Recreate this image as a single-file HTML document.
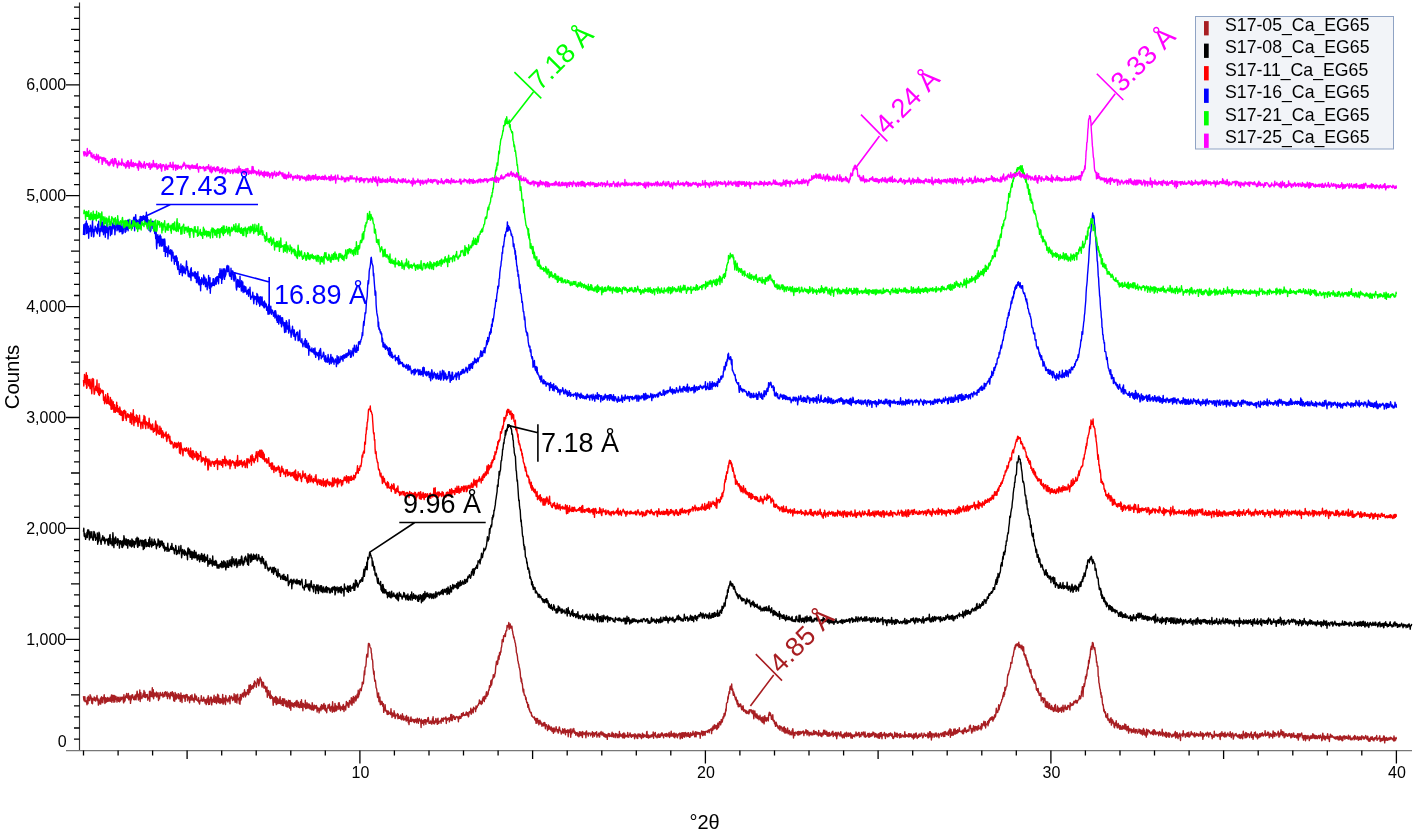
<!DOCTYPE html><html><head><meta charset="utf-8"><style>html,body{margin:0;padding:0;background:#fff;overflow:hidden}svg{display:block;will-change:transform}</style></head><body><svg width="1417" height="835" viewBox="0 0 1417 835">
<rect width="1417" height="835" fill="#fff"/>
<path d="M83.5,696.1 83.8,699.6 84.2,700.9 84.5,700.3 84.9,696.7 85.2,701.7 85.6,700.8 85.9,700.9 86.3,701.0 86.6,701.9 87.0,704.7 87.3,697.8 87.6,699.4 88.0,703.6 88.3,696.1 88.7,700.2 89.0,697.7 89.4,699.4 89.7,700.6 90.1,694.8 90.4,697.1 90.8,696.1 91.1,699.0 91.4,697.9 91.8,703.2 92.1,698.1 92.5,703.7 92.8,698.6 93.2,700.3 93.5,699.7 93.9,699.6 94.2,696.9 94.6,700.4 94.9,700.5 95.2,700.2 95.6,701.1 95.9,697.6 96.3,698.9 96.6,698.0 97.0,695.5 97.3,700.5 97.7,698.1 98.0,699.4 98.4,705.1 98.7,700.2 99.0,699.9 99.4,702.2 99.7,702.6 100.1,704.0 100.4,698.3 100.8,704.0 101.1,699.3 101.5,696.8 101.8,697.3 102.2,702.3 102.5,701.5 102.8,702.7 103.2,697.4 103.5,698.8 103.9,696.7 104.2,694.8 104.6,699.6 104.9,703.5 105.3,702.3 105.6,697.7 106.0,702.4 106.3,698.2 106.6,700.4 107.0,701.6 107.3,698.6 107.7,697.4 108.0,701.2 108.4,699.2 108.7,698.3 109.1,701.1 109.4,699.1 109.8,700.5 110.1,697.2 110.4,701.3 110.8,697.2 111.1,698.6 111.5,694.9 111.8,702.3 112.2,699.6 112.5,700.5 112.9,695.2 113.2,699.7 113.6,698.3 113.9,702.2 114.2,695.4 114.6,700.0 114.9,701.7 115.3,696.2 115.6,699.3 116.0,696.4 116.3,699.1 116.7,699.7 117.0,702.1 117.4,699.3 117.7,697.1 118.1,700.2 118.4,698.7 118.7,701.3 119.1,697.1 119.4,701.8 119.8,698.9 120.1,699.1 120.5,700.9 120.8,697.1 121.2,697.1 121.5,699.5 121.9,698.0 122.2,698.3 122.5,697.2 122.9,697.4 123.2,700.2 123.6,702.9 123.9,694.6 124.3,701.7 124.6,699.7 125.0,700.8 125.3,698.2 125.7,695.9 126.0,697.2 126.3,695.3 126.7,693.4 127.0,697.3 127.4,698.1 127.7,696.7 128.1,697.8 128.4,693.5 128.8,699.9 129.1,696.8 129.5,697.2 129.8,698.8 130.1,695.6 130.5,703.4 130.8,700.0 131.2,699.9 131.5,697.2 131.9,695.0 132.2,697.9 132.6,694.8 132.9,697.2 133.3,697.1 133.6,699.5 133.9,697.5 134.3,696.7 134.6,699.8 135.0,696.0 135.3,694.9 135.7,694.9 136.0,699.8 136.4,696.2 136.7,694.6 137.1,691.2 137.4,693.4 137.7,696.7 138.1,697.4 138.4,700.0 138.8,694.1 139.1,697.1 139.5,699.0 139.8,690.0 140.2,701.5 140.5,692.8 140.9,692.8 141.2,697.9 141.5,696.6 141.9,698.5 142.2,697.1 142.6,696.2 142.9,695.1 143.3,693.4 143.6,696.8 144.0,690.5 144.3,694.8 144.7,697.2 145.0,692.3 145.3,697.3 145.7,697.6 146.0,695.3 146.4,694.7 146.7,696.4 147.1,696.6 147.4,694.4 147.8,700.2 148.1,698.8 148.5,697.5 148.8,698.5 149.1,698.2 149.5,691.4 149.8,701.3 150.2,691.3 150.5,695.4 150.9,692.1 151.2,696.5 151.6,696.0 151.9,695.5 152.3,687.7 152.6,696.9 152.9,695.6 153.3,689.7 153.6,698.7 154.0,694.5 154.3,693.0 154.7,696.0 155.0,693.6 155.4,695.9 155.7,694.0 156.1,692.7 156.4,692.1 156.7,697.0 157.1,695.3 157.4,693.1 157.8,693.6 158.1,692.8 158.5,700.5 158.8,696.0 159.2,695.5 159.5,698.9 159.9,693.5 160.2,692.4 160.5,693.9 160.9,695.6 161.2,694.6 161.6,694.3 161.9,695.6 162.3,694.1 162.6,692.4 163.0,697.1 163.3,694.5 163.7,694.5 164.0,696.5 164.3,696.3 164.7,692.4 165.0,693.4 165.4,691.7 165.7,692.3 166.1,696.1 166.4,694.1 166.8,693.0 167.1,692.0 167.5,698.6 167.8,694.4 168.1,696.0 168.5,695.3 168.8,693.1 169.2,696.6 169.5,695.9 169.9,698.9 170.2,697.1 170.6,692.5 170.9,695.4 171.3,695.5 171.6,695.6 171.9,692.7 172.3,691.6 172.6,695.6 173.0,696.8 173.3,693.0 173.7,700.7 174.0,697.7 174.4,694.9 174.7,701.3 175.1,692.4 175.4,693.7 175.7,693.6 176.1,699.3 176.4,694.5 176.8,698.3 177.1,697.1 177.5,695.1 177.8,696.9 178.2,693.7 178.5,698.7 178.9,694.2 179.2,694.6 179.5,698.5 179.9,695.6 180.2,701.5 180.6,700.4 180.9,692.9 181.3,697.4 181.6,696.7 182.0,702.5 182.3,695.8 182.7,695.7 183.0,696.8 183.3,696.8 183.7,695.2 184.0,698.1 184.4,696.2 184.7,695.5 185.1,701.4 185.4,698.1 185.8,695.2 186.1,694.4 186.5,697.1 186.8,694.9 187.2,694.8 187.5,700.8 187.8,697.7 188.2,696.8 188.5,698.7 188.9,696.9 189.2,698.5 189.6,702.8 189.9,698.4 190.3,697.0 190.6,695.7 191.0,700.1 191.3,698.2 191.6,699.7 192.0,694.8 192.3,697.8 192.7,699.1 193.0,700.2 193.4,699.5 193.7,698.3 194.1,702.1 194.4,699.0 194.8,694.0 195.1,696.0 195.4,699.0 195.8,699.8 196.1,696.0 196.5,696.4 196.8,700.3 197.2,700.0 197.5,700.4 197.9,701.2 198.2,699.7 198.6,697.7 198.9,702.8 199.2,702.2 199.6,704.0 199.9,701.0 200.3,700.2 200.6,700.5 201.0,700.8 201.3,695.6 201.7,699.8 202.0,699.3 202.4,701.2 202.7,701.0 203.0,699.5 203.4,699.3 203.7,697.1 204.1,701.1 204.4,699.3 204.8,699.6 205.1,703.1 205.5,703.0 205.8,699.7 206.2,704.6 206.5,702.2 206.8,700.6 207.2,698.2 207.5,698.2 207.9,702.7 208.2,695.6 208.6,704.5 208.9,702.0 209.3,699.5 209.6,704.2 210.0,700.9 210.3,697.2 210.6,698.6 211.0,697.6 211.3,697.3 211.7,704.9 212.0,700.4 212.4,699.7 212.7,702.1 213.1,701.5 213.4,698.4 213.8,697.6 214.1,695.3 214.4,702.3 214.8,699.4 215.1,702.2 215.5,700.1 215.8,696.7 216.2,698.5 216.5,703.6 216.9,698.5 217.2,701.2 217.6,694.2 217.9,698.0 218.2,702.3 218.6,695.3 218.9,702.6 219.3,698.8 219.6,698.5 220.0,703.5 220.3,698.7 220.7,702.7 221.0,699.0 221.4,700.9 221.7,702.6 222.0,702.7 222.4,699.4 222.7,694.4 223.1,704.2 223.4,698.6 223.8,703.1 224.1,697.9 224.5,698.8 224.8,700.1 225.2,699.7 225.5,704.6 225.8,695.5 226.2,698.4 226.5,700.3 226.9,700.7 227.2,699.7 227.6,700.0 227.9,702.0 228.3,698.1 228.6,698.0 229.0,699.0 229.3,701.0 229.6,695.7 230.0,703.8 230.3,698.2 230.7,697.5 231.0,698.1 231.4,696.2 231.7,696.6 232.1,698.0 232.4,699.9 232.8,700.5 233.1,697.7 233.4,697.8 233.8,699.6 234.1,693.8 234.5,698.0 234.8,700.9 235.2,702.4 235.5,697.7 235.9,694.8 236.2,696.6 236.6,701.1 236.9,703.0 237.2,697.5 237.6,694.1 237.9,698.1 238.3,699.6 238.6,699.8 239.0,698.4 239.3,703.5 239.7,697.3 240.0,704.2 240.4,694.4 240.7,700.6 241.0,699.6 241.4,698.7 241.7,694.6 242.1,696.0 242.4,693.3 242.8,696.1 243.1,696.6 243.5,697.1 243.8,692.5 244.2,693.5 244.5,689.7 244.8,695.0 245.2,692.0 245.5,696.9 245.9,692.7 246.2,695.1 246.6,692.6 246.9,693.2 247.3,692.4 247.6,689.6 248.0,694.4 248.3,689.8 248.6,694.8 249.0,685.1 249.3,689.6 249.7,692.5 250.0,692.2 250.4,684.8 250.7,689.7 251.1,689.3 251.4,689.1 251.8,687.0 252.1,685.6 252.4,687.6 252.8,688.0 253.1,688.6 253.5,685.6 253.8,683.3 254.2,686.7 254.5,681.0 254.9,682.3 255.2,682.0 255.6,683.2 255.9,683.3 256.3,687.3 256.6,683.7 256.9,684.2 257.3,680.5 257.6,678.6 258.0,680.1 258.3,679.6 258.7,685.8 259.0,684.2 259.4,682.7 259.7,680.3 260.1,677.3 260.4,679.8 260.7,679.2 261.1,679.1 261.4,682.3 261.8,685.9 262.1,687.1 262.5,682.0 262.8,683.3 263.2,684.4 263.5,682.5 263.9,688.0 264.2,686.7 264.5,686.3 264.9,688.1 265.2,686.2 265.6,687.4 265.9,691.7 266.3,691.7 266.6,690.3 267.0,687.0 267.3,697.2 267.7,692.8 268.0,694.6 268.3,690.4 268.7,694.8 269.0,695.3 269.4,695.1 269.7,697.7 270.1,691.0 270.4,698.6 270.8,695.1 271.1,695.2 271.5,696.7 271.8,698.2 272.1,697.9 272.5,696.8 272.8,699.5 273.2,705.2 273.5,700.2 273.9,697.9 274.2,702.0 274.6,701.4 274.9,697.5 275.3,702.6 275.6,696.4 275.9,701.1 276.3,704.6 276.6,697.3 277.0,699.2 277.3,698.5 277.7,703.8 278.0,699.0 278.4,700.6 278.7,701.9 279.1,703.4 279.4,702.9 279.7,699.0 280.1,696.6 280.4,703.8 280.8,701.8 281.1,703.3 281.5,700.4 281.8,702.0 282.2,705.4 282.5,698.7 282.9,701.9 283.2,698.7 283.5,705.7 283.9,703.0 284.2,700.4 284.6,698.9 284.9,703.1 285.3,703.3 285.6,702.6 286.0,706.3 286.3,700.8 286.7,705.1 287.0,706.9 287.3,702.0 287.7,705.5 288.0,707.1 288.4,700.3 288.7,702.1 289.1,700.6 289.4,704.9 289.8,708.2 290.1,700.5 290.5,703.9 290.8,710.2 291.1,702.5 291.5,705.5 291.8,705.4 292.2,702.9 292.5,706.3 292.9,705.0 293.2,704.0 293.6,703.6 293.9,707.3 294.3,704.7 294.6,702.6 294.9,703.2 295.3,705.2 295.6,705.5 296.0,701.2 296.3,706.7 296.7,701.8 297.0,700.4 297.4,703.9 297.7,705.5 298.1,707.1 298.4,702.1 298.7,704.0 299.1,707.4 299.4,704.9 299.8,707.7 300.1,706.6 300.5,701.7 300.8,703.3 301.2,707.3 301.5,699.7 301.9,707.3 302.2,705.0 302.5,703.4 302.9,710.8 303.2,703.5 303.6,704.1 303.9,705.0 304.3,705.0 304.6,707.1 305.0,706.8 305.3,700.3 305.7,708.7 306.0,708.6 306.3,708.3 306.7,707.3 307.0,702.6 307.4,708.0 307.7,705.2 308.1,703.9 308.4,706.5 308.8,708.0 309.1,704.2 309.5,704.1 309.8,708.0 310.1,709.0 310.5,705.4 310.8,707.2 311.2,706.8 311.5,709.9 311.9,707.5 312.2,702.7 312.6,705.0 312.9,709.8 313.3,710.2 313.6,710.1 313.9,706.6 314.3,705.1 314.6,708.9 315.0,707.0 315.3,706.7 315.7,705.8 316.0,708.2 316.4,705.4 316.7,706.6 317.1,712.0 317.4,707.4 317.7,710.5 318.1,708.2 318.4,708.7 318.8,708.2 319.1,712.9 319.5,708.7 319.8,708.5 320.2,708.3 320.5,706.8 320.9,710.7 321.2,706.2 321.5,704.6 321.9,708.7 322.2,709.1 322.6,705.4 322.9,708.8 323.3,708.2 323.6,704.5 324.0,703.4 324.3,709.0 324.7,708.3 325.0,710.2 325.4,705.2 325.7,711.0 326.0,708.6 326.4,709.3 326.7,712.7 327.1,708.3 327.4,707.9 327.8,707.3 328.1,705.0 328.5,708.1 328.8,705.0 329.2,705.9 329.5,704.2 329.8,710.1 330.2,708.0 330.5,711.1 330.9,707.0 331.2,707.4 331.6,706.6 331.9,706.1 332.3,712.2 332.6,701.8 333.0,711.1 333.3,710.9 333.6,707.2 334.0,708.5 334.3,711.7 334.7,708.2 335.0,703.4 335.4,706.5 335.7,711.0 336.1,705.8 336.4,710.8 336.8,707.0 337.1,709.7 337.4,706.8 337.8,706.4 338.1,707.2 338.5,703.0 338.8,709.2 339.2,702.8 339.5,707.6 339.9,705.2 340.2,708.5 340.6,710.5 340.9,707.6 341.2,706.8 341.6,708.0 341.9,708.4 342.3,709.2 342.6,705.9 343.0,709.6 343.3,704.4 343.7,706.2 344.0,711.5 344.4,706.7 344.7,707.7 345.0,706.8 345.4,706.3 345.7,710.0 346.1,705.3 346.4,701.4 346.8,704.3 347.1,705.0 347.5,703.1 347.8,702.8 348.2,706.9 348.5,705.0 348.8,707.3 349.2,703.9 349.5,700.5 349.9,702.4 350.2,702.0 350.6,701.7 350.9,704.0 351.3,697.8 351.6,701.4 352.0,705.2 352.3,698.5 352.6,702.7 353.0,700.7 353.3,696.5 353.7,697.9 354.0,703.0 354.4,697.9 354.7,699.4 355.1,698.7 355.4,695.9 355.8,701.0 356.1,700.1 356.4,698.5 356.8,696.7 357.1,694.7 357.5,693.9 357.8,697.9 358.2,690.2 358.5,696.9 358.9,694.7 359.2,694.4 359.6,692.5 359.9,689.4 360.2,688.8 360.6,689.6 360.9,689.9 361.3,690.7 361.6,687.3 362.0,686.6 362.3,682.1 362.7,684.5 363.0,682.1 363.4,683.4 363.7,679.6 364.0,675.5 364.4,670.8 364.7,674.8 365.1,666.9 365.4,667.3 365.8,666.4 366.1,663.5 366.5,656.8 366.8,654.5 367.2,656.9 367.5,653.7 367.8,657.0 368.2,646.7 368.5,643.4 368.9,643.5 369.2,643.7 369.6,644.7 369.9,646.7 370.3,647.7 370.6,647.8 371.0,648.5 371.3,652.9 371.6,653.5 372.0,659.2 372.3,659.1 372.7,661.2 373.0,667.9 373.4,670.7 373.7,674.2 374.1,671.2 374.4,677.9 374.8,681.2 375.1,680.9 375.4,680.4 375.8,684.2 376.1,687.7 376.5,688.4 376.8,690.0 377.2,693.5 377.5,697.1 377.9,697.6 378.2,693.4 378.6,693.0 378.9,701.4 379.2,701.8 379.6,699.5 379.9,697.0 380.3,704.7 380.6,701.1 381.0,701.1 381.3,703.1 381.7,704.4 382.0,701.4 382.4,702.6 382.7,705.9 383.0,706.5 383.4,703.6 383.7,712.4 384.1,710.3 384.4,709.4 384.8,710.0 385.1,704.6 385.5,709.6 385.8,711.0 386.2,710.4 386.5,711.3 386.8,712.1 387.2,714.5 387.5,713.8 387.9,710.7 388.2,714.4 388.6,711.4 388.9,713.1 389.3,713.5 389.6,713.0 390.0,712.9 390.3,714.1 390.6,714.4 391.0,708.7 391.3,713.8 391.7,712.5 392.0,717.5 392.4,714.8 392.7,713.1 393.1,715.7 393.4,715.2 393.8,716.2 394.1,710.8 394.5,714.5 394.8,713.3 395.1,718.5 395.5,717.2 395.8,715.2 396.2,715.6 396.5,715.7 396.9,715.0 397.2,714.2 397.6,713.6 397.9,718.7 398.3,714.4 398.6,717.5 398.9,718.4 399.3,717.9 399.6,716.8 400.0,718.2 400.3,715.9 400.7,715.1 401.0,719.2 401.4,718.7 401.7,719.8 402.1,717.6 402.4,713.7 402.7,716.8 403.1,716.5 403.4,720.0 403.8,716.3 404.1,720.0 404.5,718.7 404.8,718.9 405.2,719.0 405.5,719.8 405.9,716.4 406.2,721.1 406.5,715.5 406.9,717.4 407.2,717.4 407.6,720.5 407.9,717.4 408.3,722.7 408.6,717.2 409.0,724.6 409.3,720.6 409.7,721.2 410.0,720.2 410.3,721.3 410.7,718.1 411.0,716.9 411.4,721.5 411.7,721.1 412.1,719.5 412.4,719.3 412.8,719.6 413.1,720.3 413.5,721.8 413.8,719.4 414.1,720.8 414.5,722.6 414.8,719.8 415.2,721.4 415.5,719.1 415.9,720.4 416.2,719.8 416.6,722.8 416.9,719.7 417.3,718.2 417.6,721.0 417.9,719.5 418.3,723.3 418.6,721.4 419.0,719.8 419.3,718.5 419.7,720.7 420.0,720.3 420.4,720.5 420.7,721.0 421.1,727.5 421.4,719.3 421.7,721.3 422.1,722.5 422.4,723.3 422.8,720.7 423.1,721.5 423.5,720.5 423.8,725.0 424.2,719.8 424.5,721.6 424.9,719.6 425.2,722.5 425.5,719.7 425.9,724.2 426.2,720.0 426.6,720.9 426.9,721.0 427.3,721.8 427.6,719.9 428.0,717.7 428.3,717.5 428.7,720.7 429.0,723.3 429.3,723.3 429.7,722.1 430.0,723.2 430.4,721.2 430.7,721.0 431.1,722.3 431.4,724.0 431.8,724.1 432.1,722.2 432.5,718.7 432.8,720.2 433.1,716.7 433.5,723.4 433.8,721.2 434.2,723.9 434.5,723.9 434.9,721.0 435.2,722.6 435.6,721.2 435.9,718.4 436.3,722.1 436.6,721.6 436.9,721.7 437.3,724.4 437.6,719.4 438.0,718.2 438.3,723.0 438.7,723.5 439.0,722.3 439.4,721.3 439.7,721.6 440.1,721.5 440.4,721.2 440.7,720.3 441.1,723.2 441.4,719.7 441.8,718.2 442.1,720.7 442.5,719.2 442.8,718.7 443.2,721.5 443.5,718.0 443.9,718.3 444.2,718.9 444.5,718.3 444.9,719.1 445.2,719.1 445.6,717.2 445.9,716.9 446.3,723.5 446.6,719.8 447.0,718.5 447.3,720.2 447.7,719.5 448.0,719.2 448.3,718.1 448.7,718.2 449.0,717.8 449.4,721.9 449.7,717.9 450.1,719.3 450.4,719.3 450.8,714.5 451.1,720.3 451.5,718.4 451.8,714.4 452.1,720.7 452.5,719.6 452.8,718.2 453.2,716.3 453.5,715.7 453.9,717.1 454.2,716.5 454.6,719.3 454.9,718.5 455.3,719.4 455.6,717.6 455.9,716.9 456.3,716.7 456.6,716.5 457.0,716.8 457.3,717.7 457.7,717.4 458.0,716.9 458.4,721.7 458.7,717.1 459.1,717.5 459.4,716.3 459.7,718.6 460.1,718.3 460.4,716.7 460.8,718.4 461.1,717.6 461.5,713.7 461.8,713.6 462.2,714.1 462.5,716.1 462.9,714.3 463.2,712.5 463.6,714.3 463.9,715.4 464.2,715.1 464.6,715.4 464.9,714.7 465.3,715.3 465.6,714.4 466.0,713.1 466.3,711.9 466.7,714.2 467.0,715.2 467.4,712.8 467.7,712.8 468.0,715.3 468.4,716.9 468.7,716.2 469.1,712.0 469.4,711.5 469.8,712.1 470.1,712.8 470.5,712.8 470.8,708.3 471.2,714.2 471.5,713.1 471.8,710.2 472.2,711.9 472.5,709.3 472.9,710.1 473.2,712.9 473.6,707.1 473.9,708.3 474.3,708.2 474.6,708.2 475.0,709.1 475.3,708.1 475.6,711.6 476.0,705.9 476.3,708.9 476.7,706.4 477.0,707.6 477.4,706.2 477.7,705.6 478.1,704.7 478.4,705.0 478.8,703.1 479.1,703.6 479.4,699.9 479.8,703.4 480.1,701.9 480.5,702.7 480.8,701.2 481.2,704.5 481.5,701.6 481.9,701.3 482.2,703.6 482.6,698.6 482.9,700.5 483.2,697.0 483.6,697.5 483.9,697.1 484.3,701.6 484.6,696.2 485.0,698.5 485.3,697.5 485.7,698.7 486.0,694.8 486.4,692.0 486.7,691.7 487.0,696.2 487.4,693.9 487.7,694.9 488.1,694.3 488.4,691.2 488.8,689.7 489.1,690.1 489.5,685.6 489.8,686.7 490.2,686.4 490.5,687.1 490.8,681.3 491.2,680.2 491.5,685.1 491.9,683.0 492.2,680.0 492.6,678.8 492.9,678.8 493.3,674.6 493.6,675.0 494.0,677.5 494.3,676.4 494.6,676.4 495.0,673.0 495.3,673.3 495.7,666.9 496.0,665.7 496.4,661.5 496.7,663.1 497.1,661.0 497.4,664.5 497.8,663.3 498.1,657.9 498.4,656.0 498.8,659.6 499.1,658.9 499.5,652.7 499.8,654.1 500.2,654.9 500.5,651.3 500.9,652.3 501.2,648.1 501.6,647.0 501.9,644.4 502.2,639.7 502.6,641.4 502.9,639.1 503.3,641.7 503.6,635.8 504.0,636.9 504.3,636.0 504.7,635.9 505.0,633.8 505.4,636.5 505.7,632.6 506.0,631.1 506.4,630.2 506.7,630.8 507.1,625.4 507.4,626.2 507.8,627.1 508.1,625.2 508.5,626.4 508.8,622.5 509.2,629.2 509.5,626.2 509.8,625.8 510.2,623.9 510.5,627.5 510.9,628.2 511.2,626.2 511.6,627.8 511.9,626.2 512.3,630.3 512.6,631.2 513.0,634.4 513.3,634.8 513.6,637.7 514.0,636.8 514.3,639.2 514.7,640.3 515.0,642.5 515.4,643.2 515.7,646.2 516.1,647.3 516.4,652.5 516.8,653.3 517.1,655.0 517.4,656.0 517.8,660.8 518.1,661.2 518.5,664.0 518.8,664.2 519.2,667.7 519.5,667.9 519.9,670.0 520.2,672.1 520.6,678.3 520.9,677.3 521.2,681.7 521.6,679.0 521.9,683.2 522.3,683.2 522.6,686.6 523.0,690.7 523.3,692.1 523.7,689.2 524.0,693.7 524.4,695.4 524.7,694.9 525.0,695.8 525.4,696.2 525.7,699.4 526.1,697.7 526.4,701.0 526.8,702.8 527.1,702.3 527.5,702.5 527.8,707.2 528.2,706.3 528.5,704.6 528.8,708.0 529.2,709.9 529.5,708.9 529.9,711.6 530.2,711.9 530.6,712.9 530.9,712.2 531.3,712.5 531.6,716.0 532.0,715.2 532.3,716.0 532.7,716.9 533.0,716.9 533.3,717.4 533.7,717.8 534.0,717.7 534.4,716.9 534.7,719.9 535.1,719.3 535.4,718.5 535.8,721.0 536.1,723.3 536.5,718.4 536.8,720.8 537.1,723.1 537.5,718.4 537.8,721.2 538.2,721.3 538.5,720.6 538.9,724.9 539.2,723.7 539.6,722.2 539.9,720.1 540.3,723.0 540.6,721.4 540.9,724.1 541.3,722.8 541.6,724.1 542.0,726.4 542.3,725.3 542.7,723.6 543.0,724.0 543.4,722.8 543.7,725.9 544.1,723.0 544.4,723.8 544.7,722.4 545.1,725.2 545.4,728.7 545.8,724.5 546.1,724.7 546.5,724.7 546.8,726.0 547.2,726.7 547.5,730.5 547.9,728.6 548.2,727.0 548.5,725.0 548.9,729.3 549.2,728.0 549.6,726.1 549.9,728.1 550.3,727.9 550.6,730.0 551.0,729.0 551.3,727.0 551.7,729.1 552.0,731.5 552.3,729.5 552.7,728.3 553.0,728.2 553.4,733.3 553.7,731.5 554.1,727.9 554.4,730.5 554.8,731.9 555.1,731.2 555.5,729.0 555.8,729.7 556.1,726.6 556.5,729.7 556.8,729.8 557.2,731.6 557.5,729.8 557.9,729.4 558.2,733.1 558.6,732.2 558.9,729.6 559.3,727.0 559.6,727.7 559.9,730.5 560.3,730.8 560.6,730.6 561.0,732.4 561.3,734.1 561.7,732.4 562.0,731.6 562.4,731.6 562.7,728.8 563.1,733.0 563.4,731.0 563.7,733.1 564.1,729.5 564.4,731.1 564.8,728.8 565.1,731.1 565.5,734.7 565.8,730.5 566.2,731.0 566.5,731.0 566.9,732.4 567.2,730.2 567.5,731.1 567.9,729.7 568.2,736.7 568.6,731.0 568.9,731.8 569.3,730.1 569.6,732.3 570.0,731.8 570.3,729.0 570.7,737.3 571.0,731.7 571.3,731.7 571.7,733.8 572.0,729.0 572.4,732.2 572.7,730.4 573.1,731.4 573.4,731.8 573.8,728.5 574.1,731.8 574.5,733.2 574.8,731.1 575.1,733.1 575.5,732.4 575.8,735.2 576.2,732.7 576.5,733.5 576.9,733.2 577.2,732.6 577.6,735.9 577.9,733.9 578.3,733.8 578.6,734.5 578.9,736.8 579.3,731.9 579.6,735.7 580.0,731.7 580.3,733.2 580.7,734.6 581.0,735.5 581.4,732.1 581.7,735.5 582.1,734.7 582.4,737.5 582.7,731.5 583.1,734.5 583.4,732.9 583.8,733.1 584.1,733.7 584.5,732.9 584.8,734.6 585.2,734.0 585.5,732.1 585.9,737.7 586.2,733.9 586.5,730.9 586.9,733.5 587.2,734.0 587.6,733.4 587.9,733.5 588.3,736.1 588.6,733.0 589.0,733.2 589.3,733.1 589.7,733.4 590.0,732.9 590.3,734.3 590.7,735.9 591.0,734.3 591.4,734.4 591.7,733.3 592.1,733.3 592.4,731.7 592.8,737.2 593.1,733.8 593.5,732.6 593.8,734.3 594.1,733.9 594.5,736.2 594.8,734.9 595.2,732.5 595.5,733.4 595.9,732.8 596.2,734.0 596.6,731.8 596.9,737.1 597.3,735.0 597.6,734.7 597.9,734.9 598.3,735.4 598.6,733.1 599.0,734.7 599.3,737.1 599.7,736.9 600.0,732.7 600.4,733.7 600.7,734.0 601.1,731.5 601.4,733.6 601.8,734.5 602.1,735.4 602.4,734.4 602.8,732.3 603.1,734.3 603.5,733.4 603.8,736.3 604.2,736.2 604.5,734.0 604.9,736.9 605.2,734.3 605.6,735.3 605.9,737.2 606.2,736.0 606.6,734.6 606.9,735.2 607.3,739.4 607.6,734.7 608.0,735.7 608.3,733.4 608.7,736.0 609.0,734.4 609.4,736.5 609.7,733.8 610.0,736.2 610.4,735.3 610.7,735.8 611.1,736.1 611.4,736.5 611.8,733.9 612.1,732.3 612.5,735.1 612.8,736.5 613.2,733.5 613.5,737.1 613.8,733.9 614.2,735.6 614.5,735.4 614.9,735.5 615.2,737.6 615.6,733.5 615.9,733.9 616.3,734.6 616.6,735.8 617.0,734.0 617.3,737.6 617.6,735.5 618.0,735.4 618.3,734.7 618.7,737.0 619.0,737.7 619.4,731.5 619.7,736.3 620.1,733.7 620.4,736.1 620.8,735.8 621.1,736.0 621.4,735.3 621.8,734.8 622.1,736.8 622.5,734.0 622.8,737.9 623.2,736.7 623.5,733.5 623.9,732.9 624.2,738.2 624.6,735.4 624.9,733.9 625.2,737.1 625.6,735.8 625.9,736.4 626.3,735.6 626.6,735.8 627.0,736.6 627.3,737.0 627.7,732.5 628.0,735.5 628.4,736.7 628.7,737.3 629.0,735.1 629.4,735.5 629.7,734.4 630.1,732.9 630.4,734.7 630.8,736.5 631.1,735.5 631.5,737.4 631.8,734.7 632.2,736.4 632.5,735.3 632.8,736.3 633.2,734.4 633.5,735.4 633.9,735.5 634.2,736.0 634.6,738.7 634.9,733.7 635.3,737.0 635.6,734.6 636.0,735.8 636.3,735.2 636.6,735.7 637.0,738.1 637.3,735.2 637.7,738.5 638.0,734.0 638.4,735.8 638.7,735.1 639.1,733.9 639.4,736.3 639.8,734.7 640.1,737.0 640.4,734.4 640.8,736.1 641.1,736.1 641.5,738.6 641.8,736.4 642.2,734.7 642.5,733.1 642.9,735.5 643.2,737.6 643.6,736.6 643.9,734.5 644.2,735.9 644.6,736.6 644.9,735.3 645.3,735.8 645.6,735.5 646.0,735.9 646.3,737.3 646.7,731.8 647.0,731.4 647.4,737.4 647.7,735.0 648.0,737.5 648.4,738.1 648.7,735.0 649.1,735.4 649.4,737.4 649.8,737.5 650.1,736.3 650.5,737.0 650.8,735.2 651.2,736.4 651.5,735.0 651.8,736.9 652.2,734.6 652.5,735.7 652.9,736.1 653.2,732.0 653.6,738.2 653.9,733.1 654.3,735.2 654.6,735.0 655.0,735.4 655.3,732.4 655.6,736.7 656.0,736.3 656.3,736.1 656.7,736.4 657.0,737.8 657.4,735.2 657.7,734.7 658.1,737.1 658.4,733.9 658.8,735.0 659.1,734.2 659.4,737.4 659.8,735.5 660.1,737.2 660.5,736.6 660.8,733.9 661.2,735.5 661.5,733.9 661.9,732.6 662.2,735.6 662.6,733.8 662.9,735.3 663.2,735.2 663.6,737.9 663.9,734.9 664.3,734.5 664.6,735.2 665.0,733.7 665.3,735.7 665.7,736.3 666.0,734.5 666.4,733.4 666.7,734.1 667.0,736.7 667.4,734.2 667.7,735.3 668.1,734.1 668.4,734.0 668.8,736.4 669.1,732.4 669.5,737.5 669.8,735.7 670.2,736.5 670.5,734.3 670.9,733.4 671.2,731.2 671.5,734.2 671.9,736.3 672.2,735.6 672.6,735.8 672.9,733.6 673.3,734.2 673.6,736.9 674.0,733.0 674.3,733.3 674.7,737.8 675.0,736.2 675.3,736.7 675.7,734.6 676.0,733.5 676.4,734.9 676.7,735.6 677.1,737.2 677.4,737.8 677.8,734.5 678.1,736.1 678.5,734.0 678.8,734.3 679.1,734.5 679.5,733.1 679.8,733.3 680.2,738.9 680.5,733.5 680.9,737.7 681.2,734.1 681.6,735.7 681.9,732.6 682.3,738.3 682.6,735.9 682.9,732.7 683.3,735.0 683.6,736.2 684.0,732.7 684.3,737.2 684.7,734.4 685.0,734.8 685.4,732.4 685.7,734.3 686.1,736.7 686.4,734.8 686.7,733.8 687.1,733.0 687.4,733.5 687.8,736.3 688.1,734.3 688.5,732.8 688.8,736.4 689.2,734.5 689.5,737.2 689.9,737.3 690.2,734.8 690.5,732.6 690.9,733.3 691.2,735.8 691.6,735.5 691.9,734.0 692.3,735.4 692.6,734.2 693.0,731.3 693.3,734.9 693.7,733.7 694.0,734.0 694.3,733.1 694.7,736.7 695.0,734.0 695.4,731.8 695.7,733.4 696.1,736.8 696.4,733.0 696.8,732.0 697.1,733.7 697.5,734.1 697.8,734.1 698.1,732.4 698.5,732.9 698.8,732.8 699.2,734.4 699.5,732.8 699.9,734.0 700.2,738.3 700.6,733.4 700.9,733.2 701.3,733.0 701.6,731.0 701.9,734.3 702.3,731.5 702.6,735.6 703.0,731.6 703.3,735.1 703.7,731.5 704.0,733.7 704.4,731.8 704.7,734.6 705.1,735.3 705.4,731.9 705.7,731.6 706.1,731.2 706.4,731.4 706.8,731.7 707.1,732.1 707.5,732.4 707.8,730.5 708.2,731.2 708.5,730.6 708.9,729.8 709.2,732.7 709.5,729.8 709.9,730.1 710.2,730.0 710.6,729.8 710.9,728.8 711.3,729.7 711.6,733.6 712.0,728.1 712.3,727.8 712.7,730.4 713.0,726.1 713.3,729.2 713.7,726.7 714.0,726.1 714.4,724.8 714.7,728.7 715.1,725.1 715.4,727.3 715.8,726.1 716.1,728.1 716.5,725.5 716.8,729.5 717.1,727.5 717.5,728.5 717.8,723.3 718.2,726.2 718.5,727.5 718.9,726.3 719.2,722.3 719.6,721.7 719.9,722.6 720.3,722.3 720.6,724.9 720.9,723.5 721.3,719.4 721.6,722.6 722.0,722.2 722.3,721.8 722.7,719.4 723.0,717.4 723.4,716.2 723.7,718.0 724.1,713.5 724.4,713.5 724.7,716.1 725.1,714.9 725.4,712.7 725.8,708.9 726.1,710.9 726.5,703.4 726.8,702.9 727.2,702.7 727.5,702.3 727.9,696.7 728.2,699.0 728.5,695.3 728.9,693.6 729.2,691.4 729.6,693.4 729.9,688.4 730.3,686.2 730.6,689.1 731.0,689.3 731.3,688.6 731.7,684.0 732.0,690.2 732.3,689.2 732.7,689.0 733.0,693.2 733.4,695.4 733.7,692.0 734.1,694.8 734.4,694.2 734.8,696.9 735.1,697.4 735.5,699.7 735.8,698.3 736.1,697.2 736.5,701.4 736.8,701.8 737.2,704.2 737.5,700.3 737.9,703.1 738.2,706.8 738.6,703.7 738.9,706.1 739.3,705.7 739.6,706.5 740.0,704.5 740.3,704.1 740.6,703.9 741.0,705.4 741.3,708.1 741.7,709.7 742.0,706.7 742.4,708.6 742.7,709.9 743.1,705.7 743.4,708.5 743.8,711.4 744.1,710.2 744.4,709.8 744.8,710.5 745.1,710.1 745.5,712.7 745.8,711.5 746.2,710.6 746.5,713.2 746.9,713.6 747.2,712.3 747.6,712.9 747.9,711.3 748.2,711.3 748.6,713.3 748.9,713.9 749.3,709.8 749.6,712.5 750.0,711.3 750.3,710.7 750.7,709.9 751.0,709.7 751.4,710.0 751.7,712.3 752.0,712.7 752.4,713.6 752.7,711.1 753.1,710.3 753.4,712.2 753.8,718.8 754.1,712.4 754.5,711.4 754.8,710.9 755.2,714.4 755.5,716.8 755.8,714.0 756.2,717.9 756.5,714.1 756.9,713.9 757.2,715.4 757.6,718.6 757.9,716.0 758.3,716.0 758.6,717.2 759.0,719.9 759.3,718.7 759.6,718.8 760.0,715.3 760.3,718.3 760.7,719.8 761.0,720.7 761.4,721.1 761.7,717.5 762.1,722.1 762.4,718.8 762.8,722.6 763.1,716.6 763.4,721.4 763.8,720.3 764.1,723.9 764.5,719.8 764.8,715.7 765.2,720.5 765.5,718.5 765.9,717.7 766.2,721.2 766.6,719.8 766.9,718.4 767.2,717.8 767.6,718.0 767.9,720.1 768.3,720.9 768.6,715.3 769.0,713.6 769.3,712.3 769.7,713.3 770.0,715.3 770.4,713.0 770.7,715.0 771.0,715.0 771.4,719.3 771.7,716.3 772.1,717.8 772.4,719.3 772.8,714.7 773.1,720.6 773.5,720.0 773.8,721.4 774.2,720.5 774.5,723.8 774.8,721.8 775.2,723.4 775.5,726.4 775.9,726.4 776.2,722.3 776.6,723.9 776.9,725.3 777.3,725.2 777.6,726.1 778.0,728.0 778.3,728.0 778.6,728.1 779.0,729.0 779.3,725.6 779.7,727.0 780.0,730.2 780.4,726.6 780.7,726.2 781.1,727.8 781.4,726.8 781.8,728.3 782.1,731.2 782.4,729.5 782.8,729.5 783.1,727.9 783.5,727.4 783.8,731.9 784.2,726.7 784.5,728.3 784.9,733.1 785.2,730.4 785.6,728.5 785.9,732.9 786.2,730.2 786.6,731.0 786.9,732.9 787.3,730.2 787.6,728.0 788.0,731.4 788.3,733.9 788.7,732.3 789.0,732.4 789.4,730.4 789.7,732.4 790.0,734.8 790.4,734.2 790.7,731.9 791.1,734.2 791.4,731.9 791.8,734.9 792.1,730.2 792.5,732.8 792.8,728.7 793.2,732.1 793.5,738.0 793.8,732.4 794.2,735.4 794.5,733.8 794.9,735.5 795.2,732.1 795.6,732.2 795.9,732.9 796.3,733.2 796.6,733.1 797.0,733.9 797.3,731.7 797.6,734.2 798.0,735.3 798.3,731.7 798.7,731.4 799.0,734.5 799.4,733.4 799.7,734.6 800.1,731.4 800.4,732.4 800.8,733.9 801.1,732.0 801.4,733.6 801.8,733.2 802.1,731.7 802.5,732.5 802.8,731.4 803.2,730.9 803.5,731.8 803.9,735.6 804.2,732.9 804.6,733.5 804.9,732.0 805.2,732.2 805.6,732.9 805.9,729.8 806.3,730.3 806.6,731.0 807.0,735.0 807.3,734.0 807.7,730.7 808.0,731.7 808.4,733.9 808.7,732.3 809.1,735.9 809.4,733.7 809.7,732.4 810.1,733.5 810.4,734.6 810.8,733.6 811.1,732.3 811.5,734.8 811.8,734.9 812.2,733.5 812.5,734.9 812.9,734.9 813.2,734.4 813.5,730.9 813.9,730.4 814.2,733.5 814.6,734.4 814.9,733.1 815.3,731.7 815.6,733.8 816.0,731.6 816.3,732.0 816.7,733.3 817.0,734.5 817.3,734.5 817.7,732.9 818.0,733.3 818.4,735.9 818.7,730.4 819.1,733.9 819.4,734.5 819.8,735.1 820.1,733.6 820.5,732.9 820.8,736.0 821.1,733.1 821.5,733.6 821.8,736.6 822.2,734.2 822.5,733.2 822.9,732.8 823.2,735.0 823.6,730.2 823.9,732.8 824.3,733.7 824.6,734.1 824.9,730.3 825.3,733.0 825.6,734.4 826.0,732.0 826.3,732.3 826.7,731.1 827.0,735.9 827.4,736.1 827.7,736.1 828.1,732.7 828.4,734.0 828.7,734.8 829.1,736.2 829.4,732.5 829.8,735.5 830.1,734.7 830.5,735.6 830.8,735.5 831.2,733.2 831.5,734.7 831.9,733.3 832.2,731.8 832.5,734.5 832.9,731.3 833.2,736.6 833.6,735.4 833.9,733.5 834.3,735.2 834.6,733.7 835.0,734.5 835.3,732.6 835.7,736.0 836.0,732.3 836.3,732.9 836.7,738.8 837.0,735.6 837.4,733.1 837.7,735.7 838.1,732.3 838.4,734.2 838.8,733.0 839.1,733.3 839.5,734.4 839.8,735.4 840.1,736.2 840.5,734.2 840.8,731.7 841.2,735.0 841.5,734.8 841.9,736.8 842.2,735.2 842.6,737.8 842.9,736.5 843.3,734.4 843.6,735.5 843.9,734.8 844.3,737.9 844.6,733.1 845.0,734.5 845.3,735.9 845.7,733.1 846.0,736.4 846.4,732.2 846.7,736.8 847.1,735.5 847.4,734.6 847.7,734.9 848.1,733.0 848.4,736.4 848.8,736.3 849.1,733.1 849.5,735.6 849.8,734.9 850.2,735.0 850.5,733.0 850.9,738.0 851.2,736.9 851.5,734.3 851.9,735.3 852.2,738.3 852.6,735.2 852.9,735.0 853.3,736.0 853.6,736.4 854.0,735.1 854.3,735.4 854.7,736.9 855.0,734.5 855.3,734.2 855.7,735.3 856.0,731.9 856.4,733.4 856.7,735.8 857.1,733.8 857.4,735.6 857.8,734.6 858.1,735.1 858.5,732.6 858.8,732.5 859.1,732.4 859.5,737.1 859.8,734.5 860.2,735.4 860.5,736.4 860.9,736.5 861.2,734.1 861.6,732.5 861.9,733.9 862.3,734.7 862.6,734.4 862.9,734.9 863.3,731.9 863.6,734.0 864.0,733.1 864.3,736.8 864.7,733.4 865.0,732.0 865.4,735.7 865.7,737.2 866.1,736.5 866.4,736.4 866.7,736.1 867.1,735.2 867.4,734.9 867.8,733.4 868.1,735.6 868.5,737.0 868.8,736.7 869.2,733.1 869.5,737.0 869.9,734.8 870.2,735.9 870.5,736.4 870.9,733.6 871.2,734.8 871.6,736.1 871.9,733.5 872.3,734.3 872.6,735.6 873.0,732.0 873.3,732.5 873.7,734.2 874.0,732.8 874.3,733.9 874.7,737.1 875.0,735.7 875.4,736.5 875.7,733.4 876.1,736.4 876.4,734.9 876.8,737.1 877.1,734.2 877.5,735.6 877.8,735.9 878.2,738.1 878.5,736.0 878.8,733.7 879.2,735.5 879.5,738.2 879.9,734.0 880.2,732.7 880.6,734.1 880.9,736.5 881.3,732.4 881.6,733.4 882.0,738.8 882.3,734.6 882.6,734.7 883.0,735.5 883.3,735.4 883.7,734.0 884.0,734.6 884.4,732.4 884.7,735.9 885.1,735.4 885.4,738.5 885.8,733.9 886.1,734.3 886.4,734.0 886.8,734.6 887.1,736.1 887.5,736.8 887.8,734.4 888.2,734.9 888.5,734.0 888.9,736.6 889.2,733.4 889.6,733.8 889.9,734.9 890.2,735.2 890.6,733.0 890.9,734.2 891.3,734.7 891.6,736.0 892.0,734.0 892.3,734.1 892.7,738.1 893.0,736.7 893.4,738.5 893.7,737.9 894.0,736.2 894.4,736.7 894.7,732.3 895.1,733.2 895.4,734.7 895.8,736.6 896.1,735.4 896.5,734.2 896.8,733.2 897.2,737.4 897.5,733.4 897.8,735.5 898.2,735.3 898.5,734.7 898.9,735.5 899.2,735.6 899.6,737.8 899.9,733.8 900.3,734.8 900.6,733.6 901.0,737.5 901.3,736.5 901.6,735.8 902.0,735.6 902.3,735.0 902.7,736.0 903.0,736.8 903.4,736.6 903.7,735.5 904.1,736.9 904.4,735.4 904.8,731.8 905.1,737.3 905.4,734.8 905.8,734.6 906.1,736.4 906.5,735.5 906.8,735.0 907.2,735.4 907.5,736.6 907.9,735.7 908.2,735.4 908.6,733.7 908.9,737.1 909.2,733.7 909.6,734.4 909.9,736.3 910.3,734.9 910.6,736.2 911.0,733.7 911.3,735.3 911.7,736.7 912.0,737.5 912.4,735.1 912.7,735.9 913.0,736.3 913.4,739.0 913.7,734.0 914.1,738.1 914.4,734.2 914.8,736.1 915.1,737.3 915.5,733.5 915.8,736.5 916.2,732.9 916.5,736.6 916.8,735.8 917.2,738.5 917.5,736.0 917.9,736.4 918.2,735.2 918.6,737.4 918.9,734.6 919.3,734.0 919.6,735.4 920.0,736.4 920.3,736.4 920.6,735.4 921.0,734.8 921.3,733.1 921.7,733.2 922.0,735.3 922.4,736.5 922.7,737.8 923.1,737.1 923.4,736.6 923.8,734.9 924.1,733.3 924.4,735.0 924.8,734.4 925.1,734.5 925.5,736.4 925.8,734.6 926.2,734.7 926.5,735.5 926.9,735.8 927.2,735.6 927.6,737.1 927.9,733.0 928.2,738.0 928.6,734.7 928.9,733.6 929.3,737.0 929.6,731.8 930.0,735.5 930.3,731.7 930.7,736.9 931.0,734.1 931.4,740.0 931.7,733.2 932.0,737.7 932.4,734.7 932.7,734.8 933.1,734.0 933.4,733.9 933.8,734.4 934.1,737.3 934.5,736.1 934.8,736.0 935.2,733.2 935.5,735.1 935.8,736.0 936.2,733.0 936.5,736.1 936.9,736.9 937.2,735.3 937.6,734.9 937.9,735.6 938.3,733.5 938.6,736.4 939.0,737.8 939.3,734.5 939.6,735.1 940.0,733.9 940.3,733.9 940.7,733.7 941.0,733.2 941.4,736.2 941.7,734.0 942.1,734.2 942.4,734.6 942.8,732.8 943.1,736.0 943.4,735.8 943.8,736.6 944.1,731.9 944.5,734.6 944.8,736.4 945.2,731.4 945.5,733.2 945.9,732.1 946.2,734.1 946.6,734.5 946.9,734.1 947.3,733.0 947.6,734.4 947.9,732.0 948.3,735.4 948.6,733.3 949.0,730.1 949.3,733.0 949.7,733.8 950.0,728.8 950.4,737.2 950.7,731.8 951.1,729.7 951.4,734.6 951.7,735.3 952.1,734.4 952.4,733.0 952.8,732.1 953.1,735.4 953.5,733.5 953.8,729.2 954.2,734.0 954.5,734.1 954.9,728.9 955.2,729.1 955.5,734.0 955.9,731.6 956.2,730.7 956.6,730.8 956.9,733.5 957.3,731.1 957.6,729.6 958.0,732.5 958.3,731.2 958.7,731.6 959.0,731.5 959.3,727.8 959.7,731.3 960.0,731.1 960.4,731.7 960.7,731.6 961.1,731.5 961.4,731.1 961.8,732.3 962.1,731.1 962.5,733.6 962.8,730.1 963.1,730.0 963.5,733.7 963.8,731.3 964.2,730.4 964.5,728.2 964.9,731.2 965.2,728.0 965.6,729.3 965.9,730.0 966.3,732.5 966.6,731.9 966.9,730.7 967.3,731.2 967.6,729.9 968.0,731.3 968.3,730.0 968.7,730.9 969.0,730.8 969.4,726.1 969.7,726.8 970.1,725.2 970.4,725.4 970.7,728.7 971.1,729.1 971.4,731.3 971.8,733.1 972.1,728.4 972.5,731.4 972.8,731.5 973.2,730.1 973.5,725.7 973.9,726.8 974.2,727.0 974.5,729.3 974.9,731.0 975.2,726.4 975.6,727.3 975.9,728.2 976.3,728.9 976.6,726.7 977.0,730.1 977.3,728.7 977.7,730.0 978.0,726.0 978.3,729.1 978.7,725.5 979.0,728.7 979.4,728.2 979.7,728.5 980.1,728.5 980.4,728.1 980.8,726.1 981.1,729.9 981.5,723.6 981.8,728.6 982.1,726.5 982.5,725.4 982.8,724.0 983.2,724.8 983.5,724.6 983.9,721.1 984.2,725.8 984.6,722.1 984.9,723.3 985.3,721.8 985.6,728.0 985.9,724.2 986.3,724.9 986.6,724.0 987.0,723.8 987.3,723.2 987.7,721.5 988.0,725.8 988.4,723.7 988.7,720.2 989.1,722.7 989.4,720.5 989.7,719.1 990.1,718.3 990.4,720.0 990.8,717.8 991.1,718.6 991.5,719.5 991.8,716.9 992.2,718.3 992.5,717.0 992.9,721.1 993.2,717.5 993.5,719.8 993.9,718.8 994.2,718.1 994.6,714.9 994.9,715.0 995.3,717.1 995.6,716.1 996.0,712.1 996.3,708.3 996.7,712.7 997.0,710.7 997.3,711.9 997.7,712.4 998.0,711.2 998.4,708.5 998.7,704.7 999.1,709.7 999.4,707.9 999.8,705.3 1000.1,705.4 1000.5,704.4 1000.8,703.2 1001.1,702.2 1001.5,702.0 1001.8,699.6 1002.2,699.3 1002.5,698.8 1002.9,695.7 1003.2,695.1 1003.6,692.5 1003.9,696.5 1004.3,691.9 1004.6,694.5 1004.9,687.4 1005.3,690.6 1005.6,689.6 1006.0,687.3 1006.3,686.1 1006.7,686.4 1007.0,685.2 1007.4,678.5 1007.7,675.6 1008.1,674.0 1008.4,675.0 1008.7,673.1 1009.1,671.8 1009.4,670.2 1009.8,669.6 1010.1,667.8 1010.5,667.2 1010.8,662.5 1011.2,662.9 1011.5,662.4 1011.9,663.3 1012.2,659.6 1012.5,656.6 1012.9,656.6 1013.2,655.9 1013.6,653.3 1013.9,651.4 1014.3,649.6 1014.6,647.1 1015.0,649.1 1015.3,645.2 1015.7,647.0 1016.0,644.3 1016.4,644.1 1016.7,645.3 1017.0,645.6 1017.4,644.4 1017.7,643.7 1018.1,644.2 1018.4,646.3 1018.8,642.1 1019.1,647.6 1019.5,646.5 1019.8,644.6 1020.2,647.3 1020.5,645.8 1020.8,646.2 1021.2,648.9 1021.5,648.7 1021.9,645.2 1022.2,648.2 1022.6,650.7 1022.9,646.6 1023.3,650.2 1023.6,646.9 1024.0,654.9 1024.3,653.5 1024.6,655.1 1025.0,656.2 1025.3,657.5 1025.7,654.9 1026.0,660.0 1026.4,657.8 1026.7,659.8 1027.1,665.0 1027.4,660.8 1027.8,664.4 1028.1,666.4 1028.4,663.9 1028.8,666.8 1029.1,667.7 1029.5,669.5 1029.8,671.9 1030.2,672.1 1030.5,673.0 1030.9,669.5 1031.2,673.8 1031.6,677.2 1031.9,675.6 1032.2,676.7 1032.6,679.2 1032.9,678.6 1033.3,679.6 1033.6,681.2 1034.0,679.3 1034.3,683.0 1034.7,680.3 1035.0,683.3 1035.4,681.9 1035.7,684.0 1036.0,685.1 1036.4,689.6 1036.7,690.2 1037.1,688.7 1037.4,689.2 1037.8,692.0 1038.1,688.4 1038.5,693.0 1038.8,691.6 1039.2,695.3 1039.5,695.4 1039.8,694.0 1040.2,695.7 1040.5,694.8 1040.9,692.9 1041.2,700.9 1041.6,699.1 1041.9,699.3 1042.3,697.7 1042.6,698.3 1043.0,697.7 1043.3,702.6 1043.6,698.4 1044.0,700.1 1044.3,700.2 1044.7,698.2 1045.0,699.6 1045.4,706.7 1045.7,704.4 1046.1,701.5 1046.4,702.4 1046.8,707.4 1047.1,704.5 1047.4,702.0 1047.8,702.2 1048.1,707.8 1048.5,706.5 1048.8,708.7 1049.2,705.6 1049.5,703.4 1049.9,705.8 1050.2,708.2 1050.6,709.4 1050.9,709.5 1051.2,709.3 1051.6,705.5 1051.9,709.8 1052.3,707.9 1052.6,707.5 1053.0,707.7 1053.3,711.1 1053.7,711.4 1054.0,708.7 1054.4,710.8 1054.7,705.5 1055.0,708.6 1055.4,704.4 1055.7,709.7 1056.1,711.2 1056.4,711.2 1056.8,710.9 1057.1,711.1 1057.5,706.0 1057.8,708.3 1058.2,712.4 1058.5,708.4 1058.8,708.1 1059.2,711.3 1059.5,711.2 1059.9,708.9 1060.2,708.3 1060.6,709.8 1060.9,710.9 1061.3,707.3 1061.6,712.3 1062.0,708.4 1062.3,707.6 1062.6,709.9 1063.0,705.1 1063.3,710.6 1063.7,711.8 1064.0,709.6 1064.4,707.6 1064.7,707.9 1065.1,705.2 1065.4,707.3 1065.8,708.9 1066.1,709.7 1066.4,707.2 1066.8,708.9 1067.1,709.2 1067.5,709.1 1067.8,705.5 1068.2,707.2 1068.5,705.5 1068.9,706.3 1069.2,706.2 1069.6,706.9 1069.9,709.9 1070.2,702.6 1070.6,706.1 1070.9,705.8 1071.3,703.9 1071.6,704.1 1072.0,704.3 1072.3,705.4 1072.7,703.9 1073.0,703.3 1073.4,704.8 1073.7,702.2 1074.0,701.1 1074.4,702.8 1074.7,701.5 1075.1,701.7 1075.4,702.0 1075.8,700.1 1076.1,702.8 1076.5,700.7 1076.8,702.4 1077.2,703.0 1077.5,701.5 1077.8,700.4 1078.2,700.2 1078.5,700.0 1078.9,699.5 1079.2,697.4 1079.6,695.6 1079.9,696.8 1080.3,698.8 1080.6,698.6 1081.0,696.4 1081.3,695.9 1081.6,690.9 1082.0,692.3 1082.3,686.8 1082.7,686.8 1083.0,696.6 1083.4,689.0 1083.7,687.1 1084.1,683.7 1084.4,686.3 1084.8,683.8 1085.1,682.0 1085.5,676.5 1085.8,676.8 1086.1,678.8 1086.5,674.1 1086.8,676.0 1087.2,670.3 1087.5,669.3 1087.9,666.7 1088.2,668.8 1088.6,660.5 1088.9,663.7 1089.3,661.6 1089.6,656.9 1089.9,657.9 1090.3,654.2 1090.6,649.8 1091.0,648.3 1091.3,646.4 1091.7,646.1 1092.0,649.5 1092.4,642.5 1092.7,642.8 1093.1,642.9 1093.4,645.3 1093.7,647.8 1094.1,647.4 1094.4,649.6 1094.8,647.6 1095.1,650.7 1095.5,653.9 1095.8,654.7 1096.2,657.2 1096.5,662.4 1096.9,661.8 1097.2,666.2 1097.5,666.2 1097.9,666.3 1098.2,676.3 1098.6,676.8 1098.9,682.6 1099.3,683.7 1099.6,686.7 1100.0,689.2 1100.3,689.4 1100.7,694.1 1101.0,692.4 1101.3,697.4 1101.7,695.7 1102.0,697.2 1102.4,702.4 1102.7,704.9 1103.1,704.5 1103.4,706.6 1103.8,711.1 1104.1,709.2 1104.5,712.1 1104.8,712.9 1105.1,711.6 1105.5,712.5 1105.8,717.0 1106.2,715.1 1106.5,716.3 1106.9,717.8 1107.2,717.5 1107.6,713.6 1107.9,720.1 1108.3,719.7 1108.6,718.8 1108.9,720.1 1109.3,721.3 1109.6,722.5 1110.0,720.2 1110.3,718.6 1110.7,722.2 1111.0,717.6 1111.4,725.1 1111.7,721.3 1112.1,719.4 1112.4,721.9 1112.7,720.1 1113.1,723.5 1113.4,721.7 1113.8,723.2 1114.1,726.7 1114.5,727.9 1114.8,724.5 1115.2,723.0 1115.5,725.0 1115.9,725.4 1116.2,720.6 1116.5,722.9 1116.9,724.5 1117.2,727.7 1117.6,726.7 1117.9,727.8 1118.3,723.5 1118.6,725.8 1119.0,725.2 1119.3,726.6 1119.7,729.2 1120.0,728.0 1120.3,725.5 1120.7,727.4 1121.0,729.3 1121.4,728.4 1121.7,726.9 1122.1,729.2 1122.4,725.7 1122.8,726.1 1123.1,728.9 1123.5,728.1 1123.8,725.9 1124.1,728.0 1124.5,728.4 1124.8,724.0 1125.2,729.5 1125.5,727.0 1125.9,724.8 1126.2,727.4 1126.6,728.4 1126.9,730.7 1127.3,726.7 1127.6,726.7 1127.9,729.6 1128.3,726.1 1128.6,733.1 1129.0,728.2 1129.3,730.5 1129.7,729.1 1130.0,730.9 1130.4,729.2 1130.7,728.9 1131.1,729.0 1131.4,732.7 1131.7,730.9 1132.1,729.6 1132.4,730.3 1132.8,732.1 1133.1,732.2 1133.5,729.4 1133.8,728.2 1134.2,731.9 1134.5,731.8 1134.9,731.8 1135.2,733.1 1135.5,729.4 1135.9,731.1 1136.2,731.5 1136.6,731.3 1136.9,729.4 1137.3,733.2 1137.6,733.0 1138.0,732.2 1138.3,732.1 1138.7,731.6 1139.0,729.0 1139.3,730.7 1139.7,729.6 1140.0,733.2 1140.4,730.0 1140.7,730.2 1141.1,734.0 1141.4,730.9 1141.8,733.6 1142.1,730.3 1142.5,735.0 1142.8,733.8 1143.1,730.8 1143.5,728.4 1143.8,734.0 1144.2,732.6 1144.5,730.1 1144.9,735.1 1145.2,732.2 1145.6,733.2 1145.9,735.0 1146.3,737.1 1146.6,729.3 1146.9,735.2 1147.3,731.5 1147.6,734.1 1148.0,730.0 1148.3,730.0 1148.7,731.6 1149.0,731.6 1149.4,730.8 1149.7,732.7 1150.1,732.4 1150.4,732.6 1150.7,733.9 1151.1,733.5 1151.4,731.9 1151.8,732.1 1152.1,733.4 1152.5,734.2 1152.8,730.9 1153.2,729.9 1153.5,734.9 1153.9,731.0 1154.2,729.6 1154.6,733.9 1154.9,733.2 1155.2,730.9 1155.6,732.4 1155.9,734.6 1156.3,732.6 1156.6,733.6 1157.0,732.1 1157.3,733.6 1157.7,732.4 1158.0,733.5 1158.4,732.1 1158.7,735.7 1159.0,733.7 1159.4,734.1 1159.7,731.4 1160.1,733.4 1160.4,732.7 1160.8,735.3 1161.1,733.6 1161.5,734.2 1161.8,733.6 1162.2,729.1 1162.5,733.9 1162.8,736.1 1163.2,732.4 1163.5,733.9 1163.9,734.2 1164.2,733.3 1164.6,735.6 1164.9,734.8 1165.3,736.2 1165.6,732.3 1166.0,734.4 1166.3,737.4 1166.6,732.4 1167.0,734.4 1167.3,734.7 1167.7,734.4 1168.0,736.5 1168.4,733.3 1168.7,732.8 1169.1,737.3 1169.4,735.4 1169.8,733.3 1170.1,734.8 1170.4,733.9 1170.8,734.7 1171.1,734.7 1171.5,737.0 1171.8,735.9 1172.2,736.9 1172.5,735.6 1172.9,734.2 1173.2,735.7 1173.6,734.6 1173.9,736.2 1174.2,735.0 1174.6,733.0 1174.9,734.4 1175.3,731.5 1175.6,738.0 1176.0,737.2 1176.3,733.6 1176.7,732.7 1177.0,737.1 1177.4,733.0 1177.7,735.6 1178.0,738.6 1178.4,734.9 1178.7,735.6 1179.1,736.6 1179.4,735.4 1179.8,733.2 1180.1,734.8 1180.5,740.5 1180.8,735.3 1181.2,735.3 1181.5,734.9 1181.8,735.0 1182.2,733.7 1182.5,734.9 1182.9,736.5 1183.2,730.6 1183.6,734.7 1183.9,734.9 1184.3,734.3 1184.6,733.9 1185.0,734.1 1185.3,737.2 1185.6,734.1 1186.0,735.0 1186.3,734.7 1186.7,733.3 1187.0,736.5 1187.4,732.7 1187.7,736.3 1188.1,736.4 1188.4,735.0 1188.8,732.2 1189.1,737.2 1189.4,735.4 1189.8,736.1 1190.1,736.1 1190.5,733.9 1190.8,734.2 1191.2,731.5 1191.5,733.5 1191.9,734.8 1192.2,734.3 1192.6,733.2 1192.9,733.4 1193.2,735.1 1193.6,735.5 1193.9,735.4 1194.3,736.7 1194.6,732.8 1195.0,736.8 1195.3,734.1 1195.7,735.6 1196.0,735.7 1196.4,735.4 1196.7,733.3 1197.0,733.7 1197.4,734.3 1197.7,735.5 1198.1,733.9 1198.4,734.3 1198.8,736.3 1199.1,734.5 1199.5,734.9 1199.8,734.0 1200.2,735.1 1200.5,731.8 1200.8,736.0 1201.2,734.2 1201.5,734.2 1201.9,735.6 1202.2,732.9 1202.6,737.0 1202.9,739.3 1203.3,733.5 1203.6,736.7 1204.0,734.9 1204.3,736.0 1204.6,734.8 1205.0,735.1 1205.3,734.1 1205.7,733.2 1206.0,734.6 1206.4,734.7 1206.7,736.0 1207.1,733.3 1207.4,732.2 1207.8,733.8 1208.1,733.1 1208.4,735.3 1208.8,737.0 1209.1,733.3 1209.5,734.2 1209.8,734.4 1210.2,732.7 1210.5,733.9 1210.9,734.6 1211.2,734.9 1211.6,736.2 1211.9,734.5 1212.2,738.7 1212.6,736.9 1212.9,735.6 1213.3,736.9 1213.6,737.0 1214.0,737.3 1214.3,731.3 1214.7,736.0 1215.0,734.3 1215.4,734.5 1215.7,735.5 1216.0,735.2 1216.4,735.6 1216.7,734.1 1217.1,735.8 1217.4,736.4 1217.8,736.5 1218.1,734.5 1218.5,735.3 1218.8,735.8 1219.2,734.2 1219.5,733.8 1219.8,736.5 1220.2,739.5 1220.5,733.1 1220.9,736.2 1221.2,735.6 1221.6,735.9 1221.9,731.7 1222.3,735.0 1222.6,735.7 1223.0,735.5 1223.3,733.4 1223.7,736.1 1224.0,736.6 1224.3,733.5 1224.7,737.0 1225.0,732.3 1225.4,735.6 1225.7,735.2 1226.1,736.8 1226.4,735.4 1226.8,734.1 1227.1,735.7 1227.5,734.1 1227.8,733.0 1228.1,734.1 1228.5,734.4 1228.8,735.2 1229.2,736.3 1229.5,736.4 1229.9,734.0 1230.2,731.8 1230.6,735.5 1230.9,735.9 1231.3,737.6 1231.6,735.4 1231.9,733.4 1232.3,734.0 1232.6,732.9 1233.0,734.2 1233.3,739.1 1233.7,737.3 1234.0,735.3 1234.4,736.0 1234.7,735.5 1235.1,734.1 1235.4,733.9 1235.7,735.0 1236.1,733.5 1236.4,736.1 1236.8,735.6 1237.1,735.7 1237.5,735.2 1237.8,737.1 1238.2,736.5 1238.5,736.3 1238.9,734.6 1239.2,737.9 1239.5,734.4 1239.9,736.8 1240.2,738.5 1240.6,735.8 1240.9,735.3 1241.3,734.5 1241.6,737.9 1242.0,736.2 1242.3,735.1 1242.7,738.8 1243.0,734.1 1243.3,731.1 1243.7,735.5 1244.0,733.7 1244.4,734.3 1244.7,734.8 1245.1,737.8 1245.4,736.4 1245.8,732.5 1246.1,732.9 1246.5,737.6 1246.8,733.3 1247.1,735.0 1247.5,736.6 1247.8,734.2 1248.2,733.8 1248.5,734.9 1248.9,734.1 1249.2,735.7 1249.6,737.5 1249.9,735.7 1250.3,734.6 1250.6,733.4 1250.9,733.8 1251.3,732.0 1251.6,737.5 1252.0,735.9 1252.3,737.2 1252.7,734.8 1253.0,739.3 1253.4,737.3 1253.7,734.7 1254.1,734.0 1254.4,732.6 1254.7,733.7 1255.1,735.6 1255.4,732.0 1255.8,736.6 1256.1,737.1 1256.5,735.7 1256.8,735.1 1257.2,733.9 1257.5,738.9 1257.9,734.7 1258.2,737.6 1258.5,736.0 1258.9,737.6 1259.2,737.1 1259.6,733.7 1259.9,735.9 1260.3,734.9 1260.6,736.7 1261.0,733.4 1261.3,734.9 1261.7,734.2 1262.0,735.5 1262.3,732.7 1262.7,735.5 1263.0,734.1 1263.4,736.0 1263.7,734.2 1264.1,734.4 1264.4,734.9 1264.8,734.8 1265.1,730.6 1265.5,736.0 1265.8,734.9 1266.1,734.5 1266.5,735.2 1266.8,733.7 1267.2,735.2 1267.5,732.1 1267.9,733.1 1268.2,734.9 1268.6,732.1 1268.9,734.9 1269.3,737.8 1269.6,737.1 1269.9,736.3 1270.3,733.7 1270.6,733.4 1271.0,734.8 1271.3,736.2 1271.7,735.3 1272.0,734.5 1272.4,734.4 1272.7,738.0 1273.1,730.9 1273.4,732.3 1273.7,736.1 1274.1,735.2 1274.4,732.4 1274.8,736.5 1275.1,732.6 1275.5,734.3 1275.8,734.3 1276.2,734.8 1276.5,734.1 1276.9,735.7 1277.2,733.9 1277.5,733.2 1277.9,733.0 1278.2,731.3 1278.6,733.6 1278.9,737.1 1279.3,734.0 1279.6,736.6 1280.0,732.9 1280.3,734.8 1280.7,734.7 1281.0,729.6 1281.3,732.2 1281.7,731.9 1282.0,734.7 1282.4,731.5 1282.7,735.7 1283.1,734.1 1283.4,732.6 1283.8,732.0 1284.1,737.8 1284.5,735.4 1284.8,734.1 1285.1,737.0 1285.5,733.8 1285.8,735.3 1286.2,733.7 1286.5,735.4 1286.9,735.2 1287.2,736.4 1287.6,736.3 1287.9,734.6 1288.3,733.8 1288.6,734.8 1288.9,735.9 1289.3,735.7 1289.6,733.5 1290.0,735.1 1290.3,734.8 1290.7,737.2 1291.0,737.9 1291.4,733.6 1291.7,734.0 1292.1,737.1 1292.4,735.3 1292.8,735.7 1293.1,736.1 1293.4,733.0 1293.8,733.3 1294.1,737.2 1294.5,736.0 1294.8,737.4 1295.2,735.5 1295.5,736.8 1295.9,736.6 1296.2,735.4 1296.6,737.8 1296.9,735.7 1297.2,737.7 1297.6,733.6 1297.9,736.4 1298.3,740.1 1298.6,738.0 1299.0,733.6 1299.3,734.0 1299.7,736.0 1300.0,736.9 1300.4,735.1 1300.7,734.7 1301.0,733.7 1301.4,734.8 1301.7,733.0 1302.1,735.4 1302.4,737.9 1302.8,737.0 1303.1,735.6 1303.5,740.1 1303.8,736.2 1304.2,735.6 1304.5,736.8 1304.8,738.9 1305.2,735.4 1305.5,740.7 1305.9,735.6 1306.2,736.0 1306.6,738.5 1306.9,736.3 1307.3,738.9 1307.6,737.8 1308.0,735.4 1308.3,736.8 1308.6,737.3 1309.0,738.2 1309.3,740.6 1309.7,737.9 1310.0,736.1 1310.4,738.2 1310.7,738.6 1311.1,735.5 1311.4,738.4 1311.8,736.9 1312.1,736.3 1312.4,738.1 1312.8,733.7 1313.1,734.1 1313.5,737.8 1313.8,738.0 1314.2,735.2 1314.5,735.1 1314.9,738.6 1315.2,735.5 1315.6,738.6 1315.9,736.7 1316.2,737.2 1316.6,735.6 1316.9,738.5 1317.3,738.7 1317.6,738.1 1318.0,736.3 1318.3,737.2 1318.7,735.5 1319.0,737.4 1319.4,738.6 1319.7,736.3 1320.0,736.0 1320.4,735.1 1320.7,737.2 1321.1,736.9 1321.4,736.9 1321.8,740.8 1322.1,740.2 1322.5,735.2 1322.8,733.2 1323.2,736.2 1323.5,736.1 1323.8,738.9 1324.2,738.4 1324.5,736.0 1324.9,739.6 1325.2,740.0 1325.6,736.9 1325.9,736.4 1326.3,736.9 1326.6,737.0 1327.0,738.5 1327.3,735.6 1327.6,733.6 1328.0,736.0 1328.3,738.9 1328.7,736.6 1329.0,737.2 1329.4,741.5 1329.7,736.1 1330.1,737.1 1330.4,734.2 1330.8,736.5 1331.1,737.4 1331.4,736.5 1331.8,735.3 1332.1,736.5 1332.5,736.1 1332.8,737.2 1333.2,737.5 1333.5,736.9 1333.9,737.2 1334.2,738.1 1334.6,738.6 1334.9,736.9 1335.2,736.9 1335.6,737.9 1335.9,739.2 1336.3,736.9 1336.6,737.2 1337.0,738.5 1337.3,736.4 1337.7,738.6 1338.0,739.5 1338.4,737.2 1338.7,740.0 1339.0,737.0 1339.4,736.1 1339.7,739.7 1340.1,737.6 1340.4,735.9 1340.8,738.2 1341.1,739.4 1341.5,739.9 1341.8,736.9 1342.2,740.8 1342.5,738.6 1342.8,740.4 1343.2,736.3 1343.5,737.3 1343.9,737.7 1344.2,735.8 1344.6,736.5 1344.9,739.2 1345.3,736.6 1345.6,736.6 1346.0,736.2 1346.3,738.2 1346.6,736.7 1347.0,738.3 1347.3,737.6 1347.7,738.8 1348.0,737.6 1348.4,735.3 1348.7,739.1 1349.1,736.7 1349.4,737.8 1349.8,736.9 1350.1,736.0 1350.4,739.8 1350.8,739.5 1351.1,738.1 1351.5,738.2 1351.8,739.9 1352.2,739.7 1352.5,738.3 1352.9,738.3 1353.2,737.8 1353.6,736.8 1353.9,737.7 1354.2,739.8 1354.6,735.5 1354.9,738.6 1355.3,739.0 1355.6,736.2 1356.0,737.8 1356.3,738.1 1356.7,739.2 1357.0,738.8 1357.4,737.9 1357.7,736.5 1358.0,737.0 1358.4,740.3 1358.7,739.7 1359.1,737.7 1359.4,736.9 1359.8,738.4 1360.1,739.6 1360.5,737.2 1360.8,738.9 1361.2,736.8 1361.5,739.6 1361.9,735.6 1362.2,737.3 1362.5,737.0 1362.9,738.0 1363.2,737.5 1363.6,736.8 1363.9,739.2 1364.3,738.2 1364.6,738.8 1365.0,737.5 1365.3,736.6 1365.7,735.4 1366.0,737.2 1366.3,738.1 1366.7,738.9 1367.0,736.9 1367.4,739.6 1367.7,736.2 1368.1,737.8 1368.4,740.7 1368.8,739.6 1369.1,741.4 1369.5,738.9 1369.8,738.7 1370.1,741.1 1370.5,737.2 1370.8,738.2 1371.2,737.1 1371.5,739.4 1371.9,739.1 1372.2,736.7 1372.6,739.9 1372.9,739.2 1373.3,739.1 1373.6,738.5 1373.9,740.9 1374.3,737.6 1374.6,738.8 1375.0,739.2 1375.3,738.4 1375.7,737.3 1376.0,737.0 1376.4,738.6 1376.7,735.5 1377.1,740.4 1377.4,738.4 1377.7,739.1 1378.1,739.0 1378.4,738.9 1378.8,738.7 1379.1,737.1 1379.5,737.3 1379.8,735.8 1380.2,741.5 1380.5,740.0 1380.9,740.4 1381.2,738.4 1381.5,740.9 1381.9,740.1 1382.2,738.9 1382.6,738.3 1382.9,740.5 1383.3,739.0 1383.6,736.0 1384.0,739.2 1384.3,736.3 1384.7,742.9 1385.0,739.2 1385.3,738.0 1385.7,739.6 1386.0,740.2 1386.4,737.5 1386.7,740.1 1387.1,738.3 1387.4,738.2 1387.8,740.4 1388.1,739.1 1388.5,738.4 1388.8,737.9 1389.1,739.5 1389.5,739.6 1389.8,739.5 1390.2,737.3 1390.5,739.0 1390.9,737.5 1391.2,737.8 1391.6,738.8 1391.9,738.1 1392.3,739.5 1392.6,739.2 1392.9,739.7 1393.3,738.3 1393.6,740.8 1394.0,736.0 1394.3,738.5 1394.7,740.8 1395.0,738.3 1395.4,739.5 1395.7,739.9 1396.1,737.5 1396.4,739.2" fill="none" stroke="#a81e22" stroke-width="1.4" stroke-linejoin="round"/>
<path d="M83.5,531.8 83.8,528.2 84.2,536.0 84.5,536.4 84.9,533.4 85.2,535.4 85.6,539.4 85.9,537.6 86.3,536.6 86.6,536.6 87.0,532.1 87.3,537.5 87.6,530.0 88.0,533.9 88.3,533.6 88.7,530.0 89.0,534.7 89.4,539.9 89.7,534.2 90.1,531.8 90.4,535.1 90.8,537.9 91.1,536.1 91.4,535.6 91.8,531.6 92.1,537.2 92.5,537.2 92.8,539.8 93.2,540.3 93.5,538.1 93.9,531.4 94.2,532.1 94.6,533.1 94.9,537.3 95.2,534.2 95.6,540.4 95.9,537.4 96.3,537.8 96.6,539.0 97.0,537.9 97.3,533.0 97.7,544.2 98.0,541.5 98.4,541.8 98.7,535.3 99.0,532.3 99.4,533.4 99.7,534.8 100.1,540.5 100.4,540.6 100.8,542.4 101.1,544.4 101.5,539.9 101.8,539.5 102.2,537.6 102.5,537.9 102.8,535.7 103.2,540.6 103.5,540.2 103.9,538.3 104.2,537.3 104.6,541.1 104.9,543.7 105.3,540.4 105.6,541.1 106.0,538.9 106.3,539.9 106.6,539.9 107.0,540.1 107.3,539.3 107.7,542.2 108.0,544.9 108.4,538.5 108.7,545.3 109.1,540.2 109.4,540.4 109.8,535.3 110.1,534.6 110.4,543.6 110.8,538.5 111.1,543.9 111.5,541.8 111.8,542.4 112.2,545.6 112.5,541.6 112.9,532.6 113.2,537.0 113.6,544.7 113.9,547.6 114.2,541.7 114.6,540.0 114.9,538.1 115.3,543.6 115.6,537.0 116.0,538.6 116.3,542.6 116.7,542.5 117.0,541.5 117.4,545.3 117.7,538.8 118.1,538.9 118.4,541.2 118.7,542.5 119.1,541.4 119.4,548.1 119.8,540.7 120.1,544.3 120.5,540.8 120.8,543.4 121.2,541.3 121.5,541.4 121.9,547.2 122.2,541.6 122.5,547.5 122.9,540.5 123.2,541.3 123.6,545.8 123.9,535.7 124.3,538.0 124.6,542.8 125.0,544.1 125.3,544.4 125.7,541.9 126.0,538.8 126.3,545.2 126.7,544.2 127.0,539.7 127.4,543.2 127.7,548.1 128.1,543.3 128.4,539.6 128.8,541.8 129.1,542.0 129.5,544.0 129.8,545.7 130.1,540.4 130.5,541.2 130.8,546.0 131.2,545.3 131.5,547.0 131.9,539.0 132.2,540.5 132.6,546.1 132.9,540.5 133.3,544.2 133.6,543.1 133.9,541.1 134.3,547.5 134.6,543.2 135.0,541.8 135.3,542.8 135.7,544.0 136.0,538.8 136.4,540.8 136.7,539.6 137.1,537.3 137.4,546.1 137.7,547.4 138.1,546.7 138.4,538.2 138.8,544.4 139.1,545.2 139.5,541.7 139.8,545.6 140.2,540.1 140.5,540.2 140.9,540.9 141.2,541.2 141.5,540.4 141.9,546.0 142.2,540.2 142.6,542.0 142.9,541.5 143.3,549.6 143.6,540.7 144.0,544.6 144.3,548.5 144.7,539.9 145.0,540.9 145.3,542.3 145.7,539.5 146.0,546.8 146.4,541.9 146.7,546.3 147.1,544.8 147.4,543.3 147.8,546.0 148.1,542.4 148.5,546.3 148.8,539.5 149.1,541.2 149.5,546.7 149.8,537.3 150.2,544.6 150.5,542.1 150.9,541.7 151.2,541.3 151.6,547.0 151.9,539.0 152.3,545.7 152.6,544.7 152.9,542.1 153.3,543.1 153.6,545.4 154.0,541.7 154.3,539.1 154.7,544.2 155.0,541.0 155.4,542.3 155.7,543.6 156.1,545.6 156.4,548.7 156.7,544.5 157.1,543.9 157.4,545.9 157.8,544.5 158.1,538.9 158.5,542.0 158.8,540.3 159.2,545.8 159.5,547.4 159.9,544.9 160.2,541.1 160.5,546.3 160.9,541.4 161.2,545.0 161.6,541.2 161.9,541.0 162.3,541.3 162.6,545.7 163.0,544.2 163.3,547.6 163.7,543.1 164.0,548.4 164.3,545.6 164.7,551.0 165.0,550.5 165.4,547.2 165.7,548.2 166.1,548.7 166.4,549.5 166.8,547.5 167.1,551.4 167.5,547.1 167.8,543.3 168.1,549.4 168.5,548.5 168.8,551.2 169.2,550.7 169.5,549.5 169.9,549.5 170.2,549.6 170.6,547.5 170.9,546.1 171.3,547.3 171.6,549.3 171.9,543.4 172.3,548.5 172.6,547.1 173.0,549.6 173.3,547.7 173.7,550.2 174.0,549.5 174.4,553.7 174.7,549.3 175.1,549.6 175.4,550.4 175.7,545.4 176.1,547.6 176.4,554.5 176.8,552.0 177.1,550.9 177.5,553.7 177.8,550.4 178.2,550.3 178.5,550.2 178.9,546.3 179.2,553.8 179.5,550.8 179.9,551.1 180.2,550.5 180.6,549.8 180.9,545.5 181.3,552.1 181.6,557.7 182.0,554.6 182.3,551.2 182.7,549.5 183.0,552.2 183.3,553.2 183.7,551.9 184.0,554.6 184.4,549.9 184.7,555.4 185.1,553.0 185.4,551.2 185.8,552.0 186.1,553.8 186.5,555.0 186.8,553.2 187.2,554.7 187.5,559.7 187.8,548.8 188.2,547.9 188.5,553.7 188.9,550.9 189.2,553.9 189.6,549.3 189.9,554.1 190.3,557.4 190.6,557.0 191.0,551.1 191.3,553.3 191.6,556.6 192.0,559.3 192.3,551.9 192.7,552.2 193.0,557.6 193.4,553.8 193.7,552.1 194.1,557.8 194.4,550.5 194.8,553.3 195.1,557.8 195.4,553.7 195.8,557.5 196.1,552.3 196.5,557.8 196.8,557.1 197.2,560.2 197.5,555.4 197.9,555.2 198.2,556.0 198.6,559.1 198.9,554.5 199.2,556.2 199.6,561.9 199.9,558.9 200.3,558.9 200.6,555.7 201.0,559.5 201.3,554.2 201.7,553.5 202.0,555.1 202.4,561.4 202.7,558.2 203.0,555.5 203.4,557.1 203.7,559.4 204.1,561.5 204.4,554.1 204.8,562.1 205.1,561.2 205.5,557.0 205.8,558.0 206.2,560.4 206.5,558.5 206.8,559.8 207.2,556.8 207.5,555.0 207.9,566.3 208.2,560.5 208.6,560.8 208.9,561.8 209.3,564.1 209.6,563.3 210.0,558.4 210.3,561.0 210.6,561.6 211.0,563.6 211.3,560.3 211.7,563.1 212.0,562.9 212.4,566.0 212.7,555.9 213.1,563.0 213.4,563.9 213.8,564.9 214.1,563.3 214.4,561.3 214.8,565.3 215.1,564.6 215.5,561.6 215.8,560.4 216.2,565.4 216.5,561.8 216.9,565.8 217.2,568.1 217.6,564.9 217.9,565.0 218.2,564.8 218.6,568.1 218.9,568.2 219.3,564.9 219.6,566.7 220.0,565.0 220.3,563.6 220.7,566.9 221.0,564.8 221.4,562.9 221.7,561.3 222.0,567.7 222.4,562.7 222.7,562.3 223.1,564.5 223.4,567.1 223.8,560.8 224.1,566.8 224.5,566.2 224.8,562.0 225.2,562.2 225.5,564.6 225.8,569.9 226.2,564.3 226.5,567.6 226.9,567.2 227.2,560.6 227.6,564.6 227.9,567.0 228.3,563.1 228.6,567.4 229.0,561.4 229.3,560.2 229.6,562.8 230.0,565.5 230.3,562.7 230.7,565.9 231.0,559.4 231.4,561.8 231.7,566.7 232.1,556.7 232.4,563.8 232.8,560.6 233.1,560.9 233.4,561.8 233.8,558.8 234.1,564.9 234.5,564.0 234.8,565.5 235.2,562.8 235.5,559.8 235.9,563.9 236.2,558.7 236.6,559.8 236.9,567.5 237.2,564.8 237.6,563.1 237.9,565.8 238.3,561.1 238.6,563.3 239.0,559.6 239.3,560.8 239.7,561.8 240.0,565.4 240.4,559.7 240.7,564.1 241.0,561.3 241.4,556.7 241.7,556.1 242.1,559.2 242.4,563.7 242.8,561.5 243.1,565.5 243.5,561.1 243.8,564.2 244.2,561.1 244.5,557.9 244.8,562.0 245.2,558.1 245.5,556.2 245.9,557.8 246.2,558.6 246.6,560.2 246.9,561.6 247.3,560.8 247.6,564.5 248.0,553.8 248.3,558.3 248.6,565.3 249.0,557.6 249.3,555.0 249.7,556.2 250.0,555.5 250.4,556.6 250.7,562.2 251.1,553.9 251.4,555.6 251.8,561.0 252.1,557.9 252.4,557.9 252.8,556.0 253.1,559.3 253.5,554.1 253.8,559.2 254.2,557.0 254.5,556.1 254.9,555.2 255.2,559.1 255.6,557.5 255.9,555.7 256.3,557.0 256.6,554.1 256.9,560.2 257.3,560.7 257.6,560.2 258.0,558.3 258.3,559.1 258.7,554.6 259.0,557.4 259.4,558.0 259.7,558.7 260.1,561.0 260.4,558.6 260.7,558.2 261.1,563.6 261.4,560.1 261.8,559.6 262.1,556.5 262.5,558.5 262.8,561.8 263.2,563.4 263.5,558.6 263.9,563.4 264.2,564.6 264.5,562.9 264.9,564.6 265.2,568.4 265.6,563.2 265.9,561.1 266.3,564.8 266.6,563.8 267.0,566.2 267.3,568.3 267.7,569.1 268.0,567.9 268.3,570.9 268.7,568.5 269.0,570.4 269.4,568.9 269.7,569.0 270.1,567.2 270.4,568.7 270.8,567.5 271.1,568.4 271.5,569.5 271.8,572.5 272.1,569.2 272.5,571.7 272.8,567.4 273.2,570.0 273.5,574.2 273.9,572.2 274.2,567.1 274.6,571.8 274.9,571.6 275.3,569.6 275.6,568.5 275.9,570.8 276.3,570.8 276.6,575.4 277.0,575.3 277.3,575.7 277.7,577.0 278.0,569.3 278.4,574.2 278.7,575.9 279.1,573.6 279.4,574.0 279.7,573.8 280.1,576.3 280.4,576.0 280.8,579.3 281.1,577.4 281.5,577.2 281.8,576.8 282.2,575.2 282.5,577.5 282.9,579.4 283.2,578.7 283.5,575.2 283.9,574.3 284.2,579.8 284.6,578.7 284.9,579.1 285.3,576.5 285.6,580.5 286.0,580.6 286.3,578.4 286.7,580.5 287.0,577.1 287.3,579.2 287.7,574.8 288.0,579.0 288.4,585.6 288.7,581.6 289.1,584.1 289.4,581.6 289.8,580.9 290.1,581.0 290.5,579.7 290.8,582.4 291.1,579.1 291.5,581.1 291.8,588.7 292.2,582.4 292.5,580.2 292.9,583.9 293.2,582.6 293.6,581.0 293.9,579.2 294.3,581.5 294.6,581.0 294.9,582.2 295.3,583.1 295.6,583.0 296.0,580.3 296.3,583.7 296.7,583.6 297.0,579.3 297.4,583.6 297.7,582.8 298.1,583.9 298.4,580.6 298.7,582.5 299.1,582.8 299.4,580.6 299.8,584.8 300.1,583.0 300.5,584.7 300.8,581.6 301.2,580.8 301.5,581.5 301.9,579.2 302.2,582.6 302.5,585.4 302.9,587.9 303.2,587.4 303.6,587.8 303.9,587.9 304.3,590.0 304.6,585.6 305.0,587.4 305.3,586.9 305.7,579.6 306.0,586.0 306.3,585.8 306.7,586.7 307.0,584.7 307.4,584.3 307.7,584.9 308.1,587.9 308.4,587.4 308.8,589.8 309.1,583.6 309.5,589.2 309.8,591.0 310.1,584.7 310.5,587.0 310.8,583.3 311.2,580.6 311.5,583.9 311.9,587.2 312.2,587.7 312.6,586.4 312.9,588.8 313.3,588.2 313.6,591.9 313.9,584.4 314.3,585.7 314.6,586.4 315.0,586.4 315.3,586.8 315.7,593.5 316.0,587.3 316.4,589.7 316.7,585.0 317.1,586.8 317.4,590.4 317.7,590.8 318.1,584.9 318.4,593.5 318.8,589.8 319.1,587.1 319.5,590.0 319.8,587.6 320.2,585.8 320.5,589.6 320.9,591.1 321.2,591.8 321.5,585.6 321.9,587.2 322.2,589.1 322.6,592.0 322.9,592.6 323.3,588.7 323.6,586.9 324.0,591.1 324.3,588.7 324.7,590.8 325.0,592.3 325.4,591.3 325.7,587.6 326.0,587.1 326.4,586.5 326.7,591.7 327.1,592.6 327.4,587.7 327.8,588.8 328.1,587.9 328.5,589.7 328.8,588.1 329.2,588.1 329.5,592.9 329.8,592.2 330.2,590.1 330.5,592.7 330.9,588.7 331.2,591.1 331.6,587.9 331.9,588.3 332.3,592.3 332.6,587.3 333.0,589.1 333.3,587.3 333.6,587.1 334.0,590.0 334.3,590.1 334.7,586.5 335.0,594.9 335.4,593.4 335.7,587.8 336.1,590.8 336.4,590.2 336.8,588.4 337.1,586.9 337.4,589.9 337.8,589.4 338.1,592.6 338.5,590.2 338.8,587.5 339.2,588.2 339.5,589.7 339.9,592.0 340.2,587.1 340.6,590.3 340.9,592.7 341.2,586.4 341.6,593.0 341.9,588.5 342.3,589.6 342.6,588.5 343.0,590.5 343.3,590.8 343.7,590.9 344.0,596.1 344.4,584.0 344.7,588.5 345.0,586.6 345.4,589.1 345.7,587.9 346.1,588.9 346.4,589.4 346.8,588.1 347.1,591.5 347.5,586.0 347.8,588.1 348.2,589.4 348.5,592.4 348.8,586.1 349.2,586.3 349.5,590.2 349.9,589.1 350.2,585.5 350.6,591.3 350.9,589.1 351.3,587.5 351.6,587.3 352.0,588.1 352.3,586.9 352.6,588.2 353.0,588.1 353.3,584.6 353.7,583.3 354.0,590.4 354.4,585.3 354.7,590.3 355.1,586.6 355.4,580.0 355.8,586.6 356.1,583.8 356.4,580.5 356.8,585.4 357.1,582.6 357.5,584.4 357.8,587.3 358.2,586.2 358.5,584.3 358.9,584.0 359.2,583.7 359.6,581.7 359.9,580.5 360.2,581.3 360.6,582.2 360.9,579.6 361.3,580.3 361.6,580.4 362.0,577.6 362.3,581.4 362.7,581.2 363.0,578.0 363.4,574.6 363.7,571.4 364.0,569.1 364.4,576.4 364.7,573.1 365.1,570.1 365.4,566.8 365.8,568.4 366.1,569.5 366.5,566.7 366.8,562.2 367.2,569.7 367.5,562.7 367.8,557.3 368.2,559.6 368.5,558.4 368.9,558.0 369.2,556.4 369.6,552.3 369.9,555.5 370.3,552.9 370.6,555.2 371.0,555.4 371.3,557.8 371.6,557.9 372.0,557.9 372.3,565.9 372.7,560.9 373.0,562.4 373.4,565.8 373.7,567.5 374.1,570.2 374.4,566.4 374.8,569.9 375.1,575.0 375.4,574.5 375.8,575.9 376.1,573.3 376.5,574.4 376.8,576.8 377.2,580.1 377.5,582.3 377.9,583.4 378.2,578.1 378.6,582.8 378.9,583.9 379.2,583.4 379.6,584.1 379.9,583.2 380.3,585.3 380.6,581.4 381.0,589.8 381.3,587.9 381.7,591.1 382.0,586.4 382.4,584.8 382.7,592.8 383.0,584.5 383.4,586.9 383.7,591.5 384.1,593.2 384.4,589.0 384.8,590.3 385.1,590.5 385.5,592.5 385.8,589.7 386.2,593.2 386.5,594.1 386.8,592.2 387.2,592.9 387.5,597.8 387.9,593.8 388.2,592.4 388.6,595.8 388.9,596.3 389.3,592.4 389.6,591.9 390.0,597.2 390.3,596.9 390.6,597.2 391.0,598.0 391.3,592.2 391.7,591.2 392.0,596.9 392.4,596.8 392.7,595.3 393.1,596.5 393.4,593.5 393.8,593.0 394.1,594.9 394.5,596.1 394.8,596.6 395.1,595.1 395.5,596.7 395.8,598.0 396.2,596.5 396.5,594.5 396.9,599.1 397.2,593.2 397.6,596.1 397.9,599.7 398.3,600.9 398.6,599.2 398.9,595.0 399.3,592.3 399.6,595.0 400.0,595.9 400.3,596.3 400.7,594.0 401.0,595.1 401.4,596.7 401.7,596.4 402.1,599.0 402.4,597.5 402.7,597.6 403.1,595.3 403.4,596.6 403.8,592.4 404.1,595.7 404.5,593.2 404.8,596.9 405.2,597.7 405.5,596.9 405.9,599.8 406.2,595.3 406.5,596.5 406.9,595.6 407.2,596.1 407.6,599.5 407.9,594.0 408.3,600.2 408.6,599.7 409.0,598.1 409.3,596.2 409.7,597.5 410.0,596.2 410.3,600.0 410.7,594.7 411.0,595.1 411.4,597.2 411.7,592.0 412.1,600.2 412.4,596.6 412.8,598.8 413.1,597.7 413.5,593.8 413.8,597.6 414.1,598.4 414.5,595.1 414.8,595.6 415.2,595.5 415.5,599.3 415.9,595.2 416.2,595.9 416.6,597.6 416.9,598.1 417.3,596.6 417.6,601.0 417.9,601.1 418.3,595.2 418.6,601.4 419.0,598.6 419.3,599.0 419.7,599.2 420.0,594.7 420.4,594.9 420.7,598.3 421.1,595.8 421.4,602.8 421.7,596.2 422.1,598.9 422.4,595.0 422.8,601.3 423.1,600.6 423.5,593.6 423.8,597.4 424.2,596.7 424.5,599.7 424.9,591.5 425.2,595.7 425.5,598.1 425.9,595.5 426.2,594.9 426.6,593.1 426.9,596.8 427.3,595.6 427.6,592.9 428.0,596.2 428.3,594.4 428.7,596.4 429.0,597.3 429.3,598.0 429.7,596.4 430.0,593.5 430.4,595.1 430.7,594.8 431.1,597.6 431.4,594.0 431.8,598.5 432.1,595.3 432.5,596.7 432.8,594.3 433.1,597.7 433.5,593.9 433.8,598.5 434.2,595.9 434.5,596.6 434.9,596.1 435.2,593.2 435.6,597.7 435.9,591.6 436.3,594.9 436.6,596.3 436.9,596.7 437.3,593.2 437.6,593.5 438.0,593.9 438.3,592.2 438.7,593.8 439.0,592.3 439.4,595.1 439.7,593.6 440.1,592.3 440.4,592.3 440.7,594.1 441.1,591.9 441.4,590.7 441.8,591.1 442.1,593.7 442.5,589.4 442.8,593.2 443.2,594.5 443.5,591.4 443.9,591.9 444.2,589.2 444.5,590.1 444.9,590.8 445.2,592.5 445.6,590.8 445.9,589.1 446.3,590.1 446.6,588.5 447.0,594.5 447.3,589.4 447.7,593.7 448.0,587.0 448.3,588.1 448.7,593.0 449.0,589.2 449.4,594.1 449.7,591.1 450.1,592.2 450.4,585.8 450.8,589.3 451.1,588.0 451.5,592.0 451.8,587.5 452.1,588.3 452.5,586.4 452.8,584.4 453.2,589.0 453.5,586.9 453.9,588.2 454.2,585.3 454.6,587.1 454.9,585.2 455.3,585.8 455.6,587.1 455.9,585.5 456.3,587.6 456.6,583.8 457.0,585.3 457.3,588.7 457.7,584.3 458.0,581.9 458.4,588.1 458.7,585.0 459.1,583.0 459.4,582.5 459.7,586.0 460.1,582.2 460.4,580.8 460.8,585.5 461.1,584.4 461.5,585.0 461.8,582.4 462.2,584.1 462.5,581.0 462.9,582.0 463.2,582.9 463.6,582.8 463.9,584.3 464.2,583.4 464.6,579.5 464.9,580.0 465.3,582.4 465.6,583.4 466.0,581.4 466.3,579.2 466.7,580.2 467.0,581.9 467.4,581.9 467.7,577.5 468.0,576.3 468.4,578.0 468.7,576.2 469.1,577.0 469.4,574.7 469.8,576.7 470.1,576.7 470.5,578.2 470.8,577.3 471.2,574.6 471.5,571.8 471.8,575.1 472.2,571.5 472.5,569.5 472.9,571.5 473.2,568.8 473.6,575.2 473.9,573.0 474.3,573.1 474.6,568.8 475.0,569.0 475.3,569.2 475.6,567.4 476.0,567.8 476.3,568.1 476.7,565.2 477.0,566.1 477.4,568.3 477.7,565.4 478.1,560.8 478.4,561.9 478.8,561.8 479.1,561.7 479.4,562.4 479.8,559.4 480.1,563.9 480.5,559.5 480.8,560.2 481.2,556.6 481.5,553.3 481.9,557.8 482.2,557.7 482.6,557.3 482.9,554.1 483.2,553.9 483.6,550.8 483.9,548.3 484.3,550.8 484.6,550.7 485.0,549.6 485.3,549.4 485.7,548.6 486.0,547.1 486.4,545.9 486.7,543.7 487.0,540.8 487.4,536.7 487.7,539.9 488.1,541.0 488.4,537.8 488.8,539.5 489.1,535.6 489.5,528.7 489.8,533.5 490.2,528.1 490.5,528.2 490.8,526.0 491.2,525.1 491.5,526.8 491.9,524.2 492.2,517.4 492.6,519.2 492.9,515.1 493.3,517.1 493.6,515.8 494.0,510.1 494.3,510.8 494.6,509.0 495.0,506.3 495.3,504.9 495.7,500.4 496.0,499.1 496.4,496.1 496.7,494.1 497.1,491.6 497.4,485.3 497.8,486.6 498.1,486.5 498.4,479.6 498.8,478.6 499.1,471.5 499.5,475.1 499.8,472.2 500.2,471.1 500.5,469.8 500.9,463.0 501.2,460.7 501.6,460.5 501.9,456.2 502.2,455.8 502.6,449.3 502.9,449.5 503.3,445.8 503.6,442.7 504.0,443.5 504.3,439.3 504.7,438.2 505.0,436.4 505.4,430.5 505.7,435.0 506.0,432.8 506.4,431.2 506.7,429.0 507.1,430.8 507.4,428.0 507.8,424.7 508.1,426.6 508.5,427.4 508.8,424.8 509.2,424.7 509.5,425.6 509.8,426.4 510.2,426.3 510.5,425.8 510.9,428.6 511.2,428.4 511.6,429.9 511.9,434.3 512.3,433.8 512.6,435.2 513.0,440.1 513.3,440.3 513.6,446.8 514.0,448.0 514.3,452.8 514.7,454.3 515.0,455.9 515.4,456.1 515.7,463.1 516.1,470.4 516.4,471.1 516.8,477.3 517.1,481.3 517.4,480.0 517.8,486.0 518.1,490.2 518.5,496.8 518.8,500.7 519.2,500.0 519.5,506.2 519.9,509.1 520.2,509.8 520.6,517.4 520.9,521.8 521.2,519.9 521.6,526.3 521.9,526.8 522.3,533.2 522.6,536.2 523.0,536.3 523.3,539.4 523.7,545.5 524.0,544.6 524.4,549.6 524.7,546.5 525.0,549.4 525.4,556.6 525.7,557.2 526.1,558.2 526.4,558.6 526.8,563.1 527.1,561.9 527.5,565.9 527.8,569.2 528.2,569.0 528.5,568.0 528.8,569.2 529.2,573.1 529.5,570.9 529.9,578.2 530.2,576.4 530.6,577.7 530.9,579.4 531.3,579.6 531.6,584.8 532.0,581.8 532.3,581.7 532.7,587.0 533.0,584.4 533.3,589.5 533.7,588.8 534.0,587.2 534.4,589.0 534.7,587.4 535.1,587.8 535.4,592.9 535.8,590.5 536.1,591.5 536.5,591.4 536.8,593.1 537.1,592.8 537.5,593.9 537.8,594.4 538.2,597.3 538.5,594.2 538.9,595.4 539.2,596.2 539.6,594.5 539.9,597.7 540.3,596.8 540.6,596.3 540.9,596.2 541.3,597.9 541.6,598.8 542.0,599.4 542.3,600.3 542.7,598.6 543.0,602.1 543.4,600.0 543.7,602.1 544.1,599.7 544.4,602.7 544.7,601.0 545.1,599.7 545.4,600.6 545.8,602.0 546.1,598.7 546.5,602.5 546.8,598.6 547.2,602.9 547.5,601.3 547.9,600.8 548.2,602.4 548.5,606.1 548.9,607.2 549.2,603.7 549.6,607.3 549.9,605.5 550.3,608.5 550.6,605.8 551.0,607.2 551.3,604.4 551.7,608.8 552.0,608.4 552.3,609.3 552.7,610.3 553.0,607.1 553.4,608.7 553.7,604.8 554.1,606.8 554.4,606.4 554.8,610.2 555.1,610.0 555.5,609.8 555.8,609.5 556.1,613.0 556.5,611.0 556.8,608.6 557.2,612.7 557.5,612.8 557.9,611.4 558.2,605.9 558.6,608.3 558.9,610.9 559.3,609.5 559.6,607.3 559.9,610.5 560.3,609.0 560.6,610.9 561.0,611.0 561.3,613.2 561.7,609.0 562.0,612.6 562.4,609.1 562.7,612.7 563.1,611.8 563.4,611.7 563.7,611.3 564.1,609.9 564.4,611.9 564.8,612.2 565.1,613.5 565.5,612.1 565.8,612.4 566.2,609.7 566.5,608.6 566.9,612.1 567.2,616.0 567.5,611.7 567.9,610.4 568.2,607.5 568.6,613.3 568.9,610.6 569.3,611.4 569.6,613.1 570.0,613.9 570.3,616.2 570.7,615.1 571.0,614.3 571.3,613.1 571.7,611.2 572.0,613.0 572.4,615.2 572.7,609.7 573.1,613.6 573.4,616.5 573.8,615.6 574.1,613.6 574.5,613.6 574.8,615.4 575.1,614.0 575.5,615.5 575.8,617.6 576.2,614.3 576.5,613.8 576.9,616.7 577.2,615.6 577.6,613.7 577.9,611.7 578.3,618.2 578.6,618.6 578.9,615.2 579.3,616.3 579.6,615.9 580.0,616.4 580.3,618.6 580.7,616.6 581.0,615.7 581.4,616.5 581.7,616.3 582.1,617.3 582.4,615.7 582.7,615.1 583.1,619.4 583.4,617.6 583.8,617.8 584.1,620.1 584.5,616.5 584.8,616.2 585.2,617.2 585.5,614.9 585.9,615.1 586.2,614.9 586.5,617.8 586.9,614.1 587.2,616.9 587.6,616.6 587.9,619.4 588.3,616.3 588.6,618.5 589.0,618.4 589.3,618.3 589.7,619.6 590.0,614.2 590.3,617.9 590.7,616.7 591.0,616.7 591.4,619.5 591.7,616.4 592.1,616.3 592.4,619.5 592.8,614.2 593.1,619.8 593.5,615.8 593.8,620.7 594.1,616.4 594.5,618.7 594.8,618.3 595.2,618.0 595.5,618.7 595.9,617.9 596.2,619.8 596.6,619.0 596.9,615.0 597.3,613.6 597.6,621.9 597.9,614.2 598.3,618.2 598.6,617.1 599.0,617.1 599.3,616.7 599.7,621.7 600.0,619.8 600.4,616.4 600.7,619.4 601.1,618.7 601.4,621.7 601.8,618.5 602.1,615.6 602.4,621.3 602.8,621.5 603.1,621.7 603.5,619.8 603.8,615.3 604.2,616.7 604.5,618.0 604.9,618.8 605.2,617.8 605.6,619.5 605.9,616.6 606.2,617.6 606.6,617.2 606.9,618.2 607.3,615.9 607.6,622.0 608.0,616.9 608.3,617.6 608.7,619.5 609.0,617.4 609.4,620.4 609.7,620.4 610.0,620.6 610.4,617.7 610.7,617.5 611.1,618.4 611.4,618.2 611.8,619.0 612.1,619.5 612.5,619.1 612.8,618.4 613.2,621.2 613.5,621.4 613.8,620.8 614.2,620.4 614.5,620.2 614.9,622.2 615.2,618.6 615.6,617.5 615.9,619.3 616.3,619.6 616.6,619.2 617.0,619.3 617.3,619.4 617.6,620.3 618.0,618.7 618.3,618.2 618.7,619.8 619.0,620.8 619.4,619.7 619.7,617.9 620.1,620.0 620.4,619.1 620.8,620.8 621.1,619.3 621.4,620.0 621.8,621.6 622.1,620.4 622.5,620.0 622.8,619.8 623.2,618.9 623.5,621.1 623.9,618.0 624.2,619.2 624.6,618.6 624.9,621.0 625.2,624.0 625.6,618.3 625.9,621.4 626.3,620.2 626.6,623.7 627.0,616.3 627.3,618.9 627.7,621.3 628.0,620.5 628.4,621.1 628.7,617.5 629.0,620.0 629.4,619.4 629.7,624.0 630.1,621.1 630.4,621.2 630.8,620.1 631.1,623.0 631.5,620.8 631.8,621.2 632.2,619.0 632.5,622.2 632.8,622.1 633.2,618.8 633.5,619.3 633.9,621.2 634.2,620.2 634.6,619.0 634.9,620.8 635.3,621.7 635.6,620.5 636.0,619.8 636.3,621.2 636.6,620.2 637.0,620.1 637.3,621.3 637.7,622.9 638.0,622.8 638.4,621.0 638.7,620.2 639.1,620.8 639.4,621.2 639.8,621.8 640.1,620.4 640.4,620.7 640.8,621.3 641.1,619.1 641.5,620.7 641.8,621.2 642.2,622.0 642.5,621.2 642.9,619.8 643.2,618.8 643.6,619.4 643.9,618.5 644.2,618.9 644.6,619.5 644.9,619.8 645.3,621.5 645.6,620.3 646.0,620.4 646.3,620.9 646.7,619.4 647.0,618.6 647.4,619.6 647.7,619.0 648.0,623.1 648.4,623.1 648.7,620.6 649.1,621.3 649.4,623.2 649.8,623.1 650.1,622.5 650.5,622.0 650.8,622.7 651.2,619.0 651.5,617.5 651.8,619.4 652.2,621.5 652.5,619.2 652.9,620.0 653.2,620.7 653.6,620.5 653.9,618.9 654.3,620.3 654.6,622.1 655.0,621.6 655.3,620.5 655.6,620.2 656.0,622.8 656.3,623.2 656.7,618.9 657.0,619.5 657.4,619.6 657.7,621.4 658.1,620.3 658.4,619.8 658.8,622.9 659.1,621.1 659.4,618.9 659.8,620.3 660.1,620.0 660.5,622.6 660.8,617.1 661.2,620.1 661.5,620.4 661.9,622.1 662.2,620.1 662.6,621.3 662.9,621.3 663.2,617.3 663.6,619.1 663.9,619.0 664.3,620.1 664.6,617.8 665.0,620.5 665.3,619.3 665.7,620.2 666.0,616.2 666.4,620.3 666.7,620.2 667.0,617.5 667.4,619.3 667.7,620.6 668.1,623.0 668.4,618.6 668.8,619.7 669.1,618.3 669.5,620.5 669.8,617.3 670.2,618.5 670.5,619.7 670.9,619.5 671.2,618.9 671.5,618.8 671.9,618.3 672.2,620.9 672.6,619.4 672.9,617.2 673.3,620.1 673.6,620.2 674.0,621.5 674.3,622.2 674.7,619.4 675.0,621.6 675.3,619.8 675.7,620.4 676.0,618.6 676.4,619.3 676.7,618.8 677.1,616.0 677.4,618.8 677.8,616.8 678.1,619.7 678.5,615.3 678.8,619.5 679.1,616.4 679.5,617.7 679.8,618.7 680.2,619.8 680.5,617.5 680.9,618.9 681.2,620.8 681.6,618.9 681.9,619.9 682.3,619.0 682.6,621.0 682.9,620.4 683.3,621.1 683.6,618.9 684.0,618.7 684.3,614.3 684.7,617.1 685.0,617.2 685.4,620.4 685.7,618.2 686.1,617.2 686.4,618.4 686.7,617.7 687.1,617.0 687.4,616.8 687.8,620.3 688.1,621.2 688.5,618.5 688.8,619.2 689.2,620.1 689.5,618.0 689.9,619.2 690.2,616.5 690.5,615.3 690.9,617.2 691.2,620.3 691.6,618.3 691.9,616.3 692.3,619.1 692.6,620.3 693.0,616.7 693.3,619.2 693.7,621.7 694.0,617.5 694.3,618.2 694.7,616.7 695.0,615.4 695.4,615.4 695.7,619.2 696.1,618.3 696.4,617.0 696.8,620.6 697.1,616.6 697.5,617.3 697.8,618.3 698.1,615.8 698.5,615.1 698.8,615.8 699.2,614.7 699.5,616.6 699.9,616.7 700.2,615.2 700.6,612.5 700.9,615.0 701.3,613.6 701.6,615.0 701.9,616.2 702.3,618.1 702.6,617.8 703.0,613.1 703.3,615.6 703.7,614.3 704.0,615.6 704.4,618.3 704.7,616.4 705.1,615.9 705.4,614.4 705.7,614.0 706.1,614.7 706.4,616.2 706.8,617.9 707.1,616.3 707.5,615.0 707.8,615.2 708.2,616.6 708.5,618.3 708.9,618.8 709.2,613.8 709.5,613.0 709.9,617.0 710.2,616.9 710.6,617.2 710.9,618.3 711.3,615.1 711.6,616.8 712.0,613.5 712.3,617.4 712.7,615.0 713.0,614.9 713.3,613.1 713.7,617.4 714.0,616.5 714.4,615.9 714.7,612.4 715.1,613.3 715.4,616.4 715.8,614.2 716.1,614.6 716.5,614.7 716.8,613.3 717.1,615.8 717.5,610.3 717.8,616.4 718.2,616.1 718.5,614.0 718.9,614.3 719.2,612.5 719.6,615.7 719.9,611.2 720.3,610.3 720.6,612.3 720.9,610.3 721.3,610.2 721.6,613.2 722.0,606.3 722.3,610.5 722.7,606.8 723.0,608.3 723.4,608.1 723.7,607.1 724.1,602.9 724.4,604.8 724.7,604.7 725.1,606.0 725.4,602.0 725.8,598.0 726.1,597.4 726.5,595.7 726.8,598.2 727.2,595.9 727.5,590.0 727.9,590.4 728.2,592.3 728.5,587.0 728.9,588.1 729.2,585.4 729.6,585.4 729.9,583.4 730.3,581.2 730.6,581.6 731.0,584.0 731.3,585.8 731.7,583.4 732.0,585.1 732.3,586.0 732.7,584.0 733.0,584.9 733.4,588.6 733.7,589.1 734.1,587.6 734.4,586.5 734.8,589.3 735.1,590.1 735.5,592.5 735.8,591.6 736.1,592.7 736.5,595.0 736.8,594.8 737.2,593.6 737.5,596.7 737.9,596.1 738.2,598.6 738.6,594.9 738.9,596.6 739.3,596.0 739.6,595.0 740.0,595.5 740.3,597.8 740.6,598.9 741.0,597.3 741.3,598.0 741.7,600.8 742.0,598.6 742.4,598.2 742.7,600.8 743.1,598.6 743.4,600.6 743.8,599.0 744.1,600.1 744.4,599.7 744.8,599.4 745.1,600.8 745.5,603.9 745.8,602.1 746.2,601.1 746.5,603.6 746.9,598.3 747.2,601.9 747.6,600.5 747.9,599.9 748.2,601.2 748.6,602.0 748.9,600.6 749.3,602.8 749.6,599.9 750.0,603.8 750.3,604.0 750.7,606.7 751.0,604.5 751.4,602.8 751.7,602.6 752.0,604.5 752.4,604.6 752.7,601.6 753.1,601.1 753.4,605.6 753.8,605.1 754.1,602.5 754.5,607.1 754.8,605.3 755.2,604.4 755.5,604.8 755.8,606.3 756.2,605.2 756.5,605.3 756.9,607.3 757.2,604.2 757.6,606.6 757.9,606.8 758.3,608.5 758.6,607.3 759.0,608.3 759.3,608.6 759.6,609.2 760.0,606.0 760.3,607.0 760.7,607.3 761.0,611.1 761.4,609.8 761.7,608.9 762.1,609.2 762.4,608.4 762.8,610.8 763.1,608.3 763.4,610.0 763.8,609.4 764.1,607.3 764.5,610.9 764.8,610.0 765.2,609.0 765.5,607.3 765.9,610.2 766.2,607.8 766.6,606.8 766.9,610.8 767.2,608.6 767.6,609.1 767.9,609.8 768.3,610.8 768.6,606.7 769.0,605.7 769.3,610.6 769.7,608.4 770.0,609.7 770.4,611.1 770.7,612.7 771.0,609.3 771.4,610.1 771.7,607.8 772.1,612.1 772.4,611.9 772.8,612.4 773.1,615.6 773.5,611.0 773.8,610.4 774.2,611.6 774.5,614.6 774.8,611.1 775.2,612.1 775.5,614.8 775.9,612.3 776.2,613.2 776.6,612.7 776.9,615.6 777.3,613.6 777.6,616.2 778.0,614.1 778.3,615.6 778.6,613.9 779.0,616.7 779.3,611.4 779.7,619.2 780.0,616.4 780.4,613.9 780.7,614.7 781.1,616.0 781.4,616.4 781.8,615.2 782.1,618.4 782.4,616.4 782.8,615.5 783.1,616.8 783.5,618.4 783.8,614.6 784.2,615.7 784.5,619.1 784.9,617.9 785.2,617.5 785.6,620.7 785.9,620.3 786.2,615.7 786.6,615.4 786.9,618.6 787.3,619.5 787.6,617.6 788.0,618.9 788.3,617.1 788.7,619.6 789.0,616.4 789.4,618.9 789.7,619.6 790.0,618.3 790.4,618.7 790.7,618.8 791.1,620.3 791.4,617.7 791.8,620.9 792.1,616.5 792.5,621.1 792.8,619.7 793.2,620.6 793.5,621.2 793.8,620.0 794.2,621.5 794.5,620.4 794.9,619.5 795.2,621.1 795.6,621.7 795.9,616.7 796.3,619.9 796.6,616.2 797.0,619.7 797.3,619.7 797.6,619.6 798.0,621.6 798.3,621.5 798.7,621.0 799.0,615.3 799.4,622.0 799.7,618.7 800.1,615.3 800.4,620.0 800.8,619.3 801.1,619.1 801.4,622.1 801.8,619.3 802.1,618.2 802.5,621.2 802.8,618.1 803.2,621.3 803.5,618.1 803.9,620.8 804.2,622.7 804.6,621.2 804.9,618.5 805.2,617.0 805.6,618.9 805.9,617.1 806.3,621.9 806.6,621.3 807.0,616.0 807.3,618.9 807.7,620.4 808.0,621.1 808.4,617.7 808.7,619.7 809.1,617.7 809.4,619.0 809.7,620.9 810.1,616.3 810.4,619.6 810.8,620.9 811.1,616.9 811.5,618.2 811.8,622.1 812.2,619.6 812.5,621.2 812.9,620.7 813.2,621.8 813.5,621.3 813.9,619.8 814.2,618.7 814.6,620.9 814.9,618.2 815.3,618.7 815.6,619.1 816.0,619.3 816.3,618.0 816.7,619.7 817.0,621.1 817.3,617.1 817.7,616.5 818.0,618.9 818.4,620.0 818.7,620.6 819.1,620.4 819.4,619.8 819.8,623.2 820.1,621.1 820.5,620.2 820.8,621.1 821.1,620.6 821.5,619.8 821.8,620.6 822.2,619.5 822.5,619.5 822.9,622.2 823.2,617.5 823.6,619.3 823.9,619.1 824.3,621.2 824.6,618.5 824.9,620.6 825.3,620.8 825.6,621.4 826.0,621.7 826.3,620.5 826.7,619.5 827.0,620.4 827.4,618.0 827.7,622.2 828.1,619.1 828.4,620.2 828.7,620.0 829.1,623.8 829.4,619.8 829.8,620.4 830.1,622.9 830.5,621.5 830.8,619.9 831.2,622.5 831.5,620.6 831.9,622.3 832.2,623.1 832.5,620.0 832.9,619.5 833.2,620.3 833.6,622.2 833.9,624.4 834.3,622.3 834.6,622.5 835.0,620.8 835.3,621.6 835.7,622.0 836.0,618.7 836.3,621.0 836.7,620.9 837.0,621.7 837.4,623.2 837.7,621.9 838.1,623.0 838.4,622.6 838.8,622.5 839.1,621.1 839.5,621.5 839.8,621.8 840.1,621.1 840.5,622.2 840.8,620.4 841.2,622.9 841.5,621.6 841.9,619.5 842.2,623.3 842.6,623.6 842.9,623.3 843.3,620.3 843.6,620.1 843.9,621.0 844.3,620.3 844.6,622.4 845.0,620.2 845.3,620.6 845.7,621.8 846.0,620.9 846.4,619.5 846.7,621.4 847.1,620.2 847.4,621.4 847.7,621.2 848.1,621.0 848.4,619.3 848.8,619.8 849.1,621.1 849.5,618.6 849.8,622.8 850.2,620.7 850.5,620.8 850.9,618.9 851.2,619.7 851.5,619.5 851.9,617.7 852.2,618.5 852.6,622.2 852.9,618.6 853.3,620.3 853.6,621.6 854.0,619.4 854.3,620.5 854.7,619.7 855.0,619.4 855.3,621.6 855.7,619.4 856.0,616.7 856.4,618.2 856.7,619.5 857.1,621.0 857.4,618.7 857.8,621.8 858.1,617.0 858.5,618.8 858.8,619.7 859.1,619.1 859.5,618.6 859.8,620.8 860.2,617.7 860.5,618.6 860.9,619.1 861.2,616.9 861.6,619.4 861.9,619.8 862.3,619.9 862.6,621.2 862.9,618.5 863.3,620.7 863.6,619.8 864.0,618.6 864.3,617.7 864.7,621.0 865.0,616.6 865.4,620.5 865.7,619.5 866.1,621.0 866.4,618.1 866.7,616.8 867.1,619.7 867.4,620.2 867.8,620.5 868.1,619.4 868.5,619.0 868.8,619.0 869.2,620.1 869.5,617.6 869.9,619.3 870.2,619.9 870.5,622.0 870.9,619.0 871.2,618.0 871.6,622.2 871.9,620.1 872.3,621.1 872.6,618.6 873.0,617.4 873.3,619.2 873.7,620.5 874.0,621.0 874.3,621.3 874.7,618.8 875.0,620.1 875.4,617.4 875.7,618.3 876.1,619.3 876.4,619.9 876.8,622.0 877.1,621.1 877.5,622.2 877.8,617.6 878.2,620.6 878.5,618.5 878.8,621.7 879.2,619.8 879.5,620.8 879.9,621.6 880.2,620.6 880.6,618.9 880.9,619.4 881.3,619.0 881.6,619.4 882.0,619.8 882.3,621.6 882.6,617.5 883.0,624.6 883.3,620.5 883.7,620.9 884.0,619.9 884.4,620.2 884.7,620.4 885.1,619.7 885.4,622.7 885.8,620.6 886.1,621.0 886.4,620.3 886.8,625.6 887.1,620.3 887.5,622.0 887.8,623.0 888.2,619.7 888.5,620.0 888.9,619.7 889.2,621.9 889.6,622.2 889.9,622.9 890.2,620.1 890.6,621.6 890.9,620.8 891.3,622.2 891.6,617.4 892.0,624.4 892.3,620.5 892.7,622.8 893.0,620.2 893.4,622.0 893.7,620.7 894.0,620.8 894.4,623.8 894.7,624.3 895.1,620.0 895.4,621.1 895.8,619.4 896.1,623.5 896.5,622.9 896.8,622.6 897.2,619.8 897.5,621.8 897.8,620.9 898.2,620.8 898.5,621.5 898.9,622.7 899.2,623.2 899.6,622.2 899.9,623.3 900.3,621.8 900.6,621.3 901.0,622.1 901.3,621.7 901.6,621.6 902.0,623.6 902.3,622.9 902.7,621.7 903.0,621.1 903.4,622.2 903.7,622.5 904.1,621.0 904.4,620.0 904.8,618.4 905.1,624.0 905.4,621.4 905.8,621.1 906.1,622.6 906.5,623.8 906.8,619.7 907.2,623.6 907.5,623.1 907.9,622.8 908.2,620.6 908.6,620.9 908.9,621.9 909.2,621.4 909.6,621.0 909.9,622.4 910.3,621.8 910.6,619.9 911.0,618.6 911.3,620.7 911.7,620.8 912.0,619.1 912.4,619.3 912.7,618.6 913.0,620.3 913.4,618.0 913.7,621.9 914.1,620.1 914.4,620.8 914.8,623.7 915.1,620.7 915.5,618.2 915.8,622.1 916.2,620.2 916.5,618.1 916.8,618.2 917.2,620.0 917.5,619.6 917.9,622.3 918.2,618.9 918.6,620.8 918.9,620.6 919.3,618.6 919.6,620.6 920.0,619.7 920.3,619.6 920.6,619.9 921.0,621.4 921.3,620.5 921.7,622.9 922.0,619.5 922.4,618.5 922.7,620.8 923.1,616.6 923.4,622.4 923.8,623.2 924.1,622.0 924.4,620.6 924.8,619.3 925.1,620.6 925.5,618.4 925.8,620.2 926.2,619.8 926.5,620.5 926.9,617.8 927.2,620.0 927.6,618.9 927.9,618.0 928.2,618.3 928.6,619.5 928.9,619.9 929.3,614.3 929.6,618.3 930.0,621.5 930.3,622.0 930.7,619.8 931.0,618.8 931.4,618.0 931.7,621.9 932.0,619.0 932.4,620.3 932.7,616.8 933.1,617.9 933.4,621.5 933.8,620.2 934.1,619.3 934.5,616.5 934.8,619.7 935.2,619.8 935.5,620.7 935.8,616.9 936.2,617.1 936.5,619.0 936.9,618.8 937.2,618.3 937.6,617.9 937.9,617.2 938.3,618.7 938.6,617.0 939.0,618.1 939.3,619.6 939.6,617.3 940.0,618.3 940.3,621.9 940.7,616.7 941.0,617.8 941.4,618.9 941.7,620.6 942.1,619.8 942.4,620.6 942.8,619.8 943.1,617.4 943.4,617.6 943.8,618.3 944.1,618.8 944.5,620.2 944.8,617.7 945.2,618.9 945.5,619.6 945.9,615.7 946.2,618.7 946.6,618.3 946.9,617.5 947.3,617.3 947.6,614.5 947.9,615.6 948.3,617.8 948.6,616.7 949.0,619.4 949.3,616.2 949.7,616.3 950.0,619.0 950.4,617.4 950.7,618.8 951.1,616.2 951.4,615.7 951.7,619.1 952.1,618.3 952.4,615.2 952.8,615.6 953.1,620.5 953.5,617.2 953.8,620.7 954.2,616.9 954.5,616.6 954.9,617.3 955.2,618.7 955.5,616.4 955.9,615.9 956.2,615.8 956.6,615.6 956.9,616.6 957.3,618.3 957.6,616.7 958.0,614.8 958.3,615.2 958.7,614.4 959.0,615.4 959.3,613.0 959.7,616.6 960.0,615.5 960.4,614.4 960.7,614.9 961.1,614.8 961.4,615.1 961.8,614.8 962.1,616.2 962.5,615.8 962.8,611.1 963.1,614.7 963.5,617.8 963.8,613.1 964.2,614.6 964.5,613.2 964.9,611.2 965.2,615.7 965.6,614.8 965.9,609.9 966.3,612.9 966.6,614.1 966.9,614.1 967.3,610.6 967.6,614.0 968.0,613.0 968.3,610.3 968.7,612.0 969.0,613.4 969.4,613.8 969.7,611.8 970.1,614.2 970.4,611.8 970.7,612.3 971.1,612.8 971.4,609.8 971.8,611.3 972.1,609.1 972.5,608.3 972.8,609.6 973.2,609.2 973.5,610.2 973.9,611.0 974.2,609.7 974.5,608.5 974.9,609.7 975.2,607.5 975.6,608.8 975.9,610.6 976.3,608.1 976.6,604.4 977.0,603.4 977.3,608.9 977.7,608.3 978.0,606.7 978.3,608.4 978.7,606.9 979.0,606.9 979.4,604.0 979.7,607.4 980.1,608.3 980.4,607.5 980.8,604.8 981.1,604.8 981.5,606.0 981.8,603.1 982.1,605.0 982.5,601.8 982.8,605.2 983.2,604.7 983.5,604.7 983.9,602.7 984.2,599.4 984.6,601.6 984.9,601.2 985.3,600.1 985.6,599.9 985.9,603.4 986.3,600.0 986.6,600.8 987.0,599.6 987.3,597.0 987.7,598.3 988.0,596.8 988.4,598.4 988.7,594.9 989.1,593.8 989.4,595.3 989.7,595.3 990.1,593.5 990.4,593.0 990.8,593.5 991.1,592.6 991.5,591.6 991.8,593.2 992.2,591.3 992.5,592.0 992.9,590.7 993.2,587.7 993.5,588.1 993.9,589.5 994.2,587.4 994.6,589.4 994.9,585.5 995.3,584.3 995.6,582.0 996.0,579.5 996.3,580.4 996.7,584.4 997.0,577.3 997.3,582.3 997.7,580.1 998.0,573.5 998.4,575.1 998.7,577.6 999.1,576.7 999.4,574.7 999.8,572.7 1000.1,572.9 1000.5,570.5 1000.8,564.9 1001.1,565.7 1001.5,562.7 1001.8,563.8 1002.2,566.0 1002.5,559.4 1002.9,556.4 1003.2,559.1 1003.6,552.2 1003.9,554.7 1004.3,553.8 1004.6,554.7 1004.9,550.8 1005.3,551.8 1005.6,545.4 1006.0,545.7 1006.3,540.9 1006.7,541.7 1007.0,540.4 1007.4,535.3 1007.7,534.5 1008.1,532.4 1008.4,533.2 1008.7,528.0 1009.1,525.1 1009.4,522.8 1009.8,516.1 1010.1,517.8 1010.5,517.0 1010.8,512.8 1011.2,510.6 1011.5,508.8 1011.9,507.7 1012.2,503.8 1012.5,501.0 1012.9,498.5 1013.2,493.5 1013.6,490.5 1013.9,487.7 1014.3,487.4 1014.6,482.2 1015.0,482.4 1015.3,476.9 1015.7,475.5 1016.0,474.9 1016.4,474.6 1016.7,468.7 1017.0,461.9 1017.4,463.1 1017.7,462.8 1018.1,461.9 1018.4,458.3 1018.8,455.7 1019.1,459.2 1019.5,458.7 1019.8,459.5 1020.2,459.2 1020.5,464.0 1020.8,462.3 1021.2,466.6 1021.5,469.5 1021.9,471.5 1022.2,474.4 1022.6,479.4 1022.9,482.1 1023.3,481.3 1023.6,482.3 1024.0,484.0 1024.3,486.4 1024.6,489.0 1025.0,494.2 1025.3,495.9 1025.7,495.3 1026.0,498.1 1026.4,503.8 1026.7,500.2 1027.1,506.5 1027.4,509.8 1027.8,508.7 1028.1,512.9 1028.4,514.6 1028.8,515.8 1029.1,515.3 1029.5,519.2 1029.8,518.7 1030.2,521.0 1030.5,527.3 1030.9,525.7 1031.2,525.1 1031.6,531.5 1031.9,534.0 1032.2,535.8 1032.6,536.2 1032.9,537.1 1033.3,533.1 1033.6,541.0 1034.0,539.4 1034.3,542.0 1034.7,545.3 1035.0,546.2 1035.4,546.8 1035.7,550.3 1036.0,552.5 1036.4,549.3 1036.7,550.2 1037.1,557.3 1037.4,555.9 1037.8,555.1 1038.1,554.6 1038.5,558.3 1038.8,562.1 1039.2,558.0 1039.5,561.6 1039.8,559.0 1040.2,564.2 1040.5,563.4 1040.9,567.3 1041.2,565.8 1041.6,565.8 1041.9,564.8 1042.3,565.2 1042.6,567.0 1043.0,569.7 1043.3,569.3 1043.6,570.4 1044.0,570.8 1044.3,572.8 1044.7,575.1 1045.0,572.7 1045.4,574.5 1045.7,570.1 1046.1,569.7 1046.4,572.2 1046.8,575.7 1047.1,572.8 1047.4,573.1 1047.8,577.4 1048.1,576.3 1048.5,576.5 1048.8,575.7 1049.2,579.0 1049.5,578.4 1049.9,578.2 1050.2,576.4 1050.6,576.3 1050.9,582.6 1051.2,578.3 1051.6,579.0 1051.9,578.9 1052.3,577.7 1052.6,578.2 1053.0,581.6 1053.3,577.0 1053.7,583.7 1054.0,578.6 1054.4,578.0 1054.7,577.7 1055.0,582.4 1055.4,587.2 1055.7,584.9 1056.1,584.3 1056.4,582.8 1056.8,585.1 1057.1,584.4 1057.5,584.4 1057.8,585.0 1058.2,588.1 1058.5,587.1 1058.8,588.4 1059.2,585.0 1059.5,587.7 1059.9,587.0 1060.2,582.8 1060.6,583.9 1060.9,587.7 1061.3,586.1 1061.6,588.3 1062.0,586.6 1062.3,586.4 1062.6,584.9 1063.0,582.5 1063.3,588.7 1063.7,585.8 1064.0,586.7 1064.4,585.7 1064.7,588.3 1065.1,586.6 1065.4,586.1 1065.8,586.2 1066.1,586.4 1066.4,587.5 1066.8,588.5 1067.1,582.1 1067.5,585.9 1067.8,587.3 1068.2,590.2 1068.5,589.6 1068.9,586.8 1069.2,586.1 1069.6,588.1 1069.9,586.2 1070.2,589.6 1070.6,591.8 1070.9,590.7 1071.3,590.4 1071.6,586.7 1072.0,584.1 1072.3,586.1 1072.7,589.4 1073.0,592.4 1073.4,590.8 1073.7,589.2 1074.0,586.7 1074.4,589.3 1074.7,586.8 1075.1,585.3 1075.4,586.4 1075.8,586.0 1076.1,591.4 1076.5,586.4 1076.8,589.9 1077.2,588.0 1077.5,587.4 1077.8,588.0 1078.2,587.6 1078.5,591.0 1078.9,584.1 1079.2,585.0 1079.6,586.3 1079.9,586.7 1080.3,582.0 1080.6,583.3 1081.0,586.2 1081.3,582.5 1081.6,581.6 1082.0,580.7 1082.3,579.1 1082.7,581.6 1083.0,576.5 1083.4,578.9 1083.7,577.7 1084.1,573.0 1084.4,575.9 1084.8,575.5 1085.1,576.4 1085.5,572.6 1085.8,570.4 1086.1,570.0 1086.5,565.6 1086.8,568.5 1087.2,567.5 1087.5,562.4 1087.9,559.9 1088.2,559.9 1088.6,561.1 1088.9,559.8 1089.3,562.7 1089.6,560.1 1089.9,558.1 1090.3,559.9 1090.6,558.5 1091.0,556.8 1091.3,556.3 1091.7,557.6 1092.0,561.3 1092.4,560.8 1092.7,563.8 1093.1,559.8 1093.4,562.6 1093.7,561.4 1094.1,562.7 1094.4,563.3 1094.8,563.7 1095.1,570.2 1095.5,569.1 1095.8,568.5 1096.2,570.0 1096.5,574.1 1096.9,576.2 1097.2,578.0 1097.5,576.9 1097.9,578.2 1098.2,578.7 1098.6,584.6 1098.9,585.1 1099.3,589.5 1099.6,587.4 1100.0,589.9 1100.3,589.5 1100.7,588.7 1101.0,595.1 1101.3,590.9 1101.7,596.5 1102.0,598.3 1102.4,594.9 1102.7,596.8 1103.1,598.3 1103.4,598.3 1103.8,601.5 1104.1,597.5 1104.5,598.6 1104.8,602.1 1105.1,600.6 1105.5,604.1 1105.8,601.5 1106.2,602.4 1106.5,606.7 1106.9,603.3 1107.2,603.1 1107.6,605.0 1107.9,605.8 1108.3,606.1 1108.6,606.0 1108.9,609.8 1109.3,605.2 1109.6,607.2 1110.0,608.7 1110.3,605.7 1110.7,609.7 1111.0,609.4 1111.4,606.6 1111.7,611.1 1112.1,611.4 1112.4,607.1 1112.7,610.9 1113.1,608.7 1113.4,609.8 1113.8,611.1 1114.1,611.3 1114.5,610.2 1114.8,609.4 1115.2,612.9 1115.5,610.1 1115.9,611.2 1116.2,610.6 1116.5,611.9 1116.9,610.5 1117.2,612.4 1117.6,612.5 1117.9,613.3 1118.3,613.8 1118.6,616.3 1119.0,613.1 1119.3,613.3 1119.7,612.8 1120.0,612.3 1120.3,616.4 1120.7,613.3 1121.0,611.8 1121.4,613.4 1121.7,616.2 1122.1,613.0 1122.4,617.6 1122.8,616.7 1123.1,615.8 1123.5,614.6 1123.8,614.8 1124.1,617.3 1124.5,616.7 1124.8,615.6 1125.2,613.8 1125.5,617.4 1125.9,614.5 1126.2,617.7 1126.6,616.5 1126.9,616.6 1127.3,616.8 1127.6,616.0 1127.9,617.1 1128.3,618.4 1128.6,617.8 1129.0,618.5 1129.3,617.4 1129.7,617.6 1130.0,616.2 1130.4,615.6 1130.7,620.7 1131.1,618.3 1131.4,619.6 1131.7,616.9 1132.1,620.5 1132.4,620.8 1132.8,616.8 1133.1,619.0 1133.5,614.6 1133.8,616.9 1134.2,617.4 1134.5,618.3 1134.9,618.8 1135.2,617.0 1135.5,618.2 1135.9,617.2 1136.2,620.8 1136.6,614.6 1136.9,616.5 1137.3,617.4 1137.6,617.4 1138.0,613.1 1138.3,615.6 1138.7,618.0 1139.0,617.6 1139.3,613.2 1139.7,616.3 1140.0,617.5 1140.4,616.8 1140.7,616.3 1141.1,613.2 1141.4,614.8 1141.8,616.2 1142.1,619.1 1142.5,615.8 1142.8,617.1 1143.1,615.5 1143.5,617.1 1143.8,619.3 1144.2,616.8 1144.5,617.0 1144.9,619.1 1145.2,615.7 1145.6,617.4 1145.9,616.1 1146.3,619.0 1146.6,617.0 1146.9,619.4 1147.3,620.6 1147.6,616.4 1148.0,619.9 1148.3,620.1 1148.7,617.6 1149.0,616.7 1149.4,619.9 1149.7,618.2 1150.1,617.6 1150.4,618.8 1150.7,618.0 1151.1,618.8 1151.4,620.1 1151.8,619.4 1152.1,617.5 1152.5,619.1 1152.8,617.2 1153.2,616.7 1153.5,619.2 1153.9,620.3 1154.2,616.0 1154.6,621.1 1154.9,623.0 1155.2,622.2 1155.6,614.1 1155.9,620.5 1156.3,619.8 1156.6,620.9 1157.0,621.9 1157.3,620.1 1157.7,617.1 1158.0,618.7 1158.4,620.1 1158.7,620.2 1159.0,621.1 1159.4,620.2 1159.7,622.4 1160.1,618.5 1160.4,619.2 1160.8,621.6 1161.1,620.8 1161.5,623.6 1161.8,618.7 1162.2,617.2 1162.5,619.8 1162.8,622.2 1163.2,619.1 1163.5,618.7 1163.9,621.4 1164.2,620.6 1164.6,620.8 1164.9,620.1 1165.3,618.2 1165.6,624.3 1166.0,619.4 1166.3,622.4 1166.6,617.8 1167.0,619.6 1167.3,617.9 1167.7,618.3 1168.0,618.1 1168.4,621.5 1168.7,620.4 1169.1,621.3 1169.4,621.3 1169.8,618.4 1170.1,620.2 1170.4,618.0 1170.8,623.4 1171.1,621.9 1171.5,620.5 1171.8,617.8 1172.2,622.6 1172.5,619.6 1172.9,618.8 1173.2,617.9 1173.6,623.5 1173.9,622.6 1174.2,620.1 1174.6,622.3 1174.9,618.0 1175.3,623.2 1175.6,621.3 1176.0,623.8 1176.3,621.9 1176.7,619.9 1177.0,618.4 1177.4,622.9 1177.7,619.2 1178.0,622.5 1178.4,622.9 1178.7,619.5 1179.1,622.2 1179.4,623.0 1179.8,621.5 1180.1,620.0 1180.5,618.1 1180.8,622.1 1181.2,620.7 1181.5,619.7 1181.8,620.1 1182.2,620.8 1182.5,624.9 1182.9,621.1 1183.2,622.9 1183.6,619.8 1183.9,623.7 1184.3,621.2 1184.6,621.9 1185.0,620.2 1185.3,620.4 1185.6,619.4 1186.0,622.5 1186.3,623.0 1186.7,622.5 1187.0,621.3 1187.4,621.6 1187.7,623.3 1188.1,621.2 1188.4,620.6 1188.8,621.6 1189.1,620.7 1189.4,622.5 1189.8,621.0 1190.1,619.3 1190.5,618.9 1190.8,618.8 1191.2,623.6 1191.5,621.2 1191.9,623.3 1192.2,623.6 1192.6,620.8 1192.9,625.1 1193.2,621.0 1193.6,622.0 1193.9,620.0 1194.3,621.9 1194.6,620.6 1195.0,622.2 1195.3,624.2 1195.7,622.3 1196.0,619.2 1196.4,618.9 1196.7,619.6 1197.0,624.2 1197.4,620.4 1197.7,617.6 1198.1,620.1 1198.4,621.7 1198.8,620.1 1199.1,622.8 1199.5,623.3 1199.8,620.1 1200.2,623.3 1200.5,620.0 1200.8,624.1 1201.2,620.4 1201.5,623.6 1201.9,621.1 1202.2,620.0 1202.6,621.1 1202.9,621.5 1203.3,619.6 1203.6,622.1 1204.0,619.4 1204.3,619.4 1204.6,621.3 1205.0,622.3 1205.3,619.6 1205.7,621.7 1206.0,623.4 1206.4,621.4 1206.7,620.4 1207.1,623.1 1207.4,623.9 1207.8,620.9 1208.1,621.7 1208.4,620.8 1208.8,622.2 1209.1,623.1 1209.5,620.1 1209.8,624.3 1210.2,621.4 1210.5,620.9 1210.9,622.1 1211.2,621.6 1211.6,621.6 1211.9,617.5 1212.2,624.6 1212.6,622.2 1212.9,621.5 1213.3,623.2 1213.6,621.1 1214.0,621.0 1214.3,623.6 1214.7,620.2 1215.0,621.4 1215.4,623.0 1215.7,621.8 1216.0,622.4 1216.4,619.6 1216.7,618.5 1217.1,622.8 1217.4,622.8 1217.8,623.7 1218.1,624.5 1218.5,621.7 1218.8,622.3 1219.2,623.4 1219.5,619.2 1219.8,621.5 1220.2,621.0 1220.5,622.2 1220.9,624.1 1221.2,621.6 1221.6,620.6 1221.9,620.2 1222.3,620.0 1222.6,621.7 1223.0,617.9 1223.3,623.2 1223.7,621.8 1224.0,621.2 1224.3,621.7 1224.7,621.2 1225.0,623.9 1225.4,619.4 1225.7,618.8 1226.1,622.4 1226.4,619.6 1226.8,622.2 1227.1,622.6 1227.5,618.8 1227.8,621.7 1228.1,622.9 1228.5,620.9 1228.8,620.2 1229.2,623.9 1229.5,620.1 1229.9,622.1 1230.2,623.1 1230.6,620.2 1230.9,622.8 1231.3,620.6 1231.6,622.5 1231.9,621.9 1232.3,623.9 1232.6,623.6 1233.0,623.6 1233.3,620.5 1233.7,622.3 1234.0,620.9 1234.4,625.7 1234.7,621.7 1235.1,621.9 1235.4,620.7 1235.7,621.8 1236.1,620.4 1236.4,622.6 1236.8,623.0 1237.1,620.4 1237.5,620.8 1237.8,623.1 1238.2,621.3 1238.5,622.8 1238.9,620.4 1239.2,626.5 1239.5,617.9 1239.9,622.2 1240.2,622.5 1240.6,623.3 1240.9,620.4 1241.3,621.6 1241.6,622.1 1242.0,621.4 1242.3,623.1 1242.7,621.6 1243.0,624.1 1243.3,621.2 1243.7,619.8 1244.0,623.5 1244.4,621.8 1244.7,621.0 1245.1,623.1 1245.4,622.3 1245.8,623.0 1246.1,619.9 1246.5,622.7 1246.8,623.6 1247.1,622.5 1247.5,620.6 1247.8,623.7 1248.2,623.6 1248.5,620.2 1248.9,620.1 1249.2,621.0 1249.6,622.5 1249.9,621.3 1250.3,621.1 1250.6,619.8 1250.9,622.6 1251.3,624.3 1251.6,621.9 1252.0,624.4 1252.3,621.4 1252.7,626.0 1253.0,619.7 1253.4,623.1 1253.7,621.3 1254.1,623.1 1254.4,618.8 1254.7,621.6 1255.1,623.9 1255.4,623.4 1255.8,623.4 1256.1,623.4 1256.5,620.9 1256.8,622.1 1257.2,624.0 1257.5,618.9 1257.9,624.2 1258.2,624.1 1258.5,621.6 1258.9,622.2 1259.2,622.6 1259.6,621.0 1259.9,620.5 1260.3,621.7 1260.6,624.5 1261.0,618.8 1261.3,623.0 1261.7,625.7 1262.0,622.2 1262.3,622.0 1262.7,620.5 1263.0,620.0 1263.4,620.8 1263.7,622.8 1264.1,620.4 1264.4,623.2 1264.8,620.6 1265.1,622.2 1265.5,623.3 1265.8,621.2 1266.1,622.8 1266.5,620.5 1266.8,620.8 1267.2,622.5 1267.5,624.3 1267.9,619.3 1268.2,622.9 1268.6,618.0 1268.9,620.9 1269.3,619.9 1269.6,620.9 1269.9,620.9 1270.3,619.1 1270.6,623.7 1271.0,622.6 1271.3,620.9 1271.7,624.4 1272.0,623.3 1272.4,622.4 1272.7,622.5 1273.1,621.0 1273.4,622.3 1273.7,619.0 1274.1,622.0 1274.4,622.0 1274.8,622.4 1275.1,621.3 1275.5,620.9 1275.8,620.8 1276.2,626.4 1276.5,623.7 1276.9,623.2 1277.2,620.7 1277.5,622.8 1277.9,621.5 1278.2,619.4 1278.6,623.4 1278.9,619.9 1279.3,620.7 1279.6,622.7 1280.0,621.8 1280.3,617.1 1280.7,619.2 1281.0,618.7 1281.3,624.8 1281.7,621.4 1282.0,620.9 1282.4,622.7 1282.7,621.9 1283.1,620.4 1283.4,624.5 1283.8,625.1 1284.1,622.5 1284.5,620.2 1284.8,623.0 1285.1,622.5 1285.5,623.1 1285.8,624.2 1286.2,622.6 1286.5,623.3 1286.9,622.7 1287.2,620.6 1287.6,620.6 1287.9,620.4 1288.3,621.2 1288.6,619.7 1288.9,621.8 1289.3,624.2 1289.6,621.2 1290.0,622.6 1290.3,621.1 1290.7,620.8 1291.0,621.9 1291.4,621.7 1291.7,619.2 1292.1,621.1 1292.4,621.1 1292.8,622.4 1293.1,621.2 1293.4,619.2 1293.8,620.7 1294.1,620.0 1294.5,621.0 1294.8,622.0 1295.2,620.0 1295.5,622.3 1295.9,624.6 1296.2,621.8 1296.6,621.7 1296.9,620.9 1297.2,622.5 1297.6,623.5 1297.9,622.7 1298.3,621.6 1298.6,625.5 1299.0,623.5 1299.3,622.3 1299.7,619.6 1300.0,623.3 1300.4,622.4 1300.7,620.6 1301.0,622.7 1301.4,623.6 1301.7,625.7 1302.1,625.0 1302.4,620.7 1302.8,622.5 1303.1,624.4 1303.5,623.8 1303.8,621.9 1304.2,618.4 1304.5,622.0 1304.8,621.7 1305.2,620.9 1305.5,623.6 1305.9,624.2 1306.2,621.6 1306.6,622.5 1306.9,621.9 1307.3,624.2 1307.6,625.5 1308.0,622.3 1308.3,624.3 1308.6,623.7 1309.0,621.1 1309.3,621.3 1309.7,623.6 1310.0,619.7 1310.4,622.3 1310.7,624.1 1311.1,620.6 1311.4,622.8 1311.8,620.8 1312.1,623.5 1312.4,622.0 1312.8,624.3 1313.1,622.1 1313.5,623.6 1313.8,622.0 1314.2,623.1 1314.5,622.2 1314.9,624.7 1315.2,624.5 1315.6,623.6 1315.9,621.9 1316.2,625.7 1316.6,625.2 1316.9,623.8 1317.3,623.3 1317.6,620.8 1318.0,624.1 1318.3,624.2 1318.7,622.5 1319.0,622.9 1319.4,623.7 1319.7,624.2 1320.0,622.1 1320.4,621.8 1320.7,624.9 1321.1,626.2 1321.4,626.7 1321.8,621.7 1322.1,624.3 1322.5,622.4 1322.8,624.5 1323.2,625.5 1323.5,624.2 1323.8,620.1 1324.2,622.9 1324.5,623.1 1324.9,624.6 1325.2,621.3 1325.6,625.2 1325.9,622.7 1326.3,624.9 1326.6,621.0 1327.0,628.2 1327.3,624.2 1327.6,623.5 1328.0,623.2 1328.3,624.8 1328.7,622.8 1329.0,623.4 1329.4,623.9 1329.7,625.7 1330.1,622.8 1330.4,622.7 1330.8,622.2 1331.1,622.3 1331.4,622.2 1331.8,624.0 1332.1,624.4 1332.5,621.9 1332.8,626.1 1333.2,625.2 1333.5,623.7 1333.9,623.1 1334.2,623.5 1334.6,623.2 1334.9,621.1 1335.2,624.6 1335.6,623.0 1335.9,624.7 1336.3,625.5 1336.6,623.5 1337.0,624.0 1337.3,624.7 1337.7,623.8 1338.0,623.8 1338.4,623.8 1338.7,625.8 1339.0,624.3 1339.4,623.4 1339.7,626.0 1340.1,623.4 1340.4,624.2 1340.8,624.4 1341.1,624.7 1341.5,625.1 1341.8,623.1 1342.2,624.8 1342.5,621.0 1342.8,624.7 1343.2,623.4 1343.5,623.6 1343.9,625.3 1344.2,625.4 1344.6,621.5 1344.9,623.5 1345.3,624.8 1345.6,621.9 1346.0,622.4 1346.3,622.6 1346.6,624.5 1347.0,624.4 1347.3,623.3 1347.7,624.1 1348.0,624.6 1348.4,624.4 1348.7,623.0 1349.1,626.1 1349.4,625.6 1349.8,625.2 1350.1,622.0 1350.4,624.0 1350.8,622.6 1351.1,622.9 1351.5,622.7 1351.8,625.3 1352.2,626.0 1352.5,626.1 1352.9,625.5 1353.2,625.0 1353.6,625.1 1353.9,623.7 1354.2,623.8 1354.6,621.4 1354.9,625.6 1355.3,623.1 1355.6,623.6 1356.0,623.1 1356.3,623.1 1356.7,625.2 1357.0,625.0 1357.4,622.5 1357.7,626.4 1358.0,623.9 1358.4,623.2 1358.7,622.3 1359.1,625.2 1359.4,625.2 1359.8,625.7 1360.1,621.4 1360.5,624.0 1360.8,622.4 1361.2,625.6 1361.5,626.2 1361.9,622.9 1362.2,621.5 1362.5,624.0 1362.9,625.4 1363.2,623.7 1363.6,621.3 1363.9,625.3 1364.3,623.3 1364.6,626.5 1365.0,626.9 1365.3,621.9 1365.7,625.8 1366.0,623.4 1366.3,624.1 1366.7,625.7 1367.0,624.0 1367.4,624.5 1367.7,622.5 1368.1,626.4 1368.4,626.9 1368.8,627.4 1369.1,625.7 1369.5,623.5 1369.8,625.0 1370.1,622.4 1370.5,622.7 1370.8,623.9 1371.2,624.6 1371.5,624.3 1371.9,625.7 1372.2,623.6 1372.6,624.8 1372.9,622.1 1373.3,625.2 1373.6,623.4 1373.9,623.9 1374.3,625.0 1374.6,624.3 1375.0,622.3 1375.3,625.5 1375.7,622.1 1376.0,623.8 1376.4,624.4 1376.7,625.0 1377.1,624.4 1377.4,624.9 1377.7,626.8 1378.1,623.2 1378.4,625.9 1378.8,622.8 1379.1,623.6 1379.5,622.9 1379.8,622.0 1380.2,626.8 1380.5,624.7 1380.9,625.7 1381.2,623.6 1381.5,624.5 1381.9,626.3 1382.2,624.9 1382.6,623.4 1382.9,623.4 1383.3,624.1 1383.6,627.8 1384.0,627.1 1384.3,623.0 1384.7,624.6 1385.0,625.0 1385.3,625.3 1385.7,621.8 1386.0,625.1 1386.4,625.6 1386.7,623.7 1387.1,625.4 1387.4,626.8 1387.8,624.5 1388.1,625.3 1388.5,626.3 1388.8,624.5 1389.1,624.7 1389.5,625.4 1389.8,622.7 1390.2,621.8 1390.5,625.6 1390.9,624.8 1391.2,625.1 1391.6,624.8 1391.9,626.9 1392.3,626.4 1392.6,625.7 1392.9,626.7 1393.3,624.1 1393.6,623.2 1394.0,626.1 1394.3,622.2 1394.7,623.6 1395.0,622.0 1395.4,624.2 1395.7,625.9 1396.1,624.5 1396.4,623.4 1396.7,624.4 1397.1,623.9 1397.4,627.4 1397.8,626.5 1398.1,624.7 1398.5,626.8 1398.8,626.0 1399.2,625.9 1399.5,624.5 1399.9,626.7 1400.2,625.7 1400.5,624.9 1400.9,625.2 1401.2,624.4 1401.6,623.2 1401.9,624.2 1402.3,626.1 1402.6,625.2 1403.0,627.7 1403.3,625.2 1403.7,624.2 1404.0,626.6 1404.3,625.7 1404.7,625.0 1405.0,624.8 1405.4,625.4 1405.7,625.0 1406.1,627.7 1406.4,626.4 1406.8,625.3 1407.1,625.3 1407.5,625.1 1407.8,627.3 1408.1,626.3 1408.5,624.3 1408.8,625.1 1409.2,624.0 1409.5,626.5 1409.9,625.9 1410.2,629.2 1410.6,625.8 1410.9,625.4 1411.3,625.6 1411.6,623.8" fill="none" stroke="#000000" stroke-width="1.4" stroke-linejoin="round"/>
<path d="M83.5,379.9 83.8,386.0 84.2,381.8 84.5,374.4 84.9,376.5 85.2,382.3 85.6,379.2 85.9,384.2 86.3,372.7 86.6,388.2 87.0,387.7 87.3,375.5 87.6,380.1 88.0,379.3 88.3,380.4 88.7,385.9 89.0,380.6 89.4,379.4 89.7,385.9 90.1,388.6 90.4,382.3 90.8,385.3 91.1,379.2 91.4,388.6 91.8,393.8 92.1,387.8 92.5,385.7 92.8,378.5 93.2,385.3 93.5,379.1 93.9,390.1 94.2,394.2 94.6,393.1 94.9,388.7 95.2,390.3 95.6,386.2 95.9,389.9 96.3,390.3 96.6,389.7 97.0,380.0 97.3,391.3 97.7,392.3 98.0,388.1 98.4,392.9 98.7,394.6 99.0,383.8 99.4,395.5 99.7,390.5 100.1,388.4 100.4,393.6 100.8,390.4 101.1,391.9 101.5,390.2 101.8,391.8 102.2,390.2 102.5,392.9 102.8,391.4 103.2,390.8 103.5,400.2 103.9,396.7 104.2,398.6 104.6,403.8 104.9,400.3 105.3,398.3 105.6,394.6 106.0,402.0 106.3,401.2 106.6,403.6 107.0,399.8 107.3,399.3 107.7,393.4 108.0,403.4 108.4,396.1 108.7,400.3 109.1,404.3 109.4,403.1 109.8,402.8 110.1,405.2 110.4,397.5 110.8,404.5 111.1,409.2 111.5,409.2 111.8,400.0 112.2,409.1 112.5,407.6 112.9,402.9 113.2,401.8 113.6,406.5 113.9,412.3 114.2,409.4 114.6,404.6 114.9,408.7 115.3,412.4 115.6,408.6 116.0,407.5 116.3,411.1 116.7,402.3 117.0,411.5 117.4,405.4 117.7,410.2 118.1,412.0 118.4,410.4 118.7,408.5 119.1,410.0 119.4,414.5 119.8,407.0 120.1,408.8 120.5,413.3 120.8,415.2 121.2,412.6 121.5,410.9 121.9,415.5 122.2,411.8 122.5,420.6 122.9,418.2 123.2,420.4 123.6,410.6 123.9,412.4 124.3,413.3 124.6,410.1 125.0,412.8 125.3,418.1 125.7,411.4 126.0,414.1 126.3,420.5 126.7,416.5 127.0,417.4 127.4,415.8 127.7,413.7 128.1,414.8 128.4,417.2 128.8,414.4 129.1,416.7 129.5,415.1 129.8,416.6 130.1,422.4 130.5,419.3 130.8,412.8 131.2,416.8 131.5,424.0 131.9,424.1 132.2,413.9 132.6,419.6 132.9,418.3 133.3,409.7 133.6,419.6 133.9,425.6 134.3,416.4 134.6,418.0 135.0,422.5 135.3,417.8 135.7,418.0 136.0,420.6 136.4,414.9 136.7,421.7 137.1,415.6 137.4,420.5 137.7,423.3 138.1,426.3 138.4,418.2 138.8,421.8 139.1,422.0 139.5,415.2 139.8,421.2 140.2,422.5 140.5,423.7 140.9,428.7 141.2,422.6 141.5,422.2 141.9,422.2 142.2,422.6 142.6,424.5 142.9,428.3 143.3,419.6 143.6,423.4 144.0,415.4 144.3,418.0 144.7,424.3 145.0,416.8 145.3,425.2 145.7,428.6 146.0,421.5 146.4,422.1 146.7,424.7 147.1,423.1 147.4,424.8 147.8,422.8 148.1,428.2 148.5,426.5 148.8,425.5 149.1,418.3 149.5,423.7 149.8,426.3 150.2,428.7 150.5,424.3 150.9,428.7 151.2,429.7 151.6,425.1 151.9,429.6 152.3,426.8 152.6,423.9 152.9,427.6 153.3,432.3 153.6,429.4 154.0,428.4 154.3,431.3 154.7,431.1 155.0,429.6 155.4,423.1 155.7,421.0 156.1,424.2 156.4,435.0 156.7,432.1 157.1,425.0 157.4,432.8 157.8,425.9 158.1,431.2 158.5,433.8 158.8,430.7 159.2,433.9 159.5,434.3 159.9,426.3 160.2,431.7 160.5,433.7 160.9,430.8 161.2,428.3 161.6,437.5 161.9,434.0 162.3,431.5 162.6,430.8 163.0,433.7 163.3,437.9 163.7,432.9 164.0,436.3 164.3,436.0 164.7,434.6 165.0,435.7 165.4,436.1 165.7,433.2 166.1,432.0 166.4,438.9 166.8,441.5 167.1,439.2 167.5,435.0 167.8,438.0 168.1,436.6 168.5,434.2 168.8,435.7 169.2,437.3 169.5,441.0 169.9,436.2 170.2,443.4 170.6,440.3 170.9,444.1 171.3,443.8 171.6,441.6 171.9,441.7 172.3,442.6 172.6,442.8 173.0,444.3 173.3,448.0 173.7,444.6 174.0,447.7 174.4,446.1 174.7,442.4 175.1,445.2 175.4,445.9 175.7,446.8 176.1,443.3 176.4,447.9 176.8,443.1 177.1,444.6 177.5,447.3 177.8,446.1 178.2,443.2 178.5,442.2 178.9,444.7 179.2,444.4 179.5,453.0 179.9,443.8 180.2,443.0 180.6,453.9 180.9,442.7 181.3,446.1 181.6,449.5 182.0,448.3 182.3,449.4 182.7,453.3 183.0,455.8 183.3,449.8 183.7,450.5 184.0,448.7 184.4,448.2 184.7,448.7 185.1,450.8 185.4,449.0 185.8,451.4 186.1,449.4 186.5,447.8 186.8,450.2 187.2,450.6 187.5,450.1 187.8,450.5 188.2,453.4 188.5,448.3 188.9,454.9 189.2,450.7 189.6,452.3 189.9,456.5 190.3,455.7 190.6,448.0 191.0,454.4 191.3,457.5 191.6,451.1 192.0,452.7 192.3,458.0 192.7,450.7 193.0,459.5 193.4,450.9 193.7,452.8 194.1,453.5 194.4,453.9 194.8,457.5 195.1,456.7 195.4,456.2 195.8,456.4 196.1,451.4 196.5,454.3 196.8,459.3 197.2,453.1 197.5,460.6 197.9,456.3 198.2,454.0 198.6,459.3 198.9,459.4 199.2,455.6 199.6,456.0 199.9,455.4 200.3,456.2 200.6,451.6 201.0,456.3 201.3,462.0 201.7,457.2 202.0,459.8 202.4,461.2 202.7,459.5 203.0,457.9 203.4,457.9 203.7,458.0 204.1,460.6 204.4,458.8 204.8,462.1 205.1,465.1 205.5,461.7 205.8,456.5 206.2,461.5 206.5,460.2 206.8,459.7 207.2,458.9 207.5,460.3 207.9,470.0 208.2,469.9 208.6,466.2 208.9,459.0 209.3,462.1 209.6,464.7 210.0,460.9 210.3,463.6 210.6,465.0 211.0,466.3 211.3,463.3 211.7,463.1 212.0,461.5 212.4,461.3 212.7,462.6 213.1,461.9 213.4,464.4 213.8,463.2 214.1,461.7 214.4,466.4 214.8,461.4 215.1,464.0 215.5,463.7 215.8,460.7 216.2,462.3 216.5,463.0 216.9,460.8 217.2,458.7 217.6,469.5 217.9,460.5 218.2,461.4 218.6,461.6 218.9,462.2 219.3,464.6 219.6,464.5 220.0,460.6 220.3,463.2 220.7,464.1 221.0,461.7 221.4,465.3 221.7,463.0 222.0,464.8 222.4,459.5 222.7,467.1 223.1,461.9 223.4,459.6 223.8,459.9 224.1,460.3 224.5,463.3 224.8,456.2 225.2,459.8 225.5,465.4 225.8,465.8 226.2,459.5 226.5,462.9 226.9,463.1 227.2,461.9 227.6,461.0 227.9,464.8 228.3,461.9 228.6,463.2 229.0,464.8 229.3,460.0 229.6,460.1 230.0,468.7 230.3,459.9 230.7,465.7 231.0,465.9 231.4,462.9 231.7,461.8 232.1,462.5 232.4,460.7 232.8,462.8 233.1,462.2 233.4,461.4 233.8,461.9 234.1,465.2 234.5,463.0 234.8,462.5 235.2,468.3 235.5,463.1 235.9,464.9 236.2,460.9 236.6,460.5 236.9,464.7 237.2,466.1 237.6,455.5 237.9,465.4 238.3,465.7 238.6,463.7 239.0,465.4 239.3,460.9 239.7,464.8 240.0,460.8 240.4,463.2 240.7,462.8 241.0,464.2 241.4,460.2 241.7,464.5 242.1,464.8 242.4,466.9 242.8,462.2 243.1,465.1 243.5,461.9 243.8,465.0 244.2,461.8 244.5,460.6 244.8,461.8 245.2,467.5 245.5,467.1 245.9,463.3 246.2,463.3 246.6,463.9 246.9,458.7 247.3,467.8 247.6,459.9 248.0,459.0 248.3,461.6 248.6,459.3 249.0,462.5 249.3,463.1 249.7,460.3 250.0,461.4 250.4,459.1 250.7,456.0 251.1,456.9 251.4,465.3 251.8,459.4 252.1,454.6 252.4,456.2 252.8,456.6 253.1,460.6 253.5,458.6 253.8,461.8 254.2,462.8 254.5,459.1 254.9,458.6 255.2,460.2 255.6,455.5 255.9,455.7 256.3,451.7 256.6,457.9 256.9,453.3 257.3,456.2 257.6,461.6 258.0,451.5 258.3,453.6 258.7,452.1 259.0,451.7 259.4,456.5 259.7,450.3 260.1,455.3 260.4,454.8 260.7,457.4 261.1,450.0 261.4,451.6 261.8,457.7 262.1,450.5 262.5,456.1 262.8,458.9 263.2,452.3 263.5,453.9 263.9,459.4 264.2,454.2 264.5,460.2 264.9,461.6 265.2,459.0 265.6,459.2 265.9,459.8 266.3,458.6 266.6,462.9 267.0,463.1 267.3,461.7 267.7,462.9 268.0,458.9 268.3,460.4 268.7,457.7 269.0,462.2 269.4,466.4 269.7,465.2 270.1,463.5 270.4,464.1 270.8,464.4 271.1,468.5 271.5,463.0 271.8,469.5 272.1,468.0 272.5,463.0 272.8,468.7 273.2,469.3 273.5,466.5 273.9,472.5 274.2,465.9 274.6,467.2 274.9,469.0 275.3,469.9 275.6,468.3 275.9,471.3 276.3,467.5 276.6,470.6 277.0,469.0 277.3,469.6 277.7,467.1 278.0,469.5 278.4,465.9 278.7,466.3 279.1,469.7 279.4,472.4 279.7,467.7 280.1,471.7 280.4,476.4 280.8,472.2 281.1,472.5 281.5,470.6 281.8,466.1 282.2,470.2 282.5,471.6 282.9,468.6 283.2,472.1 283.5,469.9 283.9,474.1 284.2,472.3 284.6,472.8 284.9,473.3 285.3,472.0 285.6,476.6 286.0,469.8 286.3,470.6 286.7,472.7 287.0,473.3 287.3,469.7 287.7,475.7 288.0,472.8 288.4,475.1 288.7,472.1 289.1,472.4 289.4,474.5 289.8,472.8 290.1,472.3 290.5,474.9 290.8,476.2 291.1,473.8 291.5,475.5 291.8,472.6 292.2,475.7 292.5,472.6 292.9,475.6 293.2,472.3 293.6,475.6 293.9,477.5 294.3,475.4 294.6,471.2 294.9,479.0 295.3,473.8 295.6,470.0 296.0,480.2 296.3,474.1 296.7,477.4 297.0,476.4 297.4,480.6 297.7,480.0 298.1,471.8 298.4,477.3 298.7,473.6 299.1,476.1 299.4,475.9 299.8,476.1 300.1,473.5 300.5,478.2 300.8,478.8 301.2,478.8 301.5,481.6 301.9,476.6 302.2,474.9 302.5,477.4 302.9,471.0 303.2,476.6 303.6,474.4 303.9,474.7 304.3,474.3 304.6,474.6 305.0,478.3 305.3,473.5 305.7,475.3 306.0,478.0 306.3,477.2 306.7,481.2 307.0,478.2 307.4,483.0 307.7,480.3 308.1,475.7 308.4,478.0 308.8,482.3 309.1,475.3 309.5,476.3 309.8,474.3 310.1,478.6 310.5,481.3 310.8,481.8 311.2,478.7 311.5,476.0 311.9,479.9 312.2,479.1 312.6,481.5 312.9,480.2 313.3,482.7 313.6,478.5 313.9,480.1 314.3,479.9 314.6,479.2 315.0,481.4 315.3,476.3 315.7,476.9 316.0,474.6 316.4,480.8 316.7,482.7 317.1,481.9 317.4,484.9 317.7,481.4 318.1,479.1 318.4,482.1 318.8,481.9 319.1,482.0 319.5,484.2 319.8,479.7 320.2,479.9 320.5,481.8 320.9,484.8 321.2,480.2 321.5,485.3 321.9,485.5 322.2,481.4 322.6,480.9 322.9,482.2 323.3,478.8 323.6,486.2 324.0,483.0 324.3,485.3 324.7,481.2 325.0,483.2 325.4,482.5 325.7,486.7 326.0,480.4 326.4,485.9 326.7,483.2 327.1,483.0 327.4,479.1 327.8,482.9 328.1,482.3 328.5,484.6 328.8,482.1 329.2,481.8 329.5,485.5 329.8,483.9 330.2,482.3 330.5,483.8 330.9,484.6 331.2,482.9 331.6,483.1 331.9,486.8 332.3,483.1 332.6,478.0 333.0,485.0 333.3,486.1 333.6,485.3 334.0,485.1 334.3,478.0 334.7,480.5 335.0,482.8 335.4,482.8 335.7,482.3 336.1,479.2 336.4,480.5 336.8,481.2 337.1,484.2 337.4,486.9 337.8,478.1 338.1,481.9 338.5,479.4 338.8,483.8 339.2,482.1 339.5,482.5 339.9,481.6 340.2,479.7 340.6,479.6 340.9,480.5 341.2,483.3 341.6,485.8 341.9,483.4 342.3,480.4 342.6,484.6 343.0,481.6 343.3,480.8 343.7,480.8 344.0,478.3 344.4,477.0 344.7,478.7 345.0,479.7 345.4,480.6 345.7,477.1 346.1,479.5 346.4,475.6 346.8,482.8 347.1,478.3 347.5,477.0 347.8,481.0 348.2,479.3 348.5,476.7 348.8,483.1 349.2,476.9 349.5,479.8 349.9,477.2 350.2,480.2 350.6,480.1 350.9,476.4 351.3,476.1 351.6,480.4 352.0,478.0 352.3,479.4 352.6,477.9 353.0,479.4 353.3,478.0 353.7,475.2 354.0,479.8 354.4,475.7 354.7,475.8 355.1,475.9 355.4,477.8 355.8,472.7 356.1,474.3 356.4,473.4 356.8,472.7 357.1,470.3 357.5,465.8 357.8,469.9 358.2,473.4 358.5,470.2 358.9,468.7 359.2,468.5 359.6,470.2 359.9,466.9 360.2,465.6 360.6,466.4 360.9,466.6 361.3,463.8 361.6,462.1 362.0,456.3 362.3,454.9 362.7,457.1 363.0,453.9 363.4,452.0 363.7,451.7 364.0,450.6 364.4,453.1 364.7,442.1 365.1,442.0 365.4,444.1 365.8,434.2 366.1,434.3 366.5,427.5 366.8,429.6 367.2,422.2 367.5,422.1 367.8,419.7 368.2,414.3 368.5,409.8 368.9,409.1 369.2,409.7 369.6,409.5 369.9,409.5 370.3,406.0 370.6,411.5 371.0,410.9 371.3,411.6 371.6,412.5 372.0,414.3 372.3,414.6 372.7,421.2 373.0,425.4 373.4,432.2 373.7,433.9 374.1,433.0 374.4,440.1 374.8,439.5 375.1,449.4 375.4,453.5 375.8,451.3 376.1,451.9 376.5,458.5 376.8,458.8 377.2,461.1 377.5,462.5 377.9,462.3 378.2,467.0 378.6,469.9 378.9,469.2 379.2,469.4 379.6,470.6 379.9,474.3 380.3,476.1 380.6,474.2 381.0,473.1 381.3,477.6 381.7,476.9 382.0,478.9 382.4,483.5 382.7,482.9 383.0,476.2 383.4,479.1 383.7,481.8 384.1,478.6 384.4,478.4 384.8,482.3 385.1,482.6 385.5,483.3 385.8,485.0 386.2,483.2 386.5,484.6 386.8,485.1 387.2,488.0 387.5,481.7 387.9,487.3 388.2,482.5 388.6,483.6 388.9,487.8 389.3,488.1 389.6,488.2 390.0,487.6 390.3,488.1 390.6,486.5 391.0,488.8 391.3,491.5 391.7,484.2 392.0,488.3 392.4,487.4 392.7,485.8 393.1,488.7 393.4,489.2 393.8,483.6 394.1,484.9 394.5,489.9 394.8,489.6 395.1,493.3 395.5,489.5 395.8,493.1 396.2,489.8 396.5,488.3 396.9,491.5 397.2,490.3 397.6,491.0 397.9,486.0 398.3,492.3 398.6,491.3 398.9,492.2 399.3,492.7 399.6,495.5 400.0,491.9 400.3,491.9 400.7,494.3 401.0,494.8 401.4,493.2 401.7,492.0 402.1,491.7 402.4,491.4 402.7,491.4 403.1,494.8 403.4,492.0 403.8,494.4 404.1,491.5 404.5,495.4 404.8,493.3 405.2,496.4 405.5,494.8 405.9,494.4 406.2,492.4 406.5,492.7 406.9,493.2 407.2,493.5 407.6,492.5 407.9,495.3 408.3,495.5 408.6,493.7 409.0,497.7 409.3,494.3 409.7,491.4 410.0,494.0 410.3,494.6 410.7,493.8 411.0,495.1 411.4,492.6 411.7,494.3 412.1,494.4 412.4,495.3 412.8,493.6 413.1,493.2 413.5,494.6 413.8,495.3 414.1,494.2 414.5,494.4 414.8,492.3 415.2,497.9 415.5,492.7 415.9,500.4 416.2,494.6 416.6,497.8 416.9,494.1 417.3,496.1 417.6,495.5 417.9,494.5 418.3,492.6 418.6,494.2 419.0,492.3 419.3,498.3 419.7,493.2 420.0,498.9 420.4,494.9 420.7,491.7 421.1,499.3 421.4,497.6 421.7,494.6 422.1,494.2 422.4,494.1 422.8,497.6 423.1,492.5 423.5,494.3 423.8,497.5 424.2,499.5 424.5,494.1 424.9,494.3 425.2,493.8 425.5,497.3 425.9,493.7 426.2,494.9 426.6,496.3 426.9,496.7 427.3,497.0 427.6,493.7 428.0,495.6 428.3,496.1 428.7,497.1 429.0,498.4 429.3,497.3 429.7,493.8 430.0,495.8 430.4,493.1 430.7,498.3 431.1,494.9 431.4,495.0 431.8,496.0 432.1,494.2 432.5,496.8 432.8,496.8 433.1,495.8 433.5,495.3 433.8,488.3 434.2,494.3 434.5,496.3 434.9,495.7 435.2,487.7 435.6,496.4 435.9,497.0 436.3,493.5 436.6,493.0 436.9,495.0 437.3,492.6 437.6,492.5 438.0,491.9 438.3,497.3 438.7,494.7 439.0,493.2 439.4,492.1 439.7,495.8 440.1,493.6 440.4,493.8 440.7,494.1 441.1,493.6 441.4,495.2 441.8,496.6 442.1,491.6 442.5,492.3 442.8,495.1 443.2,492.4 443.5,494.1 443.9,497.2 444.2,495.2 444.5,496.4 444.9,496.5 445.2,496.4 445.6,494.6 445.9,497.2 446.3,492.7 446.6,492.6 447.0,495.1 447.3,491.9 447.7,493.9 448.0,492.5 448.3,495.7 448.7,494.6 449.0,495.6 449.4,492.2 449.7,489.4 450.1,495.5 450.4,496.3 450.8,491.1 451.1,490.4 451.5,488.8 451.8,494.9 452.1,489.7 452.5,492.7 452.8,492.6 453.2,490.7 453.5,491.4 453.9,490.7 454.2,493.3 454.6,494.5 454.9,494.3 455.3,488.2 455.6,488.5 455.9,490.0 456.3,491.8 456.6,492.4 457.0,486.3 457.3,490.9 457.7,492.4 458.0,490.5 458.4,490.1 458.7,486.3 459.1,493.3 459.4,491.2 459.7,489.2 460.1,488.8 460.4,491.5 460.8,492.3 461.1,489.1 461.5,486.6 461.8,490.4 462.2,487.7 462.5,488.8 462.9,488.4 463.2,486.5 463.6,491.5 463.9,486.0 464.2,491.5 464.6,486.5 464.9,487.8 465.3,488.1 465.6,488.9 466.0,485.8 466.3,491.7 466.7,487.3 467.0,491.1 467.4,489.3 467.7,487.3 468.0,485.6 468.4,488.1 468.7,487.9 469.1,485.1 469.4,486.4 469.8,488.0 470.1,488.7 470.5,486.0 470.8,485.7 471.2,484.1 471.5,483.0 471.8,487.5 472.2,485.7 472.5,484.5 472.9,487.5 473.2,486.6 473.6,480.8 473.9,479.3 474.3,484.2 474.6,482.6 475.0,485.6 475.3,480.8 475.6,484.5 476.0,484.1 476.3,480.3 476.7,487.1 477.0,480.6 477.4,482.2 477.7,480.7 478.1,480.6 478.4,479.2 478.8,479.3 479.1,481.6 479.4,476.8 479.8,479.8 480.1,479.8 480.5,479.6 480.8,479.2 481.2,483.0 481.5,478.6 481.9,477.9 482.2,476.3 482.6,480.4 482.9,479.9 483.2,474.6 483.6,474.1 483.9,473.7 484.3,477.5 484.6,475.5 485.0,476.1 485.3,472.0 485.7,473.5 486.0,473.2 486.4,475.0 486.7,470.4 487.0,465.9 487.4,470.4 487.7,472.8 488.1,473.7 488.4,464.8 488.8,469.8 489.1,469.8 489.5,467.8 489.8,465.8 490.2,467.0 490.5,465.2 490.8,467.8 491.2,462.5 491.5,466.9 491.9,462.2 492.2,460.2 492.6,462.8 492.9,459.8 493.3,460.6 493.6,459.1 494.0,456.1 494.3,455.5 494.6,459.2 495.0,451.8 495.3,453.9 495.7,454.4 496.0,452.3 496.4,452.4 496.7,446.9 497.1,449.2 497.4,448.6 497.8,441.8 498.1,444.9 498.4,441.8 498.8,440.2 499.1,441.9 499.5,439.7 499.8,440.4 500.2,437.3 500.5,431.6 500.9,432.7 501.2,433.3 501.6,432.8 501.9,428.8 502.2,429.8 502.6,426.1 502.9,428.6 503.3,425.5 503.6,424.5 504.0,417.4 504.3,421.5 504.7,420.7 505.0,417.8 505.4,417.2 505.7,418.7 506.0,415.2 506.4,416.0 506.7,410.9 507.1,415.4 507.4,409.9 507.8,409.3 508.1,412.6 508.5,410.7 508.8,409.5 509.2,412.5 509.5,411.2 509.8,414.5 510.2,412.2 510.5,414.5 510.9,410.9 511.2,413.5 511.6,419.1 511.9,415.2 512.3,413.4 512.6,414.9 513.0,416.0 513.3,418.6 513.6,414.7 514.0,421.4 514.3,421.6 514.7,421.6 515.0,425.0 515.4,420.3 515.7,429.5 516.1,427.9 516.4,430.9 516.8,428.8 517.1,432.8 517.4,433.6 517.8,437.1 518.1,434.3 518.5,442.5 518.8,440.5 519.2,444.7 519.5,443.5 519.9,444.9 520.2,446.5 520.6,449.9 520.9,450.8 521.2,449.3 521.6,451.5 521.9,455.1 522.3,453.4 522.6,458.0 523.0,457.2 523.3,461.8 523.7,462.4 524.0,463.9 524.4,463.7 524.7,467.7 525.0,466.3 525.4,471.0 525.7,467.1 526.1,471.2 526.4,470.9 526.8,475.9 527.1,475.7 527.5,476.8 527.8,475.2 528.2,477.3 528.5,476.4 528.8,477.8 529.2,483.0 529.5,479.1 529.9,482.9 530.2,484.9 530.6,485.2 530.9,487.9 531.3,482.2 531.6,488.3 532.0,490.3 532.3,485.7 532.7,488.2 533.0,488.4 533.3,488.1 533.7,491.6 534.0,489.2 534.4,491.8 534.7,492.7 535.1,489.2 535.4,491.1 535.8,492.7 536.1,496.3 536.5,494.0 536.8,494.9 537.1,491.5 537.5,499.6 537.8,496.0 538.2,497.4 538.5,498.9 538.9,497.7 539.2,495.7 539.6,495.5 539.9,500.4 540.3,494.8 540.6,500.0 540.9,501.9 541.3,497.5 541.6,497.8 542.0,500.2 542.3,500.2 542.7,499.7 543.0,505.0 543.4,498.8 543.7,502.4 544.1,505.1 544.4,500.6 544.7,498.9 545.1,505.0 545.4,500.0 545.8,503.3 546.1,498.2 546.5,501.7 546.8,497.0 547.2,498.5 547.5,498.9 547.9,501.5 548.2,503.4 548.5,504.4 548.9,501.5 549.2,499.1 549.6,496.2 549.9,503.5 550.3,502.6 550.6,502.4 551.0,505.5 551.3,505.5 551.7,507.2 552.0,507.3 552.3,507.6 552.7,505.0 553.0,503.7 553.4,503.5 553.7,505.0 554.1,506.1 554.4,502.5 554.8,505.4 555.1,506.6 555.5,508.9 555.8,505.6 556.1,505.7 556.5,505.6 556.8,508.9 557.2,503.2 557.5,508.0 557.9,504.4 558.2,506.4 558.6,508.9 558.9,506.5 559.3,507.2 559.6,505.5 559.9,504.4 560.3,510.1 560.6,507.1 561.0,508.0 561.3,506.9 561.7,507.6 562.0,508.0 562.4,508.8 562.7,506.2 563.1,507.2 563.4,508.8 563.7,507.8 564.1,508.4 564.4,507.4 564.8,509.0 565.1,507.9 565.5,504.8 565.8,506.9 566.2,509.7 566.5,513.7 566.9,507.5 567.2,505.4 567.5,510.2 567.9,513.3 568.2,507.8 568.6,508.7 568.9,508.8 569.3,511.7 569.6,505.7 570.0,510.9 570.3,509.5 570.7,509.4 571.0,509.2 571.3,510.8 571.7,511.5 572.0,507.1 572.4,509.2 572.7,511.2 573.1,507.4 573.4,511.5 573.8,511.4 574.1,509.8 574.5,507.2 574.8,508.2 575.1,509.1 575.5,510.8 575.8,510.0 576.2,510.0 576.5,511.4 576.9,510.0 577.2,509.8 577.6,510.2 577.9,510.5 578.3,509.4 578.6,508.6 578.9,509.6 579.3,510.5 579.6,507.4 580.0,509.6 580.3,509.2 580.7,507.8 581.0,512.1 581.4,509.6 581.7,506.2 582.1,512.5 582.4,511.1 582.7,505.5 583.1,511.5 583.4,511.2 583.8,510.5 584.1,512.0 584.5,509.6 584.8,512.4 585.2,509.4 585.5,510.8 585.9,510.2 586.2,510.8 586.5,510.3 586.9,508.8 587.2,511.1 587.6,510.1 587.9,511.2 588.3,508.3 588.6,512.2 589.0,508.5 589.3,508.5 589.7,509.7 590.0,512.8 590.3,511.0 590.7,510.8 591.0,511.6 591.4,509.8 591.7,511.1 592.1,512.2 592.4,511.0 592.8,508.9 593.1,514.1 593.5,511.4 593.8,508.5 594.1,509.9 594.5,517.4 594.8,511.9 595.2,509.7 595.5,508.5 595.9,509.1 596.2,511.5 596.6,513.3 596.9,512.9 597.3,512.1 597.6,512.4 597.9,512.2 598.3,511.8 598.6,513.2 599.0,511.3 599.3,513.0 599.7,507.6 600.0,508.8 600.4,512.8 600.7,511.6 601.1,509.3 601.4,514.8 601.8,515.6 602.1,511.9 602.4,512.3 602.8,510.4 603.1,508.8 603.5,511.5 603.8,510.4 604.2,511.7 604.5,511.4 604.9,511.0 605.2,511.9 605.6,514.5 605.9,510.0 606.2,512.0 606.6,514.1 606.9,512.8 607.3,512.2 607.6,511.6 608.0,510.5 608.3,510.8 608.7,513.6 609.0,511.5 609.4,514.8 609.7,514.1 610.0,513.2 610.4,514.2 610.7,512.2 611.1,515.7 611.4,511.7 611.8,513.8 612.1,512.8 612.5,512.7 612.8,511.4 613.2,513.0 613.5,511.3 613.8,514.5 614.2,512.8 614.5,513.9 614.9,512.1 615.2,512.6 615.6,512.7 615.9,511.6 616.3,512.5 616.6,510.4 617.0,511.3 617.3,513.6 617.6,510.0 618.0,508.1 618.3,512.8 618.7,515.1 619.0,511.6 619.4,512.2 619.7,512.2 620.1,514.1 620.4,510.5 620.8,512.4 621.1,512.4 621.4,515.5 621.8,512.9 622.1,511.9 622.5,511.0 622.8,510.8 623.2,509.3 623.5,510.3 623.9,511.6 624.2,512.5 624.6,511.1 624.9,513.6 625.2,512.3 625.6,512.9 625.9,516.3 626.3,511.8 626.6,513.3 627.0,514.6 627.3,511.2 627.7,511.8 628.0,512.8 628.4,512.7 628.7,513.1 629.0,513.1 629.4,513.9 629.7,512.0 630.1,511.2 630.4,512.8 630.8,513.9 631.1,511.2 631.5,513.3 631.8,512.9 632.2,512.4 632.5,512.4 632.8,513.7 633.2,513.5 633.5,513.7 633.9,512.2 634.2,513.1 634.6,513.4 634.9,513.0 635.3,511.1 635.6,514.7 636.0,514.5 636.3,512.7 636.6,514.9 637.0,511.2 637.3,512.9 637.7,511.1 638.0,509.6 638.4,512.8 638.7,511.9 639.1,512.6 639.4,514.4 639.8,515.0 640.1,513.2 640.4,513.5 640.8,514.2 641.1,513.2 641.5,511.5 641.8,513.6 642.2,513.1 642.5,516.6 642.9,511.9 643.2,514.7 643.6,514.8 643.9,512.4 644.2,515.8 644.6,515.3 644.9,515.6 645.3,515.5 645.6,513.4 646.0,510.9 646.3,514.9 646.7,514.0 647.0,510.4 647.4,510.3 647.7,511.4 648.0,512.0 648.4,511.4 648.7,510.9 649.1,511.3 649.4,513.1 649.8,513.6 650.1,511.6 650.5,513.6 650.8,510.8 651.2,509.4 651.5,512.9 651.8,511.9 652.2,511.5 652.5,512.3 652.9,514.2 653.2,514.7 653.6,512.7 653.9,512.6 654.3,514.9 654.6,513.3 655.0,512.1 655.3,511.5 655.6,511.9 656.0,512.0 656.3,512.2 656.7,510.9 657.0,515.0 657.4,516.5 657.7,512.7 658.1,511.2 658.4,513.7 658.8,508.7 659.1,510.7 659.4,512.0 659.8,513.9 660.1,514.4 660.5,512.8 660.8,514.2 661.2,511.5 661.5,511.6 661.9,512.3 662.2,514.0 662.6,512.6 662.9,514.5 663.2,511.0 663.6,513.4 663.9,514.2 664.3,511.5 664.6,514.5 665.0,512.5 665.3,511.5 665.7,513.7 666.0,512.0 666.4,513.9 666.7,509.3 667.0,512.5 667.4,514.0 667.7,509.7 668.1,515.5 668.4,511.8 668.8,514.8 669.1,511.8 669.5,513.9 669.8,513.6 670.2,513.1 670.5,509.7 670.9,513.3 671.2,509.4 671.5,512.7 671.9,512.5 672.2,511.7 672.6,512.0 672.9,510.5 673.3,514.1 673.6,511.8 674.0,514.0 674.3,515.5 674.7,513.6 675.0,514.2 675.3,510.4 675.7,509.9 676.0,513.1 676.4,509.8 676.7,513.8 677.1,511.3 677.4,515.0 677.8,512.1 678.1,512.1 678.5,515.4 678.8,513.4 679.1,512.9 679.5,513.4 679.8,510.4 680.2,509.2 680.5,514.5 680.9,510.3 681.2,511.2 681.6,509.2 681.9,512.5 682.3,508.1 682.6,511.1 682.9,512.4 683.3,512.8 683.6,512.8 684.0,510.5 684.3,511.8 684.7,509.6 685.0,512.2 685.4,513.2 685.7,510.8 686.1,512.9 686.4,511.4 686.7,510.4 687.1,511.3 687.4,510.5 687.8,510.3 688.1,510.2 688.5,514.8 688.8,509.6 689.2,510.5 689.5,512.5 689.9,509.2 690.2,510.0 690.5,511.5 690.9,509.4 691.2,510.1 691.6,509.0 691.9,509.1 692.3,508.6 692.6,506.7 693.0,511.1 693.3,509.5 693.7,508.8 694.0,507.5 694.3,508.4 694.7,508.6 695.0,505.2 695.4,510.7 695.7,508.8 696.1,507.3 696.4,508.4 696.8,508.6 697.1,509.7 697.5,508.3 697.8,510.6 698.1,507.6 698.5,510.0 698.8,507.8 699.2,508.0 699.5,509.8 699.9,509.2 700.2,508.1 700.6,509.2 700.9,507.5 701.3,506.4 701.6,509.9 701.9,507.9 702.3,504.1 702.6,507.9 703.0,507.0 703.3,509.0 703.7,507.4 704.0,509.5 704.4,508.6 704.7,503.5 705.1,510.4 705.4,507.6 705.7,507.6 706.1,509.5 706.4,505.3 706.8,506.2 707.1,504.2 707.5,508.4 707.8,507.6 708.2,507.9 708.5,502.3 708.9,501.6 709.2,506.1 709.5,509.1 709.9,506.4 710.2,505.0 710.6,504.9 710.9,502.0 711.3,506.8 711.6,504.0 712.0,503.5 712.3,504.0 712.7,502.7 713.0,501.3 713.3,502.8 713.7,504.2 714.0,502.4 714.4,502.5 714.7,505.6 715.1,505.1 715.4,503.0 715.8,503.3 716.1,507.8 716.5,498.0 716.8,508.2 717.1,503.6 717.5,501.1 717.8,500.4 718.2,499.5 718.5,499.5 718.9,500.2 719.2,502.9 719.6,501.5 719.9,499.4 720.3,501.8 720.6,497.1 720.9,499.4 721.3,496.8 721.6,498.6 722.0,493.2 722.3,493.2 722.7,496.6 723.0,492.1 723.4,492.7 723.7,490.8 724.1,490.0 724.4,483.7 724.7,482.8 725.1,479.5 725.4,481.8 725.8,475.7 726.1,479.4 726.5,473.6 726.8,471.8 727.2,472.7 727.5,473.2 727.9,468.8 728.2,465.5 728.5,467.8 728.9,463.2 729.2,461.8 729.6,460.3 729.9,461.0 730.3,463.6 730.6,460.8 731.0,464.0 731.3,462.5 731.7,466.8 732.0,464.0 732.3,468.7 732.7,471.2 733.0,467.8 733.4,471.3 733.7,471.9 734.1,474.5 734.4,477.5 734.8,475.7 735.1,475.3 735.5,484.3 735.8,479.2 736.1,480.3 736.5,481.8 736.8,484.1 737.2,481.3 737.5,483.9 737.9,484.1 738.2,486.0 738.6,483.6 738.9,484.3 739.3,483.9 739.6,487.9 740.0,486.7 740.3,490.1 740.6,485.9 741.0,491.8 741.3,486.6 741.7,489.0 742.0,491.4 742.4,488.2 742.7,491.1 743.1,492.8 743.4,485.7 743.8,488.1 744.1,490.8 744.4,490.6 744.8,492.1 745.1,492.9 745.5,488.5 745.8,493.7 746.2,493.3 746.5,491.2 746.9,493.9 747.2,494.8 747.6,492.5 747.9,492.5 748.2,494.5 748.6,494.6 748.9,497.5 749.3,492.8 749.6,492.8 750.0,493.8 750.3,497.8 750.7,496.8 751.0,499.2 751.4,493.4 751.7,494.5 752.0,495.9 752.4,498.3 752.7,494.5 753.1,496.9 753.4,496.9 753.8,496.7 754.1,496.9 754.5,498.5 754.8,499.2 755.2,496.5 755.5,499.6 755.8,499.4 756.2,498.9 756.5,496.6 756.9,500.0 757.2,497.3 757.6,497.9 757.9,501.3 758.3,501.1 758.6,500.5 759.0,500.2 759.3,501.8 759.6,500.3 760.0,501.4 760.3,497.5 760.7,496.3 761.0,500.0 761.4,499.7 761.7,498.5 762.1,501.8 762.4,499.2 762.8,501.9 763.1,503.8 763.4,499.6 763.8,500.2 764.1,499.5 764.5,496.2 764.8,499.4 765.2,498.7 765.5,498.7 765.9,498.1 766.2,497.8 766.6,500.3 766.9,497.7 767.2,494.1 767.6,498.8 767.9,498.2 768.3,498.6 768.6,496.2 769.0,495.7 769.3,497.3 769.7,497.4 770.0,496.4 770.4,498.3 770.7,499.7 771.0,503.0 771.4,500.4 771.7,501.6 772.1,498.3 772.4,501.1 772.8,501.1 773.1,501.1 773.5,500.1 773.8,506.6 774.2,507.1 774.5,505.5 774.8,504.3 775.2,505.2 775.5,507.3 775.9,506.1 776.2,504.1 776.6,506.2 776.9,505.2 777.3,507.0 777.6,507.0 778.0,508.6 778.3,508.7 778.6,506.8 779.0,508.1 779.3,507.5 779.7,510.8 780.0,509.7 780.4,509.0 780.7,508.8 781.1,507.2 781.4,507.7 781.8,506.8 782.1,511.5 782.4,511.7 782.8,511.2 783.1,508.6 783.5,506.0 783.8,511.9 784.2,510.3 784.5,509.4 784.9,509.1 785.2,511.6 785.6,509.9 785.9,511.2 786.2,506.4 786.6,510.7 786.9,509.1 787.3,511.0 787.6,511.9 788.0,513.1 788.3,510.0 788.7,511.0 789.0,512.3 789.4,509.9 789.7,511.4 790.0,509.9 790.4,509.2 790.7,513.2 791.1,510.3 791.4,510.6 791.8,512.0 792.1,511.1 792.5,510.0 792.8,516.0 793.2,513.4 793.5,510.8 793.8,512.4 794.2,508.6 794.5,509.1 794.9,513.4 795.2,513.1 795.6,512.3 795.9,511.7 796.3,512.5 796.6,511.4 797.0,513.2 797.3,513.7 797.6,511.0 798.0,513.4 798.3,512.0 798.7,511.8 799.0,511.4 799.4,513.2 799.7,511.8 800.1,512.6 800.4,512.3 800.8,510.1 801.1,509.9 801.4,514.3 801.8,511.7 802.1,513.5 802.5,512.0 802.8,513.6 803.2,512.3 803.5,513.2 803.9,513.2 804.2,514.3 804.6,514.6 804.9,515.6 805.2,510.4 805.6,514.3 805.9,510.5 806.3,512.0 806.6,511.9 807.0,514.0 807.3,514.9 807.7,512.9 808.0,514.8 808.4,513.0 808.7,513.9 809.1,511.9 809.4,513.4 809.7,512.6 810.1,509.5 810.4,514.1 810.8,514.7 811.1,509.4 811.5,513.4 811.8,514.0 812.2,515.5 812.5,512.4 812.9,515.3 813.2,514.2 813.5,516.0 813.9,513.0 814.2,511.5 814.6,513.8 814.9,513.3 815.3,511.2 815.6,511.8 816.0,514.0 816.3,513.4 816.7,514.3 817.0,515.4 817.3,512.6 817.7,511.4 818.0,511.1 818.4,513.6 818.7,514.5 819.1,513.0 819.4,513.4 819.8,511.7 820.1,509.2 820.5,511.5 820.8,514.6 821.1,514.6 821.5,512.7 821.8,514.7 822.2,516.9 822.5,515.4 822.9,514.7 823.2,518.3 823.6,512.7 823.9,513.9 824.3,515.2 824.6,510.1 824.9,511.5 825.3,513.7 825.6,517.0 826.0,514.9 826.3,513.7 826.7,514.6 827.0,513.0 827.4,512.7 827.7,512.4 828.1,516.4 828.4,513.6 828.7,514.2 829.1,511.3 829.4,512.7 829.8,512.3 830.1,514.2 830.5,514.4 830.8,512.7 831.2,513.8 831.5,513.7 831.9,511.5 832.2,512.5 832.5,514.1 832.9,515.9 833.2,512.8 833.6,512.1 833.9,515.0 834.3,513.7 834.6,516.1 835.0,513.0 835.3,516.0 835.7,514.9 836.0,512.4 836.3,514.7 836.7,513.9 837.0,514.0 837.4,516.0 837.7,510.1 838.1,511.5 838.4,513.5 838.8,511.7 839.1,513.4 839.5,512.0 839.8,515.2 840.1,511.3 840.5,514.4 840.8,514.8 841.2,513.9 841.5,515.8 841.9,512.3 842.2,512.2 842.6,513.4 842.9,511.2 843.3,517.4 843.6,512.7 843.9,513.4 844.3,511.8 844.6,510.8 845.0,515.0 845.3,513.2 845.7,512.5 846.0,516.7 846.4,514.3 846.7,515.3 847.1,511.7 847.4,516.8 847.7,513.2 848.1,514.0 848.4,514.4 848.8,512.2 849.1,513.5 849.5,514.6 849.8,512.5 850.2,515.0 850.5,516.0 850.9,511.2 851.2,514.3 851.5,511.3 851.9,513.9 852.2,513.7 852.6,516.2 852.9,514.5 853.3,515.1 853.6,515.9 854.0,514.3 854.3,513.2 854.7,515.9 855.0,509.9 855.3,512.1 855.7,513.3 856.0,517.5 856.4,517.4 856.7,513.3 857.1,513.4 857.4,512.6 857.8,515.2 858.1,512.9 858.5,514.0 858.8,513.1 859.1,513.4 859.5,511.3 859.8,515.0 860.2,512.6 860.5,516.0 860.9,515.0 861.2,516.8 861.6,515.1 861.9,513.2 862.3,512.3 862.6,511.0 862.9,512.8 863.3,514.4 863.6,515.1 864.0,514.3 864.3,514.5 864.7,511.1 865.0,511.8 865.4,513.2 865.7,513.5 866.1,514.1 866.4,514.3 866.7,514.1 867.1,513.7 867.4,515.7 867.8,515.1 868.1,511.8 868.5,509.9 868.8,514.9 869.2,510.0 869.5,514.6 869.9,516.0 870.2,514.5 870.5,512.9 870.9,513.8 871.2,515.0 871.6,512.8 871.9,515.3 872.3,513.0 872.6,512.0 873.0,511.2 873.3,512.4 873.7,515.8 874.0,513.0 874.3,514.7 874.7,516.7 875.0,511.0 875.4,512.5 875.7,513.1 876.1,514.2 876.4,514.9 876.8,511.2 877.1,514.2 877.5,511.8 877.8,514.0 878.2,510.8 878.5,512.0 878.8,515.0 879.2,513.3 879.5,513.8 879.9,512.2 880.2,516.1 880.6,512.6 880.9,511.8 881.3,514.0 881.6,516.7 882.0,512.7 882.3,513.1 882.6,510.9 883.0,512.7 883.3,514.8 883.7,510.7 884.0,517.4 884.4,515.6 884.7,511.9 885.1,513.0 885.4,514.6 885.8,513.7 886.1,514.8 886.4,513.4 886.8,511.3 887.1,513.9 887.5,514.5 887.8,513.7 888.2,513.9 888.5,515.8 888.9,514.2 889.2,512.7 889.6,515.5 889.9,515.8 890.2,515.1 890.6,510.7 890.9,510.9 891.3,514.9 891.6,511.9 892.0,515.2 892.3,512.7 892.7,516.7 893.0,512.8 893.4,512.8 893.7,512.3 894.0,512.8 894.4,512.5 894.7,513.8 895.1,513.7 895.4,513.1 895.8,514.5 896.1,514.4 896.5,515.1 896.8,514.9 897.2,514.8 897.5,512.3 897.8,513.0 898.2,510.3 898.5,513.0 898.9,513.0 899.2,515.0 899.6,512.8 899.9,512.4 900.3,513.0 900.6,512.3 901.0,511.9 901.3,510.1 901.6,512.5 902.0,515.8 902.3,514.0 902.7,511.2 903.0,516.4 903.4,512.6 903.7,512.5 904.1,513.2 904.4,514.9 904.8,511.7 905.1,516.1 905.4,515.3 905.8,510.0 906.1,512.9 906.5,514.4 906.8,516.8 907.2,514.2 907.5,511.7 907.9,510.1 908.2,509.8 908.6,516.2 908.9,510.2 909.2,513.4 909.6,513.3 909.9,514.4 910.3,512.2 910.6,512.9 911.0,511.4 911.3,510.2 911.7,511.6 912.0,510.6 912.4,514.6 912.7,513.8 913.0,510.0 913.4,512.3 913.7,514.4 914.1,511.6 914.4,509.4 914.8,512.3 915.1,512.5 915.5,512.1 915.8,513.6 916.2,512.5 916.5,512.5 916.8,511.3 917.2,513.2 917.5,514.4 917.9,513.7 918.2,514.6 918.6,512.6 918.9,512.4 919.3,510.8 919.6,514.1 920.0,512.0 920.3,513.9 920.6,511.7 921.0,513.7 921.3,511.6 921.7,512.2 922.0,511.9 922.4,511.1 922.7,511.8 923.1,511.6 923.4,514.6 923.8,511.9 924.1,511.9 924.4,512.2 924.8,513.3 925.1,510.6 925.5,513.2 925.8,512.0 926.2,515.6 926.5,512.0 926.9,511.9 927.2,510.0 927.6,513.5 927.9,511.1 928.2,510.5 928.6,509.5 928.9,510.5 929.3,512.6 929.6,511.1 930.0,514.1 930.3,514.4 930.7,511.1 931.0,511.3 931.4,513.8 931.7,516.1 932.0,513.7 932.4,514.3 932.7,508.6 933.1,509.9 933.4,512.0 933.8,511.1 934.1,511.6 934.5,513.1 934.8,511.5 935.2,513.2 935.5,514.4 935.8,512.4 936.2,511.1 936.5,510.2 936.9,511.5 937.2,512.9 937.6,511.9 937.9,514.5 938.3,508.3 938.6,510.5 939.0,514.1 939.3,510.2 939.6,509.8 940.0,511.3 940.3,512.2 940.7,511.8 941.0,511.4 941.4,509.1 941.7,514.9 942.1,514.5 942.4,510.0 942.8,512.9 943.1,511.8 943.4,511.0 943.8,513.4 944.1,510.4 944.5,511.3 944.8,513.8 945.2,512.9 945.5,510.9 945.9,513.0 946.2,516.0 946.6,511.0 946.9,511.4 947.3,513.0 947.6,511.7 947.9,512.7 948.3,509.6 948.6,512.4 949.0,510.9 949.3,510.1 949.7,513.3 950.0,510.4 950.4,514.5 950.7,512.0 951.1,509.9 951.4,510.5 951.7,510.3 952.1,510.9 952.4,512.0 952.8,511.5 953.1,512.6 953.5,509.7 953.8,512.3 954.2,511.4 954.5,512.9 954.9,512.1 955.2,514.2 955.5,510.2 955.9,513.5 956.2,510.4 956.6,512.7 956.9,511.9 957.3,508.2 957.6,513.9 958.0,512.3 958.3,509.0 958.7,508.8 959.0,506.4 959.3,513.0 959.7,509.4 960.0,510.6 960.4,507.6 960.7,510.8 961.1,511.9 961.4,511.9 961.8,510.2 962.1,508.8 962.5,509.8 962.8,508.2 963.1,506.4 963.5,505.9 963.8,509.7 964.2,511.6 964.5,509.4 964.9,509.7 965.2,509.0 965.6,506.6 965.9,511.0 966.3,507.0 966.6,511.1 966.9,507.2 967.3,505.1 967.6,508.7 968.0,506.3 968.3,511.0 968.7,507.6 969.0,506.7 969.4,508.6 969.7,509.8 970.1,505.9 970.4,508.4 970.7,506.2 971.1,507.5 971.4,506.2 971.8,505.6 972.1,506.8 972.5,507.5 972.8,505.4 973.2,506.2 973.5,505.2 973.9,504.8 974.2,502.2 974.5,504.2 974.9,508.5 975.2,507.4 975.6,509.5 975.9,504.6 976.3,506.9 976.6,505.5 977.0,506.9 977.3,504.8 977.7,507.9 978.0,507.9 978.3,500.9 978.7,508.7 979.0,508.5 979.4,502.5 979.7,505.4 980.1,502.9 980.4,504.5 980.8,505.9 981.1,504.7 981.5,503.7 981.8,504.3 982.1,507.3 982.5,502.0 982.8,501.8 983.2,504.7 983.5,504.4 983.9,503.6 984.2,505.2 984.6,502.7 984.9,500.4 985.3,499.9 985.6,503.3 985.9,502.4 986.3,500.4 986.6,501.6 987.0,502.4 987.3,502.3 987.7,498.9 988.0,498.9 988.4,500.5 988.7,500.5 989.1,502.2 989.4,499.6 989.7,498.5 990.1,499.3 990.4,498.2 990.8,500.4 991.1,497.5 991.5,499.3 991.8,499.2 992.2,495.1 992.5,498.3 992.9,496.7 993.2,495.8 993.5,499.0 993.9,494.7 994.2,495.0 994.6,491.6 994.9,495.4 995.3,493.1 995.6,491.9 996.0,493.9 996.3,495.2 996.7,491.5 997.0,495.1 997.3,491.4 997.7,489.3 998.0,491.4 998.4,488.0 998.7,490.7 999.1,488.2 999.4,485.9 999.8,485.7 1000.1,485.3 1000.5,486.4 1000.8,483.0 1001.1,484.8 1001.5,483.3 1001.8,481.8 1002.2,483.3 1002.5,480.1 1002.9,481.0 1003.2,478.4 1003.6,478.7 1003.9,475.1 1004.3,475.7 1004.6,475.7 1004.9,474.4 1005.3,471.0 1005.6,471.5 1006.0,471.9 1006.3,469.7 1006.7,470.5 1007.0,465.6 1007.4,467.6 1007.7,468.6 1008.1,466.5 1008.4,466.9 1008.7,462.1 1009.1,462.6 1009.4,461.2 1009.8,461.2 1010.1,457.8 1010.5,459.3 1010.8,460.0 1011.2,459.9 1011.5,459.6 1011.9,452.9 1012.2,452.9 1012.5,451.0 1012.9,450.0 1013.2,451.3 1013.6,452.9 1013.9,449.2 1014.3,448.3 1014.6,447.5 1015.0,446.0 1015.3,444.5 1015.7,442.3 1016.0,442.1 1016.4,439.6 1016.7,439.4 1017.0,441.3 1017.4,437.6 1017.7,436.2 1018.1,439.2 1018.4,436.7 1018.8,438.4 1019.1,437.4 1019.5,438.6 1019.8,437.6 1020.2,437.9 1020.5,439.7 1020.8,443.6 1021.2,443.0 1021.5,441.8 1021.9,444.2 1022.2,444.8 1022.6,443.9 1022.9,446.4 1023.3,448.9 1023.6,446.9 1024.0,447.8 1024.3,447.6 1024.6,447.5 1025.0,450.0 1025.3,450.9 1025.7,451.9 1026.0,452.4 1026.4,457.2 1026.7,455.8 1027.1,456.4 1027.4,457.4 1027.8,460.4 1028.1,460.5 1028.4,458.4 1028.8,462.8 1029.1,460.3 1029.5,463.8 1029.8,464.3 1030.2,460.9 1030.5,462.7 1030.9,468.4 1031.2,467.1 1031.6,467.2 1031.9,470.1 1032.2,470.8 1032.6,469.1 1032.9,472.8 1033.3,471.6 1033.6,468.8 1034.0,474.5 1034.3,470.8 1034.7,472.0 1035.0,476.0 1035.4,472.2 1035.7,475.7 1036.0,477.6 1036.4,476.1 1036.7,478.4 1037.1,476.9 1037.4,479.8 1037.8,481.1 1038.1,481.1 1038.5,480.2 1038.8,478.5 1039.2,480.3 1039.5,479.1 1039.8,479.9 1040.2,480.9 1040.5,483.7 1040.9,484.2 1041.2,479.4 1041.6,485.3 1041.9,484.3 1042.3,484.4 1042.6,484.5 1043.0,486.5 1043.3,483.5 1043.6,487.6 1044.0,488.9 1044.3,485.0 1044.7,486.6 1045.0,485.9 1045.4,486.6 1045.7,484.6 1046.1,489.5 1046.4,490.8 1046.8,486.4 1047.1,491.1 1047.4,485.9 1047.8,485.6 1048.1,491.7 1048.5,491.4 1048.8,487.8 1049.2,490.5 1049.5,487.7 1049.9,490.8 1050.2,493.7 1050.6,489.5 1050.9,490.4 1051.2,492.3 1051.6,488.8 1051.9,490.6 1052.3,489.0 1052.6,492.3 1053.0,491.6 1053.3,491.0 1053.7,492.9 1054.0,490.0 1054.4,492.2 1054.7,489.5 1055.0,490.4 1055.4,492.6 1055.7,493.5 1056.1,491.7 1056.4,493.1 1056.8,489.8 1057.1,488.7 1057.5,490.0 1057.8,491.1 1058.2,491.6 1058.5,492.9 1058.8,486.9 1059.2,489.6 1059.5,487.2 1059.9,488.5 1060.2,491.8 1060.6,490.5 1060.9,489.7 1061.3,489.5 1061.6,487.4 1062.0,492.0 1062.3,489.3 1062.6,490.7 1063.0,485.7 1063.3,490.3 1063.7,489.8 1064.0,488.0 1064.4,490.1 1064.7,486.6 1065.1,489.4 1065.4,490.1 1065.8,488.2 1066.1,487.0 1066.4,489.9 1066.8,488.1 1067.1,488.3 1067.5,489.7 1067.8,489.5 1068.2,484.1 1068.5,487.0 1068.9,486.8 1069.2,485.6 1069.6,491.8 1069.9,489.0 1070.2,487.2 1070.6,486.9 1070.9,484.2 1071.3,480.2 1071.6,486.4 1072.0,484.3 1072.3,482.9 1072.7,485.4 1073.0,478.7 1073.4,484.5 1073.7,482.5 1074.0,480.9 1074.4,483.4 1074.7,481.3 1075.1,480.9 1075.4,481.3 1075.8,477.1 1076.1,480.5 1076.5,480.9 1076.8,480.3 1077.2,480.6 1077.5,478.7 1077.8,477.6 1078.2,474.3 1078.5,475.0 1078.9,471.0 1079.2,475.5 1079.6,472.4 1079.9,471.6 1080.3,469.7 1080.6,469.2 1081.0,467.6 1081.3,466.8 1081.6,467.3 1082.0,466.4 1082.3,465.4 1082.7,466.0 1083.0,461.8 1083.4,458.3 1083.7,459.5 1084.1,458.6 1084.4,454.6 1084.8,454.3 1085.1,452.6 1085.5,450.2 1085.8,446.5 1086.1,448.6 1086.5,443.3 1086.8,445.8 1087.2,441.4 1087.5,437.6 1087.9,438.2 1088.2,435.4 1088.6,434.8 1088.9,433.3 1089.3,431.3 1089.6,427.1 1089.9,426.3 1090.3,426.9 1090.6,428.6 1091.0,420.0 1091.3,423.6 1091.7,421.4 1092.0,424.4 1092.4,423.2 1092.7,421.7 1093.1,419.0 1093.4,426.7 1093.7,425.9 1094.1,426.6 1094.4,428.1 1094.8,428.3 1095.1,432.1 1095.5,437.0 1095.8,435.0 1096.2,441.2 1096.5,442.5 1096.9,446.4 1097.2,449.8 1097.5,454.1 1097.9,459.4 1098.2,454.8 1098.6,458.4 1098.9,465.2 1099.3,464.7 1099.6,468.5 1100.0,472.5 1100.3,470.0 1100.7,474.1 1101.0,482.4 1101.3,478.9 1101.7,482.9 1102.0,482.2 1102.4,481.5 1102.7,484.1 1103.1,483.2 1103.4,483.1 1103.8,485.3 1104.1,489.2 1104.5,488.7 1104.8,491.5 1105.1,492.0 1105.5,490.5 1105.8,495.5 1106.2,494.3 1106.5,494.4 1106.9,496.6 1107.2,494.6 1107.6,495.9 1107.9,499.0 1108.3,497.6 1108.6,493.2 1108.9,497.1 1109.3,495.4 1109.6,495.6 1110.0,500.1 1110.3,501.1 1110.7,500.5 1111.0,495.7 1111.4,500.7 1111.7,497.1 1112.1,499.7 1112.4,505.3 1112.7,499.7 1113.1,499.2 1113.4,502.5 1113.8,504.7 1114.1,501.0 1114.5,499.4 1114.8,503.6 1115.2,502.2 1115.5,504.1 1115.9,503.8 1116.2,504.8 1116.5,506.4 1116.9,504.0 1117.2,506.7 1117.6,507.0 1117.9,503.9 1118.3,503.7 1118.6,506.1 1119.0,503.4 1119.3,505.1 1119.7,504.6 1120.0,506.3 1120.3,505.2 1120.7,501.9 1121.0,509.2 1121.4,503.2 1121.7,508.8 1122.1,508.5 1122.4,511.4 1122.8,506.7 1123.1,506.5 1123.5,510.1 1123.8,505.2 1124.1,507.9 1124.5,505.1 1124.8,507.4 1125.2,505.8 1125.5,510.0 1125.9,507.7 1126.2,508.8 1126.6,507.3 1126.9,508.3 1127.3,506.5 1127.6,506.2 1127.9,508.1 1128.3,505.1 1128.6,508.3 1129.0,510.6 1129.3,507.0 1129.7,509.6 1130.0,504.9 1130.4,510.0 1130.7,510.3 1131.1,508.2 1131.4,508.6 1131.7,507.1 1132.1,507.9 1132.4,508.6 1132.8,508.3 1133.1,509.3 1133.5,506.3 1133.8,512.4 1134.2,507.8 1134.5,504.2 1134.9,509.5 1135.2,509.0 1135.5,504.7 1135.9,507.2 1136.2,509.2 1136.6,508.7 1136.9,509.6 1137.3,510.4 1137.6,512.8 1138.0,508.1 1138.3,504.7 1138.7,509.1 1139.0,512.1 1139.3,512.6 1139.7,508.7 1140.0,510.2 1140.4,508.8 1140.7,508.7 1141.1,511.7 1141.4,508.5 1141.8,510.6 1142.1,507.9 1142.5,510.4 1142.8,509.8 1143.1,508.5 1143.5,510.5 1143.8,510.4 1144.2,510.3 1144.5,508.6 1144.9,509.4 1145.2,508.6 1145.6,508.9 1145.9,507.6 1146.3,511.6 1146.6,509.2 1146.9,512.5 1147.3,511.8 1147.6,511.8 1148.0,507.5 1148.3,509.9 1148.7,508.0 1149.0,509.4 1149.4,514.6 1149.7,510.1 1150.1,512.4 1150.4,513.3 1150.7,510.9 1151.1,510.5 1151.4,509.9 1151.8,512.9 1152.1,512.0 1152.5,512.0 1152.8,508.2 1153.2,510.2 1153.5,509.4 1153.9,509.5 1154.2,509.0 1154.6,511.3 1154.9,512.7 1155.2,513.1 1155.6,509.0 1155.9,511.1 1156.3,510.1 1156.6,510.0 1157.0,510.6 1157.3,510.5 1157.7,512.2 1158.0,510.9 1158.4,509.8 1158.7,511.3 1159.0,513.0 1159.4,506.7 1159.7,507.0 1160.1,507.6 1160.4,510.2 1160.8,510.1 1161.1,511.4 1161.5,512.2 1161.8,511.9 1162.2,512.9 1162.5,513.3 1162.8,510.2 1163.2,511.5 1163.5,508.0 1163.9,515.5 1164.2,508.7 1164.6,514.0 1164.9,511.9 1165.3,509.7 1165.6,511.8 1166.0,512.7 1166.3,509.8 1166.6,511.5 1167.0,510.8 1167.3,511.5 1167.7,510.3 1168.0,510.2 1168.4,510.7 1168.7,511.6 1169.1,512.0 1169.4,511.4 1169.8,513.7 1170.1,509.6 1170.4,515.7 1170.8,507.4 1171.1,513.9 1171.5,514.0 1171.8,511.3 1172.2,510.9 1172.5,511.9 1172.9,506.3 1173.2,511.4 1173.6,510.5 1173.9,514.7 1174.2,512.6 1174.6,509.6 1174.9,513.0 1175.3,512.1 1175.6,513.3 1176.0,511.9 1176.3,514.1 1176.7,513.5 1177.0,511.8 1177.4,512.0 1177.7,511.7 1178.0,511.6 1178.4,513.2 1178.7,511.9 1179.1,509.9 1179.4,510.9 1179.8,511.9 1180.1,513.6 1180.5,512.2 1180.8,513.3 1181.2,511.3 1181.5,511.2 1181.8,513.6 1182.2,510.6 1182.5,511.9 1182.9,512.3 1183.2,511.6 1183.6,514.6 1183.9,513.4 1184.3,510.4 1184.6,513.2 1185.0,512.1 1185.3,513.5 1185.6,513.1 1186.0,513.5 1186.3,514.1 1186.7,510.6 1187.0,513.3 1187.4,512.2 1187.7,511.9 1188.1,510.9 1188.4,511.5 1188.8,515.8 1189.1,509.5 1189.4,513.5 1189.8,511.8 1190.1,512.4 1190.5,508.7 1190.8,514.0 1191.2,511.1 1191.5,511.0 1191.9,510.2 1192.2,516.1 1192.6,509.9 1192.9,513.8 1193.2,511.4 1193.6,510.8 1193.9,512.1 1194.3,512.3 1194.6,515.8 1195.0,512.5 1195.3,510.2 1195.7,513.7 1196.0,511.8 1196.4,513.1 1196.7,510.9 1197.0,515.2 1197.4,509.6 1197.7,512.4 1198.1,513.0 1198.4,512.2 1198.8,511.8 1199.1,509.8 1199.5,510.4 1199.8,509.4 1200.2,512.3 1200.5,512.8 1200.8,512.7 1201.2,511.9 1201.5,509.1 1201.9,509.7 1202.2,514.7 1202.6,508.9 1202.9,512.8 1203.3,513.9 1203.6,513.8 1204.0,515.0 1204.3,515.2 1204.6,512.7 1205.0,511.9 1205.3,514.6 1205.7,510.4 1206.0,513.6 1206.4,512.1 1206.7,515.5 1207.1,513.7 1207.4,512.8 1207.8,512.4 1208.1,515.3 1208.4,513.1 1208.8,510.7 1209.1,511.2 1209.5,515.0 1209.8,512.5 1210.2,511.9 1210.5,514.2 1210.9,513.6 1211.2,513.5 1211.6,517.8 1211.9,512.7 1212.2,511.7 1212.6,511.3 1212.9,513.3 1213.3,514.0 1213.6,511.5 1214.0,516.7 1214.3,511.2 1214.7,513.6 1215.0,514.4 1215.4,513.6 1215.7,512.7 1216.0,514.6 1216.4,513.9 1216.7,509.5 1217.1,516.5 1217.4,511.9 1217.8,512.5 1218.1,515.0 1218.5,516.2 1218.8,513.3 1219.2,510.5 1219.5,515.2 1219.8,512.9 1220.2,511.8 1220.5,514.0 1220.9,516.1 1221.2,512.4 1221.6,513.2 1221.9,512.3 1222.3,514.7 1222.6,516.5 1223.0,511.9 1223.3,512.7 1223.7,513.8 1224.0,510.7 1224.3,512.7 1224.7,515.1 1225.0,511.4 1225.4,514.5 1225.7,513.2 1226.1,515.8 1226.4,513.9 1226.8,514.0 1227.1,512.4 1227.5,513.9 1227.8,513.9 1228.1,515.9 1228.5,513.7 1228.8,512.3 1229.2,514.4 1229.5,514.2 1229.9,513.1 1230.2,511.6 1230.6,514.3 1230.9,513.5 1231.3,512.0 1231.6,513.1 1231.9,514.9 1232.3,514.1 1232.6,511.7 1233.0,514.6 1233.3,515.6 1233.7,513.3 1234.0,510.7 1234.4,513.5 1234.7,513.5 1235.1,510.9 1235.4,513.4 1235.7,512.8 1236.1,514.1 1236.4,512.5 1236.8,514.3 1237.1,512.8 1237.5,516.2 1237.8,511.5 1238.2,511.4 1238.5,515.2 1238.9,509.5 1239.2,515.0 1239.5,516.2 1239.9,515.5 1240.2,511.5 1240.6,512.7 1240.9,512.7 1241.3,513.4 1241.6,511.9 1242.0,512.3 1242.3,515.3 1242.7,511.8 1243.0,512.9 1243.3,511.8 1243.7,509.8 1244.0,513.6 1244.4,514.5 1244.7,513.9 1245.1,515.3 1245.4,513.0 1245.8,512.6 1246.1,513.6 1246.5,510.7 1246.8,510.7 1247.1,512.4 1247.5,511.4 1247.8,512.1 1248.2,509.8 1248.5,509.1 1248.9,514.5 1249.2,512.8 1249.6,512.6 1249.9,513.6 1250.3,511.2 1250.6,513.8 1250.9,512.5 1251.3,516.0 1251.6,515.8 1252.0,514.6 1252.3,512.5 1252.7,512.3 1253.0,514.8 1253.4,512.4 1253.7,512.9 1254.1,515.7 1254.4,511.5 1254.7,511.4 1255.1,512.0 1255.4,509.3 1255.8,510.2 1256.1,514.1 1256.5,513.4 1256.8,511.7 1257.2,513.0 1257.5,511.4 1257.9,515.1 1258.2,513.6 1258.5,514.1 1258.9,512.5 1259.2,511.9 1259.6,510.6 1259.9,512.4 1260.3,514.2 1260.6,512.3 1261.0,512.6 1261.3,511.1 1261.7,511.0 1262.0,512.5 1262.3,510.8 1262.7,514.4 1263.0,510.2 1263.4,514.5 1263.7,513.1 1264.1,514.0 1264.4,512.4 1264.8,516.8 1265.1,513.0 1265.5,514.2 1265.8,512.6 1266.1,514.6 1266.5,513.5 1266.8,513.4 1267.2,512.7 1267.5,509.9 1267.9,513.3 1268.2,511.6 1268.6,515.3 1268.9,511.8 1269.3,512.9 1269.6,513.8 1269.9,511.5 1270.3,517.5 1270.6,512.3 1271.0,514.0 1271.3,512.4 1271.7,512.1 1272.0,510.8 1272.4,513.2 1272.7,512.4 1273.1,513.8 1273.4,514.1 1273.7,514.7 1274.1,512.0 1274.4,511.3 1274.8,509.2 1275.1,515.5 1275.5,511.4 1275.8,513.5 1276.2,510.7 1276.5,513.1 1276.9,514.5 1277.2,514.2 1277.5,512.5 1277.9,511.2 1278.2,514.1 1278.6,512.2 1278.9,513.5 1279.3,512.8 1279.6,510.3 1280.0,512.2 1280.3,517.2 1280.7,514.3 1281.0,512.9 1281.3,514.7 1281.7,511.4 1282.0,513.0 1282.4,516.8 1282.7,513.9 1283.1,512.5 1283.4,511.7 1283.8,514.3 1284.1,513.6 1284.5,509.8 1284.8,512.7 1285.1,512.3 1285.5,512.9 1285.8,511.2 1286.2,514.0 1286.5,512.7 1286.9,515.0 1287.2,511.2 1287.6,510.0 1287.9,512.5 1288.3,512.2 1288.6,512.7 1288.9,516.0 1289.3,512.2 1289.6,511.6 1290.0,512.4 1290.3,512.4 1290.7,514.0 1291.0,512.7 1291.4,514.7 1291.7,510.9 1292.1,512.3 1292.4,513.2 1292.8,513.6 1293.1,511.1 1293.4,511.9 1293.8,511.2 1294.1,511.9 1294.5,513.9 1294.8,513.8 1295.2,512.1 1295.5,510.3 1295.9,511.5 1296.2,514.3 1296.6,512.3 1296.9,514.0 1297.2,515.3 1297.6,514.4 1297.9,511.2 1298.3,513.6 1298.6,513.4 1299.0,513.9 1299.3,511.8 1299.7,510.1 1300.0,515.1 1300.4,513.0 1300.7,512.2 1301.0,512.4 1301.4,518.5 1301.7,511.5 1302.1,514.4 1302.4,512.5 1302.8,513.4 1303.1,513.5 1303.5,514.5 1303.8,512.4 1304.2,514.7 1304.5,513.4 1304.8,514.2 1305.2,508.4 1305.5,511.9 1305.9,513.9 1306.2,511.2 1306.6,513.9 1306.9,512.0 1307.3,514.6 1307.6,512.0 1308.0,513.0 1308.3,513.8 1308.6,515.9 1309.0,511.5 1309.3,511.2 1309.7,511.8 1310.0,513.2 1310.4,513.8 1310.7,515.1 1311.1,513.0 1311.4,513.8 1311.8,513.9 1312.1,512.4 1312.4,510.3 1312.8,512.0 1313.1,516.6 1313.5,510.8 1313.8,512.7 1314.2,515.6 1314.5,510.8 1314.9,512.6 1315.2,512.2 1315.6,513.8 1315.9,511.3 1316.2,512.2 1316.6,513.5 1316.9,515.0 1317.3,512.2 1317.6,513.2 1318.0,513.6 1318.3,513.8 1318.7,511.5 1319.0,513.7 1319.4,515.7 1319.7,514.6 1320.0,511.6 1320.4,514.0 1320.7,513.9 1321.1,514.0 1321.4,511.9 1321.8,513.0 1322.1,511.7 1322.5,508.2 1322.8,513.1 1323.2,513.1 1323.5,514.5 1323.8,511.7 1324.2,511.2 1324.5,513.1 1324.9,512.3 1325.2,510.4 1325.6,516.2 1325.9,515.0 1326.3,510.8 1326.6,510.1 1327.0,511.8 1327.3,513.5 1327.6,511.8 1328.0,513.1 1328.3,516.0 1328.7,518.5 1329.0,513.2 1329.4,511.2 1329.7,512.6 1330.1,514.5 1330.4,515.9 1330.8,513.4 1331.1,511.6 1331.4,513.0 1331.8,513.8 1332.1,512.9 1332.5,512.6 1332.8,511.9 1333.2,513.2 1333.5,512.9 1333.9,514.9 1334.2,515.2 1334.6,514.5 1334.9,515.6 1335.2,514.6 1335.6,511.8 1335.9,510.5 1336.3,515.5 1336.6,515.3 1337.0,514.5 1337.3,510.3 1337.7,513.7 1338.0,514.2 1338.4,514.1 1338.7,511.6 1339.0,516.7 1339.4,513.8 1339.7,513.4 1340.1,514.7 1340.4,515.0 1340.8,514.6 1341.1,512.8 1341.5,513.1 1341.8,514.5 1342.2,510.9 1342.5,513.0 1342.8,515.2 1343.2,512.8 1343.5,510.9 1343.9,514.9 1344.2,515.0 1344.6,514.0 1344.9,515.3 1345.3,514.6 1345.6,512.9 1346.0,511.3 1346.3,512.2 1346.6,512.6 1347.0,513.4 1347.3,515.4 1347.7,515.8 1348.0,511.5 1348.4,509.2 1348.7,516.1 1349.1,514.1 1349.4,513.0 1349.8,515.5 1350.1,514.1 1350.4,515.2 1350.8,511.0 1351.1,513.9 1351.5,513.9 1351.8,515.0 1352.2,517.2 1352.5,510.8 1352.9,513.4 1353.2,517.1 1353.6,515.2 1353.9,517.5 1354.2,514.6 1354.6,514.4 1354.9,516.2 1355.3,515.3 1355.6,516.0 1356.0,515.7 1356.3,513.4 1356.7,514.9 1357.0,514.9 1357.4,513.8 1357.7,513.9 1358.0,511.6 1358.4,513.9 1358.7,514.2 1359.1,513.2 1359.4,513.7 1359.8,517.2 1360.1,515.0 1360.5,513.5 1360.8,511.6 1361.2,516.8 1361.5,517.5 1361.9,513.1 1362.2,516.6 1362.5,514.3 1362.9,516.2 1363.2,514.3 1363.6,514.2 1363.9,514.0 1364.3,512.7 1364.6,516.1 1365.0,512.8 1365.3,514.5 1365.7,515.6 1366.0,514.3 1366.3,515.3 1366.7,516.4 1367.0,516.2 1367.4,514.7 1367.7,514.2 1368.1,516.2 1368.4,515.7 1368.8,516.0 1369.1,514.5 1369.5,518.1 1369.8,514.8 1370.1,515.8 1370.5,517.3 1370.8,514.3 1371.2,512.9 1371.5,513.7 1371.9,513.6 1372.2,516.1 1372.6,514.1 1372.9,519.0 1373.3,515.5 1373.6,514.7 1373.9,518.4 1374.3,514.0 1374.6,514.7 1375.0,516.8 1375.3,513.2 1375.7,516.3 1376.0,515.8 1376.4,515.5 1376.7,516.3 1377.1,514.5 1377.4,515.5 1377.7,519.4 1378.1,514.8 1378.4,514.6 1378.8,514.2 1379.1,515.6 1379.5,516.8 1379.8,516.4 1380.2,515.4 1380.5,517.4 1380.9,515.9 1381.2,513.7 1381.5,515.4 1381.9,513.1 1382.2,514.1 1382.6,516.3 1382.9,516.2 1383.3,514.8 1383.6,516.1 1384.0,515.2 1384.3,514.5 1384.7,516.5 1385.0,516.3 1385.3,517.8 1385.7,516.6 1386.0,517.6 1386.4,517.3 1386.7,515.7 1387.1,516.4 1387.4,516.0 1387.8,517.9 1388.1,516.7 1388.5,516.2 1388.8,515.6 1389.1,517.4 1389.5,516.8 1389.8,515.0 1390.2,517.7 1390.5,514.8 1390.9,517.1 1391.2,515.1 1391.6,516.5 1391.9,517.7 1392.3,517.7 1392.6,518.2 1392.9,518.5 1393.3,514.9 1393.6,516.5 1394.0,517.7 1394.3,517.9 1394.7,514.4 1395.0,515.0 1395.4,517.2 1395.7,514.5 1396.1,514.7 1396.4,516.9" fill="none" stroke="#ff0000" stroke-width="1.4" stroke-linejoin="round"/>
<path d="M83.5,234.9 83.8,224.7 84.2,232.9 84.5,225.0 84.9,234.6 85.2,223.4 85.6,227.0 85.9,227.4 86.3,221.0 86.6,233.6 87.0,223.3 87.3,224.3 87.6,227.4 88.0,233.0 88.3,226.3 88.7,238.2 89.0,229.6 89.4,228.5 89.7,231.6 90.1,229.1 90.4,225.1 90.8,227.3 91.1,230.3 91.4,236.3 91.8,230.6 92.1,231.5 92.5,219.9 92.8,228.3 93.2,229.3 93.5,236.9 93.9,236.1 94.2,229.8 94.6,231.5 94.9,229.0 95.2,226.1 95.6,229.3 95.9,227.6 96.3,230.5 96.6,232.0 97.0,228.2 97.3,233.8 97.7,224.2 98.0,229.1 98.4,229.8 98.7,221.1 99.0,231.6 99.4,231.9 99.7,236.2 100.1,228.6 100.4,231.4 100.8,231.6 101.1,221.8 101.5,230.0 101.8,222.5 102.2,229.9 102.5,231.7 102.8,229.8 103.2,219.8 103.5,234.8 103.9,229.8 104.2,232.7 104.6,225.5 104.9,226.8 105.3,237.3 105.6,227.5 106.0,226.5 106.3,226.7 106.6,232.6 107.0,221.5 107.3,226.9 107.7,224.4 108.0,238.9 108.4,232.8 108.7,228.6 109.1,229.1 109.4,227.1 109.8,226.2 110.1,227.3 110.4,235.6 110.8,226.7 111.1,226.8 111.5,229.2 111.8,234.2 112.2,229.9 112.5,223.3 112.9,228.1 113.2,227.9 113.6,222.1 113.9,224.5 114.2,229.2 114.6,225.8 114.9,234.8 115.3,229.1 115.6,225.6 116.0,227.2 116.3,223.6 116.7,224.6 117.0,230.7 117.4,227.1 117.7,219.1 118.1,221.6 118.4,229.8 118.7,222.3 119.1,225.9 119.4,231.9 119.8,226.2 120.1,225.9 120.5,225.3 120.8,231.6 121.2,224.0 121.5,221.7 121.9,227.2 122.2,233.9 122.5,228.4 122.9,233.4 123.2,232.0 123.6,221.9 123.9,226.9 124.3,226.1 124.6,226.5 125.0,231.7 125.3,232.4 125.7,229.4 126.0,231.3 126.3,223.4 126.7,229.4 127.0,221.3 127.4,224.2 127.7,220.2 128.1,230.7 128.4,223.5 128.8,228.5 129.1,219.5 129.5,226.0 129.8,228.4 130.1,225.1 130.5,225.4 130.8,225.1 131.2,224.1 131.5,222.6 131.9,220.4 132.2,228.4 132.6,223.8 132.9,223.9 133.3,224.9 133.6,217.9 133.9,217.3 134.3,217.2 134.6,230.7 135.0,221.6 135.3,225.8 135.7,214.6 136.0,220.7 136.4,222.7 136.7,219.7 137.1,226.9 137.4,220.5 137.7,221.5 138.1,226.7 138.4,228.7 138.8,223.0 139.1,219.5 139.5,220.1 139.8,226.5 140.2,216.4 140.5,216.5 140.9,216.6 141.2,225.2 141.5,222.5 141.9,216.6 142.2,217.2 142.6,220.3 142.9,218.0 143.3,215.7 143.6,216.6 144.0,219.4 144.3,217.6 144.7,220.2 145.0,218.8 145.3,217.3 145.7,222.5 146.0,222.8 146.4,212.3 146.7,222.2 147.1,219.2 147.4,217.0 147.8,224.9 148.1,223.0 148.5,224.6 148.8,220.0 149.1,230.4 149.5,225.1 149.8,220.6 150.2,231.8 150.5,220.2 150.9,230.7 151.2,223.2 151.6,222.1 151.9,222.0 152.3,221.2 152.6,222.2 152.9,228.5 153.3,227.4 153.6,221.6 154.0,230.4 154.3,224.0 154.7,233.5 155.0,230.1 155.4,231.9 155.7,238.6 156.1,225.6 156.4,244.4 156.7,248.7 157.1,240.9 157.4,239.3 157.8,234.6 158.1,242.7 158.5,237.8 158.8,237.9 159.2,236.2 159.5,246.0 159.9,244.1 160.2,235.0 160.5,241.0 160.9,236.4 161.2,246.2 161.6,238.9 161.9,242.8 162.3,245.9 162.6,243.1 163.0,239.1 163.3,242.8 163.7,239.5 164.0,251.4 164.3,249.7 164.7,239.0 165.0,241.9 165.4,256.4 165.7,250.3 166.1,246.6 166.4,252.2 166.8,250.2 167.1,252.4 167.5,248.0 167.8,256.7 168.1,251.4 168.5,245.9 168.8,251.0 169.2,250.3 169.5,253.7 169.9,253.6 170.2,253.3 170.6,249.8 170.9,254.6 171.3,251.7 171.6,261.1 171.9,250.3 172.3,254.2 172.6,253.7 173.0,252.2 173.3,258.3 173.7,258.4 174.0,258.4 174.4,264.2 174.7,256.3 175.1,260.9 175.4,260.0 175.7,261.3 176.1,255.6 176.4,256.4 176.8,265.1 177.1,257.6 177.5,267.3 177.8,269.5 178.2,261.7 178.5,265.8 178.9,265.7 179.2,271.5 179.5,274.4 179.9,269.6 180.2,270.3 180.6,272.2 180.9,264.0 181.3,267.9 181.6,272.0 182.0,266.9 182.3,275.7 182.7,265.8 183.0,269.0 183.3,270.4 183.7,272.9 184.0,266.9 184.4,269.3 184.7,272.5 185.1,271.6 185.4,273.8 185.8,268.5 186.1,267.6 186.5,261.0 186.8,267.1 187.2,270.4 187.5,266.8 187.8,271.1 188.2,276.1 188.5,271.1 188.9,276.7 189.2,276.3 189.6,273.7 189.9,276.6 190.3,277.5 190.6,268.9 191.0,280.5 191.3,267.7 191.6,275.7 192.0,272.5 192.3,272.9 192.7,275.9 193.0,273.8 193.4,274.7 193.7,275.4 194.1,272.3 194.4,276.8 194.8,271.9 195.1,278.3 195.4,271.9 195.8,277.6 196.1,274.8 196.5,282.6 196.8,273.5 197.2,281.9 197.5,276.1 197.9,271.6 198.2,283.3 198.6,281.9 198.9,284.8 199.2,277.0 199.6,282.3 199.9,284.9 200.3,280.2 200.6,290.7 201.0,279.4 201.3,284.4 201.7,277.7 202.0,278.6 202.4,280.3 202.7,281.7 203.0,283.3 203.4,284.6 203.7,275.0 204.1,283.7 204.4,281.4 204.8,277.1 205.1,281.3 205.5,286.7 205.8,286.3 206.2,278.9 206.5,282.4 206.8,282.9 207.2,289.7 207.5,283.8 207.9,282.0 208.2,284.7 208.6,275.5 208.9,285.1 209.3,288.2 209.6,286.0 210.0,277.7 210.3,293.3 210.6,286.4 211.0,283.5 211.3,283.5 211.7,286.7 212.0,282.9 212.4,282.7 212.7,285.3 213.1,278.7 213.4,285.3 213.8,278.7 214.1,283.6 214.4,285.6 214.8,283.3 215.1,284.2 215.5,279.4 215.8,277.6 216.2,284.2 216.5,279.5 216.9,276.6 217.2,277.5 217.6,276.5 217.9,281.6 218.2,280.8 218.6,283.7 218.9,273.6 219.3,277.6 219.6,276.7 220.0,268.8 220.3,275.9 220.7,278.1 221.0,272.2 221.4,270.2 221.7,283.4 222.0,269.0 222.4,279.5 222.7,274.7 223.1,274.8 223.4,270.9 223.8,268.8 224.1,277.9 224.5,279.4 224.8,268.9 225.2,276.7 225.5,272.0 225.8,275.0 226.2,271.2 226.5,269.4 226.9,266.1 227.2,265.5 227.6,271.7 227.9,271.3 228.3,267.7 228.6,266.0 229.0,269.3 229.3,273.9 229.6,275.8 230.0,276.4 230.3,272.9 230.7,275.5 231.0,268.2 231.4,279.2 231.7,274.0 232.1,271.0 232.4,271.0 232.8,271.0 233.1,274.6 233.4,279.6 233.8,274.3 234.1,281.1 234.5,278.9 234.8,272.6 235.2,275.3 235.5,276.5 235.9,278.7 236.2,287.5 236.6,290.0 236.9,282.5 237.2,283.0 237.6,279.4 237.9,286.8 238.3,279.9 238.6,281.6 239.0,284.0 239.3,287.3 239.7,285.5 240.0,276.3 240.4,286.4 240.7,284.0 241.0,287.0 241.4,291.1 241.7,280.7 242.1,287.5 242.4,290.5 242.8,281.9 243.1,292.6 243.5,290.4 243.8,289.4 244.2,285.9 244.5,290.6 244.8,292.0 245.2,286.8 245.5,287.7 245.9,287.1 246.2,291.5 246.6,292.1 246.9,294.4 247.3,292.7 247.6,290.4 248.0,292.2 248.3,289.3 248.6,296.2 249.0,289.6 249.3,290.3 249.7,293.9 250.0,287.3 250.4,295.8 250.7,299.3 251.1,297.1 251.4,297.6 251.8,297.2 252.1,295.8 252.4,295.8 252.8,292.3 253.1,297.7 253.5,299.9 253.8,303.8 254.2,296.0 254.5,298.9 254.9,299.5 255.2,296.8 255.6,296.8 255.9,297.1 256.3,297.8 256.6,304.6 256.9,293.4 257.3,295.3 257.6,294.7 258.0,301.0 258.3,302.0 258.7,296.9 259.0,303.6 259.4,297.1 259.7,306.2 260.1,301.4 260.4,304.6 260.7,296.8 261.1,304.9 261.4,302.5 261.8,300.3 262.1,297.0 262.5,305.5 262.8,305.4 263.2,302.0 263.5,306.8 263.9,307.1 264.2,307.9 264.5,301.0 264.9,307.1 265.2,305.6 265.6,303.1 265.9,306.3 266.3,304.3 266.6,310.2 267.0,306.3 267.3,308.5 267.7,310.5 268.0,314.3 268.3,310.6 268.7,304.5 269.0,314.1 269.4,310.2 269.7,313.6 270.1,310.6 270.4,309.3 270.8,306.1 271.1,311.7 271.5,314.2 271.8,310.0 272.1,310.2 272.5,310.1 272.8,312.3 273.2,313.5 273.5,316.2 273.9,312.7 274.2,314.7 274.6,311.0 274.9,318.0 275.3,315.1 275.6,310.8 275.9,312.6 276.3,315.5 276.6,320.2 277.0,317.0 277.3,322.4 277.7,319.0 278.0,315.0 278.4,315.7 278.7,324.1 279.1,316.4 279.4,316.5 279.7,316.6 280.1,315.6 280.4,322.7 280.8,323.5 281.1,317.5 281.5,326.8 281.8,324.8 282.2,320.9 282.5,317.7 282.9,321.4 283.2,321.7 283.5,325.7 283.9,322.5 284.2,327.2 284.6,332.5 284.9,322.6 285.3,323.5 285.6,329.8 286.0,332.0 286.3,320.6 286.7,325.2 287.0,322.2 287.3,329.0 287.7,328.6 288.0,326.1 288.4,329.7 288.7,333.1 289.1,319.7 289.4,324.9 289.8,327.8 290.1,330.5 290.5,332.3 290.8,331.9 291.1,337.2 291.5,332.1 291.8,329.8 292.2,329.9 292.5,326.2 292.9,332.4 293.2,334.9 293.6,329.9 293.9,336.4 294.3,329.9 294.6,336.3 294.9,334.0 295.3,340.1 295.6,336.0 296.0,336.1 296.3,334.4 296.7,332.4 297.0,334.2 297.4,333.4 297.7,332.0 298.1,340.8 298.4,340.5 298.7,339.3 299.1,339.7 299.4,334.1 299.8,330.3 300.1,340.6 300.5,340.9 300.8,341.4 301.2,342.6 301.5,342.5 301.9,338.8 302.2,343.2 302.5,343.4 302.9,346.7 303.2,344.3 303.6,343.4 303.9,343.7 304.3,341.0 304.6,342.7 305.0,346.7 305.3,338.8 305.7,342.1 306.0,347.4 306.3,343.4 306.7,340.8 307.0,347.3 307.4,348.1 307.7,347.8 308.1,347.8 308.4,343.1 308.8,355.3 309.1,345.6 309.5,346.1 309.8,350.4 310.1,350.6 310.5,349.3 310.8,350.1 311.2,351.7 311.5,351.2 311.9,348.0 312.2,351.0 312.6,352.0 312.9,352.2 313.3,351.3 313.6,348.8 313.9,353.3 314.3,354.1 314.6,353.5 315.0,348.0 315.3,353.8 315.7,357.4 316.0,354.6 316.4,352.1 316.7,354.5 317.1,353.5 317.4,353.0 317.7,355.7 318.1,355.2 318.4,352.5 318.8,359.7 319.1,357.7 319.5,350.3 319.8,354.8 320.2,355.2 320.5,348.4 320.9,352.2 321.2,358.8 321.5,355.9 321.9,357.4 322.2,356.9 322.6,356.6 322.9,355.3 323.3,353.2 323.6,352.1 324.0,354.9 324.3,359.6 324.7,360.1 325.0,361.2 325.4,357.4 325.7,355.7 326.0,362.2 326.4,361.2 326.7,360.0 327.1,360.0 327.4,357.7 327.8,362.4 328.1,354.5 328.5,358.4 328.8,361.2 329.2,359.8 329.5,364.2 329.8,361.1 330.2,358.2 330.5,358.0 330.9,354.4 331.2,363.6 331.6,360.7 331.9,362.1 332.3,357.1 332.6,357.5 333.0,361.7 333.3,358.8 333.6,360.1 334.0,364.3 334.3,361.3 334.7,361.3 335.0,360.9 335.4,358.9 335.7,362.2 336.1,360.7 336.4,366.6 336.8,362.0 337.1,355.7 337.4,359.2 337.8,357.7 338.1,363.9 338.5,359.6 338.8,356.6 339.2,358.9 339.5,362.6 339.9,361.9 340.2,360.1 340.6,360.0 340.9,356.1 341.2,358.3 341.6,358.7 341.9,356.7 342.3,359.3 342.6,355.7 343.0,361.1 343.3,356.3 343.7,355.4 344.0,354.7 344.4,356.6 344.7,358.2 345.0,357.7 345.4,354.8 345.7,357.0 346.1,353.4 346.4,355.8 346.8,357.2 347.1,356.0 347.5,353.8 347.8,352.9 348.2,355.6 348.5,354.6 348.8,349.6 349.2,351.7 349.5,353.4 349.9,354.4 350.2,353.6 350.6,357.3 350.9,350.4 351.3,357.0 351.6,352.0 352.0,353.8 352.3,351.7 352.6,353.0 353.0,348.3 353.3,355.9 353.7,350.4 354.0,351.2 354.4,345.1 354.7,350.7 355.1,348.8 355.4,352.2 355.8,350.8 356.1,348.1 356.4,345.2 356.8,352.2 357.1,347.1 357.5,350.2 357.8,349.6 358.2,350.3 358.5,342.2 358.9,341.8 359.2,343.1 359.6,341.4 359.9,344.3 360.2,342.4 360.6,342.2 360.9,339.9 361.3,339.4 361.6,338.2 362.0,335.8 362.3,332.5 362.7,335.5 363.0,329.6 363.4,324.3 363.7,321.4 364.0,325.5 364.4,320.8 364.7,317.9 365.1,312.8 365.4,313.9 365.8,312.7 366.1,307.7 366.5,300.6 366.8,299.2 367.2,296.1 367.5,289.3 367.8,284.6 368.2,280.5 368.5,283.9 368.9,278.9 369.2,271.5 369.6,268.7 369.9,268.1 370.3,265.5 370.6,262.8 371.0,257.8 371.3,257.3 371.6,259.8 372.0,262.9 372.3,264.4 372.7,265.1 373.0,266.5 373.4,275.7 373.7,273.3 374.1,279.7 374.4,284.0 374.8,288.8 375.1,295.2 375.4,290.7 375.8,292.4 376.1,304.3 376.5,309.3 376.8,312.4 377.2,315.0 377.5,316.0 377.9,318.4 378.2,326.6 378.6,322.0 378.9,329.1 379.2,327.7 379.6,330.1 379.9,329.3 380.3,332.7 380.6,333.0 381.0,331.9 381.3,334.7 381.7,333.6 382.0,341.9 382.4,337.9 382.7,340.4 383.0,346.8 383.4,345.0 383.7,342.8 384.1,347.3 384.4,346.2 384.8,347.7 385.1,344.3 385.5,349.4 385.8,348.3 386.2,347.0 386.5,346.0 386.8,348.2 387.2,347.0 387.5,350.0 387.9,350.4 388.2,348.3 388.6,354.2 388.9,353.4 389.3,347.8 389.6,355.8 390.0,350.2 390.3,348.4 390.6,352.8 391.0,356.0 391.3,357.3 391.7,352.1 392.0,354.7 392.4,354.6 392.7,358.1 393.1,357.2 393.4,356.4 393.8,356.4 394.1,356.5 394.5,356.8 394.8,355.9 395.1,355.1 395.5,360.8 395.8,357.8 396.2,358.5 396.5,357.6 396.9,359.6 397.2,357.5 397.6,360.5 397.9,359.3 398.3,363.4 398.6,355.8 398.9,364.5 399.3,362.0 399.6,359.1 400.0,363.5 400.3,361.5 400.7,363.6 401.0,362.3 401.4,363.5 401.7,363.3 402.1,362.8 402.4,362.5 402.7,365.9 403.1,366.5 403.4,366.8 403.8,364.2 404.1,365.6 404.5,366.2 404.8,366.4 405.2,366.1 405.5,367.7 405.9,365.4 406.2,368.2 406.5,364.4 406.9,366.6 407.2,366.4 407.6,366.6 407.9,370.2 408.3,364.8 408.6,367.5 409.0,368.0 409.3,369.8 409.7,366.3 410.0,366.0 410.3,367.4 410.7,368.9 411.0,370.1 411.4,373.4 411.7,373.7 412.1,371.7 412.4,370.7 412.8,372.2 413.1,371.5 413.5,370.1 413.8,369.8 414.1,375.0 414.5,372.1 414.8,369.3 415.2,373.9 415.5,369.2 415.9,370.6 416.2,372.0 416.6,371.3 416.9,371.0 417.3,370.5 417.6,370.2 417.9,369.3 418.3,372.7 418.6,374.8 419.0,370.3 419.3,373.8 419.7,374.3 420.0,369.8 420.4,374.9 420.7,374.8 421.1,372.8 421.4,371.4 421.7,374.5 422.1,374.1 422.4,371.7 422.8,367.7 423.1,376.2 423.5,367.2 423.8,373.3 424.2,367.6 424.5,372.5 424.9,372.2 425.2,373.6 425.5,374.6 425.9,375.1 426.2,371.5 426.6,375.8 426.9,375.3 427.3,371.9 427.6,374.9 428.0,372.3 428.3,374.6 428.7,371.4 429.0,374.8 429.3,377.4 429.7,373.3 430.0,375.0 430.4,378.9 430.7,380.7 431.1,372.1 431.4,373.8 431.8,369.6 432.1,371.2 432.5,379.0 432.8,374.1 433.1,374.0 433.5,374.1 433.8,377.6 434.2,372.1 434.5,373.4 434.9,374.6 435.2,373.6 435.6,375.9 435.9,378.8 436.3,374.1 436.6,375.7 436.9,378.8 437.3,375.7 437.6,373.1 438.0,377.1 438.3,377.4 438.7,379.4 439.0,375.5 439.4,378.2 439.7,378.6 440.1,371.2 440.4,375.5 440.7,380.1 441.1,373.9 441.4,378.9 441.8,375.4 442.1,372.6 442.5,370.3 442.8,374.4 443.2,372.9 443.5,380.1 443.9,370.9 444.2,378.3 444.5,375.6 444.9,378.6 445.2,373.0 445.6,377.0 445.9,374.3 446.3,378.1 446.6,379.9 447.0,377.8 447.3,376.7 447.7,378.6 448.0,378.1 448.3,375.2 448.7,371.8 449.0,375.6 449.4,371.6 449.7,374.7 450.1,382.3 450.4,380.1 450.8,375.3 451.1,377.3 451.5,380.2 451.8,376.3 452.1,372.2 452.5,372.4 452.8,379.3 453.2,379.3 453.5,378.9 453.9,377.2 454.2,376.6 454.6,376.5 454.9,374.9 455.3,376.3 455.6,376.6 455.9,372.9 456.3,379.8 456.6,376.5 457.0,377.1 457.3,373.2 457.7,374.7 458.0,373.7 458.4,371.8 458.7,372.8 459.1,379.4 459.4,374.8 459.7,375.4 460.1,374.0 460.4,373.8 460.8,371.7 461.1,374.3 461.5,371.1 461.8,373.7 462.2,369.5 462.5,370.6 462.9,371.3 463.2,373.1 463.6,369.2 463.9,372.0 464.2,372.3 464.6,372.9 464.9,371.2 465.3,371.0 465.6,370.1 466.0,367.2 466.3,370.8 466.7,368.3 467.0,369.6 467.4,372.6 467.7,370.5 468.0,369.0 468.4,367.5 468.7,366.4 469.1,364.5 469.4,367.4 469.8,370.3 470.1,367.5 470.5,364.2 470.8,368.3 471.2,363.5 471.5,363.4 471.8,367.3 472.2,366.2 472.5,368.3 472.9,361.6 473.2,364.6 473.6,364.1 473.9,363.0 474.3,362.9 474.6,358.3 475.0,362.4 475.3,359.8 475.6,362.0 476.0,359.1 476.3,362.9 476.7,361.3 477.0,360.1 477.4,360.0 477.7,358.0 478.1,361.7 478.4,359.8 478.8,358.5 479.1,357.8 479.4,357.4 479.8,357.4 480.1,355.5 480.5,352.8 480.8,350.8 481.2,351.6 481.5,356.5 481.9,352.0 482.2,354.7 482.6,356.0 482.9,352.6 483.2,351.0 483.6,350.6 483.9,352.4 484.3,347.7 484.6,350.2 485.0,352.9 485.3,348.9 485.7,347.8 486.0,346.6 486.4,344.3 486.7,340.7 487.0,344.7 487.4,343.9 487.7,337.4 488.1,340.1 488.4,341.7 488.8,339.6 489.1,338.1 489.5,333.5 489.8,331.9 490.2,332.8 490.5,334.0 490.8,328.7 491.2,332.5 491.5,324.5 491.9,324.1 492.2,326.5 492.6,318.9 492.9,321.9 493.3,319.9 493.6,318.0 494.0,314.9 494.3,312.5 494.6,308.1 495.0,308.2 495.3,305.5 495.7,301.2 496.0,299.4 496.4,301.4 496.7,296.4 497.1,293.2 497.4,292.3 497.8,286.1 498.1,288.7 498.4,286.7 498.8,286.3 499.1,279.0 499.5,278.6 499.8,272.7 500.2,269.6 500.5,267.0 500.9,265.8 501.2,261.7 501.6,260.1 501.9,255.5 502.2,252.3 502.6,253.3 502.9,246.5 503.3,245.9 503.6,246.8 504.0,242.3 504.3,240.4 504.7,236.9 505.0,234.4 505.4,236.1 505.7,232.4 506.0,231.6 506.4,231.7 506.7,227.8 507.1,229.1 507.4,221.9 507.8,231.3 508.1,230.7 508.5,225.8 508.8,229.6 509.2,229.7 509.5,227.2 509.8,229.9 510.2,229.8 510.5,230.7 510.9,232.4 511.2,235.3 511.6,233.9 511.9,235.5 512.3,236.7 512.6,236.5 513.0,241.3 513.3,246.4 513.6,246.7 514.0,244.0 514.3,249.0 514.7,248.6 515.0,254.3 515.4,250.8 515.7,259.2 516.1,255.7 516.4,262.3 516.8,266.2 517.1,266.0 517.4,271.3 517.8,270.2 518.1,276.4 518.5,274.4 518.8,278.0 519.2,281.7 519.5,288.1 519.9,284.1 520.2,286.3 520.6,293.2 520.9,293.3 521.2,294.1 521.6,297.6 521.9,302.4 522.3,301.3 522.6,303.5 523.0,308.8 523.3,311.6 523.7,311.4 524.0,314.6 524.4,319.8 524.7,316.8 525.0,319.6 525.4,327.0 525.7,328.1 526.1,332.0 526.4,331.2 526.8,332.8 527.1,335.6 527.5,333.0 527.8,335.9 528.2,341.4 528.5,343.3 528.8,345.5 529.2,346.7 529.5,347.4 529.9,346.1 530.2,351.3 530.6,352.3 530.9,349.7 531.3,356.3 531.6,356.6 532.0,358.7 532.3,356.6 532.7,358.6 533.0,367.3 533.3,361.1 533.7,362.6 534.0,366.3 534.4,360.5 534.7,366.7 535.1,368.7 535.4,370.1 535.8,370.5 536.1,366.5 536.5,371.2 536.8,372.6 537.1,367.1 537.5,373.9 537.8,372.5 538.2,374.6 538.5,375.0 538.9,375.2 539.2,377.2 539.6,377.4 539.9,379.2 540.3,378.5 540.6,376.2 540.9,382.0 541.3,379.3 541.6,375.9 542.0,380.8 542.3,380.8 542.7,382.3 543.0,383.7 543.4,381.6 543.7,379.6 544.1,383.8 544.4,380.8 544.7,381.8 545.1,383.6 545.4,381.6 545.8,381.8 546.1,386.2 546.5,383.6 546.8,384.6 547.2,383.2 547.5,383.7 547.9,382.9 548.2,384.7 548.5,384.1 548.9,384.4 549.2,383.6 549.6,390.5 549.9,387.5 550.3,383.9 550.6,382.5 551.0,387.5 551.3,385.9 551.7,384.8 552.0,387.4 552.3,385.0 552.7,390.2 553.0,386.8 553.4,384.7 553.7,383.8 554.1,391.0 554.4,386.5 554.8,387.1 555.1,388.5 555.5,386.4 555.8,385.7 556.1,387.0 556.5,389.3 556.8,388.9 557.2,387.3 557.5,388.5 557.9,392.5 558.2,391.8 558.6,389.1 558.9,390.5 559.3,390.0 559.6,391.3 559.9,394.8 560.3,389.7 560.6,391.9 561.0,391.3 561.3,391.8 561.7,391.3 562.0,389.7 562.4,390.4 562.7,387.6 563.1,389.7 563.4,391.2 563.7,393.7 564.1,393.9 564.4,392.3 564.8,391.2 565.1,390.3 565.5,389.5 565.8,392.9 566.2,394.0 566.5,392.8 566.9,391.0 567.2,391.1 567.5,396.3 567.9,394.1 568.2,392.6 568.6,395.4 568.9,393.9 569.3,390.6 569.6,394.4 570.0,394.5 570.3,396.5 570.7,392.7 571.0,395.7 571.3,395.7 571.7,395.1 572.0,394.6 572.4,394.7 572.7,394.4 573.1,395.1 573.4,396.2 573.8,394.8 574.1,393.8 574.5,394.4 574.8,394.6 575.1,394.7 575.5,395.4 575.8,392.6 576.2,396.2 576.5,399.3 576.9,397.3 577.2,394.7 577.6,393.0 577.9,395.5 578.3,395.4 578.6,396.1 578.9,394.3 579.3,394.4 579.6,397.4 580.0,395.7 580.3,398.3 580.7,394.4 581.0,393.3 581.4,397.4 581.7,394.8 582.1,395.1 582.4,398.0 582.7,395.9 583.1,398.1 583.4,395.6 583.8,397.0 584.1,397.7 584.5,398.7 584.8,398.3 585.2,396.2 585.5,396.4 585.9,398.7 586.2,398.9 586.5,398.8 586.9,394.5 587.2,394.2 587.6,397.2 587.9,395.1 588.3,396.3 588.6,397.2 589.0,396.6 589.3,397.4 589.7,400.1 590.0,395.1 590.3,397.3 590.7,395.8 591.0,396.4 591.4,395.0 591.7,397.9 592.1,396.5 592.4,400.1 592.8,398.9 593.1,394.3 593.5,398.2 593.8,396.6 594.1,396.6 594.5,399.2 594.8,401.2 595.2,395.0 595.5,395.3 595.9,395.6 596.2,398.1 596.6,396.0 596.9,398.7 597.3,392.7 597.6,395.3 597.9,398.7 598.3,399.3 598.6,395.0 599.0,394.6 599.3,396.3 599.7,396.3 600.0,396.3 600.4,395.7 600.7,401.9 601.1,399.0 601.4,395.7 601.8,395.9 602.1,397.2 602.4,398.1 602.8,400.3 603.1,399.5 603.5,397.7 603.8,396.3 604.2,399.2 604.5,398.9 604.9,395.5 605.2,394.1 605.6,396.8 605.9,397.8 606.2,396.9 606.6,396.3 606.9,395.6 607.3,400.1 607.6,397.1 608.0,395.6 608.3,395.5 608.7,398.2 609.0,395.5 609.4,400.2 609.7,394.8 610.0,396.0 610.4,394.6 610.7,398.7 611.1,394.9 611.4,395.0 611.8,398.8 612.1,399.8 612.5,396.7 612.8,400.5 613.2,399.7 613.5,394.6 613.8,399.3 614.2,401.0 614.5,398.5 614.9,396.7 615.2,397.9 615.6,396.9 615.9,399.0 616.3,400.5 616.6,399.1 617.0,399.3 617.3,402.3 617.6,398.9 618.0,401.2 618.3,396.7 618.7,397.6 619.0,400.2 619.4,401.2 619.7,400.8 620.1,400.5 620.4,399.3 620.8,400.2 621.1,400.7 621.4,398.5 621.8,395.3 622.1,397.1 622.5,402.3 622.8,398.6 623.2,398.1 623.5,397.2 623.9,398.9 624.2,397.5 624.6,400.3 624.9,399.4 625.2,394.9 625.6,397.1 625.9,398.2 626.3,397.2 626.6,397.9 627.0,398.9 627.3,397.5 627.7,396.2 628.0,398.5 628.4,397.4 628.7,396.8 629.0,396.8 629.4,401.3 629.7,398.2 630.1,396.4 630.4,397.3 630.8,396.6 631.1,396.8 631.5,396.8 631.8,399.0 632.2,397.5 632.5,396.5 632.8,399.8 633.2,398.2 633.5,397.7 633.9,398.0 634.2,397.4 634.6,398.9 634.9,396.2 635.3,396.1 635.6,398.1 636.0,395.2 636.3,395.6 636.6,397.9 637.0,401.2 637.3,397.3 637.7,398.1 638.0,395.2 638.4,396.4 638.7,401.1 639.1,397.5 639.4,397.7 639.8,395.9 640.1,398.8 640.4,398.0 640.8,398.6 641.1,398.7 641.5,396.3 641.8,395.7 642.2,396.8 642.5,397.0 642.9,398.0 643.2,396.6 643.6,393.8 643.9,399.9 644.2,398.1 644.6,394.3 644.9,399.9 645.3,394.3 645.6,393.3 646.0,394.1 646.3,399.0 646.7,396.7 647.0,395.4 647.4,395.9 647.7,398.2 648.0,395.1 648.4,397.0 648.7,396.2 649.1,396.2 649.4,397.6 649.8,396.1 650.1,397.0 650.5,395.9 650.8,393.5 651.2,394.8 651.5,396.6 651.8,400.6 652.2,395.0 652.5,397.7 652.9,394.3 653.2,396.6 653.6,397.7 653.9,395.9 654.3,395.8 654.6,394.7 655.0,396.0 655.3,396.1 655.6,397.0 656.0,395.2 656.3,394.4 656.7,394.7 657.0,394.9 657.4,396.0 657.7,397.0 658.1,393.1 658.4,396.7 658.8,395.2 659.1,393.0 659.4,393.6 659.8,392.3 660.1,392.0 660.5,393.7 660.8,394.8 661.2,393.7 661.5,395.3 661.9,395.1 662.2,395.0 662.6,394.8 662.9,394.5 663.2,390.1 663.6,394.1 663.9,390.0 664.3,395.5 664.6,391.9 665.0,392.3 665.3,391.4 665.7,394.1 666.0,391.1 666.4,392.3 666.7,391.0 667.0,392.8 667.4,390.5 667.7,393.0 668.1,392.0 668.4,390.6 668.8,391.8 669.1,390.7 669.5,389.7 669.8,390.8 670.2,386.9 670.5,391.1 670.9,392.1 671.2,389.6 671.5,391.6 671.9,392.6 672.2,389.0 672.6,394.0 672.9,389.5 673.3,392.0 673.6,391.0 674.0,392.8 674.3,389.8 674.7,390.5 675.0,392.3 675.3,393.2 675.7,391.2 676.0,392.1 676.4,387.6 676.7,388.3 677.1,389.9 677.4,390.7 677.8,391.1 678.1,392.6 678.5,390.1 678.8,391.1 679.1,390.9 679.5,388.3 679.8,386.1 680.2,389.4 680.5,389.1 680.9,392.1 681.2,390.3 681.6,391.0 681.9,388.8 682.3,388.4 682.6,390.3 682.9,392.0 683.3,386.8 683.6,388.8 684.0,386.5 684.3,387.1 684.7,390.3 685.0,389.7 685.4,388.0 685.7,388.9 686.1,391.5 686.4,387.0 686.7,390.5 687.1,388.7 687.4,384.1 687.8,390.3 688.1,392.3 688.5,387.6 688.8,387.9 689.2,387.0 689.5,388.7 689.9,388.7 690.2,390.8 690.5,389.7 690.9,388.5 691.2,387.8 691.6,390.5 691.9,387.7 692.3,387.8 692.6,389.7 693.0,390.0 693.3,387.1 693.7,387.3 694.0,392.9 694.3,385.2 694.7,388.8 695.0,387.4 695.4,391.7 695.7,387.2 696.1,387.0 696.4,388.0 696.8,386.6 697.1,390.2 697.5,389.8 697.8,389.0 698.1,389.4 698.5,386.6 698.8,387.0 699.2,389.3 699.5,386.9 699.9,387.0 700.2,385.1 700.6,386.8 700.9,386.8 701.3,387.6 701.6,387.8 701.9,386.3 702.3,388.8 702.6,387.5 703.0,388.1 703.3,387.3 703.7,386.0 704.0,387.5 704.4,386.7 704.7,386.2 705.1,385.6 705.4,381.6 705.7,389.8 706.1,387.7 706.4,389.5 706.8,386.5 707.1,387.9 707.5,385.7 707.8,383.2 708.2,388.9 708.5,387.7 708.9,389.5 709.2,387.5 709.5,389.3 709.9,381.6 710.2,389.4 710.6,385.5 710.9,387.2 711.3,383.7 711.6,383.5 712.0,389.2 712.3,381.7 712.7,386.6 713.0,386.2 713.3,386.2 713.7,383.1 714.0,385.7 714.4,382.9 714.7,383.0 715.1,383.5 715.4,386.5 715.8,383.9 716.1,383.8 716.5,385.1 716.8,385.4 717.1,381.7 717.5,386.5 717.8,383.5 718.2,382.6 718.5,378.6 718.9,381.1 719.2,381.8 719.6,382.3 719.9,381.1 720.3,379.3 720.6,379.1 720.9,376.4 721.3,376.2 721.6,379.0 722.0,376.0 722.3,376.9 722.7,375.9 723.0,377.0 723.4,371.2 723.7,371.6 724.1,366.5 724.4,367.9 724.7,367.2 725.1,369.9 725.4,365.6 725.8,362.2 726.1,365.8 726.5,365.7 726.8,361.7 727.2,359.2 727.5,361.0 727.9,354.3 728.2,356.8 728.5,353.2 728.9,358.7 729.2,357.5 729.6,358.3 729.9,359.6 730.3,357.2 730.6,356.7 731.0,358.4 731.3,363.5 731.7,364.8 732.0,359.6 732.3,370.3 732.7,370.1 733.0,371.6 733.4,372.2 733.7,373.0 734.1,374.0 734.4,375.0 734.8,375.8 735.1,374.7 735.5,378.7 735.8,380.9 736.1,379.5 736.5,381.7 736.8,382.8 737.2,382.8 737.5,382.7 737.9,384.4 738.2,384.5 738.6,382.6 738.9,388.6 739.3,392.4 739.6,387.7 740.0,389.3 740.3,385.7 740.6,388.0 741.0,388.7 741.3,390.8 741.7,388.4 742.0,390.8 742.4,389.5 742.7,392.0 743.1,389.8 743.4,389.4 743.8,390.2 744.1,389.8 744.4,391.0 744.8,390.1 745.1,391.6 745.5,391.4 745.8,391.9 746.2,391.4 746.5,392.4 746.9,395.2 747.2,394.8 747.6,393.6 747.9,396.0 748.2,394.9 748.6,391.5 748.9,392.7 749.3,392.0 749.6,392.3 750.0,397.4 750.3,394.3 750.7,394.0 751.0,397.9 751.4,393.5 751.7,394.5 752.0,396.9 752.4,396.2 752.7,396.6 753.1,397.6 753.4,393.3 753.8,393.6 754.1,397.4 754.5,396.2 754.8,395.6 755.2,395.5 755.5,396.3 755.8,397.0 756.2,393.2 756.5,396.0 756.9,399.3 757.2,394.5 757.6,396.4 757.9,399.2 758.3,394.3 758.6,394.7 759.0,391.7 759.3,394.1 759.6,393.5 760.0,396.2 760.3,397.4 760.7,395.2 761.0,395.5 761.4,393.2 761.7,398.6 762.1,396.0 762.4,396.2 762.8,399.2 763.1,394.4 763.4,394.3 763.8,393.5 764.1,390.8 764.5,396.6 764.8,393.1 765.2,391.2 765.5,391.0 765.9,393.5 766.2,394.7 766.6,392.0 766.9,389.0 767.2,388.2 767.6,390.8 767.9,391.3 768.3,387.9 768.6,382.6 769.0,387.2 769.3,383.0 769.7,385.1 770.0,384.8 770.4,384.9 770.7,382.1 771.0,382.8 771.4,385.5 771.7,387.5 772.1,386.7 772.4,386.7 772.8,386.4 773.1,385.6 773.5,390.6 773.8,389.8 774.2,387.3 774.5,395.2 774.8,395.3 775.2,396.2 775.5,393.4 775.9,395.2 776.2,392.3 776.6,395.1 776.9,395.5 777.3,397.0 777.6,393.7 778.0,397.5 778.3,398.5 778.6,398.3 779.0,397.9 779.3,398.9 779.7,397.9 780.0,395.8 780.4,394.4 780.7,394.2 781.1,396.6 781.4,395.3 781.8,396.8 782.1,397.3 782.4,395.6 782.8,399.3 783.1,394.8 783.5,395.8 783.8,398.4 784.2,397.7 784.5,395.3 784.9,398.7 785.2,395.8 785.6,399.5 785.9,396.7 786.2,396.2 786.6,397.5 786.9,399.1 787.3,399.6 787.6,397.2 788.0,397.8 788.3,398.8 788.7,399.4 789.0,397.6 789.4,399.8 789.7,399.0 790.0,397.3 790.4,399.7 790.7,398.6 791.1,402.7 791.4,401.3 791.8,400.7 792.1,399.7 792.5,400.4 792.8,400.5 793.2,397.2 793.5,400.9 793.8,397.1 794.2,397.4 794.5,397.9 794.9,399.5 795.2,400.3 795.6,401.1 795.9,397.1 796.3,398.6 796.6,398.0 797.0,400.0 797.3,398.9 797.6,404.8 798.0,401.8 798.3,399.9 798.7,396.1 799.0,399.5 799.4,398.3 799.7,399.9 800.1,398.6 800.4,398.9 800.8,395.5 801.1,398.3 801.4,401.4 801.8,399.3 802.1,400.3 802.5,399.7 802.8,398.2 803.2,401.9 803.5,397.1 803.9,401.4 804.2,399.3 804.6,399.3 804.9,397.5 805.2,401.8 805.6,398.6 805.9,399.1 806.3,399.8 806.6,402.4 807.0,398.7 807.3,395.9 807.7,396.0 808.0,397.2 808.4,398.9 808.7,397.8 809.1,397.5 809.4,401.2 809.7,403.2 810.1,400.9 810.4,400.2 810.8,398.3 811.1,400.0 811.5,400.6 811.8,399.3 812.2,399.8 812.5,398.1 812.9,401.1 813.2,397.7 813.5,402.6 813.9,399.9 814.2,398.2 814.6,400.9 814.9,398.8 815.3,398.4 815.6,401.1 816.0,401.7 816.3,396.8 816.7,399.1 817.0,403.4 817.3,398.7 817.7,398.5 818.0,398.0 818.4,394.7 818.7,400.3 819.1,399.1 819.4,400.2 819.8,402.6 820.1,401.4 820.5,401.2 820.8,396.5 821.1,395.3 821.5,401.3 821.8,400.3 822.2,401.1 822.5,400.8 822.9,401.5 823.2,402.3 823.6,402.3 823.9,399.4 824.3,401.9 824.6,398.1 824.9,400.0 825.3,397.8 825.6,401.6 826.0,400.3 826.3,399.2 826.7,398.9 827.0,400.3 827.4,402.9 827.7,403.0 828.1,396.8 828.4,400.5 828.7,402.2 829.1,402.0 829.4,401.7 829.8,398.0 830.1,399.9 830.5,403.0 830.8,400.0 831.2,399.2 831.5,398.4 831.9,402.1 832.2,403.7 832.5,402.3 832.9,400.1 833.2,403.4 833.6,400.0 833.9,400.4 834.3,403.0 834.6,402.8 835.0,402.6 835.3,402.5 835.7,400.5 836.0,401.3 836.3,401.3 836.7,399.9 837.0,400.3 837.4,402.6 837.7,401.3 838.1,399.3 838.4,400.0 838.8,399.3 839.1,398.7 839.5,401.9 839.8,401.8 840.1,401.0 840.5,398.3 840.8,400.3 841.2,397.8 841.5,401.2 841.9,400.5 842.2,401.3 842.6,399.0 842.9,404.1 843.3,402.5 843.6,403.7 843.9,400.2 844.3,400.6 844.6,403.8 845.0,403.0 845.3,400.6 845.7,400.6 846.0,399.7 846.4,401.9 846.7,399.4 847.1,403.0 847.4,401.6 847.7,401.8 848.1,400.5 848.4,403.5 848.8,403.3 849.1,400.7 849.5,399.3 849.8,404.2 850.2,398.7 850.5,402.6 850.9,398.2 851.2,405.5 851.5,402.9 851.9,400.0 852.2,401.2 852.6,402.6 852.9,397.2 853.3,398.4 853.6,402.4 854.0,401.3 854.3,402.3 854.7,401.9 855.0,401.4 855.3,403.4 855.7,403.8 856.0,400.7 856.4,403.5 856.7,401.4 857.1,400.8 857.4,402.5 857.8,400.5 858.1,402.3 858.5,399.7 858.8,403.0 859.1,402.5 859.5,403.4 859.8,402.2 860.2,400.3 860.5,402.4 860.9,403.9 861.2,402.8 861.6,404.5 861.9,400.3 862.3,401.6 862.6,402.9 862.9,402.1 863.3,404.1 863.6,401.1 864.0,402.0 864.3,400.4 864.7,402.8 865.0,402.4 865.4,399.9 865.7,402.2 866.1,404.4 866.4,403.1 866.7,402.9 867.1,406.2 867.4,400.7 867.8,402.5 868.1,400.0 868.5,402.5 868.8,400.0 869.2,402.7 869.5,404.9 869.9,403.0 870.2,403.9 870.5,400.6 870.9,400.9 871.2,402.1 871.6,402.1 871.9,407.4 872.3,401.7 872.6,401.7 873.0,401.7 873.3,401.6 873.7,403.1 874.0,401.6 874.3,401.3 874.7,402.4 875.0,404.0 875.4,400.7 875.7,402.5 876.1,403.8 876.4,406.8 876.8,401.7 877.1,403.2 877.5,404.0 877.8,403.9 878.2,404.7 878.5,401.4 878.8,399.4 879.2,403.0 879.5,403.3 879.9,401.0 880.2,403.1 880.6,400.8 880.9,401.7 881.3,400.2 881.6,401.0 882.0,403.2 882.3,402.1 882.6,403.2 883.0,402.9 883.3,403.6 883.7,401.0 884.0,401.9 884.4,404.0 884.7,403.8 885.1,400.9 885.4,399.2 885.8,403.0 886.1,402.8 886.4,402.7 886.8,399.3 887.1,402.2 887.5,403.7 887.8,402.2 888.2,401.4 888.5,403.0 888.9,400.4 889.2,405.5 889.6,402.9 889.9,400.1 890.2,406.8 890.6,403.0 890.9,400.7 891.3,402.8 891.6,401.9 892.0,402.5 892.3,402.3 892.7,401.3 893.0,403.3 893.4,401.8 893.7,402.2 894.0,400.0 894.4,403.0 894.7,401.3 895.1,402.3 895.4,403.6 895.8,401.9 896.1,402.7 896.5,402.4 896.8,402.5 897.2,401.6 897.5,404.4 897.8,401.6 898.2,401.6 898.5,401.4 898.9,402.3 899.2,404.5 899.6,403.3 899.9,404.0 900.3,400.7 900.6,397.7 901.0,403.2 901.3,401.5 901.6,403.6 902.0,405.0 902.3,403.6 902.7,401.0 903.0,402.6 903.4,401.2 903.7,404.8 904.1,403.5 904.4,401.8 904.8,402.0 905.1,401.7 905.4,405.0 905.8,399.5 906.1,402.3 906.5,400.8 906.8,403.3 907.2,404.0 907.5,400.9 907.9,400.0 908.2,400.8 908.6,403.3 908.9,399.2 909.2,402.3 909.6,403.8 909.9,401.5 910.3,402.1 910.6,400.7 911.0,401.5 911.3,400.2 911.7,401.7 912.0,400.3 912.4,401.4 912.7,405.1 913.0,402.0 913.4,402.5 913.7,402.0 914.1,401.4 914.4,400.4 914.8,401.8 915.1,400.8 915.5,402.9 915.8,401.6 916.2,399.5 916.5,402.0 916.8,401.1 917.2,400.4 917.5,401.8 917.9,401.9 918.2,400.9 918.6,403.0 918.9,405.0 919.3,403.5 919.6,402.1 920.0,400.6 920.3,400.6 920.6,399.3 921.0,400.7 921.3,400.6 921.7,401.1 922.0,401.9 922.4,401.6 922.7,404.3 923.1,402.2 923.4,405.3 923.8,400.6 924.1,399.8 924.4,401.3 924.8,403.1 925.1,401.9 925.5,400.6 925.8,400.6 926.2,401.8 926.5,403.8 926.9,402.0 927.2,402.0 927.6,401.4 927.9,401.0 928.2,402.2 928.6,401.9 928.9,402.5 929.3,401.4 929.6,402.3 930.0,401.1 930.3,400.8 930.7,404.7 931.0,402.8 931.4,402.2 931.7,402.7 932.0,401.3 932.4,403.5 932.7,404.3 933.1,401.2 933.4,403.9 933.8,404.2 934.1,401.8 934.5,399.2 934.8,401.8 935.2,399.5 935.5,402.9 935.8,400.2 936.2,401.8 936.5,402.0 936.9,400.7 937.2,399.1 937.6,403.2 937.9,400.0 938.3,399.5 938.6,401.3 939.0,400.8 939.3,398.9 939.6,400.3 940.0,401.1 940.3,400.7 940.7,401.8 941.0,399.9 941.4,401.8 941.7,403.4 942.1,403.0 942.4,400.1 942.8,401.8 943.1,401.3 943.4,398.3 943.8,399.4 944.1,400.6 944.5,402.0 944.8,399.7 945.2,400.1 945.5,397.0 945.9,400.3 946.2,399.1 946.6,400.1 946.9,400.1 947.3,398.8 947.6,403.7 947.9,398.8 948.3,403.6 948.6,400.6 949.0,397.1 949.3,399.8 949.7,399.3 950.0,399.3 950.4,398.2 950.7,402.4 951.1,397.0 951.4,397.4 951.7,398.3 952.1,402.3 952.4,400.2 952.8,398.1 953.1,397.2 953.5,402.3 953.8,400.4 954.2,398.2 954.5,399.8 954.9,401.1 955.2,395.0 955.5,397.8 955.9,398.1 956.2,399.5 956.6,397.1 956.9,399.5 957.3,397.3 957.6,399.3 958.0,395.4 958.3,402.2 958.7,396.9 959.0,395.6 959.3,394.6 959.7,398.4 960.0,398.6 960.4,397.6 960.7,394.8 961.1,397.7 961.4,400.6 961.8,393.9 962.1,396.9 962.5,397.3 962.8,400.4 963.1,395.4 963.5,399.3 963.8,399.6 964.2,396.9 964.5,397.2 964.9,399.4 965.2,394.7 965.6,396.4 965.9,397.6 966.3,394.5 966.6,397.1 966.9,395.7 967.3,397.0 967.6,395.8 968.0,395.7 968.3,399.0 968.7,394.8 969.0,394.7 969.4,397.0 969.7,395.1 970.1,394.6 970.4,398.7 970.7,395.2 971.1,394.1 971.4,393.3 971.8,393.3 972.1,393.8 972.5,395.0 972.8,396.9 973.2,394.2 973.5,392.9 973.9,391.6 974.2,393.5 974.5,392.9 974.9,394.7 975.2,393.0 975.6,393.7 975.9,393.3 976.3,393.3 976.6,392.6 977.0,395.3 977.3,390.2 977.7,392.5 978.0,391.3 978.3,389.7 978.7,390.1 979.0,392.3 979.4,388.3 979.7,388.1 980.1,388.7 980.4,388.8 980.8,386.9 981.1,390.4 981.5,388.3 981.8,386.0 982.1,387.7 982.5,390.2 982.8,389.1 983.2,387.6 983.5,387.4 983.9,388.7 984.2,383.3 984.6,388.8 984.9,383.7 985.3,385.4 985.6,384.0 985.9,386.1 986.3,383.7 986.6,383.5 987.0,383.7 987.3,382.0 987.7,381.9 988.0,380.9 988.4,381.9 988.7,381.3 989.1,378.5 989.4,379.7 989.7,384.1 990.1,379.7 990.4,377.3 990.8,376.1 991.1,376.5 991.5,377.4 991.8,371.2 992.2,374.5 992.5,373.3 992.9,375.5 993.2,372.1 993.5,373.4 993.9,367.7 994.2,368.1 994.6,370.4 994.9,366.9 995.3,367.8 995.6,366.6 996.0,363.6 996.3,363.5 996.7,364.5 997.0,362.4 997.3,358.9 997.7,358.6 998.0,357.7 998.4,357.1 998.7,357.8 999.1,352.4 999.4,352.8 999.8,354.0 1000.1,350.8 1000.5,349.6 1000.8,346.9 1001.1,345.2 1001.5,348.1 1001.8,345.8 1002.2,343.5 1002.5,341.5 1002.9,339.7 1003.2,340.3 1003.6,336.8 1003.9,335.6 1004.3,331.0 1004.6,333.2 1004.9,329.6 1005.3,330.4 1005.6,327.1 1006.0,326.5 1006.3,327.3 1006.7,321.5 1007.0,321.3 1007.4,317.7 1007.7,318.5 1008.1,317.1 1008.4,313.7 1008.7,312.4 1009.1,315.5 1009.4,310.0 1009.8,310.0 1010.1,308.7 1010.5,307.5 1010.8,304.2 1011.2,301.3 1011.5,303.7 1011.9,302.9 1012.2,297.8 1012.5,299.9 1012.9,296.3 1013.2,298.2 1013.6,296.4 1013.9,291.1 1014.3,293.8 1014.6,290.7 1015.0,287.2 1015.3,289.7 1015.7,287.3 1016.0,285.2 1016.4,288.3 1016.7,287.1 1017.0,284.5 1017.4,285.6 1017.7,282.5 1018.1,285.2 1018.4,281.8 1018.8,283.0 1019.1,283.3 1019.5,285.6 1019.8,287.0 1020.2,282.7 1020.5,286.6 1020.8,286.2 1021.2,288.5 1021.5,287.4 1021.9,285.6 1022.2,287.7 1022.6,285.8 1022.9,291.0 1023.3,292.1 1023.6,293.4 1024.0,293.0 1024.3,294.2 1024.6,292.9 1025.0,296.5 1025.3,295.6 1025.7,299.6 1026.0,300.1 1026.4,301.8 1026.7,298.9 1027.1,304.3 1027.4,302.7 1027.8,308.5 1028.1,308.4 1028.4,308.8 1028.8,311.6 1029.1,313.0 1029.5,314.2 1029.8,313.5 1030.2,316.5 1030.5,316.3 1030.9,318.8 1031.2,319.2 1031.6,325.2 1031.9,327.1 1032.2,327.8 1032.6,327.4 1032.9,328.5 1033.3,331.2 1033.6,333.9 1034.0,333.5 1034.3,333.3 1034.7,332.9 1035.0,339.1 1035.4,340.6 1035.7,340.3 1036.0,339.7 1036.4,346.0 1036.7,346.3 1037.1,347.8 1037.4,348.9 1037.8,348.3 1038.1,346.9 1038.5,349.0 1038.8,351.2 1039.2,354.1 1039.5,352.4 1039.8,356.1 1040.2,354.1 1040.5,357.3 1040.9,357.7 1041.2,359.8 1041.6,355.6 1041.9,359.1 1042.3,359.3 1042.6,359.7 1043.0,366.1 1043.3,363.2 1043.6,365.6 1044.0,361.8 1044.3,363.8 1044.7,365.0 1045.0,366.7 1045.4,367.8 1045.7,370.5 1046.1,367.2 1046.4,370.5 1046.8,369.6 1047.1,370.4 1047.4,370.5 1047.8,369.5 1048.1,373.4 1048.5,369.4 1048.8,372.3 1049.2,370.1 1049.5,374.4 1049.9,371.8 1050.2,370.0 1050.6,373.6 1050.9,370.7 1051.2,374.5 1051.6,375.1 1051.9,374.3 1052.3,371.7 1052.6,377.8 1053.0,371.1 1053.3,374.0 1053.7,372.1 1054.0,374.3 1054.4,375.6 1054.7,377.8 1055.0,375.7 1055.4,376.0 1055.7,376.8 1056.1,380.3 1056.4,375.9 1056.8,373.6 1057.1,376.7 1057.5,376.5 1057.8,378.2 1058.2,376.2 1058.5,374.7 1058.8,379.3 1059.2,375.2 1059.5,371.5 1059.9,375.9 1060.2,376.3 1060.6,376.6 1060.9,377.0 1061.3,375.4 1061.6,374.6 1062.0,377.7 1062.3,370.3 1062.6,376.6 1063.0,377.0 1063.3,374.4 1063.7,374.8 1064.0,372.9 1064.4,377.3 1064.7,373.6 1065.1,372.5 1065.4,373.6 1065.8,370.3 1066.1,375.7 1066.4,376.2 1066.8,372.9 1067.1,370.6 1067.5,373.3 1067.8,371.9 1068.2,376.7 1068.5,372.4 1068.9,373.3 1069.2,369.5 1069.6,371.6 1069.9,371.9 1070.2,370.7 1070.6,373.0 1070.9,369.6 1071.3,367.6 1071.6,367.1 1072.0,369.5 1072.3,368.7 1072.7,369.8 1073.0,367.5 1073.4,366.8 1073.7,366.8 1074.0,367.3 1074.4,366.7 1074.7,363.7 1075.1,365.4 1075.4,363.5 1075.8,361.5 1076.1,361.5 1076.5,359.7 1076.8,360.6 1077.2,359.9 1077.5,359.9 1077.8,357.7 1078.2,354.6 1078.5,357.3 1078.9,354.4 1079.2,352.8 1079.6,349.0 1079.9,348.1 1080.3,346.6 1080.6,343.0 1081.0,339.7 1081.3,340.8 1081.6,338.0 1082.0,331.6 1082.3,333.7 1082.7,334.2 1083.0,328.8 1083.4,325.5 1083.7,322.3 1084.1,320.3 1084.4,315.3 1084.8,312.8 1085.1,308.2 1085.5,303.8 1085.8,300.2 1086.1,293.0 1086.5,287.1 1086.8,285.0 1087.2,280.7 1087.5,275.0 1087.9,270.7 1088.2,266.5 1088.6,262.0 1088.9,256.7 1089.3,249.4 1089.6,245.2 1089.9,243.6 1090.3,233.9 1090.6,232.1 1091.0,231.3 1091.3,226.3 1091.7,222.7 1092.0,220.7 1092.4,215.8 1092.7,213.0 1093.1,218.1 1093.4,216.2 1093.7,215.6 1094.1,217.7 1094.4,222.6 1094.8,225.5 1095.1,228.1 1095.5,235.1 1095.8,239.5 1096.2,245.2 1096.5,249.3 1096.9,254.3 1097.2,260.9 1097.5,261.6 1097.9,268.2 1098.2,275.4 1098.6,278.4 1098.9,285.1 1099.3,289.9 1099.6,295.7 1100.0,297.7 1100.3,304.0 1100.7,309.8 1101.0,311.1 1101.3,317.2 1101.7,319.1 1102.0,327.4 1102.4,328.0 1102.7,334.7 1103.1,334.6 1103.4,339.5 1103.8,340.2 1104.1,343.3 1104.5,342.6 1104.8,351.6 1105.1,351.6 1105.5,351.6 1105.8,351.8 1106.2,355.5 1106.5,359.5 1106.9,359.6 1107.2,357.4 1107.6,362.9 1107.9,364.7 1108.3,368.0 1108.6,368.3 1108.9,369.1 1109.3,371.1 1109.6,370.4 1110.0,373.8 1110.3,374.5 1110.7,369.7 1111.0,373.2 1111.4,378.8 1111.7,374.7 1112.1,374.7 1112.4,378.4 1112.7,378.3 1113.1,377.7 1113.4,383.5 1113.8,377.5 1114.1,379.9 1114.5,382.7 1114.8,382.2 1115.2,382.4 1115.5,384.1 1115.9,382.5 1116.2,385.5 1116.5,383.6 1116.9,385.1 1117.2,387.1 1117.6,384.6 1117.9,388.5 1118.3,387.1 1118.6,389.2 1119.0,386.1 1119.3,386.7 1119.7,384.2 1120.0,387.8 1120.3,388.2 1120.7,388.0 1121.0,389.3 1121.4,392.1 1121.7,391.0 1122.1,390.3 1122.4,389.0 1122.8,387.0 1123.1,393.7 1123.5,384.9 1123.8,392.9 1124.1,393.9 1124.5,389.7 1124.8,390.4 1125.2,390.3 1125.5,389.9 1125.9,393.2 1126.2,392.9 1126.6,393.2 1126.9,393.7 1127.3,394.2 1127.6,394.4 1127.9,395.3 1128.3,393.6 1128.6,395.2 1129.0,395.3 1129.3,391.7 1129.7,395.6 1130.0,397.3 1130.4,394.1 1130.7,395.5 1131.1,393.5 1131.4,394.6 1131.7,395.0 1132.1,392.6 1132.4,394.9 1132.8,397.3 1133.1,397.6 1133.5,398.5 1133.8,393.5 1134.2,395.1 1134.5,399.2 1134.9,393.1 1135.2,398.4 1135.5,390.4 1135.9,394.1 1136.2,397.9 1136.6,392.9 1136.9,395.2 1137.3,399.0 1137.6,396.6 1138.0,396.3 1138.3,393.5 1138.7,396.7 1139.0,395.3 1139.3,395.3 1139.7,398.5 1140.0,402.0 1140.4,398.2 1140.7,401.0 1141.1,394.3 1141.4,393.9 1141.8,397.2 1142.1,398.8 1142.5,395.6 1142.8,400.5 1143.1,399.6 1143.5,396.1 1143.8,397.8 1144.2,399.4 1144.5,397.2 1144.9,398.0 1145.2,396.8 1145.6,397.0 1145.9,397.9 1146.3,395.1 1146.6,397.8 1146.9,400.7 1147.3,396.5 1147.6,401.4 1148.0,398.2 1148.3,395.3 1148.7,399.2 1149.0,397.4 1149.4,399.5 1149.7,394.8 1150.1,401.1 1150.4,398.3 1150.7,400.3 1151.1,399.8 1151.4,398.0 1151.8,399.0 1152.1,398.9 1152.5,396.8 1152.8,399.7 1153.2,401.3 1153.5,398.4 1153.9,397.7 1154.2,399.6 1154.6,395.7 1154.9,395.7 1155.2,400.6 1155.6,397.5 1155.9,397.7 1156.3,401.6 1156.6,401.6 1157.0,399.8 1157.3,396.9 1157.7,399.0 1158.0,398.3 1158.4,400.9 1158.7,399.5 1159.0,396.3 1159.4,398.2 1159.7,402.1 1160.1,402.3 1160.4,397.6 1160.8,401.6 1161.1,400.2 1161.5,400.6 1161.8,398.6 1162.2,403.4 1162.5,402.1 1162.8,399.6 1163.2,395.4 1163.5,401.8 1163.9,399.3 1164.2,399.9 1164.6,401.4 1164.9,400.3 1165.3,399.2 1165.6,401.0 1166.0,402.5 1166.3,399.2 1166.6,399.7 1167.0,397.9 1167.3,400.1 1167.7,399.0 1168.0,400.6 1168.4,401.6 1168.7,402.6 1169.1,399.8 1169.4,399.5 1169.8,402.1 1170.1,400.2 1170.4,400.8 1170.8,399.0 1171.1,401.1 1171.5,399.9 1171.8,398.9 1172.2,398.4 1172.5,404.0 1172.9,402.0 1173.2,402.7 1173.6,397.9 1173.9,401.3 1174.2,402.5 1174.6,399.0 1174.9,397.9 1175.3,401.2 1175.6,402.0 1176.0,399.5 1176.3,402.7 1176.7,403.9 1177.0,399.6 1177.4,399.8 1177.7,400.4 1178.0,398.6 1178.4,399.5 1178.7,400.5 1179.1,401.5 1179.4,402.7 1179.8,401.2 1180.1,402.7 1180.5,403.7 1180.8,403.3 1181.2,401.1 1181.5,400.7 1181.8,400.6 1182.2,401.6 1182.5,403.7 1182.9,400.7 1183.2,397.8 1183.6,402.8 1183.9,398.9 1184.3,402.6 1184.6,401.1 1185.0,404.4 1185.3,399.3 1185.6,401.2 1186.0,399.7 1186.3,404.2 1186.7,400.8 1187.0,399.9 1187.4,403.9 1187.7,400.4 1188.1,403.9 1188.4,399.3 1188.8,404.4 1189.1,404.3 1189.4,403.6 1189.8,401.0 1190.1,403.7 1190.5,403.3 1190.8,399.2 1191.2,401.9 1191.5,400.8 1191.9,401.2 1192.2,403.7 1192.6,401.7 1192.9,403.3 1193.2,400.5 1193.6,398.6 1193.9,400.9 1194.3,400.0 1194.6,401.4 1195.0,401.5 1195.3,402.2 1195.7,400.2 1196.0,403.0 1196.4,404.4 1196.7,404.1 1197.0,400.6 1197.4,402.0 1197.7,400.2 1198.1,402.4 1198.4,399.2 1198.8,403.4 1199.1,401.0 1199.5,401.6 1199.8,404.1 1200.2,403.3 1200.5,402.4 1200.8,405.6 1201.2,401.4 1201.5,402.8 1201.9,402.3 1202.2,402.6 1202.6,404.0 1202.9,399.4 1203.3,401.2 1203.6,403.3 1204.0,401.8 1204.3,403.6 1204.6,402.7 1205.0,402.6 1205.3,400.0 1205.7,405.6 1206.0,404.1 1206.4,403.5 1206.7,400.5 1207.1,399.0 1207.4,400.4 1207.8,401.3 1208.1,403.7 1208.4,403.1 1208.8,404.2 1209.1,401.6 1209.5,400.6 1209.8,401.4 1210.2,401.0 1210.5,401.6 1210.9,402.3 1211.2,401.6 1211.6,402.6 1211.9,401.0 1212.2,404.1 1212.6,403.4 1212.9,402.6 1213.3,402.7 1213.6,400.7 1214.0,402.8 1214.3,404.6 1214.7,405.6 1215.0,400.7 1215.4,402.1 1215.7,401.3 1216.0,401.8 1216.4,406.5 1216.7,403.9 1217.1,400.3 1217.4,402.1 1217.8,401.1 1218.1,401.0 1218.5,401.3 1218.8,405.1 1219.2,402.6 1219.5,402.0 1219.8,399.9 1220.2,404.2 1220.5,405.3 1220.9,403.7 1221.2,403.6 1221.6,402.0 1221.9,402.4 1222.3,401.0 1222.6,401.7 1223.0,405.0 1223.3,403.7 1223.7,404.7 1224.0,403.3 1224.3,400.5 1224.7,401.7 1225.0,404.2 1225.4,403.8 1225.7,403.9 1226.1,400.5 1226.4,406.9 1226.8,400.4 1227.1,403.2 1227.5,400.6 1227.8,400.4 1228.1,404.9 1228.5,402.9 1228.8,404.8 1229.2,402.8 1229.5,402.2 1229.9,406.1 1230.2,403.6 1230.6,402.4 1230.9,400.2 1231.3,401.5 1231.6,400.9 1231.9,404.3 1232.3,402.9 1232.6,404.1 1233.0,405.5 1233.3,402.8 1233.7,402.4 1234.0,403.7 1234.4,406.4 1234.7,403.0 1235.1,404.5 1235.4,404.0 1235.7,406.3 1236.1,402.7 1236.4,405.9 1236.8,405.4 1237.1,402.9 1237.5,403.0 1237.8,403.2 1238.2,400.7 1238.5,402.6 1238.9,402.3 1239.2,402.9 1239.5,405.0 1239.9,403.6 1240.2,403.2 1240.6,402.8 1240.9,402.0 1241.3,406.4 1241.6,400.5 1242.0,401.1 1242.3,400.4 1242.7,402.3 1243.0,404.1 1243.3,400.0 1243.7,402.4 1244.0,401.6 1244.4,402.3 1244.7,400.9 1245.1,403.5 1245.4,401.1 1245.8,401.9 1246.1,402.0 1246.5,402.6 1246.8,403.3 1247.1,404.8 1247.5,401.7 1247.8,402.3 1248.2,405.0 1248.5,402.7 1248.9,402.8 1249.2,402.2 1249.6,405.5 1249.9,402.8 1250.3,402.2 1250.6,402.5 1250.9,404.5 1251.3,403.9 1251.6,402.1 1252.0,403.9 1252.3,403.1 1252.7,404.5 1253.0,404.4 1253.4,403.9 1253.7,405.4 1254.1,404.2 1254.4,403.6 1254.7,404.1 1255.1,405.7 1255.4,403.0 1255.8,404.9 1256.1,402.8 1256.5,407.8 1256.8,402.9 1257.2,404.2 1257.5,404.0 1257.9,402.8 1258.2,403.0 1258.5,401.4 1258.9,406.5 1259.2,405.3 1259.6,405.2 1259.9,405.1 1260.3,407.3 1260.6,401.1 1261.0,402.8 1261.3,404.5 1261.7,404.5 1262.0,403.3 1262.3,403.1 1262.7,402.2 1263.0,402.4 1263.4,405.1 1263.7,404.0 1264.1,400.8 1264.4,404.4 1264.8,404.1 1265.1,403.4 1265.5,401.8 1265.8,403.3 1266.1,403.3 1266.5,405.1 1266.8,402.2 1267.2,399.0 1267.5,403.4 1267.9,405.9 1268.2,403.0 1268.6,403.4 1268.9,403.5 1269.3,400.4 1269.6,402.8 1269.9,401.7 1270.3,403.7 1270.6,404.2 1271.0,403.1 1271.3,402.4 1271.7,402.7 1272.0,403.6 1272.4,402.8 1272.7,404.5 1273.1,402.7 1273.4,405.0 1273.7,403.2 1274.1,404.3 1274.4,402.1 1274.8,403.5 1275.1,400.7 1275.5,402.6 1275.8,401.2 1276.2,402.9 1276.5,405.1 1276.9,402.8 1277.2,401.8 1277.5,403.1 1277.9,400.4 1278.2,406.3 1278.6,401.9 1278.9,403.1 1279.3,399.3 1279.6,401.9 1280.0,401.6 1280.3,402.9 1280.7,403.2 1281.0,399.4 1281.3,401.4 1281.7,400.9 1282.0,403.0 1282.4,405.0 1282.7,402.4 1283.1,401.4 1283.4,403.0 1283.8,402.1 1284.1,403.3 1284.5,402.8 1284.8,401.7 1285.1,403.3 1285.5,404.3 1285.8,402.4 1286.2,405.5 1286.5,402.5 1286.9,404.0 1287.2,402.7 1287.6,405.1 1287.9,403.9 1288.3,402.1 1288.6,403.2 1288.9,405.4 1289.3,401.1 1289.6,404.0 1290.0,401.9 1290.3,401.5 1290.7,398.7 1291.0,404.6 1291.4,402.0 1291.7,400.3 1292.1,402.0 1292.4,404.4 1292.8,403.6 1293.1,402.1 1293.4,402.7 1293.8,402.6 1294.1,402.0 1294.5,404.2 1294.8,403.5 1295.2,402.6 1295.5,401.3 1295.9,403.3 1296.2,401.7 1296.6,403.6 1296.9,401.9 1297.2,404.4 1297.6,401.1 1297.9,401.5 1298.3,403.2 1298.6,401.8 1299.0,403.4 1299.3,402.9 1299.7,404.6 1300.0,401.3 1300.4,405.3 1300.7,398.0 1301.0,405.0 1301.4,404.5 1301.7,399.5 1302.1,403.3 1302.4,405.9 1302.8,401.5 1303.1,403.1 1303.5,402.0 1303.8,404.0 1304.2,406.0 1304.5,403.7 1304.8,406.0 1305.2,404.5 1305.5,402.5 1305.9,404.1 1306.2,402.9 1306.6,404.4 1306.9,402.1 1307.3,401.6 1307.6,405.6 1308.0,405.3 1308.3,403.4 1308.6,405.6 1309.0,401.6 1309.3,403.6 1309.7,403.8 1310.0,405.9 1310.4,403.3 1310.7,402.8 1311.1,402.8 1311.4,400.9 1311.8,404.2 1312.1,404.8 1312.4,405.3 1312.8,402.8 1313.1,403.9 1313.5,405.0 1313.8,405.9 1314.2,404.6 1314.5,403.6 1314.9,406.0 1315.2,405.1 1315.6,401.6 1315.9,403.7 1316.2,402.7 1316.6,406.8 1316.9,402.9 1317.3,403.9 1317.6,403.4 1318.0,403.4 1318.3,404.2 1318.7,404.7 1319.0,403.0 1319.4,403.0 1319.7,402.1 1320.0,405.1 1320.4,403.6 1320.7,403.5 1321.1,405.2 1321.4,404.4 1321.8,405.7 1322.1,405.2 1322.5,402.2 1322.8,406.3 1323.2,404.7 1323.5,403.0 1323.8,403.4 1324.2,406.0 1324.5,400.6 1324.9,405.0 1325.2,403.1 1325.6,404.0 1325.9,400.3 1326.3,404.2 1326.6,404.1 1327.0,408.7 1327.3,404.0 1327.6,403.8 1328.0,403.8 1328.3,402.6 1328.7,405.1 1329.0,401.6 1329.4,404.5 1329.7,403.1 1330.1,403.3 1330.4,402.4 1330.8,402.3 1331.1,407.2 1331.4,405.8 1331.8,406.2 1332.1,403.0 1332.5,403.7 1332.8,403.4 1333.2,403.0 1333.5,405.3 1333.9,404.5 1334.2,402.5 1334.6,403.6 1334.9,402.2 1335.2,402.3 1335.6,404.5 1335.9,405.3 1336.3,404.0 1336.6,404.6 1337.0,404.6 1337.3,407.7 1337.7,402.5 1338.0,404.5 1338.4,404.3 1338.7,404.7 1339.0,405.7 1339.4,403.6 1339.7,406.2 1340.1,403.0 1340.4,404.4 1340.8,407.8 1341.1,404.2 1341.5,405.0 1341.8,405.3 1342.2,404.6 1342.5,408.1 1342.8,405.3 1343.2,403.5 1343.5,405.5 1343.9,405.2 1344.2,403.3 1344.6,404.8 1344.9,404.1 1345.3,403.5 1345.6,405.5 1346.0,404.7 1346.3,405.7 1346.6,406.1 1347.0,402.3 1347.3,402.1 1347.7,402.8 1348.0,403.9 1348.4,403.0 1348.7,404.9 1349.1,404.3 1349.4,404.2 1349.8,405.2 1350.1,403.9 1350.4,404.7 1350.8,407.2 1351.1,402.7 1351.5,405.9 1351.8,404.9 1352.2,403.2 1352.5,404.2 1352.9,403.4 1353.2,406.7 1353.6,404.8 1353.9,403.7 1354.2,405.3 1354.6,404.0 1354.9,405.4 1355.3,402.4 1355.6,405.9 1356.0,400.4 1356.3,402.3 1356.7,401.9 1357.0,401.9 1357.4,404.0 1357.7,405.1 1358.0,403.7 1358.4,403.3 1358.7,405.6 1359.1,400.5 1359.4,406.8 1359.8,403.6 1360.1,403.3 1360.5,405.2 1360.8,403.1 1361.2,403.9 1361.5,402.4 1361.9,404.3 1362.2,403.2 1362.5,403.3 1362.9,403.7 1363.2,403.9 1363.6,406.0 1363.9,404.4 1364.3,401.9 1364.6,403.9 1365.0,403.2 1365.3,404.0 1365.7,402.3 1366.0,404.1 1366.3,405.8 1366.7,405.7 1367.0,407.5 1367.4,404.9 1367.7,403.8 1368.1,404.8 1368.4,400.3 1368.8,402.6 1369.1,405.1 1369.5,405.4 1369.8,402.0 1370.1,402.7 1370.5,406.2 1370.8,403.4 1371.2,406.4 1371.5,403.0 1371.9,405.0 1372.2,406.2 1372.6,403.2 1372.9,404.3 1373.3,406.7 1373.6,407.5 1373.9,405.8 1374.3,402.9 1374.6,406.6 1375.0,402.6 1375.3,404.4 1375.7,403.7 1376.0,407.1 1376.4,401.2 1376.7,405.8 1377.1,408.5 1377.4,405.2 1377.7,403.9 1378.1,408.5 1378.4,406.1 1378.8,407.0 1379.1,405.3 1379.5,403.9 1379.8,406.4 1380.2,406.9 1380.5,404.1 1380.9,404.8 1381.2,405.7 1381.5,405.5 1381.9,404.4 1382.2,404.0 1382.6,403.5 1382.9,403.2 1383.3,405.2 1383.6,404.3 1384.0,405.1 1384.3,409.1 1384.7,405.7 1385.0,405.2 1385.3,406.2 1385.7,404.7 1386.0,403.5 1386.4,408.6 1386.7,403.5 1387.1,403.5 1387.4,407.4 1387.8,403.8 1388.1,407.6 1388.5,406.6 1388.8,404.3 1389.1,407.2 1389.5,405.4 1389.8,404.9 1390.2,404.3 1390.5,401.8 1390.9,403.3 1391.2,406.6 1391.6,405.8 1391.9,406.8 1392.3,405.0 1392.6,405.4 1392.9,407.7 1393.3,407.3 1393.6,406.6 1394.0,408.0 1394.3,406.0 1394.7,407.0 1395.0,402.1 1395.4,405.4 1395.7,405.7 1396.1,404.4 1396.4,407.7" fill="none" stroke="#0000ff" stroke-width="1.4" stroke-linejoin="round"/>
<path d="M83.5,213.4 83.8,213.6 84.2,210.1 84.5,212.1 84.9,212.3 85.2,212.6 85.6,219.2 85.9,211.8 86.3,211.9 86.6,211.5 87.0,216.3 87.3,211.9 87.6,213.1 88.0,216.2 88.3,215.9 88.7,210.7 89.0,219.4 89.4,214.8 89.7,217.0 90.1,215.3 90.4,219.6 90.8,213.4 91.1,212.7 91.4,216.0 91.8,219.1 92.1,215.0 92.5,217.9 92.8,220.0 93.2,211.1 93.5,219.7 93.9,219.1 94.2,214.3 94.6,215.7 94.9,214.6 95.2,218.6 95.6,214.4 95.9,218.3 96.3,220.7 96.6,211.3 97.0,218.0 97.3,216.6 97.7,215.4 98.0,218.4 98.4,216.8 98.7,212.6 99.0,215.5 99.4,217.4 99.7,215.3 100.1,213.6 100.4,225.2 100.8,222.2 101.1,221.9 101.5,218.4 101.8,211.9 102.2,217.4 102.5,219.9 102.8,217.0 103.2,216.7 103.5,219.6 103.9,225.1 104.2,219.8 104.6,219.3 104.9,216.9 105.3,223.8 105.6,220.4 106.0,219.4 106.3,218.7 106.6,218.0 107.0,220.6 107.3,226.2 107.7,220.4 108.0,221.9 108.4,218.1 108.7,221.4 109.1,216.3 109.4,225.0 109.8,219.2 110.1,222.4 110.4,221.4 110.8,225.4 111.1,223.0 111.5,223.2 111.8,216.6 112.2,218.2 112.5,218.1 112.9,218.4 113.2,218.8 113.6,224.0 113.9,221.2 114.2,221.5 114.6,218.8 114.9,218.8 115.3,217.6 115.6,224.9 116.0,222.1 116.3,224.0 116.7,222.6 117.0,219.2 117.4,221.8 117.7,215.7 118.1,224.2 118.4,222.3 118.7,222.9 119.1,222.6 119.4,224.2 119.8,221.8 120.1,222.6 120.5,220.6 120.8,221.9 121.2,223.6 121.5,225.4 121.9,221.7 122.2,218.7 122.5,217.4 122.9,222.2 123.2,220.8 123.6,224.8 123.9,227.9 124.3,220.9 124.6,227.1 125.0,226.9 125.3,220.5 125.7,222.1 126.0,225.6 126.3,221.2 126.7,220.7 127.0,226.0 127.4,222.0 127.7,221.9 128.1,225.8 128.4,224.3 128.8,224.8 129.1,228.4 129.5,228.1 129.8,219.4 130.1,227.2 130.5,224.6 130.8,225.6 131.2,227.1 131.5,230.1 131.9,227.2 132.2,224.5 132.6,226.2 132.9,220.5 133.3,226.5 133.6,225.6 133.9,221.5 134.3,220.9 134.6,221.2 135.0,222.6 135.3,226.7 135.7,224.6 136.0,223.1 136.4,224.3 136.7,228.8 137.1,224.3 137.4,222.8 137.7,231.5 138.1,222.8 138.4,226.6 138.8,227.8 139.1,225.7 139.5,224.6 139.8,228.9 140.2,225.6 140.5,227.1 140.9,225.1 141.2,230.0 141.5,222.7 141.9,221.7 142.2,222.8 142.6,224.9 142.9,224.5 143.3,225.6 143.6,223.4 144.0,226.6 144.3,221.2 144.7,221.7 145.0,224.5 145.3,223.2 145.7,222.9 146.0,223.5 146.4,223.1 146.7,226.0 147.1,227.3 147.4,228.8 147.8,225.7 148.1,223.2 148.5,222.1 148.8,222.1 149.1,220.7 149.5,226.9 149.8,230.1 150.2,224.9 150.5,225.9 150.9,218.9 151.2,225.0 151.6,223.4 151.9,225.4 152.3,222.9 152.6,223.1 152.9,222.7 153.3,223.3 153.6,231.0 154.0,227.1 154.3,221.0 154.7,224.5 155.0,224.1 155.4,231.1 155.7,220.0 156.1,227.0 156.4,227.6 156.7,231.4 157.1,230.1 157.4,224.7 157.8,220.6 158.1,222.3 158.5,223.3 158.8,224.7 159.2,223.3 159.5,221.4 159.9,227.2 160.2,225.8 160.5,224.3 160.9,224.1 161.2,223.7 161.6,222.6 161.9,232.9 162.3,224.7 162.6,224.0 163.0,230.1 163.3,224.8 163.7,226.8 164.0,223.0 164.3,224.8 164.7,220.8 165.0,227.5 165.4,232.1 165.7,227.0 166.1,227.4 166.4,229.8 166.8,229.9 167.1,224.0 167.5,224.5 167.8,225.7 168.1,230.4 168.5,223.5 168.8,225.3 169.2,226.3 169.5,227.1 169.9,227.7 170.2,226.1 170.6,230.8 170.9,225.2 171.3,233.3 171.6,228.0 171.9,229.4 172.3,224.0 172.6,228.5 173.0,224.1 173.3,223.5 173.7,230.0 174.0,227.7 174.4,224.5 174.7,222.0 175.1,230.0 175.4,228.0 175.7,230.3 176.1,230.8 176.4,231.4 176.8,221.6 177.1,218.8 177.5,230.1 177.8,222.8 178.2,231.5 178.5,229.4 178.9,228.3 179.2,228.2 179.5,223.8 179.9,228.2 180.2,228.0 180.6,229.6 180.9,234.2 181.3,227.1 181.6,230.6 182.0,233.9 182.3,226.7 182.7,226.3 183.0,226.6 183.3,225.6 183.7,224.1 184.0,230.8 184.4,233.4 184.7,230.8 185.1,227.6 185.4,227.5 185.8,230.0 186.1,227.2 186.5,228.9 186.8,228.0 187.2,232.1 187.5,231.4 187.8,230.1 188.2,226.5 188.5,228.3 188.9,232.0 189.2,235.0 189.6,228.5 189.9,237.5 190.3,229.0 190.6,229.0 191.0,231.2 191.3,228.4 191.6,230.5 192.0,230.8 192.3,229.3 192.7,229.8 193.0,232.3 193.4,234.3 193.7,237.3 194.1,231.5 194.4,226.9 194.8,229.8 195.1,226.6 195.4,231.6 195.8,229.4 196.1,232.4 196.5,230.8 196.8,231.7 197.2,230.6 197.5,236.2 197.9,226.7 198.2,235.1 198.6,235.4 198.9,233.9 199.2,233.0 199.6,233.6 199.9,231.3 200.3,229.5 200.6,234.9 201.0,234.8 201.3,235.4 201.7,232.5 202.0,235.9 202.4,234.8 202.7,238.4 203.0,233.2 203.4,227.2 203.7,230.2 204.1,234.4 204.4,229.3 204.8,235.3 205.1,231.3 205.5,233.7 205.8,234.2 206.2,231.0 206.5,234.5 206.8,236.7 207.2,231.8 207.5,232.5 207.9,231.6 208.2,235.1 208.6,236.1 208.9,231.4 209.3,232.1 209.6,235.5 210.0,233.3 210.3,238.0 210.6,232.9 211.0,231.2 211.3,229.5 211.7,231.1 212.0,227.9 212.4,233.6 212.7,237.6 213.1,228.3 213.4,228.7 213.8,229.3 214.1,232.0 214.4,229.8 214.8,234.8 215.1,235.4 215.5,230.5 215.8,231.7 216.2,230.2 216.5,234.1 216.9,237.3 217.2,229.2 217.6,230.7 217.9,228.8 218.2,233.2 218.6,233.0 218.9,229.3 219.3,230.8 219.6,237.7 220.0,237.2 220.3,228.6 220.7,231.0 221.0,229.8 221.4,232.0 221.7,227.4 222.0,232.1 222.4,233.4 222.7,233.9 223.1,226.0 223.4,235.5 223.8,227.3 224.1,225.9 224.5,233.2 224.8,232.4 225.2,229.6 225.5,232.3 225.8,231.6 226.2,230.6 226.5,226.4 226.9,228.5 227.2,229.5 227.6,233.0 227.9,234.0 228.3,229.1 228.6,227.8 229.0,227.3 229.3,232.2 229.6,227.7 230.0,235.8 230.3,230.2 230.7,230.1 231.0,231.7 231.4,229.7 231.7,227.2 232.1,230.1 232.4,231.0 232.8,228.4 233.1,229.3 233.4,229.8 233.8,224.6 234.1,227.8 234.5,229.6 234.8,226.8 235.2,231.5 235.5,231.7 235.9,223.8 236.2,228.5 236.6,231.5 236.9,229.3 237.2,231.7 237.6,232.1 237.9,225.9 238.3,231.1 238.6,227.8 239.0,223.7 239.3,231.8 239.7,228.2 240.0,230.0 240.4,232.4 240.7,233.3 241.0,229.6 241.4,227.7 241.7,228.5 242.1,233.5 242.4,229.4 242.8,235.5 243.1,234.8 243.5,228.4 243.8,235.5 244.2,228.6 244.5,229.9 244.8,230.1 245.2,227.2 245.5,230.5 245.9,231.9 246.2,236.7 246.6,234.0 246.9,228.5 247.3,230.9 247.6,233.3 248.0,229.6 248.3,227.6 248.6,229.5 249.0,226.6 249.3,230.0 249.7,228.2 250.0,233.1 250.4,229.0 250.7,226.1 251.1,231.7 251.4,228.8 251.8,226.9 252.1,230.3 252.4,227.2 252.8,224.5 253.1,226.0 253.5,232.5 253.8,233.5 254.2,228.0 254.5,230.3 254.9,224.3 255.2,231.8 255.6,228.9 255.9,231.1 256.3,228.8 256.6,229.6 256.9,225.1 257.3,231.3 257.6,228.7 258.0,231.2 258.3,235.3 258.7,223.7 259.0,234.0 259.4,232.3 259.7,232.4 260.1,234.3 260.4,230.8 260.7,227.0 261.1,230.8 261.4,231.8 261.8,226.4 262.1,234.8 262.5,235.0 262.8,230.6 263.2,234.3 263.5,234.6 263.9,234.8 264.2,234.9 264.5,238.2 264.9,236.1 265.2,241.5 265.6,236.7 265.9,240.0 266.3,240.5 266.6,232.7 267.0,237.9 267.3,238.8 267.7,239.5 268.0,239.4 268.3,241.9 268.7,241.2 269.0,238.4 269.4,242.7 269.7,239.2 270.1,241.1 270.4,238.9 270.8,237.0 271.1,237.9 271.5,245.3 271.8,243.6 272.1,240.1 272.5,244.0 272.8,239.7 273.2,240.4 273.5,238.1 273.9,241.9 274.2,244.7 274.6,250.0 274.9,242.7 275.3,244.5 275.6,245.0 275.9,246.5 276.3,242.5 276.6,241.4 277.0,246.9 277.3,241.4 277.7,246.3 278.0,243.7 278.4,245.3 278.7,246.7 279.1,240.9 279.4,251.4 279.7,242.2 280.1,242.9 280.4,247.5 280.8,238.0 281.1,244.0 281.5,247.1 281.8,245.6 282.2,246.4 282.5,245.9 282.9,246.1 283.2,246.0 283.5,252.2 283.9,248.9 284.2,244.6 284.6,246.7 284.9,249.9 285.3,251.3 285.6,244.4 286.0,247.8 286.3,241.9 286.7,246.6 287.0,252.8 287.3,250.3 287.7,247.8 288.0,245.8 288.4,248.8 288.7,249.2 289.1,249.8 289.4,251.2 289.8,249.9 290.1,245.0 290.5,248.0 290.8,248.8 291.1,247.1 291.5,253.8 291.8,247.5 292.2,251.8 292.5,251.6 292.9,251.4 293.2,251.1 293.6,249.1 293.9,251.8 294.3,253.9 294.6,249.1 294.9,255.5 295.3,250.5 295.6,254.6 296.0,251.7 296.3,256.8 296.7,256.9 297.0,257.2 297.4,258.5 297.7,252.5 298.1,245.2 298.4,249.4 298.7,250.4 299.1,256.0 299.4,256.2 299.8,251.2 300.1,255.7 300.5,252.8 300.8,252.7 301.2,254.8 301.5,250.9 301.9,256.6 302.2,256.2 302.5,259.3 302.9,257.4 303.2,256.2 303.6,258.4 303.9,255.3 304.3,256.1 304.6,252.8 305.0,254.2 305.3,256.0 305.7,258.7 306.0,260.3 306.3,260.4 306.7,255.4 307.0,256.4 307.4,254.3 307.7,252.6 308.1,259.0 308.4,253.2 308.8,258.5 309.1,255.5 309.5,256.4 309.8,259.6 310.1,254.9 310.5,258.5 310.8,254.9 311.2,257.1 311.5,256.9 311.9,257.7 312.2,254.2 312.6,256.7 312.9,258.3 313.3,255.6 313.6,258.9 313.9,258.8 314.3,257.4 314.6,256.5 315.0,258.1 315.3,255.9 315.7,258.8 316.0,258.0 316.4,261.1 316.7,257.6 317.1,255.3 317.4,258.7 317.7,257.0 318.1,261.6 318.4,255.5 318.8,256.3 319.1,257.3 319.5,257.3 319.8,258.3 320.2,264.1 320.5,257.7 320.9,261.4 321.2,256.6 321.5,256.7 321.9,257.9 322.2,262.1 322.6,258.8 322.9,259.2 323.3,256.8 323.6,257.8 324.0,263.9 324.3,255.1 324.7,252.8 325.0,257.5 325.4,255.4 325.7,254.5 326.0,252.6 326.4,258.8 326.7,257.7 327.1,257.0 327.4,259.9 327.8,260.4 328.1,258.1 328.5,259.9 328.8,254.1 329.2,258.6 329.5,255.1 329.8,257.3 330.2,261.2 330.5,257.4 330.9,262.3 331.2,260.6 331.6,259.5 331.9,254.5 332.3,257.6 332.6,258.5 333.0,259.6 333.3,257.3 333.6,253.6 334.0,259.5 334.3,253.3 334.7,255.2 335.0,252.0 335.4,257.1 335.7,259.1 336.1,259.3 336.4,254.3 336.8,258.1 337.1,257.5 337.4,258.2 337.8,259.1 338.1,257.8 338.5,261.1 338.8,253.9 339.2,257.9 339.5,257.3 339.9,253.5 340.2,257.1 340.6,256.0 340.9,254.0 341.2,257.7 341.6,255.9 341.9,258.6 342.3,255.1 342.6,259.4 343.0,256.9 343.3,256.5 343.7,258.1 344.0,260.6 344.4,255.2 344.7,255.6 345.0,254.9 345.4,255.5 345.7,249.9 346.1,258.4 346.4,258.6 346.8,257.8 347.1,254.1 347.5,249.7 347.8,251.0 348.2,253.7 348.5,252.1 348.8,249.2 349.2,251.5 349.5,248.7 349.9,249.2 350.2,253.1 350.6,250.3 350.9,249.1 351.3,249.9 351.6,250.2 352.0,253.1 352.3,254.0 352.6,253.5 353.0,250.3 353.3,250.1 353.7,255.8 354.0,251.3 354.4,249.5 354.7,252.9 355.1,247.7 355.4,254.0 355.8,254.4 356.1,251.5 356.4,241.7 356.8,249.7 357.1,250.4 357.5,249.1 357.8,254.4 358.2,245.6 358.5,245.6 358.9,249.2 359.2,246.0 359.6,248.1 359.9,244.7 360.2,242.4 360.6,240.4 360.9,241.8 361.3,240.3 361.6,242.6 362.0,240.5 362.3,233.9 362.7,239.9 363.0,235.2 363.4,231.9 363.7,238.9 364.0,232.1 364.4,231.4 364.7,231.1 365.1,225.3 365.4,227.2 365.8,226.0 366.1,222.5 366.5,223.3 366.8,223.0 367.2,220.5 367.5,213.5 367.8,216.6 368.2,217.3 368.5,219.4 368.9,216.7 369.2,215.5 369.6,211.4 369.9,215.7 370.3,220.3 370.6,214.8 371.0,214.4 371.3,216.5 371.6,218.7 372.0,217.2 372.3,219.8 372.7,218.2 373.0,221.6 373.4,223.7 373.7,224.0 374.1,224.3 374.4,232.6 374.8,230.1 375.1,233.4 375.4,229.3 375.8,233.9 376.1,235.0 376.5,242.2 376.8,240.5 377.2,239.4 377.5,242.4 377.9,242.4 378.2,244.2 378.6,240.1 378.9,239.5 379.2,245.7 379.6,246.9 379.9,247.7 380.3,251.9 380.6,248.6 381.0,249.9 381.3,249.2 381.7,246.6 382.0,248.7 382.4,250.2 382.7,252.0 383.0,256.7 383.4,254.2 383.7,253.3 384.1,249.7 384.4,256.1 384.8,253.6 385.1,249.1 385.5,256.0 385.8,256.2 386.2,257.1 386.5,257.0 386.8,254.7 387.2,256.4 387.5,254.9 387.9,257.0 388.2,258.7 388.6,259.1 388.9,256.4 389.3,262.2 389.6,258.5 390.0,254.0 390.3,262.7 390.6,262.0 391.0,263.3 391.3,260.1 391.7,259.8 392.0,259.1 392.4,262.8 392.7,263.3 393.1,263.4 393.4,263.8 393.8,260.4 394.1,262.8 394.5,264.0 394.8,262.5 395.1,267.0 395.5,258.1 395.8,264.2 396.2,262.7 396.5,263.5 396.9,263.7 397.2,263.2 397.6,264.1 397.9,263.6 398.3,260.8 398.6,265.6 398.9,265.6 399.3,261.6 399.6,265.5 400.0,264.4 400.3,265.4 400.7,264.6 401.0,262.7 401.4,265.6 401.7,260.7 402.1,268.4 402.4,263.0 402.7,263.2 403.1,266.6 403.4,265.0 403.8,267.0 404.1,269.5 404.5,266.9 404.8,265.0 405.2,263.0 405.5,265.2 405.9,263.1 406.2,266.0 406.5,259.0 406.9,263.8 407.2,264.3 407.6,263.4 407.9,267.2 408.3,267.5 408.6,261.2 409.0,268.7 409.3,264.9 409.7,266.4 410.0,267.0 410.3,265.0 410.7,266.1 411.0,267.4 411.4,264.6 411.7,266.6 412.1,268.2 412.4,265.9 412.8,265.7 413.1,265.2 413.5,265.0 413.8,265.6 414.1,263.3 414.5,266.2 414.8,264.8 415.2,267.1 415.5,270.3 415.9,268.5 416.2,265.4 416.6,267.6 416.9,266.5 417.3,264.7 417.6,267.9 417.9,269.2 418.3,268.1 418.6,266.8 419.0,264.5 419.3,266.0 419.7,268.1 420.0,267.3 420.4,268.5 420.7,265.6 421.1,260.8 421.4,268.8 421.7,268.4 422.1,270.1 422.4,270.0 422.8,268.7 423.1,265.6 423.5,263.4 423.8,265.1 424.2,264.6 424.5,263.4 424.9,265.5 425.2,268.7 425.5,265.0 425.9,266.6 426.2,267.9 426.6,264.3 426.9,265.5 427.3,264.7 427.6,262.7 428.0,267.3 428.3,267.8 428.7,267.8 429.0,266.0 429.3,263.9 429.7,268.8 430.0,261.4 430.4,266.2 430.7,264.9 431.1,262.7 431.4,267.8 431.8,268.9 432.1,264.5 432.5,264.2 432.8,265.6 433.1,264.5 433.5,269.5 433.8,262.5 434.2,262.9 434.5,265.6 434.9,263.3 435.2,263.1 435.6,263.2 435.9,263.8 436.3,266.6 436.6,261.6 436.9,265.9 437.3,261.5 437.6,261.3 438.0,265.5 438.3,264.4 438.7,265.1 439.0,265.2 439.4,261.8 439.7,260.8 440.1,263.3 440.4,260.5 440.7,262.1 441.1,266.3 441.4,259.1 441.8,259.4 442.1,263.6 442.5,263.9 442.8,261.1 443.2,262.0 443.5,260.3 443.9,259.9 444.2,261.2 444.5,262.5 444.9,257.3 445.2,256.7 445.6,260.8 445.9,258.8 446.3,261.7 446.6,260.1 447.0,258.9 447.3,259.6 447.7,266.6 448.0,259.2 448.3,257.6 448.7,255.3 449.0,260.4 449.4,262.3 449.7,259.0 450.1,258.8 450.4,258.1 450.8,258.9 451.1,257.6 451.5,258.9 451.8,258.7 452.1,258.2 452.5,261.7 452.8,256.3 453.2,256.7 453.5,255.4 453.9,256.7 454.2,257.3 454.6,260.9 454.9,256.2 455.3,256.1 455.6,256.7 455.9,254.2 456.3,255.9 456.6,251.4 457.0,257.4 457.3,257.3 457.7,257.3 458.0,259.2 458.4,256.9 458.7,258.0 459.1,256.7 459.4,255.2 459.7,255.6 460.1,256.2 460.4,255.9 460.8,251.0 461.1,251.4 461.5,252.1 461.8,250.6 462.2,251.7 462.5,251.1 462.9,250.2 463.2,252.5 463.6,255.1 463.9,255.4 464.2,255.7 464.6,255.0 464.9,245.8 465.3,255.4 465.6,251.8 466.0,247.5 466.3,248.7 466.7,249.2 467.0,248.2 467.4,252.3 467.7,249.1 468.0,253.9 468.4,253.0 468.7,244.8 469.1,247.4 469.4,250.3 469.8,248.9 470.1,247.5 470.5,247.2 470.8,246.0 471.2,245.2 471.5,247.7 471.8,246.0 472.2,243.7 472.5,240.9 472.9,245.5 473.2,244.0 473.6,238.0 473.9,243.8 474.3,240.3 474.6,243.0 475.0,241.8 475.3,244.3 475.6,238.5 476.0,244.4 476.3,240.6 476.7,244.5 477.0,240.3 477.4,239.0 477.7,236.3 478.1,242.0 478.4,240.4 478.8,237.2 479.1,235.2 479.4,234.3 479.8,233.9 480.1,234.3 480.5,231.2 480.8,231.2 481.2,232.4 481.5,229.9 481.9,228.9 482.2,231.6 482.6,231.7 482.9,228.6 483.2,227.5 483.6,226.4 483.9,224.7 484.3,224.2 484.6,223.9 485.0,219.8 485.3,217.8 485.7,218.0 486.0,216.8 486.4,218.5 486.7,218.0 487.0,215.0 487.4,211.1 487.7,209.5 488.1,207.1 488.4,209.5 488.8,209.7 489.1,205.3 489.5,204.5 489.8,204.1 490.2,202.2 490.5,201.9 490.8,198.3 491.2,196.9 491.5,195.4 491.9,196.9 492.2,192.4 492.6,192.7 492.9,188.3 493.3,188.9 493.6,185.0 494.0,180.7 494.3,177.8 494.6,181.0 495.0,175.2 495.3,174.8 495.7,169.9 496.0,171.2 496.4,167.0 496.7,169.9 497.1,162.9 497.4,163.6 497.8,165.2 498.1,160.7 498.4,157.1 498.8,151.1 499.1,154.0 499.5,152.5 499.8,146.2 500.2,144.9 500.5,141.7 500.9,139.0 501.2,138.9 501.6,137.8 501.9,135.8 502.2,135.5 502.6,132.8 502.9,130.5 503.3,131.2 503.6,125.4 504.0,125.9 504.3,125.6 504.7,125.5 505.0,120.7 505.4,124.5 505.7,118.9 506.0,119.7 506.4,123.3 506.7,116.7 507.1,120.1 507.4,123.7 507.8,122.7 508.1,121.6 508.5,121.6 508.8,123.4 509.2,119.9 509.5,127.0 509.8,124.1 510.2,124.7 510.5,129.2 510.9,129.8 511.2,130.4 511.6,132.1 511.9,132.9 512.3,131.6 512.6,132.2 513.0,139.7 513.3,141.0 513.6,141.6 514.0,146.7 514.3,144.6 514.7,146.4 515.0,151.4 515.4,150.3 515.7,152.4 516.1,156.4 516.4,157.4 516.8,161.7 517.1,165.5 517.4,164.5 517.8,168.7 518.1,172.5 518.5,172.5 518.8,176.1 519.2,180.4 519.5,178.9 519.9,184.1 520.2,190.4 520.6,187.1 520.9,186.8 521.2,190.6 521.6,193.7 521.9,199.4 522.3,200.6 522.6,200.9 523.0,199.4 523.3,205.4 523.7,212.6 524.0,207.3 524.4,213.1 524.7,215.7 525.0,218.5 525.4,220.3 525.7,223.0 526.1,225.6 526.4,225.7 526.8,227.6 527.1,227.5 527.5,229.3 527.8,229.4 528.2,235.2 528.5,228.6 528.8,238.0 529.2,233.8 529.5,239.8 529.9,239.3 530.2,248.1 530.6,244.0 530.9,243.5 531.3,248.8 531.6,248.7 532.0,246.4 532.3,249.2 532.7,253.6 533.0,246.4 533.3,249.4 533.7,253.0 534.0,258.0 534.4,252.3 534.7,255.4 535.1,255.9 535.4,260.0 535.8,259.4 536.1,259.2 536.5,257.8 536.8,256.6 537.1,262.7 537.5,265.6 537.8,261.8 538.2,261.2 538.5,266.3 538.9,260.8 539.2,259.8 539.6,266.7 539.9,266.9 540.3,268.9 540.6,265.3 540.9,267.1 541.3,266.8 541.6,269.0 542.0,268.2 542.3,268.7 542.7,269.3 543.0,269.2 543.4,267.6 543.7,271.1 544.1,271.0 544.4,271.1 544.7,268.8 545.1,270.3 545.4,271.1 545.8,266.4 546.1,272.7 546.5,270.1 546.8,268.2 547.2,274.3 547.5,269.9 547.9,272.2 548.2,271.7 548.5,269.2 548.9,271.3 549.2,277.7 549.6,276.8 549.9,271.9 550.3,275.5 550.6,273.6 551.0,276.5 551.3,271.7 551.7,272.5 552.0,275.3 552.3,274.8 552.7,277.2 553.0,277.6 553.4,276.8 553.7,275.4 554.1,276.9 554.4,275.9 554.8,273.6 555.1,278.9 555.5,274.0 555.8,275.0 556.1,278.1 556.5,279.6 556.8,278.5 557.2,276.4 557.5,282.4 557.9,276.2 558.2,281.7 558.6,276.5 558.9,279.2 559.3,280.0 559.6,279.7 559.9,278.5 560.3,280.3 560.6,280.1 561.0,277.5 561.3,282.5 561.7,280.1 562.0,280.4 562.4,278.2 562.7,281.1 563.1,282.9 563.4,281.3 563.7,280.9 564.1,281.7 564.4,280.0 564.8,281.7 565.1,279.6 565.5,283.0 565.8,283.0 566.2,282.4 566.5,282.6 566.9,282.3 567.2,280.0 567.5,280.4 567.9,282.5 568.2,280.7 568.6,280.7 568.9,280.6 569.3,283.3 569.6,282.8 570.0,283.8 570.3,285.5 570.7,283.3 571.0,281.8 571.3,283.4 571.7,284.4 572.0,285.4 572.4,283.1 572.7,284.5 573.1,281.7 573.4,282.1 573.8,281.4 574.1,284.5 574.5,281.8 574.8,283.5 575.1,284.2 575.5,282.1 575.8,281.5 576.2,286.0 576.5,285.4 576.9,286.2 577.2,285.0 577.6,287.1 577.9,285.7 578.3,282.7 578.6,286.0 578.9,285.6 579.3,283.2 579.6,284.1 580.0,286.0 580.3,281.9 580.7,285.6 581.0,282.9 581.4,286.9 581.7,287.2 582.1,283.6 582.4,284.2 582.7,285.2 583.1,285.8 583.4,284.8 583.8,287.8 584.1,286.5 584.5,284.2 584.8,287.1 585.2,285.5 585.5,286.9 585.9,288.9 586.2,285.5 586.5,287.4 586.9,286.6 587.2,287.3 587.6,289.8 587.9,289.9 588.3,284.3 588.6,290.5 589.0,290.0 589.3,286.7 589.7,289.5 590.0,287.3 590.3,288.9 590.7,284.7 591.0,290.0 591.4,285.0 591.7,285.1 592.1,288.5 592.4,290.0 592.8,288.0 593.1,289.7 593.5,290.6 593.8,288.9 594.1,291.1 594.5,290.6 594.8,287.7 595.2,286.8 595.5,287.6 595.9,288.4 596.2,291.5 596.6,292.0 596.9,286.0 597.3,292.5 597.6,285.0 597.9,286.0 598.3,286.7 598.6,291.4 599.0,287.0 599.3,289.9 599.7,289.3 600.0,288.1 600.4,289.5 600.7,287.8 601.1,289.4 601.4,288.6 601.8,294.7 602.1,286.6 602.4,290.0 602.8,288.2 603.1,292.2 603.5,291.3 603.8,289.4 604.2,291.1 604.5,287.5 604.9,288.6 605.2,291.3 605.6,287.3 605.9,290.9 606.2,291.0 606.6,290.7 606.9,289.8 607.3,289.7 607.6,287.0 608.0,289.6 608.3,285.8 608.7,286.9 609.0,289.5 609.4,290.5 609.7,287.1 610.0,290.8 610.4,288.7 610.7,287.0 611.1,289.9 611.4,290.1 611.8,288.8 612.1,289.3 612.5,293.0 612.8,288.2 613.2,287.3 613.5,288.7 613.8,290.1 614.2,289.3 614.5,291.1 614.9,290.0 615.2,290.1 615.6,288.0 615.9,291.8 616.3,287.2 616.6,292.1 617.0,287.2 617.3,287.8 617.6,289.0 618.0,292.5 618.3,288.3 618.7,291.5 619.0,289.5 619.4,287.8 619.7,291.0 620.1,289.1 620.4,288.7 620.8,291.4 621.1,290.4 621.4,290.3 621.8,289.9 622.1,293.9 622.5,287.6 622.8,289.2 623.2,288.6 623.5,288.8 623.9,286.9 624.2,289.2 624.6,290.1 624.9,289.6 625.2,288.4 625.6,287.6 625.9,290.0 626.3,288.5 626.6,290.3 627.0,289.9 627.3,292.6 627.7,289.4 628.0,291.4 628.4,289.5 628.7,291.0 629.0,290.8 629.4,291.2 629.7,287.9 630.1,289.7 630.4,288.1 630.8,290.7 631.1,289.2 631.5,289.6 631.8,287.5 632.2,289.8 632.5,291.0 632.8,290.1 633.2,290.9 633.5,292.1 633.9,291.1 634.2,291.9 634.6,287.6 634.9,288.4 635.3,287.7 635.6,290.3 636.0,291.8 636.3,291.6 636.6,290.7 637.0,288.6 637.3,289.5 637.7,286.1 638.0,288.3 638.4,290.0 638.7,289.2 639.1,290.1 639.4,292.0 639.8,289.8 640.1,290.0 640.4,289.5 640.8,294.4 641.1,290.9 641.5,290.9 641.8,293.0 642.2,292.2 642.5,290.4 642.9,289.7 643.2,291.8 643.6,292.2 643.9,293.0 644.2,291.6 644.6,289.4 644.9,288.1 645.3,289.4 645.6,291.4 646.0,290.9 646.3,290.0 646.7,289.5 647.0,290.3 647.4,291.8 647.7,290.9 648.0,287.8 648.4,289.3 648.7,292.0 649.1,288.9 649.4,291.2 649.8,288.8 650.1,287.4 650.5,292.4 650.8,289.8 651.2,291.8 651.5,289.5 651.8,290.6 652.2,293.4 652.5,291.7 652.9,290.6 653.2,291.1 653.6,288.6 653.9,292.0 654.3,293.2 654.6,294.8 655.0,289.2 655.3,289.8 655.6,289.9 656.0,289.9 656.3,288.6 656.7,289.8 657.0,291.6 657.4,289.2 657.7,293.4 658.1,286.9 658.4,288.9 658.8,290.5 659.1,290.0 659.4,289.0 659.8,292.9 660.1,293.1 660.5,291.9 660.8,290.9 661.2,288.8 661.5,288.0 661.9,291.8 662.2,292.5 662.6,292.0 662.9,291.0 663.2,290.7 663.6,290.7 663.9,293.2 664.3,287.9 664.6,289.4 665.0,290.6 665.3,291.0 665.7,290.2 666.0,291.6 666.4,290.8 666.7,290.0 667.0,289.0 667.4,287.9 667.7,290.4 668.1,292.8 668.4,292.6 668.8,287.0 669.1,290.3 669.5,288.8 669.8,290.2 670.2,287.7 670.5,293.8 670.9,287.9 671.2,288.6 671.5,292.2 671.9,292.8 672.2,289.1 672.6,286.6 672.9,291.4 673.3,290.2 673.6,289.4 674.0,289.4 674.3,287.7 674.7,289.8 675.0,288.4 675.3,290.8 675.7,289.0 676.0,291.8 676.4,290.3 676.7,290.4 677.1,289.0 677.4,291.2 677.8,289.8 678.1,288.5 678.5,286.4 678.8,289.6 679.1,288.9 679.5,291.7 679.8,290.7 680.2,288.8 680.5,285.9 680.9,290.4 681.2,292.6 681.6,289.7 681.9,288.5 682.3,289.9 682.6,287.6 682.9,290.1 683.3,286.6 683.6,285.3 684.0,287.1 684.3,289.9 684.7,287.3 685.0,285.5 685.4,289.2 685.7,288.0 686.1,290.2 686.4,293.3 686.7,290.9 687.1,291.1 687.4,289.8 687.8,287.2 688.1,287.8 688.5,287.4 688.8,289.8 689.2,288.7 689.5,288.5 689.9,289.2 690.2,287.7 690.5,289.9 690.9,286.5 691.2,293.4 691.6,290.5 691.9,289.7 692.3,289.6 692.6,289.8 693.0,290.0 693.3,287.1 693.7,288.3 694.0,289.4 694.3,287.9 694.7,288.3 695.0,287.5 695.4,290.3 695.7,288.9 696.1,286.5 696.4,284.7 696.8,287.6 697.1,290.2 697.5,285.8 697.8,287.9 698.1,287.9 698.5,289.5 698.8,288.4 699.2,288.9 699.5,287.4 699.9,286.5 700.2,287.2 700.6,287.2 700.9,286.5 701.3,287.5 701.6,285.5 701.9,289.6 702.3,286.5 702.6,285.2 703.0,287.1 703.3,284.6 703.7,284.6 704.0,285.4 704.4,285.6 704.7,285.6 705.1,284.2 705.4,288.7 705.7,281.5 706.1,284.2 706.4,287.0 706.8,284.4 707.1,283.7 707.5,282.2 707.8,286.2 708.2,282.7 708.5,284.0 708.9,284.1 709.2,281.0 709.5,283.7 709.9,283.5 710.2,284.2 710.6,280.2 710.9,282.7 711.3,281.6 711.6,281.2 712.0,286.8 712.3,283.8 712.7,282.7 713.0,281.6 713.3,280.2 713.7,282.3 714.0,280.0 714.4,281.8 714.7,284.2 715.1,282.4 715.4,284.8 715.8,279.8 716.1,281.7 716.5,285.5 716.8,279.0 717.1,280.7 717.5,284.2 717.8,280.1 718.2,279.6 718.5,280.5 718.9,278.2 719.2,281.2 719.6,276.0 719.9,284.6 720.3,281.0 720.6,276.9 720.9,280.3 721.3,279.2 721.6,279.2 722.0,282.5 722.3,278.3 722.7,277.1 723.0,277.5 723.4,274.5 723.7,274.2 724.1,276.2 724.4,278.2 724.7,273.5 725.1,275.0 725.4,276.5 725.8,270.9 726.1,268.6 726.5,270.4 726.8,265.2 727.2,265.0 727.5,263.3 727.9,262.4 728.2,262.8 728.5,255.5 728.9,256.3 729.2,258.9 729.6,257.3 729.9,258.7 730.3,253.2 730.6,257.2 731.0,256.3 731.3,255.1 731.7,256.6 732.0,254.8 732.3,255.7 732.7,257.1 733.0,255.0 733.4,259.0 733.7,257.1 734.1,264.3 734.4,262.8 734.8,269.9 735.1,264.5 735.5,260.9 735.8,266.4 736.1,264.1 736.5,268.0 736.8,270.3 737.2,263.3 737.5,268.6 737.9,267.0 738.2,268.4 738.6,272.1 738.9,271.1 739.3,270.9 739.6,268.5 740.0,269.2 740.3,270.3 740.6,272.2 741.0,271.8 741.3,268.6 741.7,269.4 742.0,272.5 742.4,275.2 742.7,272.6 743.1,271.2 743.4,273.5 743.8,272.0 744.1,273.7 744.4,276.1 744.8,271.0 745.1,273.8 745.5,274.8 745.8,275.1 746.2,275.1 746.5,275.6 746.9,275.3 747.2,277.1 747.6,273.6 747.9,275.4 748.2,276.5 748.6,277.4 748.9,278.1 749.3,278.2 749.6,272.9 750.0,277.1 750.3,278.8 750.7,276.0 751.0,275.0 751.4,279.3 751.7,274.7 752.0,276.6 752.4,277.9 752.7,277.2 753.1,276.6 753.4,276.3 753.8,280.3 754.1,278.0 754.5,277.3 754.8,276.1 755.2,276.0 755.5,278.3 755.8,279.2 756.2,274.4 756.5,276.6 756.9,279.0 757.2,280.3 757.6,282.3 757.9,280.6 758.3,279.0 758.6,279.6 759.0,277.9 759.3,280.0 759.6,280.5 760.0,277.6 760.3,280.0 760.7,280.6 761.0,280.8 761.4,281.9 761.7,282.7 762.1,277.2 762.4,280.1 762.8,283.1 763.1,281.5 763.4,279.9 763.8,279.7 764.1,279.6 764.5,281.3 764.8,283.6 765.2,284.3 765.5,277.6 765.9,280.1 766.2,279.0 766.6,278.0 766.9,281.4 767.2,277.4 767.6,278.8 767.9,277.8 768.3,276.2 768.6,280.6 769.0,276.7 769.3,278.8 769.7,275.3 770.0,274.7 770.4,277.4 770.7,275.7 771.0,280.0 771.4,279.4 771.7,280.3 772.1,279.1 772.4,281.5 772.8,281.2 773.1,282.6 773.5,280.7 773.8,283.9 774.2,280.7 774.5,285.5 774.8,286.5 775.2,284.8 775.5,286.4 775.9,287.3 776.2,286.6 776.6,285.9 776.9,284.0 777.3,289.1 777.6,285.3 778.0,285.3 778.3,288.7 778.6,287.3 779.0,285.0 779.3,286.6 779.7,288.4 780.0,289.6 780.4,287.5 780.7,287.1 781.1,287.7 781.4,284.9 781.8,287.9 782.1,286.6 782.4,289.5 782.8,284.7 783.1,286.5 783.5,285.9 783.8,287.9 784.2,291.7 784.5,287.0 784.9,287.3 785.2,288.5 785.6,289.5 785.9,287.1 786.2,291.2 786.6,288.3 786.9,287.3 787.3,286.7 787.6,286.7 788.0,287.5 788.3,290.2 788.7,289.3 789.0,290.4 789.4,289.1 789.7,288.3 790.0,286.8 790.4,288.2 790.7,290.5 791.1,291.7 791.4,287.6 791.8,289.8 792.1,290.4 792.5,286.4 792.8,291.8 793.2,291.8 793.5,292.1 793.8,295.5 794.2,288.5 794.5,288.2 794.9,288.5 795.2,291.7 795.6,290.2 795.9,291.6 796.3,288.1 796.6,288.3 797.0,291.4 797.3,291.4 797.6,288.7 798.0,289.9 798.3,288.3 798.7,288.9 799.0,287.3 799.4,292.9 799.7,291.0 800.1,291.2 800.4,290.6 800.8,291.7 801.1,291.2 801.4,287.4 801.8,287.3 802.1,289.6 802.5,289.6 802.8,291.7 803.2,290.4 803.5,291.8 803.9,290.4 804.2,290.2 804.6,288.1 804.9,289.1 805.2,289.2 805.6,291.2 805.9,290.7 806.3,289.3 806.6,291.9 807.0,292.1 807.3,289.5 807.7,291.2 808.0,292.8 808.4,293.6 808.7,289.8 809.1,291.8 809.4,292.2 809.7,286.7 810.1,288.5 810.4,291.8 810.8,291.4 811.1,290.3 811.5,290.1 811.8,289.9 812.2,287.6 812.5,289.6 812.9,293.4 813.2,290.9 813.5,292.6 813.9,288.9 814.2,290.9 814.6,291.3 814.9,291.7 815.3,290.8 815.6,290.4 816.0,292.7 816.3,289.5 816.7,294.4 817.0,291.9 817.3,290.6 817.7,291.9 818.0,291.0 818.4,291.4 818.7,288.8 819.1,291.4 819.4,291.2 819.8,292.8 820.1,290.8 820.5,288.8 820.8,291.7 821.1,292.2 821.5,285.7 821.8,290.3 822.2,291.3 822.5,287.9 822.9,291.2 823.2,290.2 823.6,293.0 823.9,288.7 824.3,291.7 824.6,292.5 824.9,289.2 825.3,287.2 825.6,289.3 826.0,289.8 826.3,290.2 826.7,287.1 827.0,289.4 827.4,289.8 827.7,291.6 828.1,293.8 828.4,290.3 828.7,290.7 829.1,290.7 829.4,288.7 829.8,294.1 830.1,290.2 830.5,292.0 830.8,295.2 831.2,289.3 831.5,291.8 831.9,287.3 832.2,291.6 832.5,292.3 832.9,291.0 833.2,290.3 833.6,296.2 833.9,292.3 834.3,290.9 834.6,289.4 835.0,289.1 835.3,289.4 835.7,289.9 836.0,290.0 836.3,290.7 836.7,289.1 837.0,291.5 837.4,292.1 837.7,293.9 838.1,288.5 838.4,288.1 838.8,290.5 839.1,291.3 839.5,292.8 839.8,289.6 840.1,293.9 840.5,291.2 840.8,291.3 841.2,290.7 841.5,293.5 841.9,291.7 842.2,292.2 842.6,291.3 842.9,289.2 843.3,291.6 843.6,290.9 843.9,289.8 844.3,292.1 844.6,290.2 845.0,292.8 845.3,292.1 845.7,293.5 846.0,289.2 846.4,291.2 846.7,287.8 847.1,294.0 847.4,290.5 847.7,292.7 848.1,292.4 848.4,293.4 848.8,289.4 849.1,290.2 849.5,288.4 849.8,290.7 850.2,290.7 850.5,291.0 850.9,291.1 851.2,288.5 851.5,292.3 851.9,292.0 852.2,294.2 852.6,290.7 852.9,291.5 853.3,292.2 853.6,293.3 854.0,288.2 854.3,292.3 854.7,288.6 855.0,293.2 855.3,291.2 855.7,291.9 856.0,290.3 856.4,288.2 856.7,292.1 857.1,294.9 857.4,294.0 857.8,288.5 858.1,291.6 858.5,290.8 858.8,291.9 859.1,290.9 859.5,293.3 859.8,291.8 860.2,292.0 860.5,291.9 860.9,291.2 861.2,290.4 861.6,291.2 861.9,292.9 862.3,293.4 862.6,291.0 862.9,292.5 863.3,291.0 863.6,291.6 864.0,292.9 864.3,291.8 864.7,290.1 865.0,292.0 865.4,291.2 865.7,288.2 866.1,293.3 866.4,292.1 866.7,290.3 867.1,291.0 867.4,293.5 867.8,291.8 868.1,289.8 868.5,290.8 868.8,294.9 869.2,292.7 869.5,289.8 869.9,290.7 870.2,290.4 870.5,291.7 870.9,290.5 871.2,292.7 871.6,293.0 871.9,290.7 872.3,293.4 872.6,290.0 873.0,292.6 873.3,292.6 873.7,293.6 874.0,289.7 874.3,291.1 874.7,291.8 875.0,290.5 875.4,294.8 875.7,290.1 876.1,289.4 876.4,294.1 876.8,290.8 877.1,291.0 877.5,292.8 877.8,290.0 878.2,290.7 878.5,291.2 878.8,293.1 879.2,293.0 879.5,290.3 879.9,291.2 880.2,290.6 880.6,292.8 880.9,289.9 881.3,292.6 881.6,292.2 882.0,293.7 882.3,293.5 882.6,292.7 883.0,290.7 883.3,288.3 883.7,293.2 884.0,292.6 884.4,290.7 884.7,290.3 885.1,292.3 885.4,291.7 885.8,290.7 886.1,290.9 886.4,289.5 886.8,290.4 887.1,291.6 887.5,290.0 887.8,289.6 888.2,289.8 888.5,291.2 888.9,291.8 889.2,292.5 889.6,291.7 889.9,292.3 890.2,294.5 890.6,293.9 890.9,291.8 891.3,289.6 891.6,290.1 892.0,290.5 892.3,289.3 892.7,288.2 893.0,292.6 893.4,290.8 893.7,290.9 894.0,290.6 894.4,291.7 894.7,290.8 895.1,292.6 895.4,288.3 895.8,289.5 896.1,292.9 896.5,291.6 896.8,293.0 897.2,289.3 897.5,293.4 897.8,291.2 898.2,293.1 898.5,290.6 898.9,291.4 899.2,288.2 899.6,289.9 899.9,290.7 900.3,289.6 900.6,290.7 901.0,291.4 901.3,292.1 901.6,289.5 902.0,291.9 902.3,291.3 902.7,291.0 903.0,291.1 903.4,289.2 903.7,291.8 904.1,288.0 904.4,289.0 904.8,291.5 905.1,291.5 905.4,287.9 905.8,292.2 906.1,290.1 906.5,292.9 906.8,289.4 907.2,290.2 907.5,290.1 907.9,290.2 908.2,292.8 908.6,292.6 908.9,290.5 909.2,290.8 909.6,292.2 909.9,291.0 910.3,291.2 910.6,291.5 911.0,291.3 911.3,286.7 911.7,288.0 912.0,293.4 912.4,292.1 912.7,291.3 913.0,292.5 913.4,287.5 913.7,290.6 914.1,292.5 914.4,291.0 914.8,292.2 915.1,289.0 915.5,289.3 915.8,292.0 916.2,289.6 916.5,293.0 916.8,293.3 917.2,288.3 917.5,290.1 917.9,291.3 918.2,292.0 918.6,286.7 918.9,290.1 919.3,292.7 919.6,291.2 920.0,289.0 920.3,293.5 920.6,291.7 921.0,290.8 921.3,289.3 921.7,291.2 922.0,289.4 922.4,291.2 922.7,288.5 923.1,290.0 923.4,292.4 923.8,289.1 924.1,291.7 924.4,290.3 924.8,288.3 925.1,291.3 925.5,287.4 925.8,289.4 926.2,287.6 926.5,291.7 926.9,290.6 927.2,289.4 927.6,292.8 927.9,288.5 928.2,290.8 928.6,289.7 928.9,290.7 929.3,289.9 929.6,291.2 930.0,288.1 930.3,290.0 930.7,289.4 931.0,288.4 931.4,290.2 931.7,290.8 932.0,288.5 932.4,290.9 932.7,287.7 933.1,289.8 933.4,290.3 933.8,291.1 934.1,289.4 934.5,289.1 934.8,288.7 935.2,288.9 935.5,289.4 935.8,292.1 936.2,286.6 936.5,291.5 936.9,290.0 937.2,289.8 937.6,288.9 937.9,289.8 938.3,288.0 938.6,289.8 939.0,290.0 939.3,288.7 939.6,289.5 940.0,289.7 940.3,288.6 940.7,291.7 941.0,289.7 941.4,286.8 941.7,290.9 942.1,287.5 942.4,286.1 942.8,287.2 943.1,288.4 943.4,289.4 943.8,289.1 944.1,287.2 944.5,289.7 944.8,289.4 945.2,288.9 945.5,289.0 945.9,288.8 946.2,289.6 946.6,289.8 946.9,288.2 947.3,287.9 947.6,285.7 947.9,288.0 948.3,288.2 948.6,288.1 949.0,284.7 949.3,289.2 949.7,285.3 950.0,285.9 950.4,290.3 950.7,284.1 951.1,287.0 951.4,286.8 951.7,289.3 952.1,290.2 952.4,284.8 952.8,285.6 953.1,286.5 953.5,285.2 953.8,288.5 954.2,287.8 954.5,282.8 954.9,284.2 955.2,287.3 955.5,285.8 955.9,284.7 956.2,281.3 956.6,285.0 956.9,282.0 957.3,283.9 957.6,285.4 958.0,286.6 958.3,283.7 958.7,284.7 959.0,285.9 959.3,285.3 959.7,287.3 960.0,283.9 960.4,284.7 960.7,282.5 961.1,283.3 961.4,283.5 961.8,284.5 962.1,284.4 962.5,286.9 962.8,284.4 963.1,285.2 963.5,284.6 963.8,281.8 964.2,279.2 964.5,285.1 964.9,284.3 965.2,283.0 965.6,283.0 965.9,280.1 966.3,287.7 966.6,278.3 966.9,283.6 967.3,281.5 967.6,280.6 968.0,282.7 968.3,282.2 968.7,282.7 969.0,283.1 969.4,279.2 969.7,278.8 970.1,281.9 970.4,279.0 970.7,280.2 971.1,281.9 971.4,280.9 971.8,276.4 972.1,281.1 972.5,280.6 972.8,279.3 973.2,278.3 973.5,278.3 973.9,279.8 974.2,278.5 974.5,277.2 974.9,277.4 975.2,282.5 975.6,275.7 975.9,278.0 976.3,279.1 976.6,279.1 977.0,276.6 977.3,273.2 977.7,276.4 978.0,278.2 978.3,270.6 978.7,275.3 979.0,275.0 979.4,276.5 979.7,274.2 980.1,272.6 980.4,274.9 980.8,271.2 981.1,272.4 981.5,271.5 981.8,274.6 982.1,274.1 982.5,274.1 982.8,269.4 983.2,271.4 983.5,275.8 983.9,268.7 984.2,273.2 984.6,271.9 984.9,271.2 985.3,265.2 985.6,271.2 985.9,269.9 986.3,271.4 986.6,266.1 987.0,267.8 987.3,269.1 987.7,268.6 988.0,269.1 988.4,267.5 988.7,264.1 989.1,263.0 989.4,265.7 989.7,264.1 990.1,265.0 990.4,262.5 990.8,260.5 991.1,261.4 991.5,260.4 991.8,259.7 992.2,257.1 992.5,255.8 992.9,258.5 993.2,257.3 993.5,257.4 993.9,256.0 994.2,254.6 994.6,250.1 994.9,256.4 995.3,256.7 995.6,251.4 996.0,249.3 996.3,250.3 996.7,248.4 997.0,251.0 997.3,245.3 997.7,247.3 998.0,242.8 998.4,240.2 998.7,241.4 999.1,245.9 999.4,241.5 999.8,238.7 1000.1,236.1 1000.5,234.7 1000.8,234.1 1001.1,237.5 1001.5,233.3 1001.8,226.7 1002.2,228.6 1002.5,228.5 1002.9,224.1 1003.2,223.9 1003.6,225.9 1003.9,220.6 1004.3,220.4 1004.6,219.4 1004.9,219.9 1005.3,217.5 1005.6,218.3 1006.0,211.3 1006.3,211.9 1006.7,210.2 1007.0,210.1 1007.4,202.2 1007.7,203.7 1008.1,203.3 1008.4,200.5 1008.7,193.4 1009.1,195.4 1009.4,197.1 1009.8,197.1 1010.1,191.3 1010.5,192.3 1010.8,188.2 1011.2,187.6 1011.5,184.6 1011.9,183.3 1012.2,187.0 1012.5,182.6 1012.9,179.9 1013.2,181.5 1013.6,177.8 1013.9,178.8 1014.3,176.3 1014.6,176.0 1015.0,172.4 1015.3,173.8 1015.7,173.1 1016.0,173.3 1016.4,173.0 1016.7,169.1 1017.0,171.4 1017.4,167.7 1017.7,168.4 1018.1,169.8 1018.4,167.5 1018.8,168.2 1019.1,168.3 1019.5,168.5 1019.8,166.7 1020.2,170.0 1020.5,165.9 1020.8,165.8 1021.2,171.4 1021.5,169.2 1021.9,168.7 1022.2,165.8 1022.6,173.4 1022.9,168.6 1023.3,170.7 1023.6,176.0 1024.0,177.9 1024.3,173.0 1024.6,176.3 1025.0,179.5 1025.3,175.5 1025.7,182.1 1026.0,176.7 1026.4,181.7 1026.7,182.9 1027.1,184.9 1027.4,188.1 1027.8,184.2 1028.1,184.9 1028.4,190.6 1028.8,194.3 1029.1,190.2 1029.5,189.4 1029.8,194.1 1030.2,200.3 1030.5,194.0 1030.9,199.7 1031.2,202.4 1031.6,199.3 1031.9,203.4 1032.2,203.1 1032.6,202.1 1032.9,205.3 1033.3,210.7 1033.6,209.7 1034.0,212.8 1034.3,212.8 1034.7,210.8 1035.0,214.3 1035.4,213.7 1035.7,215.0 1036.0,216.3 1036.4,219.4 1036.7,220.2 1037.1,221.0 1037.4,226.5 1037.8,222.9 1038.1,227.2 1038.5,227.7 1038.8,229.0 1039.2,229.5 1039.5,234.4 1039.8,229.2 1040.2,229.5 1040.5,232.7 1040.9,230.2 1041.2,237.5 1041.6,235.0 1041.9,238.3 1042.3,238.0 1042.6,241.7 1043.0,236.4 1043.3,238.0 1043.6,241.6 1044.0,241.0 1044.3,241.2 1044.7,239.9 1045.0,241.4 1045.4,245.0 1045.7,241.9 1046.1,242.8 1046.4,244.2 1046.8,250.2 1047.1,246.7 1047.4,249.1 1047.8,247.8 1048.1,250.8 1048.5,252.9 1048.8,248.6 1049.2,247.2 1049.5,249.3 1049.9,252.0 1050.2,249.2 1050.6,253.3 1050.9,251.6 1051.2,253.5 1051.6,254.1 1051.9,250.1 1052.3,255.4 1052.6,257.0 1053.0,256.5 1053.3,253.1 1053.7,253.3 1054.0,255.1 1054.4,254.8 1054.7,253.8 1055.0,256.2 1055.4,255.6 1055.7,252.7 1056.1,256.2 1056.4,257.3 1056.8,256.7 1057.1,253.4 1057.5,256.1 1057.8,254.7 1058.2,256.7 1058.5,255.0 1058.8,260.2 1059.2,258.0 1059.5,257.9 1059.9,257.6 1060.2,254.4 1060.6,258.7 1060.9,257.0 1061.3,256.5 1061.6,256.5 1062.0,255.9 1062.3,258.3 1062.6,258.5 1063.0,257.3 1063.3,252.8 1063.7,256.9 1064.0,256.2 1064.4,259.9 1064.7,256.1 1065.1,253.6 1065.4,258.9 1065.8,255.4 1066.1,254.6 1066.4,253.8 1066.8,259.6 1067.1,257.2 1067.5,256.3 1067.8,256.0 1068.2,261.1 1068.5,258.2 1068.9,257.6 1069.2,257.4 1069.6,258.1 1069.9,260.1 1070.2,256.9 1070.6,261.1 1070.9,254.0 1071.3,257.2 1071.6,257.4 1072.0,255.5 1072.3,259.8 1072.7,258.5 1073.0,257.8 1073.4,254.6 1073.7,254.3 1074.0,254.6 1074.4,260.2 1074.7,255.5 1075.1,256.4 1075.4,256.0 1075.8,254.9 1076.1,252.7 1076.5,252.7 1076.8,259.8 1077.2,252.7 1077.5,254.2 1077.8,253.2 1078.2,253.9 1078.5,253.9 1078.9,249.1 1079.2,251.1 1079.6,248.4 1079.9,247.0 1080.3,250.1 1080.6,248.0 1081.0,250.6 1081.3,253.2 1081.6,247.1 1082.0,247.4 1082.3,246.9 1082.7,241.3 1083.0,244.8 1083.4,247.9 1083.7,245.0 1084.1,247.2 1084.4,244.0 1084.8,244.0 1085.1,243.9 1085.5,239.9 1085.8,236.0 1086.1,239.7 1086.5,238.0 1086.8,236.2 1087.2,239.1 1087.5,230.9 1087.9,235.8 1088.2,227.9 1088.6,227.2 1088.9,228.2 1089.3,228.0 1089.6,226.3 1089.9,226.2 1090.3,223.0 1090.6,222.9 1091.0,218.7 1091.3,223.4 1091.7,220.6 1092.0,218.8 1092.4,218.9 1092.7,220.2 1093.1,230.6 1093.4,224.6 1093.7,227.5 1094.1,225.3 1094.4,230.1 1094.8,228.4 1095.1,232.8 1095.5,236.8 1095.8,236.3 1096.2,240.9 1096.5,237.6 1096.9,241.3 1097.2,243.1 1097.5,248.0 1097.9,250.1 1098.2,246.4 1098.6,248.6 1098.9,252.2 1099.3,251.0 1099.6,255.8 1100.0,253.2 1100.3,257.0 1100.7,255.8 1101.0,254.6 1101.3,264.0 1101.7,258.9 1102.0,263.0 1102.4,258.6 1102.7,266.6 1103.1,265.2 1103.4,263.8 1103.8,267.0 1104.1,263.2 1104.5,267.2 1104.8,265.8 1105.1,268.4 1105.5,268.2 1105.8,264.5 1106.2,268.7 1106.5,270.4 1106.9,268.8 1107.2,274.1 1107.6,273.2 1107.9,271.9 1108.3,273.7 1108.6,271.4 1108.9,274.1 1109.3,272.0 1109.6,274.5 1110.0,274.7 1110.3,273.9 1110.7,275.4 1111.0,277.3 1111.4,275.9 1111.7,277.0 1112.1,274.2 1112.4,275.4 1112.7,277.2 1113.1,276.2 1113.4,279.5 1113.8,279.8 1114.1,279.4 1114.5,280.4 1114.8,280.4 1115.2,281.2 1115.5,279.3 1115.9,277.8 1116.2,281.3 1116.5,280.9 1116.9,280.7 1117.2,282.1 1117.6,282.2 1117.9,280.4 1118.3,284.5 1118.6,283.1 1119.0,283.3 1119.3,287.0 1119.7,282.9 1120.0,283.5 1120.3,284.6 1120.7,286.4 1121.0,285.4 1121.4,284.9 1121.7,283.1 1122.1,282.6 1122.4,287.3 1122.8,283.1 1123.1,286.1 1123.5,286.6 1123.8,285.9 1124.1,286.3 1124.5,286.3 1124.8,282.3 1125.2,285.3 1125.5,285.1 1125.9,286.2 1126.2,284.5 1126.6,287.4 1126.9,285.5 1127.3,284.0 1127.6,283.0 1127.9,288.2 1128.3,282.3 1128.6,286.2 1129.0,288.8 1129.3,284.2 1129.7,287.1 1130.0,286.2 1130.4,287.1 1130.7,283.8 1131.1,285.0 1131.4,284.3 1131.7,286.1 1132.1,287.7 1132.4,285.8 1132.8,282.9 1133.1,286.8 1133.5,287.9 1133.8,282.7 1134.2,286.1 1134.5,286.1 1134.9,283.0 1135.2,286.6 1135.5,289.0 1135.9,285.6 1136.2,286.8 1136.6,287.3 1136.9,288.4 1137.3,286.7 1137.6,284.3 1138.0,287.5 1138.3,290.1 1138.7,288.5 1139.0,287.9 1139.3,287.5 1139.7,286.3 1140.0,287.3 1140.4,287.4 1140.7,288.4 1141.1,289.1 1141.4,290.0 1141.8,287.0 1142.1,287.4 1142.5,287.4 1142.8,286.7 1143.1,285.6 1143.5,285.9 1143.8,287.4 1144.2,287.1 1144.5,286.4 1144.9,290.7 1145.2,289.4 1145.6,287.6 1145.9,286.9 1146.3,287.4 1146.6,285.9 1146.9,288.3 1147.3,287.0 1147.6,292.2 1148.0,289.7 1148.3,286.8 1148.7,288.8 1149.0,288.1 1149.4,289.8 1149.7,289.0 1150.1,292.2 1150.4,286.2 1150.7,289.3 1151.1,287.2 1151.4,287.4 1151.8,289.5 1152.1,291.1 1152.5,287.8 1152.8,287.5 1153.2,289.8 1153.5,286.9 1153.9,288.2 1154.2,293.2 1154.6,291.4 1154.9,286.6 1155.2,291.9 1155.6,287.8 1155.9,289.3 1156.3,288.0 1156.6,289.3 1157.0,289.1 1157.3,292.7 1157.7,289.6 1158.0,288.4 1158.4,288.5 1158.7,290.4 1159.0,289.6 1159.4,290.1 1159.7,291.1 1160.1,288.2 1160.4,290.6 1160.8,290.6 1161.1,291.4 1161.5,288.0 1161.8,288.3 1162.2,289.5 1162.5,290.4 1162.8,287.8 1163.2,286.1 1163.5,290.5 1163.9,291.5 1164.2,292.2 1164.6,288.6 1164.9,291.0 1165.3,291.0 1165.6,291.0 1166.0,292.7 1166.3,290.3 1166.6,290.0 1167.0,290.2 1167.3,290.3 1167.7,289.6 1168.0,287.9 1168.4,290.9 1168.7,290.5 1169.1,289.6 1169.4,291.2 1169.8,290.2 1170.1,285.5 1170.4,286.8 1170.8,289.5 1171.1,292.0 1171.5,288.5 1171.8,292.8 1172.2,291.6 1172.5,288.1 1172.9,290.0 1173.2,289.9 1173.6,292.6 1173.9,290.5 1174.2,291.4 1174.6,290.0 1174.9,288.5 1175.3,293.6 1175.6,289.0 1176.0,290.1 1176.3,291.0 1176.7,286.7 1177.0,291.3 1177.4,289.0 1177.7,293.5 1178.0,289.5 1178.4,290.0 1178.7,289.6 1179.1,292.0 1179.4,288.3 1179.8,290.6 1180.1,291.6 1180.5,290.8 1180.8,291.7 1181.2,288.8 1181.5,285.7 1181.8,289.8 1182.2,289.3 1182.5,290.0 1182.9,291.4 1183.2,295.2 1183.6,291.6 1183.9,293.3 1184.3,291.4 1184.6,292.0 1185.0,290.9 1185.3,292.2 1185.6,289.6 1186.0,291.1 1186.3,289.9 1186.7,292.7 1187.0,292.5 1187.4,289.4 1187.7,290.6 1188.1,291.3 1188.4,290.8 1188.8,290.4 1189.1,291.5 1189.4,295.0 1189.8,288.9 1190.1,291.7 1190.5,292.6 1190.8,291.2 1191.2,287.5 1191.5,292.8 1191.9,288.0 1192.2,290.6 1192.6,293.9 1192.9,293.8 1193.2,292.3 1193.6,292.0 1193.9,290.5 1194.3,290.1 1194.6,290.6 1195.0,292.9 1195.3,293.0 1195.7,293.6 1196.0,291.4 1196.4,290.2 1196.7,291.3 1197.0,290.5 1197.4,290.5 1197.7,289.4 1198.1,291.1 1198.4,296.4 1198.8,292.3 1199.1,292.7 1199.5,289.1 1199.8,290.0 1200.2,292.0 1200.5,291.6 1200.8,293.1 1201.2,289.1 1201.5,294.4 1201.9,291.5 1202.2,293.3 1202.6,292.9 1202.9,294.8 1203.3,291.2 1203.6,291.5 1204.0,293.6 1204.3,294.0 1204.6,292.0 1205.0,290.1 1205.3,291.9 1205.7,289.8 1206.0,290.8 1206.4,291.8 1206.7,290.5 1207.1,293.6 1207.4,292.1 1207.8,295.0 1208.1,292.0 1208.4,295.1 1208.8,295.6 1209.1,290.9 1209.5,288.1 1209.8,294.9 1210.2,294.3 1210.5,295.0 1210.9,292.4 1211.2,290.4 1211.6,292.4 1211.9,293.5 1212.2,292.9 1212.6,292.1 1212.9,291.5 1213.3,291.3 1213.6,291.5 1214.0,292.3 1214.3,289.9 1214.7,289.2 1215.0,295.2 1215.4,293.6 1215.7,293.2 1216.0,291.3 1216.4,289.8 1216.7,292.5 1217.1,294.7 1217.4,294.2 1217.8,291.1 1218.1,291.6 1218.5,293.7 1218.8,293.8 1219.2,291.8 1219.5,290.2 1219.8,291.2 1220.2,290.2 1220.5,290.4 1220.9,294.2 1221.2,294.3 1221.6,293.1 1221.9,294.1 1222.3,291.6 1222.6,292.1 1223.0,290.7 1223.3,294.3 1223.7,288.4 1224.0,292.6 1224.3,291.8 1224.7,291.7 1225.0,292.7 1225.4,290.4 1225.7,292.0 1226.1,291.5 1226.4,293.6 1226.8,292.9 1227.1,290.5 1227.5,287.0 1227.8,290.4 1228.1,289.9 1228.5,292.8 1228.8,290.9 1229.2,289.8 1229.5,292.5 1229.9,291.4 1230.2,292.2 1230.6,293.1 1230.9,292.9 1231.3,289.8 1231.6,289.5 1231.9,296.1 1232.3,294.7 1232.6,289.3 1233.0,291.5 1233.3,292.4 1233.7,293.4 1234.0,292.2 1234.4,290.7 1234.7,292.4 1235.1,291.5 1235.4,292.6 1235.7,291.3 1236.1,290.3 1236.4,292.7 1236.8,292.2 1237.1,290.7 1237.5,292.5 1237.8,291.0 1238.2,294.4 1238.5,293.4 1238.9,291.6 1239.2,290.4 1239.5,291.4 1239.9,290.8 1240.2,292.7 1240.6,290.7 1240.9,294.5 1241.3,292.5 1241.6,292.0 1242.0,291.4 1242.3,291.2 1242.7,289.7 1243.0,291.8 1243.3,289.3 1243.7,292.7 1244.0,293.2 1244.4,290.6 1244.7,291.9 1245.1,290.8 1245.4,293.5 1245.8,293.0 1246.1,292.7 1246.5,290.2 1246.8,293.1 1247.1,293.6 1247.5,292.5 1247.8,293.8 1248.2,291.9 1248.5,292.0 1248.9,293.7 1249.2,293.3 1249.6,290.9 1249.9,293.9 1250.3,294.2 1250.6,289.9 1250.9,290.5 1251.3,291.6 1251.6,291.9 1252.0,293.3 1252.3,291.8 1252.7,291.0 1253.0,291.2 1253.4,293.1 1253.7,292.9 1254.1,292.7 1254.4,292.2 1254.7,290.1 1255.1,293.4 1255.4,293.1 1255.8,293.3 1256.1,291.1 1256.5,296.1 1256.8,293.9 1257.2,293.4 1257.5,291.6 1257.9,291.5 1258.2,293.6 1258.5,293.0 1258.9,295.3 1259.2,294.4 1259.6,288.1 1259.9,291.4 1260.3,291.1 1260.6,291.4 1261.0,291.0 1261.3,290.6 1261.7,289.7 1262.0,288.8 1262.3,291.9 1262.7,294.3 1263.0,291.7 1263.4,291.8 1263.7,290.9 1264.1,292.5 1264.4,291.4 1264.8,294.0 1265.1,292.1 1265.5,292.7 1265.8,292.9 1266.1,292.3 1266.5,292.9 1266.8,292.6 1267.2,294.9 1267.5,290.5 1267.9,292.4 1268.2,292.6 1268.6,290.5 1268.9,292.1 1269.3,294.4 1269.6,289.2 1269.9,291.9 1270.3,291.1 1270.6,290.5 1271.0,291.2 1271.3,292.1 1271.7,293.5 1272.0,291.5 1272.4,291.9 1272.7,291.7 1273.1,292.8 1273.4,291.2 1273.7,291.3 1274.1,292.1 1274.4,292.3 1274.8,291.8 1275.1,292.6 1275.5,292.4 1275.8,288.9 1276.2,294.7 1276.5,292.3 1276.9,288.2 1277.2,293.5 1277.5,292.7 1277.9,289.9 1278.2,289.9 1278.6,291.1 1278.9,290.4 1279.3,293.1 1279.6,289.1 1280.0,294.5 1280.3,293.7 1280.7,289.5 1281.0,289.3 1281.3,291.7 1281.7,291.3 1282.0,293.0 1282.4,291.8 1282.7,293.3 1283.1,290.1 1283.4,292.7 1283.8,291.4 1284.1,287.0 1284.5,288.9 1284.8,290.8 1285.1,292.7 1285.5,290.9 1285.8,290.1 1286.2,292.1 1286.5,290.5 1286.9,291.8 1287.2,291.1 1287.6,296.5 1287.9,291.6 1288.3,293.1 1288.6,291.9 1288.9,291.8 1289.3,291.3 1289.6,293.3 1290.0,290.4 1290.3,288.9 1290.7,293.3 1291.0,292.2 1291.4,290.6 1291.7,292.8 1292.1,292.1 1292.4,292.5 1292.8,292.2 1293.1,291.7 1293.4,290.7 1293.8,291.0 1294.1,293.0 1294.5,293.2 1294.8,291.8 1295.2,293.7 1295.5,291.6 1295.9,293.7 1296.2,294.2 1296.6,292.6 1296.9,291.0 1297.2,291.7 1297.6,291.3 1297.9,291.6 1298.3,290.8 1298.6,292.3 1299.0,289.4 1299.3,289.8 1299.7,291.8 1300.0,291.9 1300.4,289.5 1300.7,292.3 1301.0,292.5 1301.4,292.4 1301.7,290.9 1302.1,292.7 1302.4,292.2 1302.8,291.3 1303.1,291.5 1303.5,288.7 1303.8,292.0 1304.2,291.3 1304.5,291.5 1304.8,293.8 1305.2,291.8 1305.5,289.7 1305.9,291.3 1306.2,293.5 1306.6,290.9 1306.9,292.7 1307.3,292.9 1307.6,293.7 1308.0,292.0 1308.3,292.2 1308.6,289.2 1309.0,292.5 1309.3,294.0 1309.7,292.0 1310.0,293.3 1310.4,295.3 1310.7,289.4 1311.1,293.3 1311.4,294.3 1311.8,292.4 1312.1,292.2 1312.4,290.4 1312.8,290.8 1313.1,290.9 1313.5,293.1 1313.8,290.4 1314.2,290.5 1314.5,289.6 1314.9,294.9 1315.2,292.6 1315.6,291.9 1315.9,290.4 1316.2,296.0 1316.6,292.2 1316.9,295.6 1317.3,294.4 1317.6,293.9 1318.0,294.9 1318.3,295.0 1318.7,295.6 1319.0,293.6 1319.4,293.4 1319.7,291.8 1320.0,291.9 1320.4,292.3 1320.7,292.9 1321.1,295.4 1321.4,295.6 1321.8,294.7 1322.1,293.6 1322.5,294.8 1322.8,294.9 1323.2,293.0 1323.5,292.1 1323.8,294.6 1324.2,293.4 1324.5,298.0 1324.9,293.0 1325.2,294.3 1325.6,292.8 1325.9,293.8 1326.3,294.0 1326.6,293.4 1327.0,293.8 1327.3,297.3 1327.6,292.1 1328.0,294.5 1328.3,293.9 1328.7,292.2 1329.0,291.7 1329.4,296.1 1329.7,295.4 1330.1,296.3 1330.4,294.1 1330.8,292.9 1331.1,293.7 1331.4,292.8 1331.8,292.9 1332.1,294.0 1332.5,294.3 1332.8,295.1 1333.2,290.7 1333.5,293.9 1333.9,292.1 1334.2,294.2 1334.6,295.7 1334.9,296.5 1335.2,293.3 1335.6,295.8 1335.9,295.9 1336.3,295.0 1336.6,295.3 1337.0,296.4 1337.3,292.4 1337.7,294.5 1338.0,296.0 1338.4,291.6 1338.7,294.4 1339.0,291.5 1339.4,292.4 1339.7,293.3 1340.1,294.0 1340.4,296.9 1340.8,294.7 1341.1,294.0 1341.5,294.9 1341.8,295.1 1342.2,292.3 1342.5,294.2 1342.8,293.4 1343.2,296.9 1343.5,294.9 1343.9,293.3 1344.2,294.2 1344.6,294.5 1344.9,292.4 1345.3,293.9 1345.6,292.7 1346.0,292.8 1346.3,294.5 1346.6,292.5 1347.0,294.3 1347.3,295.8 1347.7,293.1 1348.0,295.7 1348.4,293.2 1348.7,291.8 1349.1,296.1 1349.4,295.1 1349.8,292.1 1350.1,292.5 1350.4,291.7 1350.8,294.3 1351.1,293.8 1351.5,288.7 1351.8,294.3 1352.2,293.3 1352.5,295.5 1352.9,295.7 1353.2,293.3 1353.6,293.7 1353.9,293.7 1354.2,295.0 1354.6,297.0 1354.9,293.3 1355.3,293.3 1355.6,292.5 1356.0,294.7 1356.3,295.7 1356.7,293.0 1357.0,297.0 1357.4,295.2 1357.7,295.1 1358.0,296.6 1358.4,296.6 1358.7,292.2 1359.1,294.5 1359.4,297.7 1359.8,293.5 1360.1,295.4 1360.5,291.3 1360.8,291.9 1361.2,294.1 1361.5,294.1 1361.9,293.0 1362.2,294.8 1362.5,293.2 1362.9,294.1 1363.2,294.9 1363.6,294.0 1363.9,294.7 1364.3,295.8 1364.6,295.0 1365.0,296.5 1365.3,294.5 1365.7,294.9 1366.0,293.2 1366.3,295.7 1366.7,293.0 1367.0,295.4 1367.4,294.9 1367.7,293.9 1368.1,296.7 1368.4,296.8 1368.8,295.3 1369.1,294.5 1369.5,295.4 1369.8,298.2 1370.1,293.3 1370.5,293.4 1370.8,294.9 1371.2,297.8 1371.5,297.1 1371.9,294.3 1372.2,298.4 1372.6,294.2 1372.9,295.5 1373.3,294.1 1373.6,295.4 1373.9,294.9 1374.3,294.5 1374.6,297.1 1375.0,293.3 1375.3,294.5 1375.7,291.4 1376.0,293.8 1376.4,294.9 1376.7,294.5 1377.1,295.0 1377.4,294.7 1377.7,298.1 1378.1,295.0 1378.4,295.3 1378.8,296.8 1379.1,294.3 1379.5,295.2 1379.8,296.7 1380.2,293.8 1380.5,296.6 1380.9,296.1 1381.2,294.1 1381.5,295.4 1381.9,294.8 1382.2,296.0 1382.6,296.9 1382.9,295.8 1383.3,296.7 1383.6,296.4 1384.0,292.6 1384.3,294.7 1384.7,294.2 1385.0,298.4 1385.3,294.9 1385.7,296.5 1386.0,292.3 1386.4,299.4 1386.7,293.3 1387.1,296.5 1387.4,296.0 1387.8,297.0 1388.1,294.8 1388.5,293.8 1388.8,297.2 1389.1,296.0 1389.5,296.6 1389.8,296.6 1390.2,297.7 1390.5,294.7 1390.9,296.6 1391.2,294.7 1391.6,295.0 1391.9,294.3 1392.3,293.8 1392.6,294.9 1392.9,295.1 1393.3,295.4 1393.6,294.2 1394.0,296.7 1394.3,297.0 1394.7,296.0 1395.0,297.1 1395.4,295.4 1395.7,296.2 1396.1,292.3 1396.4,294.2" fill="none" stroke="#00ff00" stroke-width="1.4" stroke-linejoin="round"/>
<path d="M83.5,151.3 83.8,154.2 84.2,155.9 84.5,151.8 84.9,151.6 85.2,154.5 85.6,152.6 85.9,154.3 86.3,156.2 86.6,154.2 87.0,155.4 87.3,148.5 87.6,155.7 88.0,153.4 88.3,151.9 88.7,153.7 89.0,151.8 89.4,152.0 89.7,150.4 90.1,153.4 90.4,152.1 90.8,153.4 91.1,156.8 91.4,155.5 91.8,152.9 92.1,156.6 92.5,157.8 92.8,156.0 93.2,156.1 93.5,156.0 93.9,154.4 94.2,158.7 94.6,157.6 94.9,156.7 95.2,156.9 95.6,156.8 95.9,160.2 96.3,156.8 96.6,154.1 97.0,157.9 97.3,159.6 97.7,159.3 98.0,157.3 98.4,155.0 98.7,162.5 99.0,156.5 99.4,158.9 99.7,158.4 100.1,157.6 100.4,158.2 100.8,157.0 101.1,157.5 101.5,158.4 101.8,159.3 102.2,164.4 102.5,157.8 102.8,162.1 103.2,160.2 103.5,159.4 103.9,157.5 104.2,160.3 104.6,158.5 104.9,161.2 105.3,161.4 105.6,158.5 106.0,163.2 106.3,160.8 106.6,161.3 107.0,161.9 107.3,160.8 107.7,163.6 108.0,164.9 108.4,162.2 108.7,163.8 109.1,165.7 109.4,163.5 109.8,161.9 110.1,164.7 110.4,162.7 110.8,162.2 111.1,159.8 111.5,162.9 111.8,161.0 112.2,163.2 112.5,158.7 112.9,160.5 113.2,165.6 113.6,166.2 113.9,163.6 114.2,163.5 114.6,158.5 114.9,163.9 115.3,161.7 115.6,158.8 116.0,161.1 116.3,161.0 116.7,164.3 117.0,163.5 117.4,167.7 117.7,166.0 118.1,163.4 118.4,164.4 118.7,161.0 119.1,165.0 119.4,162.8 119.8,163.8 120.1,164.2 120.5,163.7 120.8,162.9 121.2,165.1 121.5,165.2 121.9,158.9 122.2,162.6 122.5,163.5 122.9,162.7 123.2,164.2 123.6,165.5 123.9,164.2 124.3,163.6 124.6,166.0 125.0,164.7 125.3,164.6 125.7,168.1 126.0,166.2 126.3,162.3 126.7,166.8 127.0,162.9 127.4,164.7 127.7,160.8 128.1,166.2 128.4,161.0 128.8,165.1 129.1,168.3 129.5,165.4 129.8,164.3 130.1,162.4 130.5,163.7 130.8,165.9 131.2,159.8 131.5,162.1 131.9,166.6 132.2,163.3 132.6,166.3 132.9,165.4 133.3,162.5 133.6,163.9 133.9,166.9 134.3,163.6 134.6,164.2 135.0,165.3 135.3,163.2 135.7,163.8 136.0,165.3 136.4,164.0 136.7,164.3 137.1,165.6 137.4,167.9 137.7,164.4 138.1,163.4 138.4,170.2 138.8,166.5 139.1,161.0 139.5,163.8 139.8,161.6 140.2,166.2 140.5,162.5 140.9,163.9 141.2,168.0 141.5,163.6 141.9,164.9 142.2,165.6 142.6,166.8 142.9,166.9 143.3,167.8 143.6,163.7 144.0,165.9 144.3,161.7 144.7,165.0 145.0,164.7 145.3,168.4 145.7,165.7 146.0,164.4 146.4,164.5 146.7,163.5 147.1,164.3 147.4,163.9 147.8,165.2 148.1,164.2 148.5,165.4 148.8,167.3 149.1,163.2 149.5,164.0 149.8,163.0 150.2,169.4 150.5,168.7 150.9,166.5 151.2,165.7 151.6,163.9 151.9,167.6 152.3,165.9 152.6,166.6 152.9,166.0 153.3,160.4 153.6,162.7 154.0,164.9 154.3,166.9 154.7,164.0 155.0,166.3 155.4,165.3 155.7,163.9 156.1,167.2 156.4,163.9 156.7,163.6 157.1,169.2 157.4,168.8 157.8,166.5 158.1,168.3 158.5,164.8 158.8,165.6 159.2,166.8 159.5,166.9 159.9,167.2 160.2,163.7 160.5,168.0 160.9,164.1 161.2,166.1 161.6,171.1 161.9,168.1 162.3,165.3 162.6,166.9 163.0,164.8 163.3,164.9 163.7,164.7 164.0,165.6 164.3,166.2 164.7,167.4 165.0,170.4 165.4,167.2 165.7,166.8 166.1,164.1 166.4,168.7 166.8,166.5 167.1,169.3 167.5,166.5 167.8,169.5 168.1,165.3 168.5,165.6 168.8,165.9 169.2,165.8 169.5,166.9 169.9,166.6 170.2,162.5 170.6,164.0 170.9,164.6 171.3,167.2 171.6,165.4 171.9,167.3 172.3,167.3 172.6,166.5 173.0,162.3 173.3,169.7 173.7,167.1 174.0,165.3 174.4,166.9 174.7,165.5 175.1,166.5 175.4,164.9 175.7,170.4 176.1,165.9 176.4,167.3 176.8,165.3 177.1,168.1 177.5,169.3 177.8,167.1 178.2,165.2 178.5,167.2 178.9,166.4 179.2,168.3 179.5,167.3 179.9,167.4 180.2,166.4 180.6,166.3 180.9,166.8 181.3,169.1 181.6,166.6 182.0,167.7 182.3,165.8 182.7,166.0 183.0,164.3 183.3,166.2 183.7,165.2 184.0,162.3 184.4,164.7 184.7,163.5 185.1,165.7 185.4,165.5 185.8,168.6 186.1,166.5 186.5,165.2 186.8,165.5 187.2,165.5 187.5,165.4 187.8,167.2 188.2,165.3 188.5,166.8 188.9,168.2 189.2,165.4 189.6,166.4 189.9,169.5 190.3,167.4 190.6,165.9 191.0,167.6 191.3,166.1 191.6,165.1 192.0,168.2 192.3,164.9 192.7,165.4 193.0,166.3 193.4,168.2 193.7,167.9 194.1,165.6 194.4,166.7 194.8,166.1 195.1,168.3 195.4,167.4 195.8,165.6 196.1,168.4 196.5,164.6 196.8,166.3 197.2,163.6 197.5,168.8 197.9,166.9 198.2,168.3 198.6,172.1 198.9,167.8 199.2,167.7 199.6,166.4 199.9,167.9 200.3,166.6 200.6,168.5 201.0,168.4 201.3,168.0 201.7,167.2 202.0,167.3 202.4,167.5 202.7,167.4 203.0,168.6 203.4,166.4 203.7,167.2 204.1,168.4 204.4,170.8 204.8,168.3 205.1,167.5 205.5,167.4 205.8,170.5 206.2,166.8 206.5,166.9 206.8,167.7 207.2,166.6 207.5,167.4 207.9,168.7 208.2,167.7 208.6,164.8 208.9,168.9 209.3,169.7 209.6,167.4 210.0,171.6 210.3,168.8 210.6,169.0 211.0,166.2 211.3,172.8 211.7,172.2 212.0,170.9 212.4,171.7 212.7,167.5 213.1,167.8 213.4,169.5 213.8,168.9 214.1,166.9 214.4,169.3 214.8,170.4 215.1,168.6 215.5,171.6 215.8,169.7 216.2,168.3 216.5,167.7 216.9,167.2 217.2,170.8 217.6,166.8 217.9,170.4 218.2,170.4 218.6,167.2 218.9,170.5 219.3,169.7 219.6,172.7 220.0,170.4 220.3,169.4 220.7,170.7 221.0,172.1 221.4,168.4 221.7,168.5 222.0,171.4 222.4,173.5 222.7,167.7 223.1,172.8 223.4,171.0 223.8,171.6 224.1,171.3 224.5,169.6 224.8,169.3 225.2,174.2 225.5,168.1 225.8,170.6 226.2,173.1 226.5,170.3 226.9,171.8 227.2,170.7 227.6,169.3 227.9,171.6 228.3,170.7 228.6,169.6 229.0,171.9 229.3,170.2 229.6,171.2 230.0,170.0 230.3,173.4 230.7,172.5 231.0,171.4 231.4,170.7 231.7,170.6 232.1,170.7 232.4,169.5 232.8,173.6 233.1,169.6 233.4,172.6 233.8,172.6 234.1,170.7 234.5,171.0 234.8,168.9 235.2,170.8 235.5,170.2 235.9,172.7 236.2,170.1 236.6,170.2 236.9,172.4 237.2,168.3 237.6,170.1 237.9,173.3 238.3,171.0 238.6,172.7 239.0,166.2 239.3,170.1 239.7,171.0 240.0,168.9 240.4,172.8 240.7,168.8 241.0,170.3 241.4,171.8 241.7,171.4 242.1,170.8 242.4,169.7 242.8,171.5 243.1,169.9 243.5,173.7 243.8,170.8 244.2,169.6 244.5,173.1 244.8,174.3 245.2,172.0 245.5,170.5 245.9,168.8 246.2,170.3 246.6,172.9 246.9,172.4 247.3,168.4 247.6,171.8 248.0,168.6 248.3,172.5 248.6,174.3 249.0,171.1 249.3,173.3 249.7,170.7 250.0,171.2 250.4,172.9 250.7,173.2 251.1,170.9 251.4,173.8 251.8,171.6 252.1,166.5 252.4,172.7 252.8,172.8 253.1,166.8 253.5,171.5 253.8,173.2 254.2,172.3 254.5,170.7 254.9,170.5 255.2,172.1 255.6,171.6 255.9,173.3 256.3,172.7 256.6,174.9 256.9,171.4 257.3,173.2 257.6,173.3 258.0,172.5 258.3,173.8 258.7,169.9 259.0,172.0 259.4,175.8 259.7,173.7 260.1,172.8 260.4,174.6 260.7,172.6 261.1,171.0 261.4,173.2 261.8,174.4 262.1,172.4 262.5,175.6 262.8,173.5 263.2,173.0 263.5,172.1 263.9,176.6 264.2,177.1 264.5,171.3 264.9,173.2 265.2,172.1 265.6,175.3 265.9,173.3 266.3,175.0 266.6,173.3 267.0,171.9 267.3,176.2 267.7,173.9 268.0,173.4 268.3,172.3 268.7,174.3 269.0,175.8 269.4,173.4 269.7,177.7 270.1,176.7 270.4,174.3 270.8,175.1 271.1,173.5 271.5,175.1 271.8,172.4 272.1,172.6 272.5,178.2 272.8,174.7 273.2,175.8 273.5,173.2 273.9,175.2 274.2,174.3 274.6,171.1 274.9,174.1 275.3,174.6 275.6,174.4 275.9,176.5 276.3,175.7 276.6,172.5 277.0,173.6 277.3,174.5 277.7,175.0 278.0,174.9 278.4,172.7 278.7,175.3 279.1,174.4 279.4,171.4 279.7,171.3 280.1,172.6 280.4,173.7 280.8,172.9 281.1,173.5 281.5,173.0 281.8,174.4 282.2,176.1 282.5,176.1 282.9,172.7 283.2,176.8 283.5,177.8 283.9,174.4 284.2,178.5 284.6,175.8 284.9,173.9 285.3,178.2 285.6,175.6 286.0,175.1 286.3,179.0 286.7,178.4 287.0,175.6 287.3,175.0 287.7,176.1 288.0,176.6 288.4,177.7 288.7,172.3 289.1,176.9 289.4,176.8 289.8,175.9 290.1,176.8 290.5,177.7 290.8,174.2 291.1,174.5 291.5,176.4 291.8,176.3 292.2,176.6 292.5,177.3 292.9,180.1 293.2,176.2 293.6,177.3 293.9,178.3 294.3,176.4 294.6,176.3 294.9,177.5 295.3,177.7 295.6,175.8 296.0,177.9 296.3,177.7 296.7,177.6 297.0,178.6 297.4,174.9 297.7,178.4 298.1,176.4 298.4,177.0 298.7,176.7 299.1,175.6 299.4,177.9 299.8,180.3 300.1,177.6 300.5,179.2 300.8,176.1 301.2,176.2 301.5,177.3 301.9,176.4 302.2,176.2 302.5,178.5 302.9,178.2 303.2,178.7 303.6,177.6 303.9,177.1 304.3,176.8 304.6,179.1 305.0,177.4 305.3,179.3 305.7,179.1 306.0,180.9 306.3,177.1 306.7,179.8 307.0,176.0 307.4,179.8 307.7,178.9 308.1,179.8 308.4,175.0 308.8,180.3 309.1,177.5 309.5,177.4 309.8,175.4 310.1,176.6 310.5,179.7 310.8,180.4 311.2,178.6 311.5,176.8 311.9,178.8 312.2,175.5 312.6,177.4 312.9,176.8 313.3,179.5 313.6,175.4 313.9,177.2 314.3,178.4 314.6,178.8 315.0,175.8 315.3,177.0 315.7,174.5 316.0,179.1 316.4,177.1 316.7,177.2 317.1,176.9 317.4,180.2 317.7,177.7 318.1,176.4 318.4,179.4 318.8,178.8 319.1,177.8 319.5,176.5 319.8,177.9 320.2,178.7 320.5,177.7 320.9,177.8 321.2,179.4 321.5,176.7 321.9,179.1 322.2,177.4 322.6,176.1 322.9,179.3 323.3,179.2 323.6,176.8 324.0,176.9 324.3,179.8 324.7,178.3 325.0,175.3 325.4,176.8 325.7,178.7 326.0,177.3 326.4,179.6 326.7,177.5 327.1,179.0 327.4,178.3 327.8,178.7 328.1,178.4 328.5,178.3 328.8,176.4 329.2,180.1 329.5,177.5 329.8,176.6 330.2,180.6 330.5,177.3 330.9,180.5 331.2,175.0 331.6,178.8 331.9,178.3 332.3,177.1 332.6,180.0 333.0,176.8 333.3,178.5 333.6,177.6 334.0,179.6 334.3,176.7 334.7,178.6 335.0,178.5 335.4,175.2 335.7,183.1 336.1,178.7 336.4,179.1 336.8,179.6 337.1,177.8 337.4,177.6 337.8,175.0 338.1,177.6 338.5,178.3 338.8,179.3 339.2,178.6 339.5,178.8 339.9,178.7 340.2,179.0 340.6,179.0 340.9,178.7 341.2,179.8 341.6,176.2 341.9,177.9 342.3,179.6 342.6,178.4 343.0,177.2 343.3,178.2 343.7,178.3 344.0,178.8 344.4,181.7 344.7,180.8 345.0,178.0 345.4,179.0 345.7,181.7 346.1,178.1 346.4,179.9 346.8,178.3 347.1,177.3 347.5,178.5 347.8,178.9 348.2,180.7 348.5,177.7 348.8,180.9 349.2,178.6 349.5,178.7 349.9,177.4 350.2,175.8 350.6,179.0 350.9,177.8 351.3,179.0 351.6,178.5 352.0,175.8 352.3,178.1 352.6,178.8 353.0,178.9 353.3,179.1 353.7,178.9 354.0,177.7 354.4,178.9 354.7,178.2 355.1,179.0 355.4,179.1 355.8,179.0 356.1,182.0 356.4,177.5 356.8,176.4 357.1,179.9 357.5,178.3 357.8,179.5 358.2,178.9 358.5,179.7 358.9,178.6 359.2,178.5 359.6,182.2 359.9,181.2 360.2,177.8 360.6,178.8 360.9,181.2 361.3,179.6 361.6,177.8 362.0,180.1 362.3,180.7 362.7,179.1 363.0,179.9 363.4,178.8 363.7,181.5 364.0,182.7 364.4,179.9 364.7,178.8 365.1,180.9 365.4,180.0 365.8,179.9 366.1,178.4 366.5,178.8 366.8,178.3 367.2,178.7 367.5,179.6 367.8,179.0 368.2,182.6 368.5,179.7 368.9,179.3 369.2,180.0 369.6,181.4 369.9,181.7 370.3,178.4 370.6,178.6 371.0,178.6 371.3,179.7 371.6,180.1 372.0,182.4 372.3,182.3 372.7,178.9 373.0,176.6 373.4,177.9 373.7,178.8 374.1,180.0 374.4,181.0 374.8,178.3 375.1,181.4 375.4,181.5 375.8,176.7 376.1,178.1 376.5,182.7 376.8,179.7 377.2,180.1 377.5,185.7 377.9,180.6 378.2,180.0 378.6,176.9 378.9,180.1 379.2,180.8 379.6,179.0 379.9,182.5 380.3,178.9 380.6,182.3 381.0,180.9 381.3,179.5 381.7,181.3 382.0,182.6 382.4,181.5 382.7,178.4 383.0,181.6 383.4,180.0 383.7,181.6 384.1,181.7 384.4,180.3 384.8,181.9 385.1,179.5 385.5,182.2 385.8,179.9 386.2,181.6 386.5,180.9 386.8,179.7 387.2,182.6 387.5,178.4 387.9,182.0 388.2,180.1 388.6,180.6 388.9,180.7 389.3,179.6 389.6,181.3 390.0,179.0 390.3,176.6 390.6,180.7 391.0,178.6 391.3,182.3 391.7,180.6 392.0,180.8 392.4,179.0 392.7,182.1 393.1,179.7 393.4,179.1 393.8,178.7 394.1,179.7 394.5,182.5 394.8,181.8 395.1,180.9 395.5,180.1 395.8,180.6 396.2,182.9 396.5,181.5 396.9,181.3 397.2,183.2 397.6,180.7 397.9,181.2 398.3,178.6 398.6,180.0 398.9,180.2 399.3,180.8 399.6,181.5 400.0,180.0 400.3,181.5 400.7,182.3 401.0,180.2 401.4,181.1 401.7,181.7 402.1,179.0 402.4,182.7 402.7,180.3 403.1,181.2 403.4,178.7 403.8,181.8 404.1,181.8 404.5,181.0 404.8,179.9 405.2,181.8 405.5,179.0 405.9,182.3 406.2,182.3 406.5,182.3 406.9,183.0 407.2,181.0 407.6,181.7 407.9,182.3 408.3,182.1 408.6,180.0 409.0,181.0 409.3,180.6 409.7,181.7 410.0,181.6 410.3,182.8 410.7,182.5 411.0,183.1 411.4,180.8 411.7,183.5 412.1,182.6 412.4,186.0 412.8,182.3 413.1,178.3 413.5,184.0 413.8,179.9 414.1,181.5 414.5,181.1 414.8,181.2 415.2,183.9 415.5,182.7 415.9,182.2 416.2,181.0 416.6,181.2 416.9,181.8 417.3,182.1 417.6,181.4 417.9,179.0 418.3,182.1 418.6,181.6 419.0,180.4 419.3,182.4 419.7,182.7 420.0,181.2 420.4,185.3 420.7,180.2 421.1,181.5 421.4,181.9 421.7,181.8 422.1,183.3 422.4,180.6 422.8,180.2 423.1,184.2 423.5,181.5 423.8,182.3 424.2,182.6 424.5,183.0 424.9,182.4 425.2,180.2 425.5,181.2 425.9,181.7 426.2,182.5 426.6,183.8 426.9,180.2 427.3,182.1 427.6,181.8 428.0,182.0 428.3,178.6 428.7,179.8 429.0,181.1 429.3,180.3 429.7,180.8 430.0,181.0 430.4,182.3 430.7,179.5 431.1,179.5 431.4,180.0 431.8,182.5 432.1,180.0 432.5,183.0 432.8,182.4 433.1,181.7 433.5,179.7 433.8,181.4 434.2,181.3 434.5,180.8 434.9,179.5 435.2,180.4 435.6,180.1 435.9,180.5 436.3,181.7 436.6,180.4 436.9,179.9 437.3,183.8 437.6,182.3 438.0,184.4 438.3,182.8 438.7,180.7 439.0,182.2 439.4,181.8 439.7,182.0 440.1,182.2 440.4,181.4 440.7,182.8 441.1,182.8 441.4,178.6 441.8,182.1 442.1,182.2 442.5,180.8 442.8,183.6 443.2,182.0 443.5,183.5 443.9,183.7 444.2,183.4 444.5,180.9 444.9,181.5 445.2,181.4 445.6,179.9 445.9,181.1 446.3,182.5 446.6,179.3 447.0,182.3 447.3,179.8 447.7,179.6 448.0,181.9 448.3,179.8 448.7,182.8 449.0,182.6 449.4,182.0 449.7,180.6 450.1,181.4 450.4,183.2 450.8,183.8 451.1,180.4 451.5,178.5 451.8,181.1 452.1,181.6 452.5,181.9 452.8,182.5 453.2,180.0 453.5,180.0 453.9,179.8 454.2,182.3 454.6,181.1 454.9,182.5 455.3,182.2 455.6,182.4 455.9,181.3 456.3,182.0 456.6,180.8 457.0,182.0 457.3,181.8 457.7,181.8 458.0,182.0 458.4,182.0 458.7,181.3 459.1,181.2 459.4,180.9 459.7,179.1 460.1,182.6 460.4,183.5 460.8,179.2 461.1,184.2 461.5,183.3 461.8,182.2 462.2,181.5 462.5,181.6 462.9,180.6 463.2,180.7 463.6,181.2 463.9,182.1 464.2,178.9 464.6,180.7 464.9,180.0 465.3,180.5 465.6,179.7 466.0,180.6 466.3,181.5 466.7,180.1 467.0,182.5 467.4,181.9 467.7,181.0 468.0,183.0 468.4,180.2 468.7,181.0 469.1,179.6 469.4,179.0 469.8,183.8 470.1,180.7 470.5,179.7 470.8,181.2 471.2,181.6 471.5,179.6 471.8,180.8 472.2,183.2 472.5,182.3 472.9,180.8 473.2,179.1 473.6,183.2 473.9,182.9 474.3,180.6 474.6,180.7 475.0,182.2 475.3,182.6 475.6,182.7 476.0,181.4 476.3,180.7 476.7,180.9 477.0,180.3 477.4,181.4 477.7,182.9 478.1,180.1 478.4,179.4 478.8,180.5 479.1,181.8 479.4,179.1 479.8,180.6 480.1,179.5 480.5,179.0 480.8,182.5 481.2,180.7 481.5,179.7 481.9,180.5 482.2,180.2 482.6,180.9 482.9,181.9 483.2,179.4 483.6,181.8 483.9,179.8 484.3,180.7 484.6,178.6 485.0,178.6 485.3,180.6 485.7,180.3 486.0,179.7 486.4,180.4 486.7,178.6 487.0,181.6 487.4,182.5 487.7,180.0 488.1,180.7 488.4,179.4 488.8,181.0 489.1,179.7 489.5,179.2 489.8,179.8 490.2,178.8 490.5,179.5 490.8,180.3 491.2,178.3 491.5,180.4 491.9,179.0 492.2,180.1 492.6,177.9 492.9,177.7 493.3,180.1 493.6,178.6 494.0,179.8 494.3,181.6 494.6,180.5 495.0,178.6 495.3,181.7 495.7,177.8 496.0,176.1 496.4,182.4 496.7,178.1 497.1,180.1 497.4,177.7 497.8,179.9 498.1,178.8 498.4,182.4 498.8,177.9 499.1,180.4 499.5,178.7 499.8,179.5 500.2,178.4 500.5,178.1 500.9,175.7 501.2,178.5 501.6,175.0 501.9,177.5 502.2,178.5 502.6,177.1 502.9,178.1 503.3,178.9 503.6,178.3 504.0,176.8 504.3,176.6 504.7,177.8 505.0,176.6 505.4,175.8 505.7,174.8 506.0,175.7 506.4,175.6 506.7,174.4 507.1,175.9 507.4,175.6 507.8,173.1 508.1,173.2 508.5,175.8 508.8,176.0 509.2,176.2 509.5,174.9 509.8,174.5 510.2,173.2 510.5,174.9 510.9,172.3 511.2,171.4 511.6,174.3 511.9,174.1 512.3,176.4 512.6,173.1 513.0,173.4 513.3,173.4 513.6,173.2 514.0,175.8 514.3,175.6 514.7,176.5 515.0,174.4 515.4,175.6 515.7,177.2 516.1,175.0 516.4,174.3 516.8,172.8 517.1,176.7 517.4,176.1 517.8,173.8 518.1,176.9 518.5,178.7 518.8,179.7 519.2,176.4 519.5,178.7 519.9,178.3 520.2,179.2 520.6,178.5 520.9,175.8 521.2,180.8 521.6,179.8 521.9,178.8 522.3,179.2 522.6,179.4 523.0,180.4 523.3,180.6 523.7,177.2 524.0,179.5 524.4,179.4 524.7,180.8 525.0,179.6 525.4,180.3 525.7,178.0 526.1,179.9 526.4,179.8 526.8,182.2 527.1,182.2 527.5,183.0 527.8,180.0 528.2,181.4 528.5,182.0 528.8,183.6 529.2,182.6 529.5,183.3 529.9,182.7 530.2,184.6 530.6,182.9 530.9,182.4 531.3,183.1 531.6,184.0 532.0,184.1 532.3,181.1 532.7,182.4 533.0,181.6 533.3,182.2 533.7,181.0 534.0,185.7 534.4,182.9 534.7,181.9 535.1,182.1 535.4,183.5 535.8,181.8 536.1,182.7 536.5,183.7 536.8,184.0 537.1,183.2 537.5,182.4 537.8,186.9 538.2,182.5 538.5,183.1 538.9,182.5 539.2,185.9 539.6,182.1 539.9,183.4 540.3,180.4 540.6,182.5 540.9,184.7 541.3,182.8 541.6,181.7 542.0,182.1 542.3,184.2 542.7,184.8 543.0,183.6 543.4,182.1 543.7,183.7 544.1,183.4 544.4,183.6 544.7,185.1 545.1,183.3 545.4,181.9 545.8,186.7 546.1,181.6 546.5,183.6 546.8,184.1 547.2,182.0 547.5,186.8 547.9,185.5 548.2,183.2 548.5,182.5 548.9,184.7 549.2,186.8 549.6,185.8 549.9,183.6 550.3,185.1 550.6,184.3 551.0,184.1 551.3,184.9 551.7,183.8 552.0,183.6 552.3,185.3 552.7,183.8 553.0,184.2 553.4,184.2 553.7,183.3 554.1,185.5 554.4,184.1 554.8,182.4 555.1,184.0 555.5,181.5 555.8,185.1 556.1,181.5 556.5,184.0 556.8,183.0 557.2,184.5 557.5,184.2 557.9,184.2 558.2,185.9 558.6,182.4 558.9,184.0 559.3,182.0 559.6,185.6 559.9,185.4 560.3,186.0 560.6,185.3 561.0,184.7 561.3,183.0 561.7,182.5 562.0,185.7 562.4,184.7 562.7,182.2 563.1,185.4 563.4,183.2 563.7,183.8 564.1,184.7 564.4,182.9 564.8,185.6 565.1,185.4 565.5,183.4 565.8,182.5 566.2,184.6 566.5,185.0 566.9,187.5 567.2,183.0 567.5,185.4 567.9,184.1 568.2,184.5 568.6,182.6 568.9,184.2 569.3,186.3 569.6,184.2 570.0,181.9 570.3,184.3 570.7,182.7 571.0,183.6 571.3,184.5 571.7,182.7 572.0,183.7 572.4,186.6 572.7,185.5 573.1,183.3 573.4,181.1 573.8,183.6 574.1,183.5 574.5,183.3 574.8,183.8 575.1,182.8 575.5,185.7 575.8,183.4 576.2,184.2 576.5,186.5 576.9,183.7 577.2,182.7 577.6,182.3 577.9,184.6 578.3,184.0 578.6,186.2 578.9,182.2 579.3,183.2 579.6,183.7 580.0,184.6 580.3,183.0 580.7,182.0 581.0,186.1 581.4,181.7 581.7,182.9 582.1,181.2 582.4,185.6 582.7,181.6 583.1,185.2 583.4,185.6 583.8,181.9 584.1,186.2 584.5,184.5 584.8,182.7 585.2,186.9 585.5,184.7 585.9,185.1 586.2,184.9 586.5,183.8 586.9,184.3 587.2,184.3 587.6,183.2 587.9,182.5 588.3,185.0 588.6,183.7 589.0,182.6 589.3,183.6 589.7,183.3 590.0,186.0 590.3,184.7 590.7,182.0 591.0,184.1 591.4,183.6 591.7,183.3 592.1,185.1 592.4,183.7 592.8,182.4 593.1,184.3 593.5,183.0 593.8,184.4 594.1,183.0 594.5,186.7 594.8,186.3 595.2,183.9 595.5,186.3 595.9,183.5 596.2,184.1 596.6,186.5 596.9,183.6 597.3,185.2 597.6,184.3 597.9,186.2 598.3,184.2 598.6,182.6 599.0,185.0 599.3,184.3 599.7,184.4 600.0,184.9 600.4,185.6 600.7,183.3 601.1,182.6 601.4,183.2 601.8,182.5 602.1,182.9 602.4,186.5 602.8,183.5 603.1,183.7 603.5,184.5 603.8,183.8 604.2,182.6 604.5,184.4 604.9,183.6 605.2,186.8 605.6,185.8 605.9,183.4 606.2,185.1 606.6,183.2 606.9,185.0 607.3,180.9 607.6,183.0 608.0,184.7 608.3,184.6 608.7,184.5 609.0,184.6 609.4,185.8 609.7,186.8 610.0,183.5 610.4,185.9 610.7,185.1 611.1,183.6 611.4,184.2 611.8,186.4 612.1,184.4 612.5,183.7 612.8,183.8 613.2,183.5 613.5,181.5 613.8,182.0 614.2,183.8 614.5,184.3 614.9,186.7 615.2,184.3 615.6,185.4 615.9,183.6 616.3,184.0 616.6,186.2 617.0,182.9 617.3,184.1 617.6,186.8 618.0,182.9 618.3,181.9 618.7,183.4 619.0,184.8 619.4,184.5 619.7,184.6 620.1,186.7 620.4,183.9 620.8,185.1 621.1,182.9 621.4,183.2 621.8,184.6 622.1,184.0 622.5,184.1 622.8,182.6 623.2,184.6 623.5,185.1 623.9,183.7 624.2,185.4 624.6,185.8 624.9,179.5 625.2,184.7 625.6,185.6 625.9,185.5 626.3,183.3 626.6,182.3 627.0,183.1 627.3,184.4 627.7,185.6 628.0,183.9 628.4,185.0 628.7,185.0 629.0,182.9 629.4,184.9 629.7,184.7 630.1,184.3 630.4,184.7 630.8,183.4 631.1,185.4 631.5,183.1 631.8,185.7 632.2,184.9 632.5,184.0 632.8,183.3 633.2,184.7 633.5,183.1 633.9,183.2 634.2,182.1 634.6,183.7 634.9,185.1 635.3,183.4 635.6,183.9 636.0,182.6 636.3,183.6 636.6,183.5 637.0,185.8 637.3,184.9 637.7,183.3 638.0,185.1 638.4,185.4 638.7,182.5 639.1,184.6 639.4,184.7 639.8,184.2 640.1,182.7 640.4,184.8 640.8,183.2 641.1,184.2 641.5,184.4 641.8,184.0 642.2,184.6 642.5,184.4 642.9,185.4 643.2,183.5 643.6,183.9 643.9,184.4 644.2,187.2 644.6,187.0 644.9,182.2 645.3,184.8 645.6,188.2 646.0,184.2 646.3,186.0 646.7,185.1 647.0,182.2 647.4,183.9 647.7,183.4 648.0,185.0 648.4,186.9 648.7,182.3 649.1,183.0 649.4,184.1 649.8,183.9 650.1,185.1 650.5,184.8 650.8,183.3 651.2,183.2 651.5,185.3 651.8,185.8 652.2,183.7 652.5,185.3 652.9,184.6 653.2,184.3 653.6,183.3 653.9,183.4 654.3,185.2 654.6,185.6 655.0,184.9 655.3,183.9 655.6,182.2 656.0,184.0 656.3,182.6 656.7,183.5 657.0,186.1 657.4,181.5 657.7,182.7 658.1,184.5 658.4,182.9 658.8,183.7 659.1,185.5 659.4,184.7 659.8,185.7 660.1,185.0 660.5,182.9 660.8,185.3 661.2,183.5 661.5,184.0 661.9,185.8 662.2,184.1 662.6,182.3 662.9,184.7 663.2,182.0 663.6,181.2 663.9,183.9 664.3,183.3 664.6,184.9 665.0,184.0 665.3,185.5 665.7,186.1 666.0,181.9 666.4,185.4 666.7,184.0 667.0,185.2 667.4,183.6 667.7,183.4 668.1,181.5 668.4,184.0 668.8,181.8 669.1,183.1 669.5,186.3 669.8,185.6 670.2,184.3 670.5,187.1 670.9,185.3 671.2,184.1 671.5,182.8 671.9,185.9 672.2,186.0 672.6,188.8 672.9,184.7 673.3,183.0 673.6,184.7 674.0,182.2 674.3,183.7 674.7,184.8 675.0,184.0 675.3,183.6 675.7,184.0 676.0,185.7 676.4,183.4 676.7,183.2 677.1,183.5 677.4,183.3 677.8,184.6 678.1,180.6 678.5,183.7 678.8,183.4 679.1,184.3 679.5,185.2 679.8,184.6 680.2,184.0 680.5,183.0 680.9,184.7 681.2,184.5 681.6,183.3 681.9,183.7 682.3,184.2 682.6,183.1 682.9,182.5 683.3,185.6 683.6,183.3 684.0,183.5 684.3,185.8 684.7,185.1 685.0,184.2 685.4,183.0 685.7,182.5 686.1,183.7 686.4,181.4 686.7,183.8 687.1,184.3 687.4,183.2 687.8,182.2 688.1,186.5 688.5,182.8 688.8,183.2 689.2,184.6 689.5,185.6 689.9,184.6 690.2,183.3 690.5,184.4 690.9,186.1 691.2,184.0 691.6,184.4 691.9,185.3 692.3,183.3 692.6,184.3 693.0,182.8 693.3,183.8 693.7,182.4 694.0,183.5 694.3,184.4 694.7,184.1 695.0,184.4 695.4,183.7 695.7,182.5 696.1,182.5 696.4,185.0 696.8,184.8 697.1,183.7 697.5,184.0 697.8,187.1 698.1,186.5 698.5,184.4 698.8,183.3 699.2,185.4 699.5,184.4 699.9,183.7 700.2,183.4 700.6,186.0 700.9,185.2 701.3,185.1 701.6,184.2 701.9,184.9 702.3,184.7 702.6,180.7 703.0,185.0 703.3,185.1 703.7,183.5 704.0,184.8 704.4,182.9 704.7,183.1 705.1,180.5 705.4,187.2 705.7,184.9 706.1,184.4 706.4,182.7 706.8,182.8 707.1,183.9 707.5,184.7 707.8,184.3 708.2,183.1 708.5,185.7 708.9,185.6 709.2,183.9 709.5,187.6 709.9,185.3 710.2,182.8 710.6,183.4 710.9,182.1 711.3,184.3 711.6,182.6 712.0,186.1 712.3,185.3 712.7,185.4 713.0,185.3 713.3,182.4 713.7,181.4 714.0,183.5 714.4,184.8 714.7,184.0 715.1,184.9 715.4,183.2 715.8,183.7 716.1,181.0 716.5,183.8 716.8,182.9 717.1,186.2 717.5,184.4 717.8,185.4 718.2,181.6 718.5,181.9 718.9,182.1 719.2,183.2 719.6,183.4 719.9,182.4 720.3,184.0 720.6,181.8 720.9,183.4 721.3,184.1 721.6,183.3 722.0,182.4 722.3,184.6 722.7,183.1 723.0,183.4 723.4,183.7 723.7,183.4 724.1,184.0 724.4,181.3 724.7,183.8 725.1,181.7 725.4,182.9 725.8,186.6 726.1,184.6 726.5,184.2 726.8,184.7 727.2,183.0 727.5,183.2 727.9,183.0 728.2,185.0 728.5,181.0 728.9,184.6 729.2,182.3 729.6,183.7 729.9,183.2 730.3,182.3 730.6,182.3 731.0,181.3 731.3,184.8 731.7,184.0 732.0,183.4 732.3,183.3 732.7,185.4 733.0,182.5 733.4,182.2 733.7,183.4 734.1,183.5 734.4,183.7 734.8,184.1 735.1,181.3 735.5,183.7 735.8,185.1 736.1,186.2 736.5,184.7 736.8,182.0 737.2,183.8 737.5,183.1 737.9,186.6 738.2,181.5 738.6,183.7 738.9,186.2 739.3,181.4 739.6,183.3 740.0,181.4 740.3,183.9 740.6,184.1 741.0,183.1 741.3,182.5 741.7,185.0 742.0,181.4 742.4,184.3 742.7,182.5 743.1,184.3 743.4,184.1 743.8,181.8 744.1,183.7 744.4,181.8 744.8,186.2 745.1,183.0 745.5,184.2 745.8,184.5 746.2,185.9 746.5,181.7 746.9,184.3 747.2,182.6 747.6,183.4 747.9,184.1 748.2,184.7 748.6,182.9 748.9,182.8 749.3,181.8 749.6,186.3 750.0,182.5 750.3,188.5 750.7,183.2 751.0,184.7 751.4,182.7 751.7,183.4 752.0,184.0 752.4,183.8 752.7,183.3 753.1,183.1 753.4,183.7 753.8,183.3 754.1,185.0 754.5,184.5 754.8,181.9 755.2,183.6 755.5,183.6 755.8,184.1 756.2,182.1 756.5,184.1 756.9,183.2 757.2,183.4 757.6,183.4 757.9,183.4 758.3,184.9 758.6,183.4 759.0,183.9 759.3,184.0 759.6,184.9 760.0,181.2 760.3,181.6 760.7,183.7 761.0,184.5 761.4,181.8 761.7,184.4 762.1,182.6 762.4,183.9 762.8,182.8 763.1,183.2 763.4,184.4 763.8,185.9 764.1,183.0 764.5,181.2 764.8,183.9 765.2,184.2 765.5,183.3 765.9,184.2 766.2,182.6 766.6,183.0 766.9,184.4 767.2,183.1 767.6,185.3 767.9,184.7 768.3,181.9 768.6,182.1 769.0,183.9 769.3,184.1 769.7,181.7 770.0,182.1 770.4,183.7 770.7,183.0 771.0,183.2 771.4,185.1 771.7,184.8 772.1,183.9 772.4,183.4 772.8,182.9 773.1,183.8 773.5,180.0 773.8,182.5 774.2,183.3 774.5,182.0 774.8,184.1 775.2,180.1 775.5,184.4 775.9,182.4 776.2,182.1 776.6,184.3 776.9,182.1 777.3,184.2 777.6,183.4 778.0,184.3 778.3,184.8 778.6,183.9 779.0,182.9 779.3,184.4 779.7,183.9 780.0,182.9 780.4,185.8 780.7,183.2 781.1,182.9 781.4,185.1 781.8,186.0 782.1,184.5 782.4,183.8 782.8,182.5 783.1,184.7 783.5,179.9 783.8,183.5 784.2,183.9 784.5,184.6 784.9,181.4 785.2,183.9 785.6,180.5 785.9,186.2 786.2,182.2 786.6,182.2 786.9,179.9 787.3,183.4 787.6,182.1 788.0,183.4 788.3,181.5 788.7,183.5 789.0,181.4 789.4,182.8 789.7,181.5 790.0,186.7 790.4,183.6 790.7,181.0 791.1,182.7 791.4,180.9 791.8,181.3 792.1,183.0 792.5,184.1 792.8,183.1 793.2,182.3 793.5,183.4 793.8,182.8 794.2,183.3 794.5,184.0 794.9,183.7 795.2,180.9 795.6,180.7 795.9,183.3 796.3,181.5 796.6,181.7 797.0,180.8 797.3,179.3 797.6,182.8 798.0,181.8 798.3,183.7 798.7,181.4 799.0,182.4 799.4,183.8 799.7,181.7 800.1,182.0 800.4,181.6 800.8,183.3 801.1,181.3 801.4,183.7 801.8,179.8 802.1,181.0 802.5,183.6 802.8,183.6 803.2,182.6 803.5,179.0 803.9,182.1 804.2,180.4 804.6,181.1 804.9,183.3 805.2,182.6 805.6,182.3 805.9,180.0 806.3,180.2 806.6,180.8 807.0,181.5 807.3,182.3 807.7,185.5 808.0,181.9 808.4,180.3 808.7,182.9 809.1,180.8 809.4,180.1 809.7,179.2 810.1,180.1 810.4,180.3 810.8,180.2 811.1,179.8 811.5,179.9 811.8,175.6 812.2,179.4 812.5,177.1 812.9,178.6 813.2,176.6 813.5,178.5 813.9,175.4 814.2,178.1 814.6,176.2 814.9,177.6 815.3,177.4 815.6,175.1 816.0,173.8 816.3,175.1 816.7,178.2 817.0,175.2 817.3,176.2 817.7,177.1 818.0,175.0 818.4,176.1 818.7,178.2 819.1,174.2 819.4,177.7 819.8,178.1 820.1,174.0 820.5,178.5 820.8,175.0 821.1,177.9 821.5,178.0 821.8,177.4 822.2,178.9 822.5,179.2 822.9,177.2 823.2,177.2 823.6,174.6 823.9,177.5 824.3,179.1 824.6,177.3 824.9,177.5 825.3,180.8 825.6,177.2 826.0,175.9 826.3,178.3 826.7,179.1 827.0,177.0 827.4,174.2 827.7,176.6 828.1,179.0 828.4,177.3 828.7,181.1 829.1,176.2 829.4,177.9 829.8,177.1 830.1,179.7 830.5,179.4 830.8,177.4 831.2,179.3 831.5,179.4 831.9,180.3 832.2,179.3 832.5,179.2 832.9,176.3 833.2,179.3 833.6,176.2 833.9,180.6 834.3,178.2 834.6,177.4 835.0,178.2 835.3,179.0 835.7,179.4 836.0,178.7 836.3,180.7 836.7,176.6 837.0,178.4 837.4,175.0 837.7,179.1 838.1,179.0 838.4,179.0 838.8,180.3 839.1,179.1 839.5,180.8 839.8,174.7 840.1,178.1 840.5,179.8 840.8,177.3 841.2,177.1 841.5,181.6 841.9,180.8 842.2,181.6 842.6,178.8 842.9,179.8 843.3,179.5 843.6,178.5 843.9,180.8 844.3,179.4 844.6,179.4 845.0,179.1 845.3,178.0 845.7,176.7 846.0,180.9 846.4,177.5 846.7,179.6 847.1,179.8 847.4,181.6 847.7,178.8 848.1,180.7 848.4,181.0 848.8,182.9 849.1,181.3 849.5,180.9 849.8,178.0 850.2,179.1 850.5,174.7 850.9,173.0 851.2,174.7 851.5,176.1 851.9,174.1 852.2,174.5 852.6,175.4 852.9,170.3 853.3,168.5 853.6,170.5 854.0,167.9 854.3,166.2 854.7,168.8 855.0,165.1 855.3,165.3 855.7,166.4 856.0,168.0 856.4,169.2 856.7,168.9 857.1,168.1 857.4,170.8 857.8,175.6 858.1,176.4 858.5,176.4 858.8,176.8 859.1,176.1 859.5,175.3 859.8,177.3 860.2,179.6 860.5,177.9 860.9,180.9 861.2,177.2 861.6,178.9 861.9,178.8 862.3,180.9 862.6,180.5 862.9,177.6 863.3,175.6 863.6,177.3 864.0,181.1 864.3,180.4 864.7,182.5 865.0,179.1 865.4,181.4 865.7,179.4 866.1,179.9 866.4,179.1 866.7,181.8 867.1,179.9 867.4,180.6 867.8,180.1 868.1,181.0 868.5,180.9 868.8,180.4 869.2,181.5 869.5,178.8 869.9,179.9 870.2,178.5 870.5,179.7 870.9,178.5 871.2,178.2 871.6,177.9 871.9,179.5 872.3,180.1 872.6,176.7 873.0,178.9 873.3,180.5 873.7,179.1 874.0,181.2 874.3,179.2 874.7,179.6 875.0,181.3 875.4,178.5 875.7,179.0 876.1,181.7 876.4,180.9 876.8,178.5 877.1,178.7 877.5,181.6 877.8,180.1 878.2,180.6 878.5,183.0 878.8,179.4 879.2,180.9 879.5,182.2 879.9,180.6 880.2,179.4 880.6,180.4 880.9,180.3 881.3,179.0 881.6,182.0 882.0,178.7 882.3,180.2 882.6,177.8 883.0,180.7 883.3,180.3 883.7,179.5 884.0,181.2 884.4,181.5 884.7,181.1 885.1,177.4 885.4,182.0 885.8,179.4 886.1,179.0 886.4,181.2 886.8,182.3 887.1,182.8 887.5,180.6 887.8,179.0 888.2,181.0 888.5,180.6 888.9,178.9 889.2,178.1 889.6,181.2 889.9,180.0 890.2,177.3 890.6,181.8 890.9,179.0 891.3,181.4 891.6,177.7 892.0,179.4 892.3,176.3 892.7,182.4 893.0,180.8 893.4,180.0 893.7,181.1 894.0,181.3 894.4,180.7 894.7,178.7 895.1,181.7 895.4,179.9 895.8,181.1 896.1,180.0 896.5,180.7 896.8,181.0 897.2,181.3 897.5,182.1 897.8,182.6 898.2,181.3 898.5,182.3 898.9,180.2 899.2,181.2 899.6,179.1 899.9,180.5 900.3,181.4 900.6,178.2 901.0,179.1 901.3,178.6 901.6,180.8 902.0,181.9 902.3,182.7 902.7,181.7 903.0,181.2 903.4,180.7 903.7,179.7 904.1,180.2 904.4,184.1 904.8,180.1 905.1,181.3 905.4,183.3 905.8,181.6 906.1,180.5 906.5,181.7 906.8,181.2 907.2,180.7 907.5,182.0 907.9,180.3 908.2,181.9 908.6,180.5 908.9,179.9 909.2,178.0 909.6,179.0 909.9,182.2 910.3,182.4 910.6,182.5 911.0,184.4 911.3,180.2 911.7,181.6 912.0,181.7 912.4,181.4 912.7,179.1 913.0,178.3 913.4,183.5 913.7,180.5 914.1,179.9 914.4,182.4 914.8,179.8 915.1,179.9 915.5,181.8 915.8,180.4 916.2,181.9 916.5,182.8 916.8,179.7 917.2,180.7 917.5,181.2 917.9,177.5 918.2,182.8 918.6,179.3 918.9,182.4 919.3,179.2 919.6,182.5 920.0,180.7 920.3,180.0 920.6,182.9 921.0,181.0 921.3,182.0 921.7,180.4 922.0,182.1 922.4,182.7 922.7,182.1 923.1,182.2 923.4,180.7 923.8,182.6 924.1,183.6 924.4,180.4 924.8,180.7 925.1,179.8 925.5,179.0 925.8,181.4 926.2,178.9 926.5,181.3 926.9,181.7 927.2,181.8 927.6,181.5 927.9,182.1 928.2,179.5 928.6,179.4 928.9,182.0 929.3,182.6 929.6,180.6 930.0,179.6 930.3,181.8 930.7,181.9 931.0,181.0 931.4,181.7 931.7,183.6 932.0,177.3 932.4,180.7 932.7,180.6 933.1,184.9 933.4,182.0 933.8,181.3 934.1,182.7 934.5,181.5 934.8,181.0 935.2,179.1 935.5,182.6 935.8,181.0 936.2,181.0 936.5,179.7 936.9,181.8 937.2,181.1 937.6,182.4 937.9,179.8 938.3,181.6 938.6,178.6 939.0,182.2 939.3,183.3 939.6,180.0 940.0,181.9 940.3,181.7 940.7,180.7 941.0,184.0 941.4,182.7 941.7,179.9 942.1,180.7 942.4,181.5 942.8,181.0 943.1,181.9 943.4,179.9 943.8,181.5 944.1,179.4 944.5,181.8 944.8,180.1 945.2,181.2 945.5,179.4 945.9,182.4 946.2,180.4 946.6,180.3 946.9,183.1 947.3,180.7 947.6,179.0 947.9,180.1 948.3,180.3 948.6,181.6 949.0,181.2 949.3,181.9 949.7,178.5 950.0,181.1 950.4,182.1 950.7,178.8 951.1,181.6 951.4,180.8 951.7,179.9 952.1,183.1 952.4,178.8 952.8,181.0 953.1,182.3 953.5,183.5 953.8,182.7 954.2,179.2 954.5,178.5 954.9,178.0 955.2,182.0 955.5,178.5 955.9,179.6 956.2,183.7 956.6,179.5 956.9,180.4 957.3,179.9 957.6,178.4 958.0,179.7 958.3,180.8 958.7,182.7 959.0,181.0 959.3,179.6 959.7,180.3 960.0,179.7 960.4,180.8 960.7,180.8 961.1,183.0 961.4,179.3 961.8,180.9 962.1,182.0 962.5,177.2 962.8,184.8 963.1,180.2 963.5,180.3 963.8,181.5 964.2,181.1 964.5,182.3 964.9,181.8 965.2,181.1 965.6,181.5 965.9,181.2 966.3,180.6 966.6,179.1 966.9,179.9 967.3,179.4 967.6,179.8 968.0,182.1 968.3,182.3 968.7,180.1 969.0,180.8 969.4,177.8 969.7,181.3 970.1,181.5 970.4,179.5 970.7,180.6 971.1,178.1 971.4,179.0 971.8,180.8 972.1,183.6 972.5,181.0 972.8,181.2 973.2,180.8 973.5,182.8 973.9,182.1 974.2,180.3 974.5,177.8 974.9,180.1 975.2,176.1 975.6,182.3 975.9,179.8 976.3,180.9 976.6,182.0 977.0,181.8 977.3,178.3 977.7,178.1 978.0,179.7 978.3,178.4 978.7,181.5 979.0,180.6 979.4,180.3 979.7,179.6 980.1,181.7 980.4,180.5 980.8,181.7 981.1,178.4 981.5,178.6 981.8,181.1 982.1,181.4 982.5,179.9 982.8,179.6 983.2,179.3 983.5,182.7 983.9,181.5 984.2,180.3 984.6,181.7 984.9,180.4 985.3,180.2 985.6,180.2 985.9,179.4 986.3,177.8 986.6,180.8 987.0,180.1 987.3,179.3 987.7,179.6 988.0,178.4 988.4,180.2 988.7,180.1 989.1,178.9 989.4,178.5 989.7,179.9 990.1,179.3 990.4,179.2 990.8,178.9 991.1,179.0 991.5,175.8 991.8,179.1 992.2,180.1 992.5,176.6 992.9,180.7 993.2,178.0 993.5,181.6 993.9,180.4 994.2,177.8 994.6,180.5 994.9,178.8 995.3,181.5 995.6,178.7 996.0,180.9 996.3,179.6 996.7,179.0 997.0,180.1 997.3,178.1 997.7,180.7 998.0,181.3 998.4,179.8 998.7,179.8 999.1,180.6 999.4,180.8 999.8,179.8 1000.1,182.1 1000.5,177.2 1000.8,178.3 1001.1,178.3 1001.5,181.8 1001.8,181.0 1002.2,178.0 1002.5,176.2 1002.9,176.4 1003.2,179.3 1003.6,174.0 1003.9,178.1 1004.3,178.1 1004.6,178.4 1004.9,180.8 1005.3,178.7 1005.6,177.8 1006.0,176.6 1006.3,178.0 1006.7,178.0 1007.0,179.6 1007.4,175.3 1007.7,176.1 1008.1,176.0 1008.4,176.5 1008.7,174.1 1009.1,175.9 1009.4,177.6 1009.8,176.6 1010.1,175.8 1010.5,177.0 1010.8,172.5 1011.2,177.5 1011.5,175.3 1011.9,178.1 1012.2,177.1 1012.5,174.4 1012.9,174.3 1013.2,175.1 1013.6,175.9 1013.9,173.5 1014.3,174.2 1014.6,177.1 1015.0,175.8 1015.3,174.2 1015.7,175.3 1016.0,176.2 1016.4,172.8 1016.7,172.9 1017.0,174.5 1017.4,174.3 1017.7,175.4 1018.1,173.2 1018.4,173.4 1018.8,172.4 1019.1,171.7 1019.5,171.3 1019.8,176.2 1020.2,173.3 1020.5,175.0 1020.8,173.0 1021.2,177.5 1021.5,175.2 1021.9,174.8 1022.2,176.2 1022.6,174.8 1022.9,174.0 1023.3,177.2 1023.6,175.1 1024.0,174.9 1024.3,175.2 1024.6,178.4 1025.0,176.6 1025.3,177.5 1025.7,175.1 1026.0,178.2 1026.4,176.9 1026.7,175.7 1027.1,173.8 1027.4,176.4 1027.8,176.0 1028.1,179.6 1028.4,176.1 1028.8,175.6 1029.1,177.3 1029.5,177.7 1029.8,176.5 1030.2,176.2 1030.5,179.2 1030.9,180.1 1031.2,177.1 1031.6,178.4 1031.9,178.3 1032.2,177.0 1032.6,177.6 1032.9,179.5 1033.3,179.0 1033.6,179.8 1034.0,180.1 1034.3,180.0 1034.7,176.1 1035.0,180.1 1035.4,179.8 1035.7,175.4 1036.0,177.1 1036.4,178.5 1036.7,179.3 1037.1,182.3 1037.4,178.1 1037.8,183.2 1038.1,177.5 1038.5,180.3 1038.8,175.6 1039.2,177.4 1039.5,175.8 1039.8,178.3 1040.2,178.9 1040.5,178.3 1040.9,178.0 1041.2,181.4 1041.6,180.3 1041.9,176.8 1042.3,178.7 1042.6,178.4 1043.0,179.2 1043.3,178.8 1043.6,179.5 1044.0,180.7 1044.3,179.8 1044.7,178.9 1045.0,179.3 1045.4,179.4 1045.7,178.1 1046.1,175.9 1046.4,178.4 1046.8,177.7 1047.1,180.2 1047.4,176.7 1047.8,179.1 1048.1,179.3 1048.5,177.6 1048.8,180.4 1049.2,178.7 1049.5,179.1 1049.9,179.6 1050.2,178.4 1050.6,179.8 1050.9,181.4 1051.2,179.9 1051.6,174.9 1051.9,180.7 1052.3,182.1 1052.6,176.9 1053.0,180.1 1053.3,177.4 1053.7,179.0 1054.0,179.0 1054.4,179.1 1054.7,179.6 1055.0,180.0 1055.4,180.7 1055.7,179.3 1056.1,177.4 1056.4,178.5 1056.8,179.9 1057.1,175.7 1057.5,180.2 1057.8,180.5 1058.2,177.5 1058.5,177.4 1058.8,179.5 1059.2,179.7 1059.5,177.6 1059.9,180.9 1060.2,178.2 1060.6,178.6 1060.9,180.0 1061.3,180.8 1061.6,181.1 1062.0,178.5 1062.3,179.9 1062.6,180.6 1063.0,180.4 1063.3,179.8 1063.7,179.0 1064.0,179.5 1064.4,179.7 1064.7,176.8 1065.1,180.6 1065.4,179.0 1065.8,180.3 1066.1,179.7 1066.4,180.1 1066.8,180.1 1067.1,178.2 1067.5,180.6 1067.8,180.3 1068.2,179.5 1068.5,178.7 1068.9,180.3 1069.2,179.2 1069.6,179.4 1069.9,178.5 1070.2,177.8 1070.6,181.0 1070.9,178.1 1071.3,175.7 1071.6,178.9 1072.0,179.6 1072.3,179.8 1072.7,180.0 1073.0,178.9 1073.4,176.0 1073.7,176.3 1074.0,178.4 1074.4,179.9 1074.7,179.4 1075.1,177.3 1075.4,179.7 1075.8,179.6 1076.1,176.5 1076.5,178.5 1076.8,178.9 1077.2,178.8 1077.5,177.0 1077.8,176.5 1078.2,177.3 1078.5,178.5 1078.9,179.6 1079.2,175.4 1079.6,177.1 1079.9,177.9 1080.3,175.6 1080.6,180.2 1081.0,177.4 1081.3,175.6 1081.6,171.8 1082.0,175.9 1082.3,173.2 1082.7,173.4 1083.0,171.8 1083.4,171.4 1083.7,171.7 1084.1,169.5 1084.4,169.8 1084.8,165.7 1085.1,169.0 1085.5,162.2 1085.8,157.9 1086.1,151.5 1086.5,149.3 1086.8,142.6 1087.2,142.0 1087.5,136.7 1087.9,129.4 1088.2,127.3 1088.6,119.9 1088.9,118.6 1089.3,118.5 1089.6,115.6 1089.9,117.9 1090.3,116.4 1090.6,120.2 1091.0,122.8 1091.3,129.8 1091.7,134.7 1092.0,139.3 1092.4,145.9 1092.7,148.0 1093.1,153.8 1093.4,157.4 1093.7,158.0 1094.1,162.4 1094.4,168.0 1094.8,170.8 1095.1,170.8 1095.5,172.2 1095.8,171.9 1096.2,173.8 1096.5,178.9 1096.9,172.4 1097.2,174.9 1097.5,175.2 1097.9,178.4 1098.2,177.7 1098.6,173.5 1098.9,177.2 1099.3,176.6 1099.6,178.2 1100.0,176.9 1100.3,179.7 1100.7,178.7 1101.0,179.9 1101.3,179.3 1101.7,177.7 1102.0,178.4 1102.4,179.8 1102.7,178.2 1103.1,178.5 1103.4,179.5 1103.8,180.1 1104.1,178.0 1104.5,182.0 1104.8,181.4 1105.1,178.6 1105.5,179.6 1105.8,181.5 1106.2,181.3 1106.5,178.1 1106.9,183.5 1107.2,180.4 1107.6,183.1 1107.9,180.0 1108.3,181.5 1108.6,179.4 1108.9,181.7 1109.3,178.4 1109.6,180.4 1110.0,179.5 1110.3,184.4 1110.7,177.8 1111.0,181.6 1111.4,180.6 1111.7,179.3 1112.1,180.5 1112.4,178.3 1112.7,180.3 1113.1,180.1 1113.4,180.2 1113.8,182.1 1114.1,179.5 1114.5,182.4 1114.8,180.1 1115.2,180.7 1115.5,180.1 1115.9,180.9 1116.2,179.2 1116.5,180.9 1116.9,180.8 1117.2,181.4 1117.6,185.2 1117.9,179.4 1118.3,181.9 1118.6,180.1 1119.0,182.1 1119.3,182.2 1119.7,181.6 1120.0,184.5 1120.3,182.9 1120.7,182.8 1121.0,182.9 1121.4,180.1 1121.7,180.1 1122.1,181.1 1122.4,181.9 1122.8,181.6 1123.1,183.9 1123.5,182.9 1123.8,183.6 1124.1,182.9 1124.5,182.4 1124.8,181.3 1125.2,182.4 1125.5,181.2 1125.9,180.9 1126.2,180.2 1126.6,184.0 1126.9,181.6 1127.3,180.7 1127.6,182.2 1127.9,182.7 1128.3,180.5 1128.6,184.1 1129.0,178.9 1129.3,181.9 1129.7,181.8 1130.0,182.2 1130.4,181.0 1130.7,178.7 1131.1,183.2 1131.4,183.8 1131.7,180.4 1132.1,183.2 1132.4,182.0 1132.8,184.3 1133.1,182.7 1133.5,181.4 1133.8,184.9 1134.2,183.1 1134.5,180.0 1134.9,182.6 1135.2,182.4 1135.5,184.9 1135.9,180.5 1136.2,182.1 1136.6,180.1 1136.9,184.9 1137.3,181.7 1137.6,180.3 1138.0,184.1 1138.3,182.6 1138.7,182.1 1139.0,180.0 1139.3,182.8 1139.7,180.6 1140.0,182.1 1140.4,183.6 1140.7,180.5 1141.1,180.5 1141.4,182.8 1141.8,184.8 1142.1,183.3 1142.5,184.9 1142.8,183.4 1143.1,181.7 1143.5,182.6 1143.8,180.0 1144.2,180.8 1144.5,181.5 1144.9,186.0 1145.2,181.0 1145.6,184.1 1145.9,181.9 1146.3,181.7 1146.6,182.0 1146.9,183.2 1147.3,181.4 1147.6,186.0 1148.0,181.6 1148.3,182.0 1148.7,182.8 1149.0,181.9 1149.4,183.5 1149.7,182.9 1150.1,184.7 1150.4,177.9 1150.7,184.1 1151.1,182.1 1151.4,184.4 1151.8,180.9 1152.1,187.3 1152.5,181.8 1152.8,182.8 1153.2,181.7 1153.5,182.8 1153.9,183.8 1154.2,183.6 1154.6,183.7 1154.9,179.9 1155.2,184.4 1155.6,182.0 1155.9,181.5 1156.3,182.7 1156.6,183.4 1157.0,185.0 1157.3,182.9 1157.7,182.6 1158.0,182.8 1158.4,184.1 1158.7,181.1 1159.0,183.6 1159.4,182.0 1159.7,182.9 1160.1,181.6 1160.4,183.4 1160.8,184.3 1161.1,184.9 1161.5,181.4 1161.8,182.5 1162.2,181.2 1162.5,185.6 1162.8,183.5 1163.2,182.1 1163.5,180.3 1163.9,180.9 1164.2,182.4 1164.6,183.2 1164.9,183.5 1165.3,182.5 1165.6,181.6 1166.0,183.3 1166.3,184.5 1166.6,185.3 1167.0,182.7 1167.3,181.3 1167.7,184.9 1168.0,184.8 1168.4,185.1 1168.7,182.8 1169.1,183.7 1169.4,183.6 1169.8,181.6 1170.1,182.4 1170.4,183.3 1170.8,182.5 1171.1,183.2 1171.5,180.8 1171.8,182.5 1172.2,183.6 1172.5,180.7 1172.9,184.3 1173.2,183.7 1173.6,183.5 1173.9,183.9 1174.2,182.6 1174.6,186.6 1174.9,181.0 1175.3,184.8 1175.6,183.3 1176.0,181.4 1176.3,188.1 1176.7,183.8 1177.0,181.1 1177.4,186.4 1177.7,184.4 1178.0,182.6 1178.4,182.1 1178.7,182.0 1179.1,182.3 1179.4,182.2 1179.8,181.9 1180.1,183.9 1180.5,181.7 1180.8,185.1 1181.2,181.7 1181.5,183.8 1181.8,182.8 1182.2,183.2 1182.5,181.4 1182.9,182.6 1183.2,184.4 1183.6,184.3 1183.9,184.4 1184.3,182.5 1184.6,181.3 1185.0,183.7 1185.3,183.6 1185.6,184.2 1186.0,183.3 1186.3,183.0 1186.7,184.3 1187.0,183.5 1187.4,182.9 1187.7,183.2 1188.1,183.5 1188.4,181.0 1188.8,181.3 1189.1,182.9 1189.4,181.5 1189.8,183.4 1190.1,183.8 1190.5,183.3 1190.8,184.5 1191.2,182.9 1191.5,180.7 1191.9,181.7 1192.2,185.4 1192.6,181.9 1192.9,184.5 1193.2,182.5 1193.6,184.3 1193.9,184.0 1194.3,182.8 1194.6,183.3 1195.0,183.9 1195.3,180.2 1195.7,183.0 1196.0,183.4 1196.4,182.0 1196.7,182.9 1197.0,181.6 1197.4,183.1 1197.7,184.4 1198.1,182.4 1198.4,184.8 1198.8,184.3 1199.1,182.0 1199.5,184.1 1199.8,183.1 1200.2,182.9 1200.5,183.9 1200.8,181.8 1201.2,182.4 1201.5,181.5 1201.9,183.6 1202.2,180.0 1202.6,183.7 1202.9,181.8 1203.3,183.0 1203.6,185.5 1204.0,180.8 1204.3,184.8 1204.6,183.9 1205.0,181.1 1205.3,182.0 1205.7,183.2 1206.0,180.0 1206.4,184.2 1206.7,180.7 1207.1,182.0 1207.4,182.4 1207.8,182.3 1208.1,182.6 1208.4,183.8 1208.8,181.5 1209.1,182.9 1209.5,183.6 1209.8,182.7 1210.2,181.7 1210.5,182.9 1210.9,185.1 1211.2,183.0 1211.6,183.3 1211.9,183.0 1212.2,182.4 1212.6,183.6 1212.9,182.7 1213.3,183.6 1213.6,183.2 1214.0,180.8 1214.3,183.2 1214.7,183.8 1215.0,182.0 1215.4,186.7 1215.7,182.1 1216.0,184.5 1216.4,184.3 1216.7,184.6 1217.1,180.7 1217.4,183.5 1217.8,183.1 1218.1,184.0 1218.5,183.8 1218.8,182.8 1219.2,184.0 1219.5,181.6 1219.8,182.6 1220.2,181.6 1220.5,182.9 1220.9,181.4 1221.2,181.7 1221.6,182.4 1221.9,183.5 1222.3,182.9 1222.6,178.6 1223.0,183.5 1223.3,183.0 1223.7,180.3 1224.0,183.5 1224.3,182.9 1224.7,183.4 1225.0,183.6 1225.4,181.1 1225.7,183.7 1226.1,184.7 1226.4,181.1 1226.8,184.2 1227.1,179.5 1227.5,181.6 1227.8,183.8 1228.1,182.6 1228.5,185.8 1228.8,182.8 1229.2,181.8 1229.5,185.1 1229.9,182.5 1230.2,183.3 1230.6,184.0 1230.9,184.2 1231.3,184.8 1231.6,183.8 1231.9,184.0 1232.3,181.8 1232.6,182.7 1233.0,182.4 1233.3,182.7 1233.7,182.6 1234.0,181.4 1234.4,182.1 1234.7,181.6 1235.1,182.8 1235.4,185.8 1235.7,181.2 1236.1,184.5 1236.4,183.2 1236.8,181.2 1237.1,182.7 1237.5,181.7 1237.8,182.8 1238.2,183.4 1238.5,185.5 1238.9,182.2 1239.2,182.7 1239.5,185.8 1239.9,184.3 1240.2,184.1 1240.6,187.3 1240.9,182.3 1241.3,183.7 1241.6,182.9 1242.0,183.2 1242.3,185.2 1242.7,183.5 1243.0,184.5 1243.3,183.2 1243.7,183.4 1244.0,186.1 1244.4,184.3 1244.7,184.7 1245.1,181.7 1245.4,182.5 1245.8,183.2 1246.1,183.9 1246.5,183.8 1246.8,182.8 1247.1,182.8 1247.5,184.5 1247.8,183.9 1248.2,184.9 1248.5,182.3 1248.9,183.7 1249.2,185.8 1249.6,186.2 1249.9,181.9 1250.3,183.0 1250.6,183.5 1250.9,182.2 1251.3,182.9 1251.6,182.9 1252.0,182.8 1252.3,184.1 1252.7,184.4 1253.0,183.0 1253.4,182.7 1253.7,183.3 1254.1,184.8 1254.4,181.8 1254.7,182.9 1255.1,182.9 1255.4,183.9 1255.8,184.5 1256.1,185.1 1256.5,186.6 1256.8,185.2 1257.2,183.7 1257.5,186.5 1257.9,183.0 1258.2,185.7 1258.5,183.4 1258.9,181.1 1259.2,183.1 1259.6,184.3 1259.9,185.3 1260.3,182.7 1260.6,185.8 1261.0,184.3 1261.3,185.3 1261.7,184.5 1262.0,184.2 1262.3,184.9 1262.7,184.1 1263.0,185.1 1263.4,185.7 1263.7,187.2 1264.1,186.3 1264.4,184.1 1264.8,182.8 1265.1,184.3 1265.5,185.4 1265.8,183.8 1266.1,182.7 1266.5,182.6 1266.8,182.9 1267.2,183.0 1267.5,183.3 1267.9,183.8 1268.2,184.8 1268.6,185.3 1268.9,186.2 1269.3,185.1 1269.6,187.0 1269.9,187.0 1270.3,186.6 1270.6,184.9 1271.0,185.2 1271.3,185.9 1271.7,182.9 1272.0,184.7 1272.4,184.8 1272.7,185.2 1273.1,185.2 1273.4,185.5 1273.7,185.1 1274.1,186.7 1274.4,184.0 1274.8,181.1 1275.1,185.3 1275.5,184.6 1275.8,184.0 1276.2,184.4 1276.5,184.1 1276.9,182.4 1277.2,184.9 1277.5,184.8 1277.9,184.8 1278.2,185.4 1278.6,183.9 1278.9,183.9 1279.3,186.7 1279.6,183.7 1280.0,186.9 1280.3,184.6 1280.7,182.2 1281.0,186.6 1281.3,187.8 1281.7,184.7 1282.0,186.1 1282.4,181.1 1282.7,182.9 1283.1,185.6 1283.4,185.4 1283.8,183.2 1284.1,184.4 1284.5,182.8 1284.8,187.1 1285.1,184.9 1285.5,185.6 1285.8,185.6 1286.2,187.5 1286.5,184.8 1286.9,186.6 1287.2,185.5 1287.6,184.7 1287.9,186.3 1288.3,185.7 1288.6,180.9 1288.9,184.7 1289.3,185.2 1289.6,184.5 1290.0,183.2 1290.3,183.7 1290.7,184.4 1291.0,186.6 1291.4,184.6 1291.7,187.5 1292.1,183.9 1292.4,185.2 1292.8,185.0 1293.1,184.8 1293.4,186.1 1293.8,183.6 1294.1,183.9 1294.5,184.8 1294.8,182.4 1295.2,183.4 1295.5,186.2 1295.9,184.9 1296.2,185.5 1296.6,184.6 1296.9,185.7 1297.2,184.1 1297.6,183.6 1297.9,184.2 1298.3,183.4 1298.6,186.5 1299.0,184.8 1299.3,184.4 1299.7,184.8 1300.0,183.1 1300.4,185.0 1300.7,185.1 1301.0,186.3 1301.4,184.5 1301.7,186.5 1302.1,186.1 1302.4,182.4 1302.8,184.6 1303.1,185.7 1303.5,184.0 1303.8,185.6 1304.2,184.0 1304.5,186.1 1304.8,186.8 1305.2,187.2 1305.5,184.3 1305.9,186.7 1306.2,184.5 1306.6,186.4 1306.9,185.4 1307.3,182.1 1307.6,183.4 1308.0,184.2 1308.3,187.0 1308.6,185.6 1309.0,188.2 1309.3,182.7 1309.7,182.9 1310.0,185.0 1310.4,187.4 1310.7,183.3 1311.1,185.9 1311.4,185.2 1311.8,184.0 1312.1,183.5 1312.4,183.9 1312.8,183.8 1313.1,185.4 1313.5,183.9 1313.8,186.4 1314.2,185.8 1314.5,185.3 1314.9,185.4 1315.2,187.2 1315.6,184.2 1315.9,185.9 1316.2,185.0 1316.6,186.3 1316.9,186.5 1317.3,185.1 1317.6,186.3 1318.0,185.0 1318.3,184.5 1318.7,184.4 1319.0,186.6 1319.4,186.7 1319.7,184.7 1320.0,184.1 1320.4,185.6 1320.7,186.0 1321.1,184.8 1321.4,186.1 1321.8,187.4 1322.1,183.5 1322.5,183.6 1322.8,186.3 1323.2,187.3 1323.5,185.1 1323.8,185.6 1324.2,187.2 1324.5,185.2 1324.9,184.8 1325.2,183.3 1325.6,185.5 1325.9,186.0 1326.3,185.4 1326.6,186.9 1327.0,186.4 1327.3,184.9 1327.6,185.4 1328.0,185.1 1328.3,182.4 1328.7,186.3 1329.0,184.1 1329.4,187.4 1329.7,185.7 1330.1,186.8 1330.4,186.0 1330.8,186.2 1331.1,185.2 1331.4,183.3 1331.8,184.9 1332.1,184.7 1332.5,185.1 1332.8,186.2 1333.2,186.1 1333.5,183.6 1333.9,183.9 1334.2,185.6 1334.6,185.3 1334.9,186.0 1335.2,186.2 1335.6,184.3 1335.9,185.0 1336.3,188.5 1336.6,185.0 1337.0,186.6 1337.3,185.1 1337.7,186.1 1338.0,187.1 1338.4,184.6 1338.7,187.3 1339.0,185.8 1339.4,185.9 1339.7,187.5 1340.1,185.2 1340.4,187.2 1340.8,184.6 1341.1,184.6 1341.5,186.2 1341.8,182.8 1342.2,184.9 1342.5,188.9 1342.8,185.8 1343.2,184.5 1343.5,185.3 1343.9,188.2 1344.2,185.2 1344.6,185.0 1344.9,187.1 1345.3,187.8 1345.6,184.8 1346.0,186.1 1346.3,186.3 1346.6,185.8 1347.0,184.8 1347.3,183.8 1347.7,184.7 1348.0,185.1 1348.4,186.3 1348.7,186.2 1349.1,188.3 1349.4,183.7 1349.8,187.4 1350.1,186.7 1350.4,185.9 1350.8,185.3 1351.1,185.9 1351.5,183.7 1351.8,186.6 1352.2,187.2 1352.5,187.3 1352.9,188.0 1353.2,185.7 1353.6,186.7 1353.9,184.4 1354.2,186.6 1354.6,185.0 1354.9,187.2 1355.3,184.3 1355.6,185.8 1356.0,185.1 1356.3,188.0 1356.7,183.6 1357.0,186.3 1357.4,185.9 1357.7,186.8 1358.0,186.9 1358.4,185.4 1358.7,186.2 1359.1,188.2 1359.4,186.0 1359.8,185.1 1360.1,188.3 1360.5,186.2 1360.8,186.6 1361.2,184.4 1361.5,187.8 1361.9,184.7 1362.2,188.6 1362.5,185.3 1362.9,184.6 1363.2,186.3 1363.6,188.2 1363.9,183.5 1364.3,188.1 1364.6,185.9 1365.0,185.9 1365.3,184.5 1365.7,183.2 1366.0,184.3 1366.3,184.9 1366.7,185.1 1367.0,185.6 1367.4,187.6 1367.7,186.1 1368.1,186.0 1368.4,186.7 1368.8,185.5 1369.1,185.6 1369.5,187.0 1369.8,185.4 1370.1,187.7 1370.5,185.8 1370.8,185.7 1371.2,184.6 1371.5,183.8 1371.9,188.2 1372.2,184.1 1372.6,186.7 1372.9,186.9 1373.3,184.6 1373.6,186.0 1373.9,185.5 1374.3,187.0 1374.6,186.0 1375.0,188.2 1375.3,185.5 1375.7,188.5 1376.0,186.2 1376.4,184.9 1376.7,187.2 1377.1,185.3 1377.4,185.8 1377.7,185.6 1378.1,186.1 1378.4,187.3 1378.8,187.2 1379.1,188.7 1379.5,185.4 1379.8,185.4 1380.2,187.2 1380.5,184.8 1380.9,185.7 1381.2,187.6 1381.5,186.5 1381.9,186.9 1382.2,188.0 1382.6,185.9 1382.9,187.4 1383.3,185.0 1383.6,186.5 1384.0,186.4 1384.3,187.4 1384.7,183.7 1385.0,183.6 1385.3,186.9 1385.7,189.8 1386.0,188.0 1386.4,186.4 1386.7,188.1 1387.1,186.4 1387.4,186.2 1387.8,187.2 1388.1,185.8 1388.5,186.3 1388.8,187.8 1389.1,187.1 1389.5,186.4 1389.8,185.7 1390.2,186.0 1390.5,185.8 1390.9,186.5 1391.2,186.8 1391.6,187.3 1391.9,187.0 1392.3,187.7 1392.6,187.8 1392.9,185.2 1393.3,186.7 1393.6,185.8 1394.0,186.1 1394.3,187.6 1394.7,188.6 1395.0,187.4 1395.4,188.4 1395.7,186.5 1396.1,185.9 1396.4,188.5" fill="none" stroke="#ff00ff" stroke-width="1.4" stroke-linejoin="round"/>
<line x1="79.5" y1="2.5" x2="79.5" y2="751" stroke="#333" stroke-width="1.15"/>
<line x1="66" y1="750.6" x2="1412" y2="750.6" stroke="#777" stroke-width="1.3"/>
<path d="M74,739.1H79.5 M74,728.0H79.5 M74,716.9H79.5 M74,705.8H79.5 M71,694.8H79.5 M74,683.7H79.5 M74,672.6H79.5 M74,661.5H79.5 M74,650.4H79.5 M66,639.3H79.5 M74,628.2H79.5 M74,617.1H79.5 M74,606.0H79.5 M74,594.9H79.5 M71,583.9H79.5 M74,572.8H79.5 M74,561.7H79.5 M74,550.6H79.5 M74,539.5H79.5 M66,528.4H79.5 M74,517.3H79.5 M74,506.2H79.5 M74,495.1H79.5 M74,484.0H79.5 M71,473.0H79.5 M74,461.9H79.5 M74,450.8H79.5 M74,439.7H79.5 M74,428.6H79.5 M66,417.5H79.5 M74,406.4H79.5 M74,395.3H79.5 M74,384.2H79.5 M74,373.1H79.5 M71,362.1H79.5 M74,351.0H79.5 M74,339.9H79.5 M74,328.8H79.5 M74,317.7H79.5 M66,306.6H79.5 M74,295.5H79.5 M74,284.4H79.5 M74,273.3H79.5 M74,262.2H79.5 M71,251.2H79.5 M74,240.1H79.5 M74,229.0H79.5 M74,217.9H79.5 M74,206.8H79.5 M66,195.7H79.5 M74,184.6H79.5 M74,173.5H79.5 M74,162.4H79.5 M74,151.3H79.5 M71,140.2H79.5 M74,129.2H79.5 M74,118.1H79.5 M74,107.0H79.5 M74,95.9H79.5 M66,84.8H79.5 M74,73.7H79.5 M74,62.6H79.5 M74,51.5H79.5 M74,40.4H79.5 M71,29.4H79.5 M74,18.3H79.5 M74,7.2H79.5" stroke="#000" stroke-width="1.3" fill="none"/>
<path d="M83.5,750.5V755.5 M118.1,750.5V755.5 M152.6,750.5V755.5 M187.1,750.5V759 M221.7,750.5V755.5 M256.2,750.5V755.5 M290.8,750.5V755.5 M325.3,750.5V755.5 M359.9,750.5V763.5 M394.4,750.5V755.5 M429.0,750.5V755.5 M463.5,750.5V755.5 M498.1,750.5V755.5 M532.6,750.5V759 M567.2,750.5V755.5 M601.8,750.5V755.5 M636.3,750.5V755.5 M670.8,750.5V755.5 M705.4,750.5V763.5 M739.9,750.5V755.5 M774.5,750.5V755.5 M809.0,750.5V755.5 M843.6,750.5V755.5 M878.1,750.5V759 M912.7,750.5V755.5 M947.2,750.5V755.5 M981.8,750.5V755.5 M1016.3,750.5V755.5 M1050.9,750.5V763.5 M1085.4,750.5V755.5 M1120.0,750.5V755.5 M1154.5,750.5V755.5 M1189.1,750.5V755.5 M1223.6,750.5V759 M1258.2,750.5V755.5 M1292.8,750.5V755.5 M1327.3,750.5V755.5 M1361.8,750.5V755.5 M1396.4,750.5V763.5" stroke="#000" stroke-width="1.3" fill="none"/>
<g font-family="Liberation Sans, sans-serif" font-size="16" fill="#000">
<text x="66.2" y="644.6" text-anchor="end">1,000</text>
<text x="66.2" y="533.7" text-anchor="end">2,000</text>
<text x="66.2" y="422.8" text-anchor="end">3,000</text>
<text x="66.2" y="311.9" text-anchor="end">4,000</text>
<text x="66.2" y="201.0" text-anchor="end">5,000</text>
<text x="66.2" y="90.1" text-anchor="end">6,000</text>
<text x="66.7" y="746.7" text-anchor="end">0</text>
<text x="360.4" y="777.8" text-anchor="middle">10</text>
<text x="705.9" y="777.8" text-anchor="middle">20</text>
<text x="1051.4" y="777.8" text-anchor="middle">30</text>
<text x="1396.9" y="777.8" text-anchor="middle">40</text>
</g>
<text x="704.6" y="829.1" text-anchor="middle" font-family="Liberation Sans, sans-serif" font-size="20">°2θ</text>
<text transform="translate(19,377) rotate(-90)" text-anchor="middle" font-family="Liberation Sans, sans-serif" font-size="20.4">Counts</text>
<g stroke="#0000ff" stroke-width="1.6" fill="none"><path d="M142.8,217.4L170.5,204.5M156.2,204.5H258"/></g>
<text x="160" y="195.1" fill="#0000ff" font-family="Liberation Sans, sans-serif" font-size="27">27.43 Å</text>
<g stroke="#0000ff" stroke-width="1.6" fill="none"><path d="M232.5,272.2L269.2,282M269.2,277V310.5"/></g>
<text x="274" y="303.5" fill="#0000ff" font-family="Liberation Sans, sans-serif" font-size="27">16.89 Å</text>
<g stroke="#000" stroke-width="1.6" fill="none"><path d="M369.9,552.1L414.8,522.5M399.3,522.5H485.7"/></g>
<text x="403" y="513.1" fill="#000" font-family="Liberation Sans, sans-serif" font-size="27">9.96 Å</text>
<g stroke="#000" stroke-width="1.6" fill="none"><path d="M509.8,425.9L537.9,432.8M537.9,424.2V461.8"/></g>
<text x="541" y="451.9" fill="#000" font-family="Liberation Sans, sans-serif" font-size="27">7.18 Å</text>
<g stroke="#00ff00" stroke-width="1.6" fill="none"><path d="M509.3,122.9L533.4,92M514.4,72.1L541.3,98.4"/></g>
<text transform="translate(539.9,91.5) rotate(-45)" fill="#00ff00" font-family="Liberation Sans, sans-serif" font-size="27">7.18 Å</text>
<g stroke="#a81e22" stroke-width="1.6" fill="none"><path d="M750.4,706L773.7,674.9M755.8,654.1L782,680.6"/></g>
<text transform="translate(780.2,674.4) rotate(-45)" fill="#a81e22" font-family="Liberation Sans, sans-serif" font-size="27">4.85 Å</text>
<g stroke="#ff00ff" stroke-width="1.6" fill="none"><path d="M856,167.4L879.5,135.9M861,114.6L887.4,141.4"/></g>
<text transform="translate(886.0,135.4) rotate(-45)" fill="#ff00ff" font-family="Liberation Sans, sans-serif" font-size="27">4.24 Å</text>
<g stroke="#ff00ff" stroke-width="1.6" fill="none"><path d="M1091,125.7L1115.2,93.8M1096.8,73.7L1123.3,100"/></g>
<text transform="translate(1121.7,93.3) rotate(-45)" fill="#ff00ff" font-family="Liberation Sans, sans-serif" font-size="27">3.33 Å</text>
<rect x="1195.5" y="16.5" width="198" height="132.5" fill="#f2f4f8" stroke="#8fa3c4" stroke-width="1"/>
<rect x="1204" y="21.1" width="4.7" height="14.3" fill="#a81e22"/>
<text x="1225" y="30.7" font-family="Liberation Sans, sans-serif" font-size="17.7" fill="#000">S17-05_Ca_EG65</text>
<rect x="1204" y="43.6" width="4.7" height="14.3" fill="#000000"/>
<text x="1225" y="53.2" font-family="Liberation Sans, sans-serif" font-size="17.7" fill="#000">S17-08_Ca_EG65</text>
<rect x="1204" y="66.1" width="4.7" height="14.3" fill="#ff0000"/>
<text x="1225" y="75.7" font-family="Liberation Sans, sans-serif" font-size="17.7" fill="#000">S17-11_Ca_EG65</text>
<rect x="1204" y="88.6" width="4.7" height="14.3" fill="#0000ff"/>
<text x="1225" y="98.2" font-family="Liberation Sans, sans-serif" font-size="17.7" fill="#000">S17-16_Ca_EG65</text>
<rect x="1204" y="111.1" width="4.7" height="14.3" fill="#00ff00"/>
<text x="1225" y="120.7" font-family="Liberation Sans, sans-serif" font-size="17.7" fill="#000">S17-21_Ca_EG65</text>
<rect x="1204" y="133.6" width="4.7" height="14.3" fill="#ff00ff"/>
<text x="1225" y="143.2" font-family="Liberation Sans, sans-serif" font-size="17.7" fill="#000">S17-25_Ca_EG65</text>
</svg></body></html>
